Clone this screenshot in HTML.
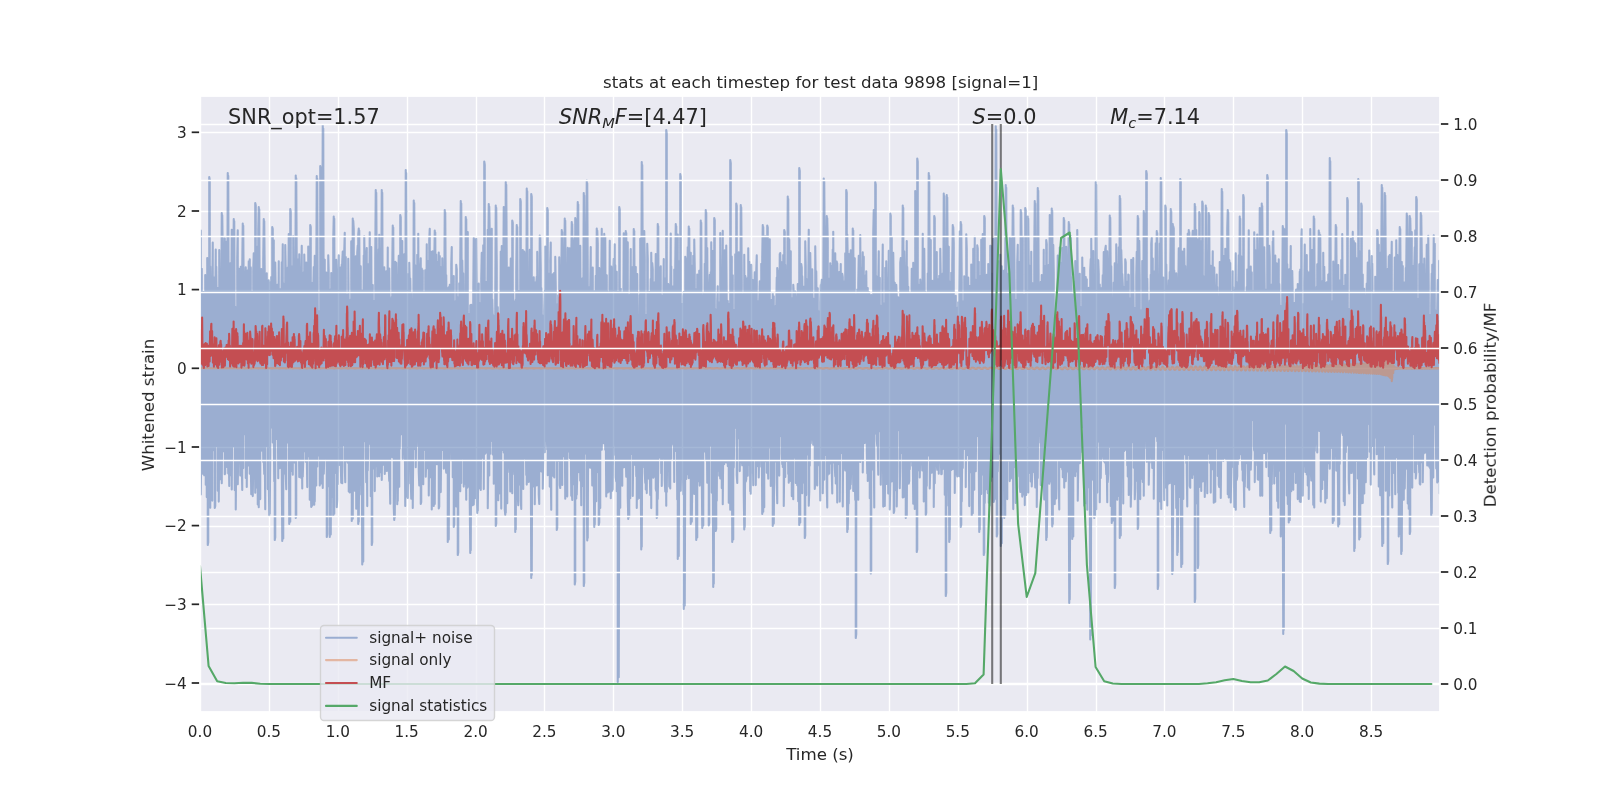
<!DOCTYPE html>
<html><head><meta charset="utf-8"><title>stats</title>
<style>html,body{margin:0;padding:0;background:#fff}svg{display:block}text{font-family:'DejaVu Sans', 'Liberation Sans', sans-serif;fill:#262626}</style></head>
<body>
<svg width="1600" height="800" viewBox="0 0 1600 800">
<defs><filter id="nl" x="-5%" y="-5%" width="110%" height="110%" color-interpolation-filters="sRGB"><feOffset dx="0" dy="0"/></filter><clipPath id="ax"><rect x="200" y="96" width="1240" height="616"/></clipPath></defs>
<rect width="1600" height="800" fill="#fff"/>
<rect x="200" y="96" width="1240" height="616" fill="#eaeaf2"/>
<g stroke="#fff" stroke-width="1.39" clip-path="url(#ax)">
<line x1="200.5" y1="96" x2="200.5" y2="712"/>
<line x1="269.5" y1="96" x2="269.5" y2="712"/>
<line x1="338.5" y1="96" x2="338.5" y2="712"/>
<line x1="407.5" y1="96" x2="407.5" y2="712"/>
<line x1="476.5" y1="96" x2="476.5" y2="712"/>
<line x1="544.5" y1="96" x2="544.5" y2="712"/>
<line x1="613.5" y1="96" x2="613.5" y2="712"/>
<line x1="682.5" y1="96" x2="682.5" y2="712"/>
<line x1="751.5" y1="96" x2="751.5" y2="712"/>
<line x1="820.5" y1="96" x2="820.5" y2="712"/>
<line x1="889.5" y1="96" x2="889.5" y2="712"/>
<line x1="958.5" y1="96" x2="958.5" y2="712"/>
<line x1="1027.5" y1="96" x2="1027.5" y2="712"/>
<line x1="1096.5" y1="96" x2="1096.5" y2="712"/>
<line x1="1164.5" y1="96" x2="1164.5" y2="712"/>
<line x1="1233.5" y1="96" x2="1233.5" y2="712"/>
<line x1="1302.5" y1="96" x2="1302.5" y2="712"/>
<line x1="1371.5" y1="96" x2="1371.5" y2="712"/>
<line x1="200" y1="683.5" x2="1440" y2="683.5"/>
<line x1="200" y1="604.5" x2="1440" y2="604.5"/>
<line x1="200" y1="526.5" x2="1440" y2="526.5"/>
<line x1="200" y1="447.5" x2="1440" y2="447.5"/>
<line x1="200" y1="368.5" x2="1440" y2="368.5"/>
<line x1="200" y1="290.5" x2="1440" y2="290.5"/>
<line x1="200" y1="211.5" x2="1440" y2="211.5"/>
<line x1="200" y1="132.5" x2="1440" y2="132.5"/>
</g>
<g clip-path="url(#ax)" fill="none" stroke-linejoin="round" stroke-linecap="round" stroke-width="2.08">
<path d="M200.25 462L200.25 297L200.75 230.6L200.75 494.4L201.25 451.7L201.25 288.7L201.75 268.8L201.75 474.1L202.25 461.3L202.25 323.7L202.75 296.7L202.75 450L203.25 442.6L203.25 291.9L203.75 336.7L203.75 472.9L204.25 475.3L204.25 332.4L204.75 334.7L204.75 459.8L205.25 424.7L205.25 275.1L205.75 294.7L205.75 484.8L206.25 396.7L206.25 311.8L206.75 309.3L206.75 497.1L207.25 488.3L207.25 258L207.75 285.4L207.75 545L208.25 542.3L208.25 303.5L208.75 275.5L208.75 495.8L209.25 469L209.25 177L209.75 179.9L209.75 461.7L210.25 507.8L210.25 266.5L210.75 351.6L210.75 450L211.25 418.8L211.25 305.8L211.75 288.8L211.75 377.7L212.25 500.6L212.25 290.5L212.75 242.6L212.75 445.7L213.25 433.8L213.25 300L213.75 277.4L213.75 419.5L214.25 450.6L214.25 279.2L214.75 314L214.75 508L215.25 505.9L215.25 302.3L215.75 249.6L215.75 446.7L216.25 399.7L216.25 266.8L216.75 306.1L216.75 432.5L217.25 443.2L217.25 343.2L217.75 328.2L217.75 490.8L218.25 409.3L218.25 287.8L218.75 315.3L218.75 501.6L219.25 440.3L219.25 250.1L219.75 304.4L219.75 475.3L220.25 460.3L220.25 352.8L220.75 291.4L220.75 479.3L221.25 474.8L221.25 330.5L221.75 213L221.75 483.3L222.25 413.3L222.25 215.3L222.75 253.4L222.75 430.2L223.25 451.2L223.25 258.8L223.75 257.7L223.75 425.4L224.25 432.1L224.25 302.8L224.75 238.2L224.75 474.3L225.25 473.3L225.25 314.7L225.75 333.1L225.75 465.9L226.25 467L226.25 267.4L226.75 241.5L226.75 388.6L227.25 431.7L227.25 322.7L227.75 173L227.75 442.4L228.25 473.4L228.25 175.9L228.75 342.7L228.75 442.9L229.25 485.9L229.25 282.1L229.75 291.6L229.75 460L230.25 446.4L230.25 263.3L230.75 280.1L230.75 424.7L231.25 475.7L231.25 306.6L231.75 229.7L231.75 489.4L232.25 398.2L232.25 303.5L232.75 285.9L232.75 446.6L233.25 432.4L233.25 289.6L233.75 219L233.75 431.7L234.25 393.7L234.25 221.2L234.75 342.4L234.75 490.1L235.25 415.4L235.25 306.9L235.75 323.1L235.75 509.5L236.25 451.1L236.25 375.7L236.75 314.1L236.75 481.3L237.25 482.2L237.25 257.7L237.75 230.3L237.75 484.3L238.25 452.5L238.25 277.9L238.75 268.8L238.75 421.1L239.25 462.3L239.25 309.8L239.75 298.7L239.75 365.3L240.25 475.5L240.25 277.9L240.75 266.7L240.75 439.9L241.25 395.1L241.25 272.3L241.75 298.3L241.75 462.5L242.25 490L242.25 265.7L242.75 223.5L242.75 415.9L243.25 468.1L243.25 225.7L243.75 300.9L243.75 403.9L244.25 434.2L244.25 306.7L244.75 286.1L244.75 409.2L245.25 385.1L245.25 287.1L245.75 267.4L245.75 478L246.25 438.7L246.25 312L246.75 335.2L246.75 486.9L247.25 428.4L247.25 277.5L247.75 270.3L247.75 437.8L248.25 465.4L248.25 301.7L248.75 261.2L248.75 442.3L249.25 425.5L249.25 325.1L249.75 259.2L249.75 473.8L250.25 429.2L250.25 307.9L250.75 267.4L250.75 458.9L251.25 494.3L251.25 291.6L251.75 298.4L251.75 430.1L252.25 418.1L252.25 349.8L252.75 316L252.75 496.1L253.25 464.4L253.25 270.1L253.75 253.4L253.75 380.2L254.25 395.7L254.25 339.5L254.75 301.8L254.75 439.4L255.25 492.7L255.25 203L255.75 205.5L255.75 458.9L256.25 401.7L256.25 271.9L256.75 300.4L256.75 445.1L257.25 487.9L257.25 331.4L257.75 246.6L257.75 504.5L258.25 463.6L258.25 229.8L258.75 207L258.75 507.2L259.25 417.2L259.25 209.4L259.75 317.3L259.75 388.8L260.25 499.1L260.25 299.6L260.75 339.8L260.75 422.5L261.25 450.7L261.25 269.1L261.75 312.2L261.75 428.2L262.25 432.7L262.25 369.2L262.75 283.9L262.75 412.2L263.25 462L263.25 259.2L263.75 219L263.75 456.9L264.25 474L264.25 221.2L264.75 277.7L264.75 451.6L265.25 509.3L265.25 296L265.75 320.3L265.75 379.8L266.25 428.5L266.25 296.9L266.75 273.3L266.75 379.7L267.25 446.8L267.25 300.7L267.75 298.7L267.75 489.1L268.25 390.9L268.25 285.8L268.75 280.2L268.75 475.6L269.25 516L269.25 368.7L269.75 326.5L269.75 513.8L270.25 451.7L270.25 301.9L270.75 282.1L270.75 427.9L271.25 399L271.25 277L271.75 312.2L271.75 424.2L272.25 411.9L272.25 227L272.75 229.1L272.75 442.5L273.25 432.4L273.25 319.8L273.75 240.3L273.75 431.4L274.25 481.3L274.25 265L274.75 297.3L274.75 540L275.25 537.4L275.25 262.5L275.75 294.9L275.75 416.4L276.25 367.4L276.25 296.9L276.75 324.2L276.75 438.9L277.25 416.1L277.25 284.8L277.75 291.5L277.75 406.9L278.25 478.3L278.25 342.8L278.75 261.3L278.75 450L279.25 430.2L279.25 313.3L279.75 289.1L279.75 468.3L280.25 442.9L280.25 295.3L280.75 311.8L280.75 431.4L281.25 416L281.25 316.4L281.75 262.3L281.75 466.2L282.25 541L282.25 293.5L282.75 244.3L282.75 494.6L283.25 538.4L283.25 283.2L283.75 310L283.75 416.4L284.25 382.8L284.25 313.3L284.75 325.5L284.75 442.4L285.25 473.9L285.25 245.1L285.75 270.4L285.75 474.7L286.25 489.3L286.25 358.2L286.75 305.1L286.75 417.5L287.25 431.5L287.25 273.3L287.75 267.6L287.75 442.5L288.25 425.8L288.25 295.7L288.75 234L288.75 407.6L289.25 524L289.25 328.3L289.75 262.4L289.75 472.1L290.25 521.7L290.25 209L290.75 211.4L290.75 413.3L291.25 424.5L291.25 290.6L291.75 266.2L291.75 467L292.25 471.5L292.25 315.6L292.75 271L292.75 474.8L293.25 394L293.25 236.4L293.75 306.2L293.75 396.4L294.25 403.8L294.25 337.9L294.75 321.8L294.75 462.5L295.25 462.8L295.25 347.3L295.75 175.5L295.75 518L296.25 515.8L296.25 178.4L296.75 265.8L296.75 386.7L297.25 440.6L297.25 289.4L297.75 268.3L297.75 459.6L298.25 453.7L298.25 259.3L298.75 327L298.75 427.8L299.25 477.1L299.25 254.3L299.75 293.4L299.75 459L300.25 436.1L300.25 322.1L300.75 308.3L300.75 454.5L301.25 477.9L301.25 290.3L301.75 245.7L301.75 440.7L302.25 488.5L302.25 297L302.75 327.5L302.75 476.8L303.25 459.6L303.25 316.1L303.75 272.4L303.75 451.8L304.25 399.5L304.25 254.6L304.75 279.9L304.75 421.7L305.25 440.7L305.25 281.1L305.75 341.8L305.75 461.8L306.25 453.2L306.25 262.5L306.75 315.4L306.75 451L307.25 487.1L307.25 300L307.75 321.3L307.75 456.7L308.25 433L308.25 246.5L308.75 250.5L308.75 440.4L309.25 448.8L309.25 334.5L309.75 296.9L309.75 499.8L310.25 466L310.25 225L310.75 227.1L310.75 478.8L311.25 507L311.25 294L311.75 284.8L311.75 486.6L312.25 505.6L312.25 283.1L312.75 292.8L312.75 396.7L313.25 449.6L313.25 289.3L313.75 267L313.75 442.1L314.25 504.7L314.25 331L314.75 255.8L314.75 501.4L315.25 455.6L315.25 290.2L315.75 301.3L315.75 469.8L316.25 485.5L316.25 291.3L316.75 176L316.75 460.2L317.25 466.5L317.25 178.9L317.75 306.7L317.75 409.1L318.25 455.5L318.25 339.2L318.75 346L318.75 416.7L319.25 432L319.25 311.1L319.75 324.4L319.75 485.5L320.25 449.5L320.25 166L320.75 169L320.75 483.7L321.25 442.1L321.25 356.1L321.75 372.9L321.75 458.3L322.25 384.9L322.25 252.5L322.75 125L322.75 487.9L323.25 399.8L323.25 128.6L323.75 347.4L323.75 473.8L324.25 460L324.25 266.8L324.75 259.7L324.75 456.5L325.25 387.4L325.25 291.2L325.75 325.3L325.75 437.1L326.25 459.3L326.25 272.5L326.75 307.3L326.75 537L327.25 534.5L327.25 301.2L327.75 290.7L327.75 404.6L328.25 486.2L328.25 255.2L328.75 273.2L328.75 433.7L329.25 450L329.25 358.4L329.75 303.7L329.75 537L330.25 465.4L330.25 304L330.75 289.2L330.75 534.5L331.25 435.5L331.25 273.1L331.75 319.9L331.75 481.6L332.25 496.8L332.25 310.5L332.75 307.7L332.75 417.4L333.25 516L333.25 239.6L333.75 216.5L333.75 480.8L334.25 513.8L334.25 218.8L334.75 353.7L334.75 473.3L335.25 396.9L335.25 324.9L335.75 271.7L335.75 465L336.25 421.3L336.25 259.9L336.75 339.8L336.75 507.1L337.25 500L337.25 303.1L337.75 314.5L337.75 484.3L338.25 421.9L338.25 275.7L338.75 255.2L338.75 443.9L339.25 458.8L339.25 357L339.75 338.5L339.75 465L340.25 393.3L340.25 322.9L340.75 267.3L340.75 463.6L341.25 482.7L341.25 294.7L341.75 264.6L341.75 420.2L342.25 483.2L342.25 261.7L342.75 251.6L342.75 395.2L343.25 444.9L343.25 286.6L343.75 303.9L343.75 421.7L344.25 408.7L344.25 251.4L344.75 232.7L344.75 465.4L345.25 482.3L345.25 316.6L345.75 257L345.75 461.4L346.25 461.1L346.25 350.2L346.75 294.5L346.75 447.6L347.25 433L347.25 329.9L347.75 327L347.75 462.8L348.25 459.7L348.25 258.7L348.75 309L348.75 491.4L349.25 432.2L349.25 331L349.75 303.3L349.75 492.4L350.25 486.7L350.25 331.1L350.75 299.6L350.75 453.2L351.25 412.3L351.25 241.4L351.75 292.7L351.75 521L352.25 463.4L352.25 305.7L352.75 218.5L352.75 518.7L353.25 378L353.25 220.7L353.75 229L353.75 427.8L354.25 436.3L354.25 275.7L354.75 368.9L354.75 490.8L355.25 451.5L355.25 260.9L355.75 256.4L355.75 396.4L356.25 508.7L356.25 333.7L356.75 283.7L356.75 429.9L357.25 428.4L357.25 252.5L357.75 245.5L357.75 444.9L358.25 524L358.25 234.6L358.75 228.5L358.75 521.7L359.25 461L359.25 230.6L359.75 307.2L359.75 423L360.25 484.9L360.25 314.8L360.75 266.4L360.75 437.7L361.25 494.4L361.25 309.2L361.75 290.3L361.75 451.1L362.25 564.5L362.25 311.2L362.75 352.2L362.75 469.4L363.25 561.6L363.25 338.3L363.75 255.5L363.75 377.7L364.25 421.5L364.25 236.3L364.75 265.7L364.75 439.2L365.25 441.6L365.25 257.6L365.75 333.7L365.75 448.1L366.25 482.2L366.25 257.9L366.75 248L366.75 436.7L367.25 506.1L367.25 297.6L367.75 264L367.75 470.5L368.25 442.8L368.25 267L368.75 301.7L368.75 440.1L369.25 435.4L369.25 294.7L369.75 232.2L369.75 443.8L370.25 392.7L370.25 309.8L370.75 296.5L370.75 496.2L371.25 419.4L371.25 247.1L371.75 336.9L371.75 545L372.25 542.3L372.25 302.9L372.75 285.1L372.75 405.1L373.25 447.2L373.25 304.8L373.75 304.3L373.75 468.4L374.25 447.8L374.25 300.9L374.75 328.6L374.75 491.1L375.25 421.6L375.25 258.9L375.75 190L375.75 466.2L376.25 444.8L376.25 192.7L376.75 275.7L376.75 400.6L377.25 476.4L377.25 257.5L377.75 307.5L377.75 432L378.25 425.4L378.25 300.8L378.75 249.4L378.75 419.9L379.25 476.2L379.25 234.7L379.75 308.2L379.75 410.8L380.25 472.3L380.25 322.3L380.75 308.2L380.75 407.8L381.25 447.6L381.25 285.8L381.75 190L381.75 479.9L382.25 435.8L382.25 192.7L382.75 326.4L382.75 465L383.25 418.7L383.25 273.9L383.75 283.4L383.75 412.6L384.25 367.4L384.25 267.3L384.75 318.3L384.75 474L385.25 455.9L385.25 344.9L385.75 301.8L385.75 431.9L386.25 465.4L386.25 271.3L386.75 292.1L386.75 471L387.25 470L387.25 336.3L387.75 247.5L387.75 462.4L388.25 453.5L388.25 277.1L388.75 372.9L388.75 467.4L389.25 480.9L389.25 268.5L389.75 310.5L389.75 475.7L390.25 503.7L390.25 340.1L390.75 342.7L390.75 412.5L391.25 409.6L391.25 313.1L391.75 297L391.75 452.9L392.25 457.1L392.25 268.4L392.75 225.5L392.75 445.6L393.25 403.8L393.25 227.6L393.75 329.2L393.75 507.1L394.25 520L394.25 306.9L394.75 352.7L394.75 517.7L395.25 467.5L395.25 261.9L395.75 292.4L395.75 421.7L396.25 479.5L396.25 262.7L396.75 328L396.75 424.1L397.25 504.3L397.25 333.5L397.75 312.1L397.75 501L398.25 449.7L398.25 284.9L398.75 255.9L398.75 464.8L399.25 486.7L399.25 352.6L399.75 261.1L399.75 448.7L400.25 404.5L400.25 215L400.75 217.3L400.75 434.5L401.25 400.9L401.25 263.6L401.75 307.2L401.75 427.3L402.25 390.8L402.25 241.1L402.75 351L402.75 458.9L403.25 438.8L403.25 295.3L403.75 276.7L403.75 451.3L404.25 450.3L404.25 254.2L404.75 263.7L404.75 420.2L405.25 506L405.25 356.8L405.75 170L405.75 466.5L406.25 437.1L406.25 173L406.75 295.7L406.75 422.3L407.25 496.9L407.25 305.8L407.75 313L407.75 498L408.25 452L408.25 274.1L408.75 309.4L408.75 447L409.25 438.6L409.25 262.7L409.75 283.3L409.75 409.9L410.25 483.5L410.25 278.6L410.75 309.2L410.75 480.3L411.25 498.8L411.25 293.4L411.75 354.3L411.75 420.2L412.25 465.6L412.25 307L412.75 307.2L412.75 508L413.25 446L413.25 340.7L413.75 200.5L413.75 438.4L414.25 431L414.25 203L414.75 313L414.75 426.5L415.25 449.5L415.25 265.3L415.75 339.9L415.75 467.3L416.25 428.4L416.25 284.7L416.75 266.6L416.75 423.8L417.25 439L417.25 254.9L417.75 264.2L417.75 418.2L418.25 446.5L418.25 233.8L418.75 322L418.75 470.9L419.25 485.5L419.25 274.1L419.75 298.3L419.75 484.4L420.25 481.3L420.25 271.5L420.75 258.3L420.75 504L421.25 502L421.25 310.5L421.75 268.5L421.75 453.3L422.25 444.4L422.25 271.2L422.75 270.3L422.75 454.1L423.25 484.3L423.25 327L423.75 331.2L423.75 450.3L424.25 426.4L424.25 292.3L424.75 308.9L424.75 428L425.25 424.8L425.25 270.2L425.75 278.5L425.75 476.7L426.25 459.8L426.25 335.3L426.75 244.2L426.75 467.4L427.25 468.2L427.25 320L427.75 260.7L427.75 434.7L428.25 452.5L428.25 303.7L428.75 305.4L428.75 495.5L429.25 449.3L429.25 239.8L429.75 228.8L429.75 464.3L430.25 477.2L430.25 286.2L430.75 328.9L430.75 438.2L431.25 441.9L431.25 251.9L431.75 316.4L431.75 509.5L432.25 438.8L432.25 328.4L432.75 251.3L432.75 475.4L433.25 466.4L433.25 329.3L433.75 252.6L433.75 506L434.25 413.1L434.25 263.8L434.75 230.5L434.75 503.9L435.25 384.7L435.25 232.6L435.75 321.5L435.75 442.2L436.25 390.3L436.25 254.6L436.75 296.1L436.75 464.3L437.25 457.6L437.25 261.9L437.75 327.7L437.75 444.8L438.25 452.2L438.25 314.8L438.75 252.6L438.75 508.5L439.25 506.4L439.25 299.9L439.75 256.1L439.75 483.4L440.25 431.9L440.25 266.7L440.75 349.4L440.75 492.1L441.25 436.2L441.25 316.9L441.75 276.4L441.75 421.3L442.25 444.5L442.25 258.4L442.75 306L442.75 449.9L443.25 447.6L443.25 297.6L443.75 309.9L443.75 468.6L444.25 417.6L444.25 298.5L444.75 210L444.75 403.5L445.25 424.1L445.25 212.4L445.75 286.8L445.75 467.4L446.25 472.7L446.25 275.3L446.75 352.1L446.75 438.2L447.25 459.9L447.25 288.3L447.75 288.3L447.75 542L448.25 502.9L448.25 293.6L448.75 287.2L448.75 539.4L449.25 408.3L449.25 321.8L449.75 284.9L449.75 433.5L450.25 449.9L450.25 331.1L450.75 335.2L450.75 408.4L451.25 460.1L451.25 264.1L451.75 247.1L451.75 416.4L452.25 442.1L452.25 337.1L452.75 286.8L452.75 477.3L453.25 464.6L453.25 325L453.75 276L453.75 527L454.25 524.6L454.25 325.8L454.75 337L454.75 430.8L455.25 440.9L455.25 302.3L455.75 301.2L455.75 469.8L456.25 506.5L456.25 264.8L456.75 269.4L456.75 454.4L457.25 477L457.25 297.1L457.75 334.3L457.75 555L458.25 552.2L458.25 342.4L458.75 301.5L458.75 407.2L459.25 485.9L459.25 283.2L459.75 366.5L459.75 462L460.25 491.2L460.25 264.2L460.75 201L460.75 419.3L461.25 482.9L461.25 203.5L461.75 291.8L461.75 452.8L462.25 435.7L462.25 260.5L462.75 289L462.75 458.7L463.25 448.2L463.25 273.4L463.75 340.4L463.75 486.6L464.25 413.3L464.25 305.4L464.75 303.2L464.75 412.1L465.25 483.8L465.25 365.2L465.75 217L465.75 429.1L466.25 499.8L466.25 219.3L466.75 325.2L466.75 413.1L467.25 487.8L467.25 305.4L467.75 232L467.75 472.4L468.25 486.5L468.25 348.4L468.75 313.9L468.75 482.1L469.25 466.1L469.25 327.3L469.75 324.6L469.75 500.5L470.25 553L470.25 305.2L470.75 307.8L470.75 550.2L471.25 422.8L471.25 304.8L471.75 312.2L471.75 467L472.25 449.6L472.25 366.9L472.75 331L472.75 505.2L473.25 497.6L473.25 294.7L473.75 238L473.75 504.4L474.25 473.9L474.25 239.3L474.75 317.1L474.75 445.2L475.25 469.8L475.25 293.4L475.75 272.6L475.75 498.1L476.25 469L476.25 238.8L476.75 291.9L476.75 492.3L477.25 513L477.25 296.5L477.75 336L477.75 510.8L478.25 476.8L478.25 339.1L478.75 283.5L478.75 487.9L479.25 488.1L479.25 302.8L479.75 323.1L479.75 429.8L480.25 452.3L480.25 318.1L480.75 313.9L480.75 489.9L481.25 434.8L481.25 278.4L481.75 252.9L481.75 434.4L482.25 457.8L482.25 283.8L482.75 254.5L482.75 444.8L483.25 452.6L483.25 245.3L483.75 362L483.75 489.1L484.25 376.5L484.25 161.5L484.75 164.6L484.75 408L485.25 453.6L485.25 299.5L485.75 281.8L485.75 449.5L486.25 411.1L486.25 314.5L486.75 326.1L486.75 439.4L487.25 452.9L487.25 315.1L487.75 229.9L487.75 508.2L488.25 470.8L488.25 252L488.75 204L488.75 410L489.25 475.4L489.25 206.5L489.75 234.3L489.75 413.2L490.25 453.8L490.25 325.5L490.75 288.8L490.75 408.5L491.25 412.1L491.25 286.6L491.75 228.7L491.75 401.7L492.25 441.3L492.25 299.5L492.75 317.3L492.75 454.4L493.25 433.3L493.25 338.2L493.75 315.7L493.75 483.7L494.25 422.8L494.25 341.3L494.75 364.3L494.75 469.1L495.25 434.7L495.25 303.9L495.75 205.5L495.75 526L496.25 523.6L496.25 207.9L496.75 265.3L496.75 481.4L497.25 483.2L497.25 307L497.75 307.2L497.75 455.2L498.25 500.3L498.25 339.7L498.75 345.4L498.75 485.1L499.25 493.4L499.25 324.3L499.75 320.4L499.75 442.9L500.25 475.1L500.25 359.2L500.75 251.6L500.75 433.3L501.25 508.6L501.25 314.5L501.75 246L501.75 379.6L502.25 418.4L502.25 280.6L502.75 302.4L502.75 449.9L503.25 421.8L503.25 280.2L503.75 207L503.75 452.5L504.25 417.4L504.25 209.4L504.75 301.2L504.75 509.3L505.25 515L505.25 308.8L505.75 182L505.75 512.8L506.25 413.5L506.25 184.8L506.75 263.4L506.75 479.5L507.25 503.2L507.25 357.4L507.75 288.5L507.75 472.2L508.25 461.6L508.25 270.6L508.75 267.5L508.75 446.8L509.25 388.6L509.25 286.9L509.75 278.7L509.75 436.2L510.25 491.4L510.25 322.6L510.75 258.5L510.75 404.5L511.25 401.3L511.25 258.5L511.75 338.9L511.75 465.2L512.25 493.3L512.25 220.5L512.75 222.7L512.75 474.5L513.25 462.4L513.25 292.4L513.75 350.3L513.75 425.1L514.25 433L514.25 308.1L514.75 301.9L514.75 422.4L515.25 532L515.25 337.2L515.75 299.9L515.75 529.5L516.25 433L516.25 272.6L516.75 225L516.75 461.8L517.25 445L517.25 227.1L517.75 318.2L517.75 495.4L518.25 505.2L518.25 292.2L518.75 311L518.75 478L519.25 483.4L519.25 290.7L519.75 333.9L519.75 442.5L520.25 484.9L520.25 199L520.75 201.5L520.75 500.5L521.25 508.9L521.25 367.3L521.75 284.3L521.75 477.9L522.25 459.8L522.25 280.2L522.75 250.1L522.75 396.6L523.25 488.9L523.25 286.7L523.75 262.9L523.75 456.2L524.25 370.1L524.25 251.6L524.75 255.8L524.75 458.6L525.25 449.9L525.25 283.9L525.75 272.7L525.75 438.3L526.25 475.1L526.25 338.5L526.75 188.5L526.75 484.6L527.25 436.1L527.25 191.2L527.75 336.1L527.75 446.2L528.25 451.9L528.25 306.2L528.75 274.4L528.75 481.9L529.25 472L529.25 334L529.75 249.9L529.75 463.4L530.25 476L530.25 351.1L530.75 328.2L530.75 452.5L531.25 578L531.25 194L531.75 196.6L531.75 574.9L532.25 435.8L532.25 322.5L532.75 293.7L532.75 486.8L533.25 478.9L533.25 348.7L533.75 277.4L533.75 473.4L534.25 439.1L534.25 317.7L534.75 282.4L534.75 504.3L535.25 441.2L535.25 324.3L535.75 308.3L535.75 470.8L536.25 408.6L536.25 283.5L536.75 276.8L536.75 485.5L537.25 422.5L537.25 251.9L537.75 307L537.75 450.9L538.25 421.7L538.25 320.6L538.75 333.6L538.75 494.2L539.25 504L539.25 353.3L539.75 235.5L539.75 419.6L540.25 439.2L540.25 236.7L540.75 269.2L540.75 455.6L541.25 471.5L541.25 288L541.75 294.4L541.75 444.8L542.25 391.1L542.25 315.3L542.75 369.4L542.75 488.7L543.25 460.1L543.25 332.2L543.75 340.3L543.75 451.5L544.25 439.6L544.25 311L544.75 290.8L544.75 452.2L545.25 397.5L545.25 246.6L545.75 277.2L545.75 440.5L546.25 440.4L546.25 287.7L546.75 320.2L546.75 434.9L547.25 449.5L547.25 208L547.75 210.4L547.75 475.2L548.25 451.8L548.25 310.8L548.75 301.6L548.75 470.9L549.25 468L549.25 273.6L549.75 289.7L549.75 486.6L550.25 464.7L550.25 261L550.75 242.5L550.75 473.2L551.25 509.8L551.25 324.3L551.75 339.6L551.75 429.4L552.25 456.6L552.25 281.7L552.75 274.3L552.75 417.7L553.25 475.9L553.25 343.3L553.75 304.3L553.75 431.6L554.25 477.4L554.25 272.8L554.75 312.6L554.75 450.2L555.25 455.4L555.25 256.9L555.75 287.1L555.75 431L556.25 460.7L556.25 319.6L556.75 347.5L556.75 530L557.25 527.6L557.25 311.2L557.75 304L557.75 460.6L558.25 402.1L558.25 295.3L558.75 334.3L558.75 449.1L559.25 461.3L559.25 257.2L559.75 311L559.75 485L560.25 488L560.25 292.4L560.75 288.4L560.75 466.9L561.25 470.3L561.25 282.9L561.75 230L561.75 370.9L562.25 485L562.25 232.1L562.75 300.2L562.75 413.6L563.25 429.4L563.25 249.6L563.75 284.4L563.75 415.1L564.25 456.4L564.25 268L564.75 218.5L564.75 426.4L565.25 498.7L565.25 220.7L565.75 286.9L565.75 430.8L566.25 491.1L566.25 281.3L566.75 359.1L566.75 483.7L567.25 496.4L567.25 352L567.75 247.9L567.75 451.8L568.25 449.2L568.25 259L568.75 317.1L568.75 431.9L569.25 411.9L569.25 259.7L569.75 248.2L569.75 457.9L570.25 422.3L570.25 326.5L570.75 320.8L570.75 438.4L571.25 495.7L571.25 261.1L571.75 222L571.75 488.9L572.25 500L572.25 224.2L572.75 272.2L572.75 484.7L573.25 477.5L573.25 301L573.75 316.1L573.75 483.9L574.25 450.6L574.25 243.4L574.75 237.7L574.75 584.5L575.25 581.3L575.25 218L575.75 220.3L575.75 487.2L576.25 498.4L576.25 351.2L576.75 300.5L576.75 494.7L577.25 474.5L577.25 249.2L577.75 202L577.75 417L578.25 413.1L578.25 204.5L578.75 335.7L578.75 472.1L579.25 433.4L579.25 279.1L579.75 271.5L579.75 415.9L580.25 480.6L580.25 245.9L580.75 327.8L580.75 440.8L581.25 505.3L581.25 344.8L581.75 331.9L581.75 486.5L582.25 406.9L582.25 278.6L582.75 280.6L582.75 416.7L583.25 476.3L583.25 317.9L583.75 193L583.75 586L584.25 582.7L584.25 195.6L584.75 271.6L584.75 436.4L585.25 392.5L585.25 255.3L585.75 256.6L585.75 413.4L586.25 453.9L586.25 281.8L586.75 180.5L586.75 492.7L587.25 540.5L587.25 183.3L587.75 274.1L587.75 537.9L588.25 409.7L588.25 318.9L588.75 322.8L588.75 411.8L589.25 446.2L589.25 287.1L589.75 303.3L589.75 466.3L590.25 467.8L590.25 286.9L590.75 247L590.75 376.8L591.25 452.7L591.25 308.9L591.75 291.4L591.75 432.5L592.25 485.5L592.25 326.7L592.75 267.5L592.75 441.7L593.25 480.4L593.25 322.1L593.75 320.1L593.75 476.3L594.25 527L594.25 291.3L594.75 320.9L594.75 524.6L595.25 470.2L595.25 350.7L595.75 275.7L595.75 443L596.25 501.3L596.25 329.9L596.75 228.5L596.75 453.8L597.25 472.1L597.25 230.6L597.75 243.6L597.75 469.9L598.25 422.6L598.25 291.7L598.75 309.2L598.75 525L599.25 522.6L599.25 268L599.75 291L599.75 423.3L600.25 507.9L600.25 309.6L600.75 286.3L600.75 434.8L601.25 408.6L601.25 280.4L601.75 228.9L601.75 449.8L602.25 414.3L602.25 236.5L602.75 325.5L602.75 435.4L603.25 417.9L603.25 322.6L603.75 321.7L603.75 443.2L604.25 405.7L604.25 233.9L604.75 281.4L604.75 420.9L605.25 449.8L605.25 237L605.75 349.8L605.75 425.1L606.25 496.5L606.25 287.4L606.75 275.3L606.75 416.4L607.25 425.4L607.25 291L607.75 360.7L607.75 492.5L608.25 449.3L608.25 293.3L608.75 306.1L608.75 439.8L609.25 491.4L609.25 330.1L609.75 240.7L609.75 362L610.25 438.1L610.25 301.7L610.75 304L610.75 498.3L611.25 452.7L611.25 266.5L611.75 290L611.75 486.1L612.25 490.7L612.25 295.9L612.75 276.1L612.75 489.5L613.25 421.3L613.25 271.3L613.75 258.8L613.75 443.9L614.25 397.9L614.25 302.4L614.75 244.2L614.75 384.5L615.25 455.1L615.25 265.4L615.75 351L615.75 476.9L616.25 481.4L616.25 295.7L616.75 271.8L616.75 491.3L617.25 444.5L617.25 328.5L617.75 293.2L617.75 682L618.25 452L618.25 291.7L618.75 349.9L618.75 677.3L619.25 442.6L619.25 207L619.75 209.4L619.75 491L620.25 507.8L620.25 372.1L620.75 288.8L620.75 444.5L621.25 424.8L621.25 304.9L621.75 301.4L621.75 448.9L622.25 485.8L622.25 368.8L622.75 292.5L622.75 422.9L623.25 467.4L623.25 330.2L623.75 233.2L623.75 437.1L624.25 467.1L624.25 303.1L624.75 258.4L624.75 446.8L625.25 426.3L625.25 311.4L625.75 231L625.75 455.6L626.25 476.7L626.25 233.1L626.75 279.5L626.75 439.1L627.25 461L627.25 324.4L627.75 242.4L627.75 495.4L628.25 519L628.25 357.8L628.75 348.1L628.75 418.4L629.25 516.7L629.25 312.6L629.75 294.7L629.75 468.4L630.25 498.2L630.25 311L630.75 249.1L630.75 443.8L631.25 454L631.25 324.3L631.75 299.8L631.75 445.8L632.25 433L632.25 267.2L632.75 295.4L632.75 496L633.25 454.2L633.25 314.3L633.75 229L633.75 457.3L634.25 427.2L634.25 231.1L634.75 321.7L634.75 464.8L635.25 441.7L635.25 269.1L635.75 267L635.75 433.2L636.25 476.2L636.25 328L636.75 340.9L636.75 507.9L637.25 447.9L637.25 274.1L637.75 348.2L637.75 499.1L638.25 433.6L638.25 319.4L638.75 349.8L638.75 460.4L639.25 441.5L639.25 368.7L639.75 295.1L639.75 497.9L640.25 487.8L640.25 238.8L640.75 309.4L640.75 480.2L641.25 549.5L641.25 325.7L641.75 162L641.75 546.8L642.25 438.4L642.25 165.1L642.75 270.5L642.75 438.3L643.25 430.5L643.25 278.7L643.75 321.1L643.75 410.1L644.25 467.4L644.25 231L644.75 257.2L644.75 471.9L645.25 483L645.25 342.7L645.75 322.2L645.75 489.4L646.25 472.7L646.25 314.7L646.75 329.7L646.75 493.1L647.25 425.6L647.25 243.8L647.75 258.6L647.75 472.1L648.25 427.4L648.25 298.8L648.75 295.6L648.75 478.6L649.25 424L649.25 346.5L649.75 291.7L649.75 472.4L650.25 495L650.25 310.5L650.75 279L650.75 386L651.25 508.1L651.25 252.7L651.75 293.9L651.75 416.7L652.25 433.1L652.25 263.1L652.75 269L652.75 334.7L653.25 477.7L653.25 329.5L653.75 318L653.75 430.2L654.25 444.5L654.25 282.5L654.75 351.9L654.75 476.6L655.25 412.5L655.25 313.4L655.75 254.1L655.75 488.7L656.25 490.9L656.25 262.1L656.75 268.2L656.75 518L657.25 515.8L657.25 309.8L657.75 224L657.75 499.1L658.25 466.7L658.25 226.2L658.75 333.4L658.75 432.3L659.25 457.6L659.25 308.2L659.75 340.2L659.75 430.1L660.25 435L660.25 268.3L660.75 266.3L660.75 421.2L661.25 473.2L661.25 295.3L661.75 332.6L661.75 485.9L662.25 426.9L662.25 316.2L662.75 322.2L662.75 458.7L663.25 411.4L663.25 301.9L663.75 259.1L663.75 412.5L664.25 459.5L664.25 297.1L664.75 308.7L664.75 480.4L665.25 491.4L665.25 278.4L665.75 308.1L665.75 397.2L666.25 505.8L666.25 130L666.75 133.6L666.75 492L667.25 447.3L667.25 310.1L667.75 312.2L667.75 470.4L668.25 462.4L668.25 284.1L668.75 302.3L668.75 439.7L669.25 486.6L669.25 296.3L669.75 331.8L669.75 439L670.25 488.5L670.25 301.2L670.75 233.6L670.75 423L671.25 458.8L671.25 266.5L671.75 373L671.75 444.9L672.25 441.4L672.25 330.6L672.75 359.2L672.75 411.6L673.25 426.1L673.25 286.3L673.75 316.2L673.75 410.1L674.25 481.9L674.25 269.6L674.75 287.1L674.75 399.2L675.25 450.2L675.25 265.7L675.75 224L675.75 392.9L676.25 451.2L676.25 226.2L676.75 318.9L676.75 418.2L677.25 499.4L677.25 295.5L677.75 234.5L677.75 559L678.25 478L678.25 286.8L678.75 261L678.75 556.1L679.25 435.3L679.25 300L679.75 264.8L679.75 384L680.25 486.6L680.25 174L680.75 176.9L680.75 490.8L681.25 456.9L681.25 375.7L681.75 359.5L681.75 436.8L682.25 449.1L682.25 303.9L682.75 311.2L682.75 462.7L683.25 494.4L683.25 296.1L683.75 291.8L683.75 609L684.25 426.7L684.25 332.2L684.75 335.3L684.75 605.4L685.25 458.7L685.25 256.7L685.75 260.1L685.75 439.6L686.25 478.9L686.25 315.6L686.75 276.5L686.75 465.1L687.25 474.2L687.25 292.8L687.75 247.2L687.75 446.5L688.25 457L688.25 277.9L688.75 226.5L688.75 478.1L689.25 475.6L689.25 228.6L689.75 314.6L689.75 431.6L690.25 433.4L690.25 278.6L690.75 252.8L690.75 524L691.25 498.8L691.25 314.1L691.75 265.5L691.75 521.7L692.25 485.4L692.25 283L692.75 298.3L692.75 460.1L693.25 480.1L693.25 255.9L693.75 270.8L693.75 454.6L694.25 493.9L694.25 239.5L694.75 268.2L694.75 436.1L695.25 417.2L695.25 295.3L695.75 289.2L695.75 403.8L696.25 540L696.25 290.7L696.75 298.9L696.75 497.5L697.25 537.4L697.25 274.5L697.75 310.7L697.75 458.4L698.25 467.9L698.25 308L698.75 333.9L698.75 481.3L699.25 440.7L699.25 270.8L699.75 301.8L699.75 485.6L700.25 432.1L700.25 355.2L700.75 220.5L700.75 440.6L701.25 404.7L701.25 222.7L701.75 332.5L701.75 465.8L702.25 528L702.25 295.9L702.75 304L702.75 502.4L703.25 525.6L703.25 312.8L703.75 293.2L703.75 434.8L704.25 451.4L704.25 345.2L704.75 263.7L704.75 424.9L705.25 450.9L705.25 295.9L705.75 210L705.75 439.5L706.25 460.5L706.25 212.4L706.75 310.2L706.75 420.4L707.25 482.8L707.25 248L707.75 340.4L707.75 426.6L708.25 432.9L708.25 305.7L708.75 346.6L708.75 525.5L709.25 523.1L709.25 291.8L709.75 274.8L709.75 417.2L710.25 445.6L710.25 296.8L710.75 272.3L710.75 378.3L711.25 391.5L711.25 242.4L711.75 327.9L711.75 492.6L712.25 465.5L712.25 352L712.75 283.2L712.75 452L713.25 587L713.25 250.8L713.75 266.4L713.75 583.7L714.25 433.7L714.25 218L714.75 220.3L714.75 427.2L715.25 451.3L715.25 309.1L715.75 310.9L715.75 531L716.25 528.6L716.25 309.5L716.75 320.3L716.75 500.7L717.25 418.4L717.25 301.1L717.75 286.2L717.75 470.8L718.25 452.6L718.25 309L718.75 307.1L718.75 407.4L719.25 475.8L719.25 302.2L719.75 339.5L719.75 441.5L720.25 478.4L720.25 233.1L720.75 361.6L720.75 448.8L721.25 462.2L721.25 330.9L721.75 297.6L721.75 488.1L722.25 465.3L722.25 297L722.75 230.9L722.75 504.3L723.25 442.7L723.25 356.7L723.75 266.6L723.75 439.9L724.25 464.1L724.25 291.7L724.75 250.2L724.75 438.5L725.25 447.8L725.25 255.6L725.75 352.8L725.75 423L726.25 462.4L726.25 245.6L726.75 305.2L726.75 445.5L727.25 438.6L727.25 313.7L727.75 301.1L727.75 466.1L728.25 427L728.25 313.9L728.75 304L728.75 502.8L729.25 459.4L729.25 327.6L729.75 308.5L729.75 444.4L730.25 509.7L730.25 160L730.75 163.1L730.75 406.9L731.25 485.1L731.25 310.2L731.75 256.5L731.75 415.9L732.25 542L732.25 318.4L732.75 275.2L732.75 496.1L733.25 539.4L733.25 316.1L733.75 315.4L733.75 467.6L734.25 434.9L734.25 309.8L734.75 334.1L734.75 428.1L735.25 422L735.25 254.2L735.75 276.5L735.75 402.7L736.25 423.3L736.25 203.5L736.75 206L736.75 475.1L737.25 482.9L737.25 308.3L737.75 295.1L737.75 400.6L738.25 438.2L738.25 277.6L738.75 252.2L738.75 402.6L739.25 414.5L739.25 316.4L739.75 309.4L739.75 471.1L740.25 437.5L740.25 362.5L740.75 205L740.75 397.9L741.25 445.9L741.25 207.4L741.75 280L741.75 459.8L742.25 465.3L742.25 325.2L742.75 313.1L742.75 416.4L743.25 438.4L743.25 326.2L743.75 293.9L743.75 492.5L744.25 529.5L744.25 254.8L744.75 333.5L744.75 527.1L745.25 449.7L745.25 275.9L745.75 278.4L745.75 481.5L746.25 479L746.25 327.1L746.75 312.2L746.75 452.6L747.25 453L747.25 329.1L747.75 278.1L747.75 475.8L748.25 400.7L748.25 248.3L748.75 322.5L748.75 464.6L749.25 457.6L749.25 261.7L749.75 283.6L749.75 416.1L750.25 491.3L750.25 278.8L750.75 350.5L750.75 493.8L751.25 425.1L751.25 264.9L751.75 291L751.75 428.1L752.25 472.5L752.25 286.2L752.75 280.1L752.75 450.9L753.25 485.2L753.25 340L753.75 294.5L753.75 392.6L754.25 449.4L754.25 297.9L754.75 272.4L754.75 443.1L755.25 459.8L755.25 274.1L755.75 287.7L755.75 485.1L756.25 451.8L756.25 270.9L756.75 255.4L756.75 406.9L757.25 466.1L757.25 326.2L757.75 316.6L757.75 433.5L758.25 416.5L758.25 301.1L758.75 303.9L758.75 477.5L759.25 444.9L759.25 299.3L759.75 281.3L759.75 419.9L760.25 425.3L760.25 292.6L760.75 362.2L760.75 448L761.25 466.6L761.25 263.9L761.75 264.1L761.75 434.3L762.25 514L762.25 257.3L762.75 225L762.75 418.8L763.25 511.8L763.25 227.1L763.75 297.8L763.75 429.3L764.25 507.2L764.25 306.8L764.75 344.6L764.75 461.7L765.25 449.2L765.25 236.3L765.75 253L765.75 377L766.25 442.3L766.25 251.4L766.75 312.5L766.75 472.7L767.25 460.5L767.25 225.5L767.75 227.6L767.75 463.9L768.25 478.6L768.25 313.6L768.75 312.1L768.75 423.4L769.25 447.4L769.25 261.1L769.75 239.3L769.75 409.4L770.25 428.8L770.25 305.4L770.75 314.3L770.75 486L771.25 416.9L771.25 306.2L771.75 299.8L771.75 480.6L772.25 411L772.25 321.2L772.75 293.5L772.75 526L773.25 458.1L773.25 343.1L773.75 296.2L773.75 523.6L774.25 468.6L774.25 323.5L774.75 321.9L774.75 425.8L775.25 455.1L775.25 335.5L775.75 305.9L775.75 461.4L776.25 447.2L776.25 307.2L776.75 277.5L776.75 482L777.25 503.2L777.25 268L777.75 273.2L777.75 466.6L778.25 444.6L778.25 281L778.75 270.7L778.75 396.4L779.25 475.6L779.25 341.4L779.75 254.1L779.75 436.6L780.25 411.8L780.25 253L780.75 279.6L780.75 398.6L781.25 417.9L781.25 295.1L781.75 262.2L781.75 453.1L782.25 464.1L782.25 342.2L782.75 376.4L782.75 466.9L783.25 456.5L783.25 255.1L783.75 298L783.75 505.9L784.25 467.3L784.25 230L784.75 232.1L784.75 465.9L785.25 476.9L785.25 264.9L785.75 325.8L785.75 443.4L786.25 461.2L786.25 296.3L786.75 287.1L786.75 437.1L787.25 428.5L787.25 297.1L787.75 196.5L787.75 418.9L788.25 474L788.25 199.1L788.75 317.8L788.75 482.8L789.25 423.2L789.25 239.4L789.75 288.5L789.75 443.6L790.25 445.4L790.25 322.3L790.75 251.2L790.75 481L791.25 462.7L791.25 313L791.75 298.1L791.75 496.1L792.25 450.4L792.25 333.1L792.75 310.3L792.75 436.4L793.25 499.2L793.25 284.9L793.75 292.1L793.75 458.1L794.25 423.7L794.25 308.1L794.75 315.8L794.75 452.5L795.25 448.4L795.25 291.3L795.75 302.8L795.75 482.9L796.25 443.8L796.25 329.5L796.75 312.7L796.75 471.5L797.25 485.1L797.25 320.1L797.75 284L797.75 415.6L798.25 501.3L798.25 288.4L798.75 343.5L798.75 442.4L799.25 525L799.25 168L799.75 171L799.75 507.5L800.25 522.6L800.25 296.5L800.75 322.1L800.75 460.3L801.25 435.4L801.25 264.1L801.75 267.7L801.75 441.2L802.25 493.2L802.25 276.4L802.75 309L802.75 389L803.25 479.8L803.25 319.9L803.75 299.5L803.75 482.6L804.25 435L804.25 286.6L804.75 320.8L804.75 538L805.25 535.5L805.25 241.4L805.75 265.7L805.75 476.2L806.25 495.1L806.25 278.8L806.75 323L806.75 447.6L807.25 454.4L807.25 327.8L807.75 332L807.75 452.5L808.25 432.4L808.25 287.2L808.75 229.7L808.75 505.7L809.25 491.5L809.25 274.6L809.75 305.3L809.75 465.8L810.25 408L810.25 253.1L810.75 285.6L810.75 443.3L811.25 432.3L811.25 308.8L811.75 334.9L811.75 439.4L812.25 429.8L812.25 269.4L812.75 321.8L812.75 429.5L813.25 444.8L813.25 298.6L813.75 321L813.75 419.4L814.25 433.5L814.25 312.2L814.75 327.7L814.75 489L815.25 483.6L815.25 246.4L815.75 286.8L815.75 461.3L816.25 479.6L816.25 271.4L816.75 318.2L816.75 451.5L817.25 485.4L817.25 331.8L817.75 288.2L817.75 465.7L818.25 417.5L818.25 311L818.75 357L818.75 432.1L819.25 455.8L819.25 324.6L819.75 319L819.75 453.4L820.25 500.5L820.25 302.7L820.75 285.1L820.75 450.9L821.25 429.3L821.25 284.6L821.75 279.9L821.75 420.9L822.25 460.2L822.25 306.3L822.75 294.8L822.75 493.2L823.25 457.6L823.25 301.9L823.75 178.5L823.75 379.7L824.25 479.6L824.25 181.3L824.75 259.6L824.75 449.2L825.25 454.9L825.25 309.6L825.75 252.4L825.75 449L826.25 396.8L826.25 263.6L826.75 216L826.75 486.3L827.25 507.4L827.25 218.3L827.75 241L827.75 475L828.25 391.5L828.25 298.9L828.75 298.2L828.75 435.9L829.25 473.6L829.25 278.5L829.75 286.9L829.75 435.1L830.25 399.2L830.25 263.3L830.75 319.4L830.75 463.5L831.25 412.5L831.25 265.8L831.75 307.7L831.75 469.4L832.25 493.4L832.25 320.8L832.75 249.5L832.75 445.7L833.25 393.2L833.25 231.8L833.75 335.5L833.75 461.7L834.25 462.7L834.25 269.7L834.75 323.7L834.75 466.1L835.25 476.4L835.25 253.4L835.75 355.2L835.75 483.4L836.25 382.8L836.25 281.2L836.75 261.6L836.75 427.9L837.25 502.4L837.25 263.2L837.75 299.9L837.75 464.5L838.25 423.2L838.25 279.8L838.75 310.6L838.75 443.5L839.25 391.8L839.25 272L839.75 324.5L839.75 501.6L840.25 433.5L840.25 295.3L840.75 264L840.75 442.9L841.25 451.9L841.25 372.1L841.75 331.3L841.75 453.1L842.25 393.7L842.25 273.8L842.75 277.1L842.75 506.4L843.25 437.3L843.25 293.8L843.75 288.9L843.75 459.8L844.25 468.5L844.25 281.2L844.75 293.4L844.75 455.5L845.25 470.4L845.25 253.2L845.75 274.7L845.75 436.4L846.25 400.6L846.25 190L846.75 192.7L846.75 447.3L847.25 532L847.25 234.6L847.75 259.1L847.75 529.5L848.25 503.3L848.25 302.8L848.75 254.1L848.75 503.4L849.25 432.5L849.25 316.3L849.75 275.1L849.75 388.3L850.25 488.6L850.25 257.8L850.75 250.4L850.75 484.4L851.25 464.6L851.25 324.8L851.75 279.4L851.75 412.2L852.25 398.9L852.25 305.8L852.75 228.5L852.75 440L853.25 491L853.25 230.6L853.75 325.7L853.75 460.1L854.25 470.2L854.25 310.6L854.75 258.2L854.75 478.2L855.25 499.9L855.25 303.9L855.75 334.9L855.75 638L856.25 634L856.25 329.9L856.75 294L856.75 402.8L857.25 411.2L857.25 289.6L857.75 302L857.75 412.9L858.25 499.8L858.25 283.8L858.75 255.7L858.75 408L859.25 445.8L859.25 267.6L859.75 323.4L859.75 412.5L860.25 461.9L860.25 235.1L860.75 326.8L860.75 423.5L861.25 443.7L861.25 268.1L861.75 299.9L861.75 458.7L862.25 445.3L862.25 297L862.75 252.4L862.75 472.4L863.25 431.9L863.25 257.9L863.75 256.8L863.75 382.8L864.25 432.9L864.25 286.9L864.75 276.1L864.75 443L865.25 406.1L865.25 304.6L865.75 275.2L865.75 409.6L866.25 414.4L866.25 271.2L866.75 319.6L866.75 446.2L867.25 473.4L867.25 342L867.75 288.1L867.75 480.9L868.25 452.1L868.25 349.6L868.75 345.1L868.75 458.4L869.25 414.2L869.25 292.4L869.75 312.9L869.75 498.2L870.25 477.2L870.25 311.9L870.75 346.4L870.75 573.5L871.25 570.4L871.25 295.1L871.75 368.5L871.75 459.4L872.25 469.4L872.25 330.2L872.75 312.9L872.75 422.6L873.25 400.3L873.25 233.4L873.75 210L873.75 449.9L874.25 507.4L874.25 212.4L874.75 294.9L874.75 426.4L875.25 431.9L875.25 182L875.75 184.8L875.75 400.8L876.25 434L876.25 276.1L876.75 289L876.75 439.4L877.25 446L877.25 322.3L877.75 318.8L877.75 450.5L878.25 474.8L878.25 284L878.75 251.3L878.75 415.3L879.25 431.2L879.25 329.4L879.75 277.9L879.75 392.8L880.25 423.6L880.25 305.6L880.75 338.3L880.75 484.7L881.25 448L881.25 311L881.75 346.5L881.75 439.3L882.25 446.4L882.25 285.5L882.75 244.6L882.75 412.9L883.25 506.6L883.25 381.6L883.75 303.3L883.75 505.1L884.25 460L884.25 316L884.75 313.2L884.75 505.9L885.25 463.1L885.25 267.9L885.75 276.2L885.75 480.6L886.25 484L886.25 261.2L886.75 298.9L886.75 393.7L887.25 424.5L887.25 368.5L887.75 280.6L887.75 426.9L888.25 493.5L888.25 323.6L888.75 250.9L888.75 487.6L889.25 418L889.25 322.6L889.75 312.4L889.75 509.5L890.25 484L890.25 213.5L890.75 215.8L890.75 422.4L891.25 444.2L891.25 290.6L891.75 237.2L891.75 481.5L892.25 434.5L892.25 311.3L892.75 312.8L892.75 477.1L893.25 416.8L893.25 252.9L893.75 288.9L893.75 513L894.25 510.8L894.25 338.2L894.75 282.7L894.75 474.2L895.25 490.2L895.25 338.1L895.75 295.1L895.75 458.2L896.25 431.7L896.25 284.9L896.75 296L896.75 506.4L897.25 466L897.25 322.5L897.75 356.7L897.75 430.6L898.25 401.3L898.25 297.2L898.75 298.8L898.75 366.1L899.25 422.6L899.25 307.8L899.75 322.6L899.75 488.2L900.25 465.8L900.25 262.7L900.75 258L900.75 415.2L901.25 453.1L901.25 282.6L901.75 317.5L901.75 423.4L902.25 409.5L902.25 281.3L902.75 205.5L902.75 497.4L903.25 416.4L903.25 207.9L903.75 337.1L903.75 497.1L904.25 403L904.25 251.2L904.75 287.5L904.75 460L905.25 425.2L905.25 308.8L905.75 349.8L905.75 518L906.25 398.8L906.25 301.4L906.75 241.1L906.75 515.8L907.25 432.5L907.25 267.1L907.75 296L907.75 382.6L908.25 465L908.25 286.9L908.75 329.2L908.75 483.6L909.25 480.7L909.25 292.5L909.75 295.7L909.75 469.3L910.25 428L910.25 298.5L910.75 344.3L910.75 444.8L911.25 461.2L911.25 319.6L911.75 268.8L911.75 391.9L912.25 465.7L912.25 298.8L912.75 290.9L912.75 448L913.25 503.8L913.25 262.9L913.75 324.3L913.75 424.4L914.25 452.5L914.25 263.2L914.75 342.1L914.75 509L915.25 412.7L915.25 191L915.75 193.7L915.75 486.7L916.25 459L916.25 235.5L916.75 302.9L916.75 552L917.25 549.2L917.25 158.5L917.75 161.6L917.75 399.5L918.25 423.6L918.25 284.6L918.75 302.8L918.75 435.7L919.25 470.8L919.25 289.8L919.75 327.5L919.75 477.4L920.25 451.4L920.25 279.5L920.75 288L920.75 434.3L921.25 429.7L921.25 316.1L921.75 333.2L921.75 453.2L922.25 470.4L922.25 324.2L922.75 233.7L922.75 423.6L923.25 436.3L923.25 276.8L923.75 344.2L923.75 501.5L924.25 472.1L924.25 248.7L924.75 299.5L924.75 470.8L925.25 441.9L925.25 331.3L925.75 292.6L925.75 515L926.25 512.8L926.25 329.6L926.75 345.9L926.75 486L927.25 418.8L927.25 343.2L927.75 273.5L927.75 422.3L928.25 455.5L928.25 323.1L928.75 173L928.75 428.8L929.25 384.1L929.25 175.9L929.75 295.8L929.75 488.4L930.25 467.1L930.25 276.7L930.75 240L930.75 440.7L931.25 393.6L931.25 281.9L931.75 299.5L931.75 472.8L932.25 431.6L932.25 280.7L932.75 314.8L932.75 451.4L933.25 422.9L933.25 302.2L933.75 321L933.75 506.9L934.25 441.7L934.25 216L934.75 218.3L934.75 483.2L935.25 429.6L935.25 303.6L935.75 317.8L935.75 442.6L936.25 456.1L936.25 281.1L936.75 252L936.75 463.7L937.25 469.8L937.25 296.7L937.75 279L937.75 464L938.25 461.3L938.25 311L938.75 313.1L938.75 473.8L939.25 417.5L939.25 275.9L939.75 296.1L939.75 427.8L940.25 452.3L940.25 248.8L940.75 277.8L940.75 455.9L941.25 474.3L941.25 297.1L941.75 333.1L941.75 473.9L942.25 409.2L942.25 306.3L942.75 273.6L942.75 469.1L943.25 447.5L943.25 319.6L943.75 193.5L943.75 395.7L944.25 427.4L944.25 196.1L944.75 317.1L944.75 494.7L945.25 452.4L945.25 260.9L945.75 261.8L945.75 596L946.25 592.6L946.25 319.6L946.75 195L946.75 505.7L947.25 453.6L947.25 197.6L947.75 273.6L947.75 464.5L948.25 441.9L948.25 310.8L948.75 246.7L948.75 433.8L949.25 542L949.25 281.4L949.75 339.3L949.75 539.4L950.25 459.2L950.25 287.4L950.75 332.2L950.75 458.5L951.25 470L951.25 272.7L951.75 298.3L951.75 442L952.25 444.7L952.25 265.7L952.75 225L952.75 469.1L953.25 459.3L953.25 227.1L953.75 243.3L953.75 436.1L954.25 451.5L954.25 325.2L954.75 316.9L954.75 492.9L955.25 386.8L955.25 306.9L955.75 295.9L955.75 474.5L956.25 460.3L956.25 313.4L956.75 311.6L956.75 451.2L957.25 476.5L957.25 340.1L957.75 307.5L957.75 432.7L958.25 458.8L958.25 302.2L958.75 303.2L958.75 435.5L959.25 476.3L959.25 290.2L959.75 231.3L959.75 454.6L960.25 427.5L960.25 317.3L960.75 222L960.75 527L961.25 524.6L961.25 224.2L961.75 281.8L961.75 501.4L962.25 445.4L962.25 318.6L962.75 347.3L962.75 468L963.25 398.9L963.25 301.3L963.75 314.5L963.75 449.3L964.25 434.9L964.25 276.2L964.75 295L964.75 400.7L965.25 415.7L965.25 319.4L965.75 330.1L965.75 487.1L966.25 423.5L966.25 234.3L966.75 248.7L966.75 436.7L967.25 455.1L967.25 303.8L967.75 288.2L967.75 449.2L968.25 451.7L968.25 277.5L968.75 323.3L968.75 434.8L969.25 506.1L969.25 296.3L969.75 315.8L969.75 404.8L970.25 472.2L970.25 285.9L970.75 306.1L970.75 425L971.25 463.4L971.25 264.5L971.75 357L971.75 515.5L972.25 411.1L972.25 285L972.75 315.1L972.75 513.3L973.25 426.7L973.25 248.9L973.75 259.5L973.75 386.4L974.25 489.7L974.25 349.2L974.75 236.9L974.75 420.4L975.25 437.1L975.25 279.5L975.75 334L975.75 471.3L976.25 418.3L976.25 345.7L976.75 320.3L976.75 396L977.25 436.1L977.25 245.3L977.75 248.7L977.75 415L978.25 425.1L978.25 302.3L978.75 261.9L978.75 448.6L979.25 532L979.25 306.6L979.75 277.1L979.75 529.5L980.25 441.5L980.25 304.9L980.75 275.8L980.75 462.3L981.25 493.9L981.25 239.8L981.75 263.7L981.75 460.2L982.25 401.6L982.25 260.3L982.75 234.1L982.75 471.2L983.25 474.9L983.25 291L983.75 275.3L983.75 555L984.25 552.2L984.25 216L984.75 218.3L984.75 503.1L985.25 465.3L985.25 295.2L985.75 296.5L985.75 414.7L986.25 489.3L986.25 305.4L986.75 274.8L986.75 419.1L987.25 480.7L987.25 276.3L987.75 312.5L987.75 493.1L988.25 434.2L988.25 264.1L988.75 285.3L988.75 502.8L989.25 461.4L989.25 276.4L989.75 270.1L989.75 505.5L990.25 444.1L990.25 245.7L990.75 246L990.75 480.9L991.25 402L991.25 273.6L991.75 314.8L991.75 457L992.25 468.6L992.25 327.4L992.75 307.9L992.75 476.8L993.25 466.1L993.25 238.7L993.75 288.8L993.75 501.9L994.25 499.4L994.25 241.5L994.75 339.4L994.75 498.9L995.25 457.4L995.25 270.5L995.75 126L995.75 459.8L996.25 454.3L996.25 129.6L996.75 292.4L996.75 536.5L997.25 534L997.25 340.1L997.75 360.7L997.75 471.5L998.25 447.1L998.25 333.5L998.75 261.3L998.75 454L999.25 437L999.25 296.6L999.75 271.2L999.75 423.6L1000.25 417.5L1000.25 254.7L1000.75 358.7L1000.75 546L1001.25 482L1001.25 292.3L1001.75 266.3L1001.75 543.3L1002.25 436.8L1002.25 274.9L1002.75 270.8L1002.75 478.5L1003.25 459.8L1003.25 271.2L1003.75 277.5L1003.75 419.2L1004.25 518L1004.25 286.5L1004.75 270L1004.75 407.5L1005.25 515.8L1005.25 261.4L1005.75 185L1005.75 470L1006.25 356.8L1006.25 187.7L1006.75 326.2L1006.75 450.8L1007.25 499.1L1007.25 292.6L1007.75 305.1L1007.75 460.9L1008.25 426.8L1008.25 273.9L1008.75 278.6L1008.75 369.9L1009.25 439.5L1009.25 292L1009.75 237.4L1009.75 481.1L1010.25 418.9L1010.25 305.7L1010.75 281.9L1010.75 478.6L1011.25 407.8L1011.25 302.5L1011.75 238.2L1011.75 477.7L1012.25 410.1L1012.25 274L1012.75 205.5L1012.75 425.7L1013.25 509.1L1013.25 207.9L1013.75 263.6L1013.75 467.5L1014.25 430L1014.25 237.3L1014.75 305.2L1014.75 446.2L1015.25 447.7L1015.25 330.8L1015.75 338.6L1015.75 503L1016.25 421.2L1016.25 299.9L1016.75 308.3L1016.75 489L1017.25 444.5L1017.25 262.7L1017.75 244.8L1017.75 451.3L1018.25 384.9L1018.25 325L1018.75 261.9L1018.75 455.2L1019.25 476.6L1019.25 307.9L1019.75 344.1L1019.75 486.8L1020.25 491.9L1020.25 314.8L1020.75 210L1020.75 407.1L1021.25 466.4L1021.25 212.4L1021.75 254.1L1021.75 395.7L1022.25 496.6L1022.25 280.1L1022.75 237.3L1022.75 440.7L1023.25 494.4L1023.25 294.5L1023.75 310.8L1023.75 436L1024.25 444.9L1024.25 296L1024.75 314.9L1024.75 505.1L1025.25 448.5L1025.25 208L1025.75 210.4L1025.75 452.2L1026.25 495L1026.25 248.5L1026.75 316.8L1026.75 483L1027.25 396.9L1027.25 258.1L1027.75 216.5L1027.75 477.1L1028.25 492.5L1028.25 218.8L1028.75 265.2L1028.75 407.1L1029.25 420.6L1029.25 265.5L1029.75 320.8L1029.75 449.7L1030.25 473.2L1030.25 312.1L1030.75 346L1030.75 481.4L1031.25 468.5L1031.25 251.8L1031.75 367.5L1031.75 486.4L1032.25 473.6L1032.25 353.7L1032.75 283.2L1032.75 445.9L1033.25 419.1L1033.25 327.8L1033.75 318.6L1033.75 467.1L1034.25 472.2L1034.25 254.3L1034.75 201L1034.75 461.4L1035.25 487.5L1035.25 203.5L1035.75 305.9L1035.75 447.4L1036.25 443.7L1036.25 271.8L1036.75 330.1L1036.75 506.9L1037.25 464.7L1037.25 321.2L1037.75 188L1037.75 477.9L1038.25 399.3L1038.25 190.7L1038.75 311.9L1038.75 436L1039.25 418.1L1039.25 333.9L1039.75 330.1L1039.75 412.3L1040.25 442.8L1040.25 321L1040.75 281.7L1040.75 485.1L1041.25 434.9L1041.25 312.6L1041.75 275L1041.75 445.7L1042.25 425.7L1042.25 298.4L1042.75 322.7L1042.75 477.9L1043.25 467.5L1043.25 341.4L1043.75 249.7L1043.75 473.3L1044.25 499.5L1044.25 290.3L1044.75 302.7L1044.75 424.8L1045.25 472.6L1045.25 308.8L1045.75 265.7L1045.75 445.1L1046.25 540L1046.25 240.1L1046.75 243.8L1046.75 537.4L1047.25 506.8L1047.25 403.9L1047.75 273.1L1047.75 437.6L1048.25 465.1L1048.25 316.7L1048.75 264.9L1048.75 389.5L1049.25 483.8L1049.25 313.2L1049.75 215L1049.75 449.3L1050.25 481.4L1050.25 217.3L1050.75 236.5L1050.75 422.5L1051.25 472.8L1051.25 307.5L1051.75 208.5L1051.75 493.3L1052.25 526.5L1052.25 210.9L1052.75 310.9L1052.75 524.1L1053.25 429.9L1053.25 244.9L1053.75 272.2L1053.75 434.6L1054.25 457.1L1054.25 318L1054.75 334.3L1054.75 504.1L1055.25 436.8L1055.25 323.9L1055.75 315.8L1055.75 467.3L1056.25 498.5L1056.25 349.4L1056.75 293.9L1056.75 416.4L1057.25 424.5L1057.25 302.9L1057.75 255.6L1057.75 456.1L1058.25 460L1058.25 299.5L1058.75 319L1058.75 486.9L1059.25 509.4L1059.25 346.7L1059.75 247.6L1059.75 410.5L1060.25 382L1060.25 262.6L1060.75 319.8L1060.75 445L1061.25 467.2L1061.25 280.8L1061.75 322.3L1061.75 407L1062.25 469.6L1062.25 248L1062.75 336.7L1062.75 477.3L1063.25 411.9L1063.25 304.3L1063.75 218L1063.75 441.4L1064.25 487.6L1064.25 220.3L1064.75 338.1L1064.75 433.7L1065.25 468.6L1065.25 316.6L1065.75 307.9L1065.75 481.1L1066.25 468L1066.25 246.9L1066.75 290.2L1066.75 468.3L1067.25 471.5L1067.25 328.1L1067.75 284.7L1067.75 399.4L1068.25 429.9L1068.25 273.4L1068.75 222L1068.75 486.9L1069.25 603L1069.25 224.2L1069.75 296.9L1069.75 599.5L1070.25 491.1L1070.25 369.5L1070.75 236.1L1070.75 461.8L1071.25 460.5L1071.25 277.2L1071.75 293L1071.75 465.7L1072.25 539L1072.25 304.7L1072.75 295L1072.75 450.2L1073.25 536.4L1073.25 334.9L1073.75 319.8L1073.75 445.2L1074.25 428.3L1074.25 281.7L1074.75 315.1L1074.75 442.4L1075.25 476.1L1075.25 261.1L1075.75 285.2L1075.75 434.9L1076.25 464.2L1076.25 270.7L1076.75 373.1L1076.75 471.4L1077.25 463.3L1077.25 230.1L1077.75 276.2L1077.75 500.7L1078.25 465.7L1078.25 293L1078.75 277.3L1078.75 399.2L1079.25 456.8L1079.25 312.5L1079.75 273.8L1079.75 463.2L1080.25 452.4L1080.25 306.7L1080.75 360.4L1080.75 452.3L1081.25 436.5L1081.25 324.1L1081.75 357.5L1081.75 410.4L1082.25 405L1082.25 257.5L1082.75 308.8L1082.75 427.2L1083.25 427.3L1083.25 287.9L1083.75 314.7L1083.75 469.3L1084.25 505.8L1084.25 267.7L1084.75 342.9L1084.75 482L1085.25 469.5L1085.25 313.1L1085.75 277L1085.75 503.3L1086.25 441.9L1086.25 308.4L1086.75 279.2L1086.75 402L1087.25 509.7L1087.25 344.8L1087.75 300.6L1087.75 486.2L1088.25 487.3L1088.25 288.7L1088.75 287.8L1088.75 430.5L1089.25 447.9L1089.25 308L1089.75 333.3L1089.75 470.9L1090.25 639.5L1090.25 270.3L1090.75 259L1090.75 635.4L1091.25 445.7L1091.25 238.8L1091.75 296.5L1091.75 448.3L1092.25 479.6L1092.25 317.7L1092.75 295L1092.75 434.6L1093.25 447.2L1093.25 251.1L1093.75 344.5L1093.75 437.3L1094.25 518L1094.25 280L1094.75 296.9L1094.75 445.7L1095.25 515.8L1095.25 344.3L1095.75 182L1095.75 476.9L1096.25 509.2L1096.25 184.8L1096.75 264.7L1096.75 384L1097.25 492.6L1097.25 259.6L1097.75 289.9L1097.75 436.2L1098.25 419.8L1098.25 260.4L1098.75 273.8L1098.75 441.6L1099.25 423.8L1099.25 319.2L1099.75 284.6L1099.75 502.3L1100.25 425.1L1100.25 328.6L1100.75 302.7L1100.75 478.1L1101.25 438.6L1101.25 288.3L1101.75 299.4L1101.75 456.3L1102.25 445L1102.25 304.5L1102.75 275.2L1102.75 439.5L1103.25 458.7L1103.25 293.7L1103.75 252L1103.75 460.9L1104.25 397.2L1104.25 282.8L1104.75 317.6L1104.75 462.5L1105.25 430.8L1105.25 249.1L1105.75 245.9L1105.75 461.6L1106.25 474.3L1106.25 254.2L1106.75 297.2L1106.75 463.3L1107.25 502.2L1107.25 251.4L1107.75 282.4L1107.75 482.3L1108.25 473.7L1108.25 316L1108.75 306.3L1108.75 422.9L1109.25 441.1L1109.25 288.7L1109.75 215.5L1109.75 418.6L1110.25 447.3L1110.25 217.8L1110.75 277.6L1110.75 506L1111.25 489.1L1111.25 266.2L1111.75 333.8L1111.75 523L1112.25 478L1112.25 325.2L1112.75 336.8L1112.75 520.7L1113.25 395.5L1113.25 325.3L1113.75 282.6L1113.75 444.1L1114.25 482.9L1114.25 316.2L1114.75 263.2L1114.75 588L1115.25 584.7L1115.25 370L1115.75 270.6L1115.75 431.5L1116.25 466.7L1116.25 244.4L1116.75 326.6L1116.75 451.8L1117.25 499.7L1117.25 264.3L1117.75 282.1L1117.75 456.5L1118.25 431.7L1118.25 317.2L1118.75 247.3L1118.75 453.5L1119.25 496.2L1119.25 360.4L1119.75 196L1119.75 538L1120.25 412.7L1120.25 198.6L1120.75 244.5L1120.75 535.5L1121.25 418.4L1121.25 250L1121.75 266.6L1121.75 435.2L1122.25 450.3L1122.25 274.1L1122.75 283.8L1122.75 421.8L1123.25 503.4L1123.25 286.5L1123.75 301.3L1123.75 417.4L1124.25 450.9L1124.25 330L1124.75 299.4L1124.75 423.6L1125.25 443.5L1125.25 259.3L1125.75 262.5L1125.75 449.7L1126.25 439.5L1126.25 305L1126.75 281.6L1126.75 433.5L1127.25 465.5L1127.25 332.7L1127.75 350.7L1127.75 476.5L1128.25 464L1128.25 274.6L1128.75 275L1128.75 495L1129.25 454.6L1129.25 327.8L1129.75 298.4L1129.75 410.1L1130.25 439L1130.25 310.8L1130.75 346.7L1130.75 506.7L1131.25 483.2L1131.25 259.8L1131.75 263.4L1131.75 442.6L1132.25 417.1L1132.25 347.3L1132.75 267.7L1132.75 365.6L1133.25 407.4L1133.25 258L1133.75 316.3L1133.75 467.8L1134.25 434.3L1134.25 317.7L1134.75 308.1L1134.75 499.3L1135.25 487.9L1135.25 324.9L1135.75 355.3L1135.75 475.3L1136.25 480.8L1136.25 276.2L1136.75 251.7L1136.75 354.6L1137.25 453.9L1137.25 278L1137.75 216L1137.75 529L1138.25 526.6L1138.25 218.3L1138.75 341L1138.75 483L1139.25 436.4L1139.25 240.9L1139.75 280.2L1139.75 457.7L1140.25 499.1L1140.25 329.1L1140.75 328.3L1140.75 462.5L1141.25 473.7L1141.25 310.3L1141.75 317.2L1141.75 478.7L1142.25 414.5L1142.25 261.1L1142.75 317.4L1142.75 481.9L1143.25 444.3L1143.25 321.2L1143.75 211L1143.75 495.7L1144.25 415L1144.25 213.4L1144.75 350.1L1144.75 423.2L1145.25 428.9L1145.25 283L1145.75 283.1L1145.75 398.8L1146.25 448.3L1146.25 171L1146.75 174L1146.75 461.8L1147.25 454.5L1147.25 278.7L1147.75 316.5L1147.75 461.5L1148.25 437L1148.25 360.3L1148.75 325.6L1148.75 484.8L1149.25 461.5L1149.25 313.3L1149.75 300.6L1149.75 462.7L1150.25 440.5L1150.25 328.9L1150.75 274.9L1150.75 428.2L1151.25 410.2L1151.25 243.7L1151.75 237.8L1151.75 449.8L1152.25 467.9L1152.25 268.2L1152.75 258.5L1152.75 391.6L1153.25 458.8L1153.25 298.6L1153.75 271.3L1153.75 498.7L1154.25 435.2L1154.25 301.1L1154.75 286.3L1154.75 416.4L1155.25 427L1155.25 291L1155.75 243.3L1155.75 436.3L1156.25 431.7L1156.25 287.4L1156.75 231L1156.75 407.7L1157.25 441.2L1157.25 233.1L1157.75 328.9L1157.75 589L1158.25 585.7L1158.25 302.1L1158.75 344.2L1158.75 432.5L1159.25 415.2L1159.25 328.5L1159.75 243.5L1159.75 415.7L1160.25 501.5L1160.25 281.3L1160.75 178L1160.75 418.9L1161.25 509L1161.25 180.9L1161.75 264L1161.75 446.8L1162.25 441.8L1162.25 314.2L1162.75 293.7L1162.75 438.6L1163.25 450.2L1163.25 277.6L1163.75 283.9L1163.75 451.7L1164.25 500.1L1164.25 290.3L1164.75 301.6L1164.75 458.5L1165.25 402.5L1165.25 205.5L1165.75 207.9L1165.75 487.5L1166.25 403.4L1166.25 264.5L1166.75 299.9L1166.75 431.2L1167.25 505.5L1167.25 295.8L1167.75 313.3L1167.75 484.6L1168.25 473.8L1168.25 305.2L1168.75 280.4L1168.75 400.8L1169.25 422.9L1169.25 306.5L1169.75 272L1169.75 483.3L1170.25 465.6L1170.25 281.4L1170.75 209L1170.75 397.6L1171.25 410.5L1171.25 211.4L1171.75 308.8L1171.75 447.1L1172.25 574L1172.25 272.8L1172.75 224L1172.75 570.9L1173.25 480.7L1173.25 226.2L1173.75 228.4L1173.75 459.8L1174.25 484.3L1174.25 270.5L1174.75 341.1L1174.75 415.6L1175.25 454.5L1175.25 279.7L1175.75 333L1175.75 423.6L1176.25 508L1176.25 273.2L1176.75 300.6L1176.75 396L1177.25 555L1177.25 318.5L1177.75 302.9L1177.75 552.2L1178.25 506.6L1178.25 295L1178.75 248.3L1178.75 437.6L1179.25 497L1179.25 325.8L1179.75 300.7L1179.75 420.5L1180.25 428.1L1180.25 179L1180.75 181.8L1180.75 479.6L1181.25 567L1181.25 284.7L1181.75 341.6L1181.75 453.1L1182.25 564L1182.25 251.6L1182.75 281.1L1182.75 440.4L1183.25 499L1183.25 285.8L1183.75 290.9L1183.75 423.2L1184.25 451.5L1184.25 248.8L1184.75 282L1184.75 415.1L1185.25 454.4L1185.25 266L1185.75 293.3L1185.75 427.8L1186.25 463.1L1186.25 276.4L1186.75 277.7L1186.75 471.4L1187.25 506.4L1187.25 284.9L1187.75 233.5L1187.75 418.3L1188.25 428.4L1188.25 293.6L1188.75 230L1188.75 454.1L1189.25 455.3L1189.25 232.1L1189.75 248.1L1189.75 485.9L1190.25 487.7L1190.25 237.6L1190.75 282.8L1190.75 445.7L1191.25 474.5L1191.25 267.3L1191.75 274.3L1191.75 398.2L1192.25 477.9L1192.25 238.9L1192.75 230.9L1192.75 391.3L1193.25 474.4L1193.25 355.5L1193.75 258L1193.75 454.1L1194.25 423.2L1194.25 317.8L1194.75 204L1194.75 602L1195.25 598.5L1195.25 206.5L1195.75 312L1195.75 383.1L1196.25 474.4L1196.25 230.1L1196.75 269.9L1196.75 419.4L1197.25 503.8L1197.25 311.2L1197.75 239.6L1197.75 568L1198.25 565L1198.25 297.8L1198.75 310.9L1198.75 466.8L1199.25 487L1199.25 212L1199.75 214.3L1199.75 456.3L1200.25 478.1L1200.25 281.8L1200.75 324L1200.75 434.3L1201.25 490.9L1201.25 241.1L1201.75 250.2L1201.75 461.3L1202.25 462.4L1202.25 201.5L1202.75 204L1202.75 481.4L1203.25 442.9L1203.25 276.1L1203.75 328.8L1203.75 461.6L1204.25 449.8L1204.25 282.9L1204.75 372.7L1204.75 497L1205.25 468L1205.25 283.9L1205.75 205.5L1205.75 439L1206.25 446.8L1206.25 207.9L1206.75 347.1L1206.75 426.3L1207.25 493.3L1207.25 360.6L1207.75 292.9L1207.75 439.2L1208.25 434.4L1208.25 296.7L1208.75 213L1208.75 391.3L1209.25 453.9L1209.25 215.3L1209.75 343.1L1209.75 462.8L1210.25 419L1210.25 304.3L1210.75 265.7L1210.75 492.6L1211.25 417.9L1211.25 313.6L1211.75 291.6L1211.75 423.2L1212.25 469.2L1212.25 292L1212.75 251.3L1212.75 436.7L1213.25 406.8L1213.25 286.3L1213.75 280.2L1213.75 502.8L1214.25 481.4L1214.25 267.6L1214.75 309.7L1214.75 477.3L1215.25 501.7L1215.25 288.7L1215.75 340.2L1215.75 448.7L1216.25 436.7L1216.25 301.8L1216.75 274.6L1216.75 411.2L1217.25 433.9L1217.25 287L1217.75 314.3L1217.75 476L1218.25 464.1L1218.25 299.1L1218.75 309.4L1218.75 484.8L1219.25 487.1L1219.25 337.1L1219.75 262L1219.75 437.8L1220.25 422.3L1220.25 290L1220.75 335.1L1220.75 498L1221.25 441.6L1221.25 286.8L1221.75 189L1221.75 416.4L1222.25 433.8L1222.25 191.7L1222.75 310.7L1222.75 439.5L1223.25 460.9L1223.25 346.7L1223.75 256.1L1223.75 437.4L1224.25 442.6L1224.25 341.6L1224.75 331.7L1224.75 446L1225.25 458.1L1225.25 248.8L1225.75 346.9L1225.75 437.1L1226.25 460.3L1226.25 256.2L1226.75 255L1226.75 428.5L1227.25 442.1L1227.25 228.5L1227.75 210L1227.75 494.3L1228.25 488.7L1228.25 212.4L1228.75 300.1L1228.75 497.5L1229.25 444.2L1229.25 260L1229.75 265L1229.75 451L1230.25 377.4L1230.25 263L1230.75 356L1230.75 502.4L1231.25 472.5L1231.25 320.2L1231.75 291.7L1231.75 467.4L1232.25 458.2L1232.25 410.1L1232.75 271.2L1232.75 435.8L1233.25 413.3L1233.25 287.3L1233.75 332.4L1233.75 452.9L1234.25 507L1234.25 347.6L1234.75 289.7L1234.75 460.5L1235.25 504.9L1235.25 313.8L1235.75 253.4L1235.75 509.8L1236.25 405.1L1236.25 281.7L1236.75 331.4L1236.75 479.8L1237.25 476.2L1237.25 368.5L1237.75 291.9L1237.75 464.5L1238.25 429.7L1238.25 289.9L1238.75 255.3L1238.75 417.7L1239.25 458.4L1239.25 310.8L1239.75 216.5L1239.75 417.9L1240.25 446.3L1240.25 218.8L1240.75 337.5L1240.75 431.6L1241.25 454.4L1241.25 256.2L1241.75 281.7L1241.75 446.4L1242.25 470.1L1242.25 304.4L1242.75 289.8L1242.75 480.6L1243.25 429.5L1243.25 195L1243.75 197.6L1243.75 477.9L1244.25 507L1244.25 309.2L1244.75 292.2L1244.75 486.8L1245.25 465.7L1245.25 308.7L1245.75 296.2L1245.75 424.6L1246.25 459.8L1246.25 294.7L1246.75 287L1246.75 434.3L1247.25 463.6L1247.25 269.6L1247.75 269.5L1247.75 487.5L1248.25 464.4L1248.25 320.2L1248.75 230.3L1248.75 407.6L1249.25 489.7L1249.25 303.2L1249.75 298.5L1249.75 423.8L1250.25 451.4L1250.25 319.7L1250.75 266.5L1250.75 469.6L1251.25 454L1251.25 319.7L1251.75 272.4L1251.75 420.5L1252.25 407.3L1252.25 296.1L1252.75 290.7L1252.75 399.1L1253.25 411.1L1253.25 291.8L1253.75 332.1L1253.75 446.8L1254.25 450.7L1254.25 232.2L1254.75 268.9L1254.75 482.1L1255.25 448.1L1255.25 250L1255.75 328L1255.75 425.5L1256.25 367.6L1256.25 302.8L1256.75 291.8L1256.75 445.2L1257.25 465.5L1257.25 234.5L1257.75 278.8L1257.75 479.3L1258.25 479.6L1258.25 305L1258.75 332.9L1258.75 447.5L1259.25 469.6L1259.25 299.8L1259.75 208L1259.75 363.7L1260.25 495.8L1260.25 210.4L1260.75 286.6L1260.75 437.5L1261.25 477.1L1261.25 322.5L1261.75 203.5L1261.75 436.1L1262.25 495.7L1262.25 206L1262.75 269.8L1262.75 445.9L1263.25 415.9L1263.25 298.4L1263.75 338.9L1263.75 453.1L1264.25 405.2L1264.25 247.3L1264.75 292.7L1264.75 433.2L1265.25 453.1L1265.25 305.7L1265.75 334.7L1265.75 428.5L1266.25 467.1L1266.25 289.5L1266.75 291.3L1266.75 450.9L1267.25 451.4L1267.25 175L1267.75 177.9L1267.75 428.9L1268.25 436.4L1268.25 311.3L1268.75 304.9L1268.75 476.2L1269.25 443.1L1269.25 245.9L1269.75 256.7L1269.75 464.4L1270.25 533L1270.25 308.8L1270.75 304.2L1270.75 479.7L1271.25 530.5L1271.25 284.9L1271.75 293.6L1271.75 484.3L1272.25 450.5L1272.25 329.7L1272.75 241.6L1272.75 430.6L1273.25 416.6L1273.25 231.2L1273.75 290.9L1273.75 391.1L1274.25 483.4L1274.25 353.8L1274.75 274.1L1274.75 449.2L1275.25 376.5L1275.25 255.5L1275.75 299L1275.75 474.3L1276.25 476.1L1276.25 265L1276.75 263.4L1276.75 447.7L1277.25 501.1L1277.25 328.5L1277.75 282.9L1277.75 441.4L1278.25 507.7L1278.25 368.2L1278.75 259.2L1278.75 399.3L1279.25 409.9L1279.25 284L1279.75 309.1L1279.75 470.6L1280.25 407.8L1280.25 307.7L1280.75 313.4L1280.75 536.5L1281.25 419.9L1281.25 305.7L1281.75 315.1L1281.75 534L1282.25 448.2L1282.25 296.1L1282.75 226L1282.75 491.5L1283.25 634L1283.25 228.1L1283.75 306.6L1283.75 630L1284.25 429.6L1284.25 229.1L1284.75 350.9L1284.75 418.5L1285.25 421.4L1285.25 297.8L1285.75 326.6L1285.75 414.5L1286.25 423.9L1286.25 130L1286.75 133.6L1286.75 495.5L1287.25 405.1L1287.25 264.2L1287.75 342.5L1287.75 503.9L1288.25 459.5L1288.25 310.6L1288.75 271.9L1288.75 522.5L1289.25 462.9L1289.25 269.3L1289.75 286.8L1289.75 520.2L1290.25 483.5L1290.25 296.3L1290.75 246L1290.75 442.4L1291.25 491.3L1291.25 368.9L1291.75 321.1L1291.75 416L1292.25 403.6L1292.25 271.1L1292.75 296.4L1292.75 468.2L1293.25 489.7L1293.25 329.3L1293.75 309.1L1293.75 420.5L1294.25 471.7L1294.25 344.2L1294.75 302.7L1294.75 430.8L1295.25 450.1L1295.25 348.2L1295.75 290.3L1295.75 482.9L1296.25 402.2L1296.25 289.6L1296.75 370.4L1296.75 470.8L1297.25 454.8L1297.25 382.4L1297.75 284.1L1297.75 499.1L1298.25 415.6L1298.25 284.7L1298.75 306.4L1298.75 448.2L1299.25 463.1L1299.25 355.4L1299.75 271.8L1299.75 501.5L1300.25 455.6L1300.25 269.5L1300.75 280.3L1300.75 501.9L1301.25 403.6L1301.25 239.7L1301.75 229.2L1301.75 477.5L1302.25 452.8L1302.25 336L1302.75 304.1L1302.75 495.6L1303.25 440L1303.25 346.9L1303.75 339.3L1303.75 466.3L1304.25 451.5L1304.25 283.9L1304.75 244.6L1304.75 414.6L1305.25 471.9L1305.25 259.7L1305.75 323.3L1305.75 442.7L1306.25 435.8L1306.25 275.1L1306.75 255L1306.75 474.5L1307.25 462.2L1307.25 271L1307.75 275.2L1307.75 485.4L1308.25 460.7L1308.25 286.2L1308.75 276.4L1308.75 498.9L1309.25 421.9L1309.25 272.2L1309.75 321.5L1309.75 451.1L1310.25 471.1L1310.25 229L1310.75 291.3L1310.75 469.5L1311.25 480.5L1311.25 288.5L1311.75 250.2L1311.75 425L1312.25 399.4L1312.25 264.2L1312.75 249.9L1312.75 448.5L1313.25 504.8L1313.25 335.7L1313.75 216.5L1313.75 487L1314.25 507.5L1314.25 218.8L1314.75 309.5L1314.75 450.9L1315.25 438.4L1315.25 300.3L1315.75 336.9L1315.75 415.6L1316.25 421.6L1316.25 330.6L1316.75 286.9L1316.75 421.3L1317.25 452.4L1317.25 264.4L1317.75 282.1L1317.75 415.6L1318.25 422.5L1318.25 293.7L1318.75 230.5L1318.75 407.1L1319.25 430.9L1319.25 232.6L1319.75 243.5L1319.75 413.8L1320.25 429.7L1320.25 235.1L1320.75 290.3L1320.75 501.4L1321.25 424.3L1321.25 284.3L1321.75 283.7L1321.75 448.6L1322.25 489L1322.25 318.4L1322.75 280.7L1322.75 401.3L1323.25 429.1L1323.25 252.7L1323.75 331.5L1323.75 479.7L1324.25 428.7L1324.25 266.7L1324.75 302.5L1324.75 409.5L1325.25 502.8L1325.25 282.7L1325.75 293.1L1325.75 494.2L1326.25 478.5L1326.25 290.3L1326.75 282.3L1326.75 498.2L1327.25 464.5L1327.25 289.1L1327.75 291.1L1327.75 429.2L1328.25 411.8L1328.25 274.6L1328.75 353.1L1328.75 463.3L1329.25 456.3L1329.25 333.7L1329.75 158L1329.75 468.8L1330.25 432.8L1330.25 161.2L1330.75 286.4L1330.75 448.2L1331.25 443.1L1331.25 320.4L1331.75 308.6L1331.75 420.3L1332.25 426.3L1332.25 312.7L1332.75 301L1332.75 523L1333.25 461.7L1333.25 261.6L1333.75 289.9L1333.75 520.7L1334.25 397.5L1334.25 265.5L1334.75 296.8L1334.75 417.2L1335.25 455.6L1335.25 279.7L1335.75 225L1335.75 404.5L1336.25 470.6L1336.25 227.1L1336.75 293.6L1336.75 457.6L1337.25 460.6L1337.25 266.6L1337.75 371.4L1337.75 440.3L1338.25 526.5L1338.25 265.1L1338.75 333.1L1338.75 414.4L1339.25 524.1L1339.25 310.5L1339.75 339.1L1339.75 464L1340.25 376.8L1340.25 280.4L1340.75 308.7L1340.75 381.3L1341.25 408.3L1341.25 260L1341.75 305.5L1341.75 427.9L1342.25 433.2L1342.25 234L1342.75 312.1L1342.75 435L1343.25 426.3L1343.25 340.1L1343.75 286L1343.75 501.3L1344.25 389.7L1344.25 316.8L1344.75 291.8L1344.75 505.1L1345.25 429.7L1345.25 274.8L1345.75 323.4L1345.75 452.1L1346.25 438.1L1346.25 326.6L1346.75 344.2L1346.75 437.9L1347.25 390.7L1347.25 198L1347.75 200.6L1347.75 443.5L1348.25 445.9L1348.25 318.6L1348.75 309.1L1348.75 478.7L1349.25 493.5L1349.25 319.4L1349.75 350.1L1349.75 473.5L1350.25 436.9L1350.25 334.9L1350.75 238.8L1350.75 383.6L1351.25 415.9L1351.25 272.3L1351.75 248.5L1351.75 472.9L1352.25 464.8L1352.25 297L1352.75 231.9L1352.75 397.9L1353.25 471L1353.25 313.4L1353.75 241L1353.75 417.7L1354.25 551L1354.25 334.8L1354.75 272.1L1354.75 548.3L1355.25 482.1L1355.25 243.4L1355.75 281.7L1355.75 458.8L1356.25 390.3L1356.25 258L1356.75 335.4L1356.75 434L1357.25 461.2L1357.25 304.2L1357.75 335.7L1357.75 478.4L1358.25 422.9L1358.25 179L1358.75 181.8L1358.75 446.7L1359.25 539.5L1359.25 251.1L1359.75 263L1359.75 415.1L1360.25 536.9L1360.25 301.4L1360.75 263.5L1360.75 459.1L1361.25 419.5L1361.25 203.5L1361.75 206L1361.75 503.3L1362.25 432L1362.25 341.9L1362.75 274.5L1362.75 503L1363.25 429.1L1363.25 294.6L1363.75 302.7L1363.75 488.9L1364.25 493.4L1364.25 288.9L1364.75 307.1L1364.75 434.7L1365.25 479.8L1365.25 326.7L1365.75 318.7L1365.75 482.3L1366.25 427.6L1366.25 310.1L1366.75 283.5L1366.75 401.8L1367.25 457.1L1367.25 302.5L1367.75 262.5L1367.75 419.3L1368.25 419.2L1368.25 272.7L1368.75 335.5L1368.75 423.4L1369.25 424.2L1369.25 250.6L1369.75 296.7L1369.75 451.7L1370.25 402.4L1370.25 288.1L1370.75 289L1370.75 484.6L1371.25 400.8L1371.25 294.8L1371.75 256.1L1371.75 440.5L1372.25 440.6L1372.25 263.8L1372.75 311.3L1372.75 446L1373.25 422.7L1373.25 362.4L1373.75 328.3L1373.75 452.9L1374.25 474.4L1374.25 294.1L1374.75 328.2L1374.75 434L1375.25 416.7L1375.25 276.7L1375.75 297.9L1375.75 416.3L1376.25 437.9L1376.25 288.8L1376.75 338.3L1376.75 454.3L1377.25 369.3L1377.25 230L1377.75 232.1L1377.75 389.9L1378.25 440.1L1378.25 255.2L1378.75 244.8L1378.75 486.5L1379.25 434.4L1379.25 309.5L1379.75 295.9L1379.75 460.1L1380.25 495.3L1380.25 298L1380.75 252.5L1380.75 420.8L1381.25 443.3L1381.25 259.4L1381.75 185L1381.75 480.1L1382.25 546L1382.25 187.7L1382.75 313.4L1382.75 489.4L1383.25 543.3L1383.25 272.7L1383.75 306.1L1383.75 445.4L1384.25 432L1384.25 277.7L1384.75 193L1384.75 403.4L1385.25 442.1L1385.25 195.6L1385.75 263.1L1385.75 490.7L1386.25 467L1386.25 293.5L1386.75 279.9L1386.75 467.6L1387.25 439.9L1387.25 343.9L1387.75 268.9L1387.75 564L1388.25 561.1L1388.25 288.8L1388.75 256.4L1388.75 386.7L1389.25 495.5L1389.25 290.2L1389.75 255.1L1389.75 438.2L1390.25 453.6L1390.25 327.5L1390.75 355.3L1390.75 460.4L1391.25 434.5L1391.25 273.1L1391.75 241.7L1391.75 461.3L1392.25 507.4L1392.25 331.1L1392.75 317.8L1392.75 428.5L1393.25 473L1393.25 291.8L1393.75 340L1393.75 457.3L1394.25 454.3L1394.25 342.7L1394.75 257.6L1394.75 426.2L1395.25 494.3L1395.25 287.4L1395.75 334.3L1395.75 392.5L1396.25 428L1396.25 240.3L1396.75 293.1L1396.75 426.7L1397.25 457.5L1397.25 254.8L1397.75 311L1397.75 410.1L1398.25 492.8L1398.25 295.2L1398.75 322L1398.75 536.5L1399.25 387.8L1399.25 264.4L1399.75 227L1399.75 534L1400.25 438.9L1400.25 229.1L1400.75 306.8L1400.75 459.9L1401.25 554L1401.25 263.2L1401.75 262L1401.75 551.2L1402.25 418.9L1402.25 298.7L1402.75 266.1L1402.75 412L1403.25 485.8L1403.25 342.7L1403.75 320.8L1403.75 499.7L1404.25 420.2L1404.25 282.5L1404.75 299.9L1404.75 488.6L1405.25 452.6L1405.25 347.4L1405.75 268.1L1405.75 458.6L1406.25 468.6L1406.25 270.1L1406.75 213.5L1406.75 398.1L1407.25 442.6L1407.25 215.8L1407.75 277.9L1407.75 503.5L1408.25 464.5L1408.25 280.6L1408.75 300.6L1408.75 508.8L1409.25 436.8L1409.25 268L1409.75 216L1409.75 534L1410.25 531.5L1410.25 218.3L1410.75 240L1410.75 412.9L1411.25 447.8L1411.25 306.8L1411.75 232.1L1411.75 426L1412.25 487.6L1412.25 280.4L1412.75 265.8L1412.75 404.9L1413.25 433.2L1413.25 299.9L1413.75 303.2L1413.75 434.1L1414.25 386L1414.25 267.6L1414.75 247.2L1414.75 472.3L1415.25 453L1415.25 230.4L1415.75 330L1415.75 478.5L1416.25 473L1416.25 197L1416.75 199.6L1416.75 464.2L1417.25 383.6L1417.25 312.2L1417.75 298.9L1417.75 417.3L1418.25 439.1L1418.25 308.2L1418.75 349.4L1418.75 454.9L1419.25 472.4L1419.25 264.4L1419.75 334L1419.75 483.7L1420.25 484.5L1420.25 293.1L1420.75 213L1420.75 423.6L1421.25 439.2L1421.25 215.3L1421.75 254.4L1421.75 462.3L1422.25 442.6L1422.25 264L1422.75 356.8L1422.75 482.2L1423.25 440.1L1423.25 278.4L1423.75 311.5L1423.75 453.6L1424.25 426.3L1424.25 258.6L1424.75 294L1424.75 423L1425.25 452.6L1425.25 299.2L1425.75 294.1L1425.75 443.4L1426.25 446.3L1426.25 320.2L1426.75 244.7L1426.75 418.3L1427.25 465.5L1427.25 294.8L1427.75 305.6L1427.75 445.1L1428.25 456.7L1428.25 235.8L1428.75 292.1L1428.75 402.4L1429.25 466.8L1429.25 340.2L1429.75 317L1429.75 410.7L1430.25 468.4L1430.25 314.8L1430.75 347.1L1430.75 471.9L1431.25 515.5L1431.25 304.3L1431.75 273.6L1431.75 513.3L1432.25 406.5L1432.25 264.8L1432.75 309L1432.75 446.5L1433.25 477.4L1433.25 295.9L1433.75 235.3L1433.75 392.6L1434.25 420.6L1434.25 289.6L1434.75 243.9L1434.75 405.3L1435.25 425L1435.25 310.4L1435.75 329.1L1435.75 427.7L1436.25 468.5L1436.25 358.7L1436.75 323.2L1436.75 447.5L1437.25 482.5L1437.25 308.6L1437.75 280L1437.75 460.2L1438.25 444.2L1438.25 367.3L1438.75 345.8L1438.75 481.3L1439.25 418.3L1439.25 260.9L1439.75 330.4L1439.75 493.4" stroke="#4c72b0" stroke-opacity="0.5"/>
<path d="M200.25 368.3L200.25 368.3L200.75 368.3L200.75 368.3L201.25 368.3L201.25 368.3L201.75 368.3L201.75 368.3L202.25 368.3L202.25 368.3L202.75 368.3L202.75 368.3L203.25 368.3L203.25 368.3L203.75 368.3L203.75 368.3L204.25 368.3L204.25 368.3L204.75 368.3L204.75 368.3L205.25 368.3L205.25 368.3L205.75 368.3L205.75 368.3L206.25 368.3L206.25 368.3L206.75 368.3L206.75 368.3L207.25 368.3L207.25 368.3L207.75 368.3L207.75 368.3L208.25 368.3L208.25 368.3L208.75 368.3L208.75 368.3L209.25 368.3L209.25 368.3L209.75 368.3L209.75 368.3L210.25 368.3L210.25 368.3L210.75 368.3L210.75 368.3L211.25 368.3L211.25 368.3L211.75 368.3L211.75 368.3L212.25 368.3L212.25 368.3L212.75 368.3L212.75 368.3L213.25 368.3L213.25 368.3L213.75 368.3L213.75 368.3L214.25 368.3L214.25 368.3L214.75 368.3L214.75 368.3L215.25 368.3L215.25 368.3L215.75 368.3L215.75 368.3L216.25 368.3L216.25 368.3L216.75 368.3L216.75 368.3L217.25 368.3L217.25 368.3L217.75 368.3L217.75 368.3L218.25 368.3L218.25 368.3L218.75 368.3L218.75 368.3L219.25 368.3L219.25 368.3L219.75 368.3L219.75 368.3L220.25 368.3L220.25 368.3L220.75 368.3L220.75 368.3L221.25 368.3L221.25 368.3L221.75 368.3L221.75 368.3L222.25 368.3L222.25 368.3L222.75 368.3L222.75 368.3L223.25 368.3L223.25 368.3L223.75 368.3L223.75 368.3L224.25 368.3L224.25 368.3L224.75 368.3L224.75 368.3L225.25 368.3L225.25 368.3L225.75 368.3L225.75 368.3L226.25 368.3L226.25 368.3L226.75 368.3L226.75 368.3L227.25 368.3L227.25 368.3L227.75 368.3L227.75 368.3L228.25 368.3L228.25 368.3L228.75 368.3L228.75 368.3L229.25 368.3L229.25 368.3L229.75 368.3L229.75 368.3L230.25 368.3L230.25 368.3L230.75 368.3L230.75 368.3L231.25 368.3L231.25 368.3L231.75 368.3L231.75 368.3L232.25 368.3L232.25 368.3L232.75 368.3L232.75 368.3L233.25 368.3L233.25 368.3L233.75 368.3L233.75 368.3L234.25 368.3L234.25 368.3L234.75 368.3L234.75 368.3L235.25 368.3L235.25 368.3L235.75 368.3L235.75 368.3L236.25 368.3L236.25 368.3L236.75 368.3L236.75 368.3L237.25 368.3L237.25 368.3L237.75 368.3L237.75 368.4L238.25 368.3L238.25 368.3L238.75 368.3L238.75 368.3L239.25 368.3L239.25 368.3L239.75 368.3L239.75 368.3L240.25 368.3L240.25 368.3L240.75 368.3L240.75 368.3L241.25 368.3L241.25 368.2L241.75 368.3L241.75 368.3L242.25 368.3L242.25 368.3L242.75 368.3L242.75 368.3L243.25 368.3L243.25 368.3L243.75 368.3L243.75 368.3L244.25 368.3L244.25 368.3L244.75 368.3L244.75 368.4L245.25 368.3L245.25 368.3L245.75 368.3L245.75 368.3L246.25 368.3L246.25 368.3L246.75 368.3L246.75 368.3L247.25 368.3L247.25 368.3L247.75 368.2L247.75 368.3L248.25 368.3L248.25 368.2L248.75 368.3L248.75 368.3L249.25 368.3L249.25 368.3L249.75 368.3L249.75 368.3L250.25 368.3L250.25 368.3L250.75 368.3L250.75 368.3L251.25 368.4L251.25 368.3L251.75 368.3L251.75 368.4L252.25 368.3L252.25 368.3L252.75 368.3L252.75 368.3L253.25 368.3L253.25 368.3L253.75 368.3L253.75 368.3L254.25 368.3L254.25 368.3L254.75 368.2L254.75 368.3L255.25 368.3L255.25 368.2L255.75 368.3L255.75 368.3L256.25 368.3L256.25 368.3L256.75 368.3L256.75 368.3L257.25 368.3L257.25 368.3L257.75 368.3L257.75 368.3L258.25 368.4L258.25 368.3L258.75 368.3L258.75 368.4L259.25 368.3L259.25 368.3L259.75 368.3L259.75 368.3L260.25 368.3L260.25 368.3L260.75 368.3L260.75 368.3L261.25 368.3L261.25 368.3L261.75 368.2L261.75 368.3L262.25 368.3L262.25 368.2L262.75 368.3L262.75 368.3L263.25 368.3L263.25 368.3L263.75 368.3L263.75 368.3L264.25 368.3L264.25 368.3L264.75 368.3L264.75 368.3L265.25 368.4L265.25 368.3L265.75 368.3L265.75 368.4L266.25 368.3L266.25 368.3L266.75 368.3L266.75 368.3L267.25 368.3L267.25 368.3L267.75 368.3L267.75 368.3L268.25 368.3L268.25 368.3L268.75 368.2L268.75 368.2L269.25 368.3L269.25 368.2L269.75 368.3L269.75 368.3L270.25 368.3L270.25 368.3L270.75 368.3L270.75 368.3L271.25 368.3L271.25 368.3L271.75 368.3L271.75 368.4L272.25 368.4L272.25 368.4L272.75 368.3L272.75 368.4L273.25 368.3L273.25 368.3L273.75 368.3L273.75 368.3L274.25 368.3L274.25 368.3L274.75 368.3L274.75 368.3L275.25 368.3L275.25 368.2L275.75 368.2L275.75 368.2L276.25 368.3L276.25 368.2L276.75 368.3L276.75 368.3L277.25 368.3L277.25 368.3L277.75 368.3L277.75 368.3L278.25 368.3L278.25 368.3L278.75 368.3L278.75 368.4L279.25 368.4L279.25 368.4L279.75 368.3L279.75 368.4L280.25 368.3L280.25 368.3L280.75 368.3L280.75 368.3L281.25 368.3L281.25 368.3L281.75 368.3L281.75 368.3L282.25 368.3L282.25 368.2L282.75 368.2L282.75 368.2L283.25 368.3L283.25 368.3L283.75 368.3L283.75 368.3L284.25 368.3L284.25 368.3L284.75 368.3L284.75 368.3L285.25 368.3L285.25 368.3L285.75 368.3L285.75 368.4L286.25 368.4L286.25 368.4L286.75 368.3L286.75 368.3L287.25 368.3L287.25 368.3L287.75 368.3L287.75 368.3L288.25 368.3L288.25 368.3L288.75 368.3L288.75 368.3L289.25 368.3L289.25 368.2L289.75 368.2L289.75 368.3L290.25 368.3L290.25 368.3L290.75 368.3L290.75 368.3L291.25 368.3L291.25 368.3L291.75 368.3L291.75 368.3L292.25 368.3L292.25 368.3L292.75 368.4L292.75 368.4L293.25 368.4L293.25 368.3L293.75 368.3L293.75 368.3L294.25 368.3L294.25 368.3L294.75 368.3L294.75 368.3L295.25 368.3L295.25 368.3L295.75 368.2L295.75 368.3L296.25 368.2L296.25 368.2L296.75 368.2L296.75 368.3L297.25 368.3L297.25 368.3L297.75 368.3L297.75 368.3L298.25 368.3L298.25 368.3L298.75 368.3L298.75 368.3L299.25 368.4L299.25 368.3L299.75 368.4L299.75 368.4L300.25 368.4L300.25 368.3L300.75 368.3L300.75 368.3L301.25 368.3L301.25 368.3L301.75 368.3L301.75 368.3L302.25 368.3L302.25 368.3L302.75 368.2L302.75 368.3L303.25 368.2L303.25 368.2L303.75 368.2L303.75 368.3L304.25 368.3L304.25 368.3L304.75 368.3L304.75 368.3L305.25 368.3L305.25 368.3L305.75 368.3L305.75 368.3L306.25 368.4L306.25 368.3L306.75 368.4L306.75 368.4L307.25 368.4L307.25 368.3L307.75 368.3L307.75 368.3L308.25 368.3L308.25 368.3L308.75 368.3L308.75 368.3L309.25 368.3L309.25 368.3L309.75 368.2L309.75 368.3L310.25 368.2L310.25 368.2L310.75 368.2L310.75 368.3L311.25 368.3L311.25 368.3L311.75 368.3L311.75 368.3L312.25 368.3L312.25 368.3L312.75 368.3L312.75 368.3L313.25 368.4L313.25 368.3L313.75 368.4L313.75 368.4L314.25 368.4L314.25 368.3L314.75 368.3L314.75 368.3L315.25 368.3L315.25 368.3L315.75 368.3L315.75 368.3L316.25 368.3L316.25 368.3L316.75 368.2L316.75 368.3L317.25 368.2L317.25 368.2L317.75 368.2L317.75 368.3L318.25 368.3L318.25 368.3L318.75 368.3L318.75 368.3L319.25 368.3L319.25 368.3L319.75 368.3L319.75 368.3L320.25 368.4L320.25 368.4L320.75 368.4L320.75 368.4L321.25 368.3L321.25 368.3L321.75 368.3L321.75 368.3L322.25 368.3L322.25 368.3L322.75 368.3L322.75 368.3L323.25 368.3L323.25 368.2L323.75 368.2L323.75 368.2L324.25 368.2L324.25 368.2L324.75 368.3L324.75 368.3L325.25 368.3L325.25 368.3L325.75 368.3L325.75 368.3L326.25 368.3L326.25 368.3L326.75 368.3L326.75 368.4L327.25 368.4L327.25 368.4L327.75 368.3L327.75 368.4L328.25 368.3L328.25 368.3L328.75 368.3L328.75 368.3L329.25 368.3L329.25 368.3L329.75 368.3L329.75 368.3L330.25 368.3L330.25 368.2L330.75 368.2L330.75 368.2L331.25 368.3L331.25 368.2L331.75 368.3L331.75 368.3L332.25 368.3L332.25 368.3L332.75 368.3L332.75 368.3L333.25 368.3L333.25 368.3L333.75 368.3L333.75 368.4L334.25 368.4L334.25 368.4L334.75 368.3L334.75 368.4L335.25 368.3L335.25 368.3L335.75 368.3L335.75 368.3L336.25 368.3L336.25 368.3L336.75 368.3L336.75 368.3L337.25 368.3L337.25 368.2L337.75 368.2L337.75 368.2L338.25 368.3L338.25 368.2L338.75 368.3L338.75 368.3L339.25 368.3L339.25 368.3L339.75 368.3L339.75 368.3L340.25 368.3L340.25 368.3L340.75 368.3L340.75 368.4L341.25 368.4L341.25 368.4L341.75 368.3L341.75 368.4L342.25 368.3L342.25 368.3L342.75 368.3L342.75 368.3L343.25 368.3L343.25 368.3L343.75 368.3L343.75 368.3L344.25 368.2L344.25 368.2L344.75 368.2L344.75 368.2L345.25 368.3L345.25 368.2L345.75 368.3L345.75 368.3L346.25 368.3L346.25 368.3L346.75 368.3L346.75 368.3L347.25 368.4L347.25 368.3L347.75 368.4L347.75 368.4L348.25 368.4L348.25 368.4L348.75 368.3L348.75 368.4L349.25 368.3L349.25 368.3L349.75 368.3L349.75 368.3L350.25 368.3L350.25 368.3L350.75 368.2L350.75 368.3L351.25 368.2L351.25 368.2L351.75 368.2L351.75 368.2L352.25 368.3L352.25 368.2L352.75 368.3L352.75 368.3L353.25 368.3L353.25 368.3L353.75 368.3L353.75 368.3L354.25 368.4L354.25 368.3L354.75 368.4L354.75 368.4L355.25 368.4L355.25 368.4L355.75 368.3L355.75 368.4L356.25 368.3L356.25 368.3L356.75 368.3L356.75 368.3L357.25 368.3L357.25 368.3L357.75 368.2L357.75 368.3L358.25 368.2L358.25 368.2L358.75 368.2L358.75 368.2L359.25 368.3L359.25 368.3L359.75 368.3L359.75 368.3L360.25 368.3L360.25 368.3L360.75 368.3L360.75 368.3L361.25 368.4L361.25 368.3L361.75 368.4L361.75 368.4L362.25 368.4L362.25 368.3L362.75 368.3L362.75 368.3L363.25 368.3L363.25 368.3L363.75 368.3L363.75 368.3L364.25 368.3L364.25 368.3L364.75 368.2L364.75 368.3L365.25 368.2L365.25 368.2L365.75 368.2L365.75 368.3L366.25 368.3L366.25 368.3L366.75 368.3L366.75 368.3L367.25 368.3L367.25 368.3L367.75 368.3L367.75 368.3L368.25 368.4L368.25 368.3L368.75 368.4L368.75 368.4L369.25 368.4L369.25 368.3L369.75 368.3L369.75 368.3L370.25 368.3L370.25 368.3L370.75 368.3L370.75 368.3L371.25 368.3L371.25 368.3L371.75 368.2L371.75 368.2L372.25 368.2L372.25 368.2L372.75 368.2L372.75 368.3L373.25 368.3L373.25 368.3L373.75 368.3L373.75 368.3L374.25 368.3L374.25 368.3L374.75 368.3L374.75 368.4L375.25 368.4L375.25 368.4L375.75 368.4L375.75 368.4L376.25 368.4L376.25 368.3L376.75 368.3L376.75 368.3L377.25 368.3L377.25 368.3L377.75 368.3L377.75 368.3L378.25 368.3L378.25 368.2L378.75 368.2L378.75 368.2L379.25 368.2L379.25 368.2L379.75 368.2L379.75 368.3L380.25 368.3L380.25 368.3L380.75 368.3L380.75 368.3L381.25 368.3L381.25 368.3L381.75 368.3L381.75 368.4L382.25 368.4L382.25 368.4L382.75 368.4L382.75 368.4L383.25 368.4L383.25 368.3L383.75 368.3L383.75 368.3L384.25 368.3L384.25 368.3L384.75 368.3L384.75 368.3L385.25 368.3L385.25 368.2L385.75 368.2L385.75 368.2L386.25 368.2L386.25 368.2L386.75 368.2L386.75 368.3L387.25 368.3L387.25 368.3L387.75 368.3L387.75 368.3L388.25 368.3L388.25 368.3L388.75 368.3L388.75 368.4L389.25 368.4L389.25 368.4L389.75 368.4L389.75 368.4L390.25 368.4L390.25 368.3L390.75 368.3L390.75 368.3L391.25 368.3L391.25 368.3L391.75 368.3L391.75 368.3L392.25 368.3L392.25 368.2L392.75 368.2L392.75 368.2L393.25 368.2L393.25 368.2L393.75 368.3L393.75 368.3L394.25 368.3L394.25 368.3L394.75 368.3L394.75 368.3L395.25 368.3L395.25 368.3L395.75 368.3L395.75 368.4L396.25 368.4L396.25 368.4L396.75 368.3L396.75 368.4L397.25 368.3L397.25 368.3L397.75 368.3L397.75 368.3L398.25 368.3L398.25 368.3L398.75 368.3L398.75 368.3L399.25 368.2L399.25 368.2L399.75 368.2L399.75 368.2L400.25 368.3L400.25 368.2L400.75 368.3L400.75 368.3L401.25 368.3L401.25 368.3L401.75 368.3L401.75 368.3L402.25 368.4L402.25 368.3L402.75 368.4L402.75 368.4L403.25 368.4L403.25 368.4L403.75 368.3L403.75 368.4L404.25 368.3L404.25 368.3L404.75 368.3L404.75 368.3L405.25 368.3L405.25 368.3L405.75 368.2L405.75 368.3L406.25 368.2L406.25 368.2L406.75 368.2L406.75 368.2L407.25 368.3L407.25 368.2L407.75 368.3L407.75 368.3L408.25 368.3L408.25 368.3L408.75 368.3L408.75 368.3L409.25 368.4L409.25 368.3L409.75 368.4L409.75 368.4L410.25 368.4L410.25 368.4L410.75 368.3L410.75 368.4L411.25 368.3L411.25 368.3L411.75 368.3L411.75 368.3L412.25 368.3L412.25 368.3L412.75 368.2L412.75 368.3L413.25 368.2L413.25 368.2L413.75 368.2L413.75 368.2L414.25 368.3L414.25 368.2L414.75 368.3L414.75 368.3L415.25 368.3L415.25 368.3L415.75 368.3L415.75 368.3L416.25 368.4L416.25 368.3L416.75 368.4L416.75 368.4L417.25 368.4L417.25 368.4L417.75 368.3L417.75 368.4L418.25 368.3L418.25 368.3L418.75 368.3L418.75 368.3L419.25 368.3L419.25 368.3L419.75 368.2L419.75 368.3L420.25 368.2L420.25 368.2L420.75 368.2L420.75 368.2L421.25 368.3L421.25 368.2L421.75 368.3L421.75 368.3L422.25 368.3L422.25 368.3L422.75 368.3L422.75 368.3L423.25 368.4L423.25 368.3L423.75 368.4L423.75 368.4L424.25 368.4L424.25 368.4L424.75 368.3L424.75 368.4L425.25 368.3L425.25 368.3L425.75 368.3L425.75 368.3L426.25 368.3L426.25 368.3L426.75 368.2L426.75 368.3L427.25 368.2L427.25 368.2L427.75 368.2L427.75 368.2L428.25 368.3L428.25 368.3L428.75 368.3L428.75 368.3L429.25 368.3L429.25 368.3L429.75 368.3L429.75 368.3L430.25 368.4L430.25 368.4L430.75 368.4L430.75 368.4L431.25 368.4L431.25 368.3L431.75 368.3L431.75 368.3L432.25 368.3L432.25 368.3L432.75 368.3L432.75 368.3L433.25 368.3L433.25 368.2L433.75 368.2L433.75 368.2L434.25 368.2L434.25 368.2L434.75 368.2L434.75 368.3L435.25 368.3L435.25 368.3L435.75 368.3L435.75 368.3L436.25 368.3L436.25 368.3L436.75 368.3L436.75 368.4L437.25 368.4L437.25 368.4L437.75 368.4L437.75 368.4L438.25 368.4L438.25 368.3L438.75 368.3L438.75 368.3L439.25 368.3L439.25 368.3L439.75 368.3L439.75 368.3L440.25 368.3L440.25 368.2L440.75 368.2L440.75 368.2L441.25 368.2L441.25 368.2L441.75 368.2L441.75 368.3L442.25 368.3L442.25 368.3L442.75 368.3L442.75 368.3L443.25 368.3L443.25 368.3L443.75 368.3L443.75 368.4L444.25 368.4L444.25 368.4L444.75 368.4L444.75 368.4L445.25 368.4L445.25 368.3L445.75 368.3L445.75 368.3L446.25 368.3L446.25 368.3L446.75 368.3L446.75 368.3L447.25 368.3L447.25 368.2L447.75 368.2L447.75 368.2L448.25 368.2L448.25 368.2L448.75 368.2L448.75 368.3L449.25 368.3L449.25 368.3L449.75 368.3L449.75 368.3L450.25 368.3L450.25 368.3L450.75 368.3L450.75 368.4L451.25 368.4L451.25 368.4L451.75 368.4L451.75 368.4L452.25 368.4L452.25 368.3L452.75 368.3L452.75 368.3L453.25 368.3L453.25 368.3L453.75 368.3L453.75 368.3L454.25 368.3L454.25 368.2L454.75 368.2L454.75 368.2L455.25 368.2L455.25 368.2L455.75 368.2L455.75 368.3L456.25 368.3L456.25 368.3L456.75 368.3L456.75 368.3L457.25 368.3L457.25 368.3L457.75 368.4L457.75 368.4L458.25 368.4L458.25 368.4L458.75 368.4L458.75 368.4L459.25 368.4L459.25 368.3L459.75 368.3L459.75 368.3L460.25 368.3L460.25 368.3L460.75 368.2L460.75 368.3L461.25 368.2L461.25 368.2L461.75 368.2L461.75 368.2L462.25 368.2L462.25 368.2L462.75 368.2L462.75 368.3L463.25 368.3L463.25 368.3L463.75 368.3L463.75 368.3L464.25 368.4L464.25 368.3L464.75 368.4L464.75 368.4L465.25 368.4L465.25 368.4L465.75 368.4L465.75 368.4L466.25 368.3L466.25 368.3L466.75 368.3L466.75 368.3L467.25 368.3L467.25 368.3L467.75 368.2L467.75 368.3L468.25 368.2L468.25 368.2L468.75 368.2L468.75 368.2L469.25 368.3L469.25 368.2L469.75 368.3L469.75 368.3L470.25 368.3L470.25 368.3L470.75 368.3L470.75 368.3L471.25 368.4L471.25 368.3L471.75 368.4L471.75 368.4L472.25 368.4L472.25 368.4L472.75 368.3L472.75 368.4L473.25 368.3L473.25 368.3L473.75 368.3L473.75 368.3L474.25 368.3L474.25 368.3L474.75 368.2L474.75 368.3L475.25 368.2L475.25 368.2L475.75 368.2L475.75 368.2L476.25 368.3L476.25 368.2L476.75 368.3L476.75 368.3L477.25 368.3L477.25 368.3L477.75 368.3L477.75 368.3L478.25 368.4L478.25 368.3L478.75 368.4L478.75 368.4L479.25 368.4L479.25 368.4L479.75 368.3L479.75 368.4L480.25 368.3L480.25 368.3L480.75 368.3L480.75 368.3L481.25 368.3L481.25 368.3L481.75 368.2L481.75 368.3L482.25 368.2L482.25 368.2L482.75 368.2L482.75 368.2L483.25 368.3L483.25 368.2L483.75 368.3L483.75 368.3L484.25 368.3L484.25 368.3L484.75 368.3L484.75 368.3L485.25 368.4L485.25 368.4L485.75 368.4L485.75 368.4L486.25 368.4L486.25 368.4L486.75 368.3L486.75 368.4L487.25 368.3L487.25 368.3L487.75 368.3L487.75 368.3L488.25 368.3L488.25 368.2L488.75 368.2L488.75 368.2L489.25 368.2L489.25 368.2L489.75 368.2L489.75 368.2L490.25 368.3L490.25 368.2L490.75 368.3L490.75 368.3L491.25 368.3L491.25 368.3L491.75 368.3L491.75 368.4L492.25 368.4L492.25 368.4L492.75 368.4L492.75 368.4L493.25 368.4L493.25 368.4L493.75 368.3L493.75 368.4L494.25 368.3L494.25 368.3L494.75 368.3L494.75 368.3L495.25 368.3L495.25 368.2L495.75 368.2L495.75 368.2L496.25 368.2L496.25 368.2L496.75 368.2L496.75 368.2L497.25 368.3L497.25 368.3L497.75 368.3L497.75 368.3L498.25 368.3L498.25 368.3L498.75 368.3L498.75 368.4L499.25 368.4L499.25 368.4L499.75 368.4L499.75 368.4L500.25 368.4L500.25 368.4L500.75 368.3L500.75 368.3L501.25 368.3L501.25 368.3L501.75 368.3L501.75 368.3L502.25 368.3L502.25 368.2L502.75 368.2L502.75 368.2L503.25 368.2L503.25 368.2L503.75 368.2L503.75 368.3L504.25 368.3L504.25 368.3L504.75 368.3L504.75 368.3L505.25 368.3L505.25 368.3L505.75 368.3L505.75 368.4L506.25 368.4L506.25 368.4L506.75 368.4L506.75 368.4L507.25 368.4L507.25 368.3L507.75 368.3L507.75 368.3L508.25 368.3L508.25 368.3L508.75 368.3L508.75 368.3L509.25 368.3L509.25 368.2L509.75 368.2L509.75 368.2L510.25 368.2L510.25 368.2L510.75 368.2L510.75 368.3L511.25 368.3L511.25 368.3L511.75 368.3L511.75 368.3L512.25 368.3L512.25 368.3L512.75 368.4L512.75 368.4L513.25 368.4L513.25 368.4L513.75 368.4L513.75 368.4L514.25 368.4L514.25 368.3L514.75 368.3L514.75 368.3L515.25 368.3L515.25 368.3L515.75 368.2L515.75 368.3L516.25 368.2L516.25 368.2L516.75 368.2L516.75 368.2L517.25 368.2L517.25 368.2L517.75 368.2L517.75 368.3L518.25 368.3L518.25 368.3L518.75 368.3L518.75 368.3L519.25 368.4L519.25 368.3L519.75 368.4L519.75 368.4L520.25 368.4L520.25 368.4L520.75 368.4L520.75 368.4L521.25 368.4L521.25 368.3L521.75 368.3L521.75 368.3L522.25 368.3L522.25 368.3L522.75 368.2L522.75 368.3L523.25 368.2L523.25 368.2L523.75 368.2L523.75 368.2L524.25 368.2L524.25 368.2L524.75 368.2L524.75 368.3L525.25 368.3L525.25 368.3L525.75 368.3L525.75 368.3L526.25 368.4L526.25 368.3L526.75 368.4L526.75 368.4L527.25 368.4L527.25 368.4L527.75 368.4L527.75 368.4L528.25 368.4L528.25 368.3L528.75 368.3L528.75 368.3L529.25 368.3L529.25 368.3L529.75 368.2L529.75 368.3L530.25 368.2L530.25 368.2L530.75 368.2L530.75 368.2L531.25 368.2L531.25 368.2L531.75 368.3L531.75 368.3L532.25 368.3L532.25 368.3L532.75 368.3L532.75 368.3L533.25 368.4L533.25 368.3L533.75 368.4L533.75 368.4L534.25 368.4L534.25 368.4L534.75 368.3L534.75 368.4L535.25 368.3L535.25 368.3L535.75 368.3L535.75 368.3L536.25 368.3L536.25 368.3L536.75 368.2L536.75 368.3L537.25 368.2L537.25 368.2L537.75 368.2L537.75 368.2L538.25 368.3L538.25 368.2L538.75 368.3L538.75 368.3L539.25 368.3L539.25 368.3L539.75 368.3L539.75 368.3L540.25 368.4L540.25 368.3L540.75 368.4L540.75 368.4L541.25 368.4L541.25 368.4L541.75 368.3L541.75 368.4L542.25 368.3L542.25 368.3L542.75 368.3L542.75 368.3L543.25 368.3L543.25 368.3L543.75 368.2L543.75 368.2L544.25 368.2L544.25 368.2L544.75 368.2L544.75 368.2L545.25 368.3L545.25 368.2L545.75 368.3L545.75 368.3L546.25 368.3L546.25 368.3L546.75 368.3L546.75 368.4L547.25 368.4L547.25 368.4L547.75 368.4L547.75 368.4L548.25 368.4L548.25 368.4L548.75 368.3L548.75 368.4L549.25 368.3L549.25 368.3L549.75 368.3L549.75 368.3L550.25 368.3L550.25 368.2L550.75 368.2L550.75 368.2L551.25 368.2L551.25 368.2L551.75 368.2L551.75 368.2L552.25 368.3L552.25 368.2L552.75 368.3L552.75 368.3L553.25 368.3L553.25 368.3L553.75 368.3L553.75 368.4L554.25 368.4L554.25 368.4L554.75 368.4L554.75 368.4L555.25 368.4L555.25 368.4L555.75 368.3L555.75 368.4L556.25 368.3L556.25 368.3L556.75 368.3L556.75 368.3L557.25 368.3L557.25 368.2L557.75 368.2L557.75 368.2L558.25 368.2L558.25 368.2L558.75 368.2L558.75 368.2L559.25 368.3L559.25 368.2L559.75 368.3L559.75 368.3L560.25 368.3L560.25 368.3L560.75 368.3L560.75 368.4L561.25 368.4L561.25 368.4L561.75 368.4L561.75 368.4L562.25 368.4L562.25 368.4L562.75 368.3L562.75 368.3L563.25 368.3L563.25 368.3L563.75 368.3L563.75 368.3L564.25 368.3L564.25 368.2L564.75 368.2L564.75 368.2L565.25 368.2L565.25 368.2L565.75 368.2L565.75 368.3L566.25 368.3L566.25 368.3L566.75 368.3L566.75 368.3L567.25 368.3L567.25 368.3L567.75 368.3L567.75 368.4L568.25 368.4L568.25 368.4L568.75 368.4L568.75 368.4L569.25 368.4L569.25 368.3L569.75 368.3L569.75 368.3L570.25 368.3L570.25 368.3L570.75 368.3L570.75 368.3L571.25 368.2L571.25 368.2L571.75 368.2L571.75 368.2L572.25 368.2L572.25 368.2L572.75 368.2L572.75 368.3L573.25 368.3L573.25 368.3L573.75 368.3L573.75 368.3L574.25 368.4L574.25 368.3L574.75 368.4L574.75 368.4L575.25 368.4L575.25 368.4L575.75 368.4L575.75 368.4L576.25 368.4L576.25 368.3L576.75 368.3L576.75 368.3L577.25 368.3L577.25 368.3L577.75 368.2L577.75 368.3L578.25 368.2L578.25 368.2L578.75 368.2L578.75 368.2L579.25 368.2L579.25 368.2L579.75 368.2L579.75 368.3L580.25 368.3L580.25 368.3L580.75 368.3L580.75 368.3L581.25 368.4L581.25 368.3L581.75 368.4L581.75 368.4L582.25 368.4L582.25 368.4L582.75 368.4L582.75 368.4L583.25 368.4L583.25 368.3L583.75 368.3L583.75 368.3L584.25 368.3L584.25 368.3L584.75 368.2L584.75 368.3L585.25 368.2L585.25 368.2L585.75 368.2L585.75 368.2L586.25 368.2L586.25 368.2L586.75 368.2L586.75 368.3L587.25 368.3L587.25 368.3L587.75 368.3L587.75 368.3L588.25 368.4L588.25 368.3L588.75 368.4L588.75 368.4L589.25 368.4L589.25 368.4L589.75 368.4L589.75 368.4L590.25 368.4L590.25 368.3L590.75 368.3L590.75 368.3L591.25 368.3L591.25 368.3L591.75 368.2L591.75 368.3L592.25 368.2L592.25 368.2L592.75 368.2L592.75 368.2L593.25 368.2L593.25 368.2L593.75 368.3L593.75 368.3L594.25 368.3L594.25 368.3L594.75 368.3L594.75 368.3L595.25 368.4L595.25 368.3L595.75 368.4L595.75 368.4L596.25 368.4L596.25 368.4L596.75 368.4L596.75 368.4L597.25 368.3L597.25 368.3L597.75 368.3L597.75 368.3L598.25 368.3L598.25 368.3L598.75 368.2L598.75 368.3L599.25 368.2L599.25 368.2L599.75 368.2L599.75 368.2L600.25 368.3L600.25 368.2L600.75 368.3L600.75 368.3L601.25 368.3L601.25 368.3L601.75 368.3L601.75 368.3L602.25 368.4L602.25 368.4L602.75 368.4L602.75 368.4L603.25 368.4L603.25 368.4L603.75 368.3L603.75 368.4L604.25 368.3L604.25 368.3L604.75 368.3L604.75 368.3L605.25 368.3L605.25 368.2L605.75 368.2L605.75 368.2L606.25 368.2L606.25 368.2L606.75 368.2L606.75 368.2L607.25 368.3L607.25 368.2L607.75 368.3L607.75 368.3L608.25 368.3L608.25 368.3L608.75 368.3L608.75 368.4L609.25 368.4L609.25 368.4L609.75 368.4L609.75 368.4L610.25 368.4L610.25 368.4L610.75 368.3L610.75 368.4L611.25 368.3L611.25 368.3L611.75 368.3L611.75 368.3L612.25 368.3L612.25 368.2L612.75 368.2L612.75 368.2L613.25 368.2L613.25 368.2L613.75 368.2L613.75 368.2L614.25 368.3L614.25 368.2L614.75 368.3L614.75 368.3L615.25 368.3L615.25 368.3L615.75 368.3L615.75 368.4L616.25 368.4L616.25 368.4L616.75 368.4L616.75 368.4L617.25 368.4L617.25 368.4L617.75 368.3L617.75 368.4L618.25 368.3L618.25 368.3L618.75 368.3L618.75 368.3L619.25 368.3L619.25 368.2L619.75 368.2L619.75 368.2L620.25 368.2L620.25 368.2L620.75 368.2L620.75 368.2L621.25 368.3L621.25 368.2L621.75 368.3L621.75 368.3L622.25 368.3L622.25 368.3L622.75 368.3L622.75 368.4L623.25 368.4L623.25 368.4L623.75 368.4L623.75 368.4L624.25 368.4L624.25 368.4L624.75 368.3L624.75 368.4L625.25 368.3L625.25 368.3L625.75 368.2L625.75 368.3L626.25 368.2L626.25 368.2L626.75 368.2L626.75 368.2L627.25 368.2L627.25 368.2L627.75 368.2L627.75 368.2L628.25 368.3L628.25 368.2L628.75 368.3L628.75 368.3L629.25 368.4L629.25 368.3L629.75 368.4L629.75 368.4L630.25 368.4L630.25 368.4L630.75 368.4L630.75 368.4L631.25 368.4L631.25 368.4L631.75 368.3L631.75 368.4L632.25 368.3L632.25 368.3L632.75 368.2L632.75 368.3L633.25 368.2L633.25 368.2L633.75 368.2L633.75 368.2L634.25 368.2L634.25 368.2L634.75 368.2L634.75 368.2L635.25 368.3L635.25 368.2L635.75 368.3L635.75 368.3L636.25 368.4L636.25 368.3L636.75 368.4L636.75 368.4L637.25 368.4L637.25 368.4L637.75 368.4L637.75 368.4L638.25 368.4L638.25 368.4L638.75 368.3L638.75 368.3L639.25 368.3L639.25 368.3L639.75 368.2L639.75 368.3L640.25 368.2L640.25 368.2L640.75 368.2L640.75 368.2L641.25 368.2L641.25 368.2L641.75 368.2L641.75 368.3L642.25 368.3L642.25 368.3L642.75 368.3L642.75 368.3L643.25 368.4L643.25 368.3L643.75 368.4L643.75 368.4L644.25 368.4L644.25 368.4L644.75 368.4L644.75 368.4L645.25 368.4L645.25 368.3L645.75 368.3L645.75 368.3L646.25 368.3L646.25 368.3L646.75 368.2L646.75 368.2L647.25 368.2L647.25 368.2L647.75 368.2L647.75 368.2L648.25 368.2L648.25 368.2L648.75 368.2L648.75 368.3L649.25 368.3L649.25 368.3L649.75 368.3L649.75 368.4L650.25 368.4L650.25 368.4L650.75 368.4L650.75 368.4L651.25 368.4L651.25 368.4L651.75 368.4L651.75 368.4L652.25 368.4L652.25 368.3L652.75 368.3L652.75 368.3L653.25 368.3L653.25 368.2L653.75 368.2L653.75 368.2L654.25 368.2L654.25 368.2L654.75 368.2L654.75 368.2L655.25 368.2L655.25 368.2L655.75 368.2L655.75 368.3L656.25 368.3L656.25 368.3L656.75 368.3L656.75 368.4L657.25 368.4L657.25 368.4L657.75 368.4L657.75 368.4L658.25 368.4L658.25 368.4L658.75 368.4L658.75 368.4L659.25 368.4L659.25 368.3L659.75 368.3L659.75 368.3L660.25 368.3L660.25 368.2L660.75 368.2L660.75 368.2L661.25 368.2L661.25 368.2L661.75 368.2L661.75 368.2L662.25 368.2L662.25 368.2L662.75 368.2L662.75 368.3L663.25 368.3L663.25 368.3L663.75 368.3L663.75 368.4L664.25 368.4L664.25 368.4L664.75 368.4L664.75 368.4L665.25 368.4L665.25 368.4L665.75 368.4L665.75 368.4L666.25 368.4L666.25 368.3L666.75 368.3L666.75 368.3L667.25 368.3L667.25 368.2L667.75 368.2L667.75 368.2L668.25 368.2L668.25 368.2L668.75 368.2L668.75 368.2L669.25 368.2L669.25 368.2L669.75 368.2L669.75 368.3L670.25 368.3L670.25 368.3L670.75 368.3L670.75 368.4L671.25 368.4L671.25 368.4L671.75 368.4L671.75 368.4L672.25 368.4L672.25 368.4L672.75 368.4L672.75 368.4L673.25 368.4L673.25 368.3L673.75 368.3L673.75 368.3L674.25 368.2L674.25 368.2L674.75 368.2L674.75 368.2L675.25 368.2L675.25 368.2L675.75 368.2L675.75 368.2L676.25 368.2L676.25 368.2L676.75 368.2L676.75 368.3L677.25 368.4L677.25 368.3L677.75 368.4L677.75 368.4L678.25 368.4L678.25 368.4L678.75 368.4L678.75 368.4L679.25 368.4L679.25 368.4L679.75 368.4L679.75 368.4L680.25 368.4L680.25 368.3L680.75 368.2L680.75 368.3L681.25 368.2L681.25 368.2L681.75 368.2L681.75 368.2L682.25 368.2L682.25 368.2L682.75 368.2L682.75 368.2L683.25 368.2L683.25 368.2L683.75 368.3L683.75 368.3L684.25 368.4L684.25 368.3L684.75 368.4L684.75 368.4L685.25 368.4L685.25 368.4L685.75 368.4L685.75 368.4L686.25 368.4L686.25 368.4L686.75 368.3L686.75 368.4L687.25 368.3L687.25 368.3L687.75 368.2L687.75 368.3L688.25 368.2L688.25 368.2L688.75 368.2L688.75 368.2L689.25 368.2L689.25 368.2L689.75 368.2L689.75 368.2L690.25 368.3L690.25 368.2L690.75 368.3L690.75 368.3L691.25 368.4L691.25 368.3L691.75 368.4L691.75 368.4L692.25 368.4L692.25 368.4L692.75 368.4L692.75 368.4L693.25 368.4L693.25 368.4L693.75 368.3L693.75 368.4L694.25 368.3L694.25 368.3L694.75 368.2L694.75 368.3L695.25 368.2L695.25 368.2L695.75 368.2L695.75 368.2L696.25 368.2L696.25 368.2L696.75 368.2L696.75 368.2L697.25 368.3L697.25 368.2L697.75 368.3L697.75 368.3L698.25 368.4L698.25 368.4L698.75 368.4L698.75 368.4L699.25 368.5L699.25 368.4L699.75 368.4L699.75 368.5L700.25 368.4L700.25 368.4L700.75 368.3L700.75 368.4L701.25 368.3L701.25 368.2L701.75 368.2L701.75 368.2L702.25 368.2L702.25 368.2L702.75 368.1L702.75 368.2L703.25 368.2L703.25 368.1L703.75 368.2L703.75 368.2L704.25 368.3L704.25 368.2L704.75 368.3L704.75 368.4L705.25 368.4L705.25 368.4L705.75 368.4L705.75 368.5L706.25 368.5L706.25 368.5L706.75 368.4L706.75 368.5L707.25 368.4L707.25 368.4L707.75 368.3L707.75 368.4L708.25 368.3L708.25 368.2L708.75 368.2L708.75 368.2L709.25 368.2L709.25 368.1L709.75 368.1L709.75 368.1L710.25 368.2L710.25 368.1L710.75 368.2L710.75 368.2L711.25 368.3L711.25 368.2L711.75 368.3L711.75 368.4L712.25 368.4L712.25 368.4L712.75 368.4L712.75 368.5L713.25 368.5L713.25 368.5L713.75 368.4L713.75 368.5L714.25 368.4L714.25 368.4L714.75 368.3L714.75 368.4L715.25 368.3L715.25 368.2L715.75 368.2L715.75 368.2L716.25 368.2L716.25 368.1L716.75 368.1L716.75 368.1L717.25 368.2L717.25 368.1L717.75 368.2L717.75 368.2L718.25 368.3L718.25 368.3L718.75 368.3L718.75 368.4L719.25 368.4L719.25 368.4L719.75 368.5L719.75 368.5L720.25 368.5L720.25 368.5L720.75 368.4L720.75 368.5L721.25 368.4L721.25 368.3L721.75 368.3L721.75 368.3L722.25 368.3L722.25 368.2L722.75 368.1L722.75 368.2L723.25 368.1L723.25 368.1L723.75 368.1L723.75 368.1L724.25 368.2L724.25 368.2L724.75 368.2L724.75 368.3L725.25 368.3L725.25 368.3L725.75 368.4L725.75 368.4L726.25 368.5L726.25 368.4L726.75 368.5L726.75 368.5L727.25 368.5L727.25 368.5L727.75 368.4L727.75 368.4L728.25 368.4L728.25 368.3L728.75 368.2L728.75 368.3L729.25 368.2L729.25 368.2L729.75 368.1L729.75 368.2L730.25 368.1L730.25 368.1L730.75 368.1L730.75 368.1L731.25 368.2L731.25 368.2L731.75 368.2L731.75 368.3L732.25 368.4L732.25 368.3L732.75 368.4L732.75 368.4L733.25 368.5L733.25 368.4L733.75 368.5L733.75 368.5L734.25 368.5L734.25 368.4L734.75 368.4L734.75 368.4L735.25 368.4L735.25 368.3L735.75 368.2L735.75 368.3L736.25 368.2L736.25 368.2L736.75 368.1L736.75 368.2L737.25 368.1L737.25 368.1L737.75 368.1L737.75 368.2L738.25 368.2L738.25 368.2L738.75 368.2L738.75 368.3L739.25 368.4L739.25 368.3L739.75 368.4L739.75 368.4L740.25 368.5L740.25 368.5L740.75 368.5L740.75 368.5L741.25 368.5L741.25 368.4L741.75 368.4L741.75 368.4L742.25 368.4L742.25 368.3L742.75 368.2L742.75 368.3L743.25 368.2L743.25 368.1L743.75 368.1L743.75 368.1L744.25 368.1L744.25 368.1L744.75 368.1L744.75 368.2L745.25 368.2L745.25 368.2L745.75 368.2L745.75 368.3L746.25 368.4L746.25 368.3L746.75 368.4L746.75 368.5L747.25 368.5L747.25 368.5L747.75 368.5L747.75 368.5L748.25 368.5L748.25 368.4L748.75 368.4L748.75 368.4L749.25 368.4L749.25 368.3L749.75 368.2L749.75 368.3L750.25 368.2L750.25 368.1L750.75 368.1L750.75 368.1L751.25 368.1L751.25 368.1L751.75 368.1L751.75 368.2L752.25 368.2L752.25 368.2L752.75 368.3L752.75 368.3L753.25 368.4L753.25 368.4L753.75 368.4L753.75 368.5L754.25 368.5L754.25 368.5L754.75 368.5L754.75 368.5L755.25 368.5L755.25 368.4L755.75 368.3L755.75 368.4L756.25 368.3L756.25 368.2L756.75 368.2L756.75 368.2L757.25 368.2L757.25 368.1L757.75 368.1L757.75 368.1L758.25 368.1L758.25 368.1L758.75 368.1L758.75 368.2L759.25 368.3L759.25 368.2L759.75 368.3L759.75 368.4L760.25 368.4L760.25 368.4L760.75 368.4L760.75 368.5L761.25 368.5L761.25 368.5L761.75 368.5L761.75 368.5L762.25 368.5L762.25 368.4L762.75 368.3L762.75 368.4L763.25 368.3L763.25 368.2L763.75 368.2L763.75 368.2L764.25 368.1L764.25 368.1L764.75 368.1L764.75 368.1L765.25 368.1L765.25 368.1L765.75 368.1L765.75 368.2L766.25 368.3L766.25 368.2L766.75 368.3L766.75 368.4L767.25 368.5L767.25 368.4L767.75 368.5L767.75 368.5L768.25 368.5L768.25 368.5L768.75 368.5L768.75 368.5L769.25 368.5L769.25 368.4L769.75 368.3L769.75 368.4L770.25 368.3L770.25 368.2L770.75 368.1L770.75 368.2L771.25 368.1L771.25 368.1L771.75 368.1L771.75 368.1L772.25 368.1L772.25 368.1L772.75 368.1L772.75 368.2L773.25 368.3L773.25 368.2L773.75 368.3L773.75 368.4L774.25 368.5L774.25 368.4L774.75 368.5L774.75 368.5L775.25 368.5L775.25 368.5L775.75 368.5L775.75 368.5L776.25 368.5L776.25 368.4L776.75 368.3L776.75 368.4L777.25 368.3L777.25 368.2L777.75 368.1L777.75 368.2L778.25 368.1L778.25 368.1L778.75 368.1L778.75 368.1L779.25 368.1L779.25 368.1L779.75 368.1L779.75 368.2L780.25 368.3L780.25 368.2L780.75 368.3L780.75 368.4L781.25 368.5L781.25 368.4L781.75 368.5L781.75 368.5L782.25 368.5L782.25 368.5L782.75 368.4L782.75 368.5L783.25 368.4L783.25 368.4L783.75 368.3L783.75 368.3L784.25 368.3L784.25 368.2L784.75 368.1L784.75 368.2L785.25 368.1L785.25 368.1L785.75 368.1L785.75 368.1L786.25 368.2L786.25 368.1L786.75 368.2L786.75 368.3L787.25 368.3L787.25 368.3L787.75 368.4L787.75 368.4L788.25 368.5L788.25 368.5L788.75 368.5L788.75 368.5L789.25 368.5L789.25 368.5L789.75 368.4L789.75 368.5L790.25 368.4L790.25 368.3L790.75 368.2L790.75 368.3L791.25 368.2L791.25 368.1L791.75 368.1L791.75 368.1L792.25 368.1L792.25 368.1L792.75 368.1L792.75 368.1L793.25 368.2L793.25 368.1L793.75 368.2L793.75 368.3L794.25 368.4L794.25 368.3L794.75 368.4L794.75 368.5L795.25 368.5L795.25 368.5L795.75 368.5L795.75 368.5L796.25 368.5L796.25 368.5L796.75 368.4L796.75 368.5L797.25 368.4L797.25 368.3L797.75 368.2L797.75 368.3L798.25 368.2L798.25 368.1L798.75 368.1L798.75 368.1L799.25 368.1L799.25 368.1L799.75 368.1L799.75 368.1L800.25 368.2L800.25 368.1L800.75 368.2L800.75 368.3L801.25 368.4L801.25 368.3L801.75 368.4L801.75 368.5L802.25 368.5L802.25 368.5L802.75 368.5L802.75 368.5L803.25 368.5L803.25 368.5L803.75 368.4L803.75 368.5L804.25 368.4L804.25 368.3L804.75 368.2L804.75 368.3L805.25 368.1L805.25 368.1L805.75 368.1L805.75 368.1L806.25 368.1L806.25 368.1L806.75 368.1L806.75 368.1L807.25 368.2L807.25 368.1L807.75 368.3L807.75 368.3L808.25 368.5L808.25 368.4L808.75 368.5L808.75 368.5L809.25 368.5L809.25 368.5L809.75 368.5L809.75 368.5L810.25 368.5L810.25 368.4L810.75 368.3L810.75 368.4L811.25 368.3L811.25 368.2L811.75 368.1L811.75 368.2L812.25 368.1L812.25 368.1L812.75 368.1L812.75 368.1L813.25 368.1L813.25 368.1L813.75 368.1L813.75 368.2L814.25 368.3L814.25 368.2L814.75 368.3L814.75 368.4L815.25 368.5L815.25 368.4L815.75 368.5L815.75 368.5L816.25 368.6L816.25 368.5L816.75 368.5L816.75 368.5L817.25 368.5L817.25 368.4L817.75 368.3L817.75 368.4L818.25 368.3L818.25 368.2L818.75 368.1L818.75 368.2L819.25 368.1L819.25 368L819.75 368L819.75 368.1L820.25 368.1L820.25 368.1L820.75 368.1L820.75 368.2L821.25 368.3L821.25 368.2L821.75 368.4L821.75 368.5L822.25 368.5L822.25 368.5L822.75 368.5L822.75 368.6L823.25 368.6L823.25 368.5L823.75 368.5L823.75 368.5L824.25 368.4L824.25 368.3L824.75 368.2L824.75 368.3L825.25 368.2L825.25 368.1L825.75 368.1L825.75 368.1L826.25 368L826.25 368L826.75 368L826.75 368.1L827.25 368.2L827.25 368.1L827.75 368.2L827.75 368.3L828.25 368.4L828.25 368.3L828.75 368.4L828.75 368.5L829.25 368.6L829.25 368.5L829.75 368.6L829.75 368.6L830.25 368.6L830.25 368.5L830.75 368.4L830.75 368.5L831.25 368.4L831.25 368.3L831.75 368.2L831.75 368.3L832.25 368.1L832.25 368.1L832.75 368L832.75 368.1L833.25 368.1L833.25 368L833.75 368.1L833.75 368.1L834.25 368.2L834.25 368.1L834.75 368.3L834.75 368.4L835.25 368.5L835.25 368.4L835.75 368.5L835.75 368.5L836.25 368.6L836.25 368.6L836.75 368.5L836.75 368.6L837.25 368.5L837.25 368.4L837.75 368.3L837.75 368.4L838.25 368.3L838.25 368.2L838.75 368.1L838.75 368.2L839.25 368.1L839.25 368L839.75 368L839.75 368L840.25 368.1L840.25 368L840.75 368.1L840.75 368.2L841.25 368.3L841.25 368.2L841.75 368.3L841.75 368.5L842.25 368.5L842.25 368.5L842.75 368.5L842.75 368.6L843.25 368.6L843.25 368.6L843.75 368.5L843.75 368.5L844.25 368.5L844.25 368.4L844.75 368.2L844.75 368.3L845.25 368.2L845.25 368.1L845.75 368L845.75 368.1L846.25 368L846.25 368L846.75 368L846.75 368.1L847.25 368.2L847.25 368.1L847.75 368.2L847.75 368.3L848.25 368.4L848.25 368.3L848.75 368.4L848.75 368.5L849.25 368.6L849.25 368.5L849.75 368.6L849.75 368.6L850.25 368.6L850.25 368.5L850.75 368.4L850.75 368.5L851.25 368.4L851.25 368.3L851.75 368.1L851.75 368.2L852.25 368.1L852.25 368L852.75 368L852.75 368L853.25 368L853.25 368L853.75 368.1L853.75 368.1L854.25 368.3L854.25 368.2L854.75 368.3L854.75 368.4L855.25 368.5L855.25 368.4L855.75 368.5L855.75 368.6L856.25 368.6L856.25 368.6L856.75 368.5L856.75 368.6L857.25 368.5L857.25 368.4L857.75 368.3L857.75 368.4L858.25 368.3L858.25 368.1L858.75 368.1L858.75 368.1L859.25 368L859.25 368L859.75 368L859.75 368L860.25 368.1L860.25 368L860.75 368.1L860.75 368.2L861.25 368.4L861.25 368.3L861.75 368.4L861.75 368.5L862.25 368.6L862.25 368.5L862.75 368.6L862.75 368.6L863.25 368.6L863.25 368.5L863.75 368.4L863.75 368.5L864.25 368.4L864.25 368.3L864.75 368.2L864.75 368.3L865.25 368.2L865.25 368.1L865.75 368L865.75 368L866.25 368L866.25 368L866.75 368L866.75 368.1L867.25 368.2L867.25 368.1L867.75 368.3L867.75 368.4L868.25 368.5L868.25 368.4L868.75 368.5L868.75 368.6L869.25 368.6L869.25 368.6L869.75 368.5L869.75 368.6L870.25 368.5L870.25 368.4L870.75 368.3L870.75 368.4L871.25 368.3L871.25 368.2L871.75 368.1L871.75 368.1L872.25 368.1L872.25 368L872.75 368L872.75 368L873.25 368.1L873.25 368L873.75 368.1L873.75 368.2L874.25 368.4L874.25 368.2L874.75 368.4L874.75 368.5L875.25 368.6L875.25 368.5L875.75 368.6L875.75 368.6L876.25 368.6L876.25 368.6L876.75 368.4L876.75 368.5L877.25 368.4L877.25 368.3L877.75 368.2L877.75 368.3L878.25 368.1L878.25 368.1L878.75 368L878.75 368L879.25 368L879.25 368L879.75 368L879.75 368.1L880.25 368.2L880.25 368.1L880.75 368.2L880.75 368.4L881.25 368.5L881.25 368.4L881.75 368.5L881.75 368.6L882.25 368.6L882.25 368.6L882.75 368.6L882.75 368.6L883.25 368.5L883.25 368.4L883.75 368.3L883.75 368.4L884.25 368.3L884.25 368.2L884.75 368L884.75 368.1L885.25 368L885.25 368L885.75 368L885.75 368L886.25 368.1L886.25 368L886.75 368.1L886.75 368.2L887.25 368.4L887.25 368.2L887.75 368.4L887.75 368.5L888.25 368.6L888.25 368.5L888.75 368.6L888.75 368.6L889.25 368.6L889.25 368.5L889.75 368.4L889.75 368.5L890.25 368.4L890.25 368.3L890.75 368.1L890.75 368.3L891.25 368.1L891.25 368L891.75 368L891.75 368L892.25 368L892.25 368L892.75 368L892.75 368.1L893.25 368.3L893.25 368.1L893.75 368.3L893.75 368.4L894.25 368.5L894.25 368.4L894.75 368.6L894.75 368.6L895.25 368.6L895.25 368.6L895.75 368.5L895.75 368.6L896.25 368.5L896.25 368.4L896.75 368.2L896.75 368.4L897.25 368.2L897.25 368.1L897.75 368L897.75 368.1L898.25 368L898.25 368L898.75 368L898.75 368L899.25 368.1L899.25 368L899.75 368.1L899.75 368.3L900.25 368.5L900.25 368.3L900.75 368.5L900.75 368.6L901.25 368.7L901.25 368.6L901.75 368.6L901.75 368.7L902.25 368.6L902.25 368.5L902.75 368.4L902.75 368.5L903.25 368.4L903.25 368.2L903.75 368.1L903.75 368.2L904.25 368L904.25 368L904.75 367.9L904.75 367.9L905.25 368L905.25 367.9L905.75 368L905.75 368.2L906.25 368.3L906.25 368.2L906.75 368.4L906.75 368.5L907.25 368.6L907.25 368.5L907.75 368.6L907.75 368.7L908.25 368.7L908.25 368.6L908.75 368.5L908.75 368.6L909.25 368.5L909.25 368.3L909.75 368.1L909.75 368.3L910.25 368.1L910.25 368L910.75 367.9L910.75 368L911.25 367.9L911.25 367.9L911.75 368L911.75 368L912.25 368.2L912.25 368.1L912.75 368.2L912.75 368.4L913.25 368.6L913.25 368.4L913.75 368.6L913.75 368.7L914.25 368.7L914.25 368.7L914.75 368.6L914.75 368.7L915.25 368.6L915.25 368.4L915.75 368.3L915.75 368.4L916.25 368.2L916.25 368.1L916.75 367.9L916.75 368L917.25 367.9L917.25 367.9L917.75 367.9L917.75 368L918.25 368.1L918.25 368L918.75 368.1L918.75 368.3L919.25 368.5L919.25 368.3L919.75 368.5L919.75 368.6L920.25 368.7L920.25 368.7L920.75 368.7L920.75 368.7L921.25 368.7L921.25 368.6L921.75 368.4L921.75 368.5L922.25 368.3L922.25 368.2L922.75 368L922.75 368.1L923.25 368L923.25 367.9L923.75 367.9L923.75 367.9L924.25 368L924.25 367.9L924.75 368L924.75 368.2L925.25 368.4L925.25 368.2L925.75 368.4L925.75 368.6L926.25 368.7L926.25 368.6L926.75 368.7L926.75 368.7L927.25 368.7L927.25 368.7L927.75 368.5L927.75 368.6L928.25 368.5L928.25 368.3L928.75 368.1L928.75 368.2L929.25 368L929.25 367.9L929.75 367.9L929.75 367.9L930.25 367.9L930.25 367.9L930.75 367.9L930.75 368.1L931.25 368.3L931.25 368.1L931.75 368.3L931.75 368.5L932.25 368.7L932.25 368.5L932.75 368.7L932.75 368.7L933.25 368.7L933.25 368.7L933.75 368.6L933.75 368.7L934.25 368.6L934.25 368.4L934.75 368.1L934.75 368.4L935.25 368.1L935.25 368L935.75 367.9L935.75 367.9L936.25 367.9L936.25 367.8L936.75 367.9L936.75 368L937.25 368.2L937.25 368L937.75 368.2L937.75 368.4L938.25 368.6L938.25 368.5L938.75 368.6L938.75 368.7L939.25 368.8L939.25 368.8L939.75 368.7L939.75 368.8L940.25 368.6L940.25 368.5L940.75 368.2L940.75 368.4L941.25 368.2L941.25 368L941.75 367.9L941.75 368L942.25 367.8L942.25 367.8L942.75 367.8L942.75 367.9L943.25 368.1L943.25 367.9L943.75 368.1L943.75 368.3L944.25 368.6L944.25 368.4L944.75 368.6L944.75 368.7L945.25 368.8L945.25 368.8L945.75 368.7L945.75 368.8L946.25 368.7L946.25 368.5L946.75 368.3L946.75 368.5L947.25 368.3L947.25 368.1L947.75 367.9L947.75 368L948.25 367.9L948.25 367.8L948.75 367.8L948.75 367.9L949.25 368L949.25 367.9L949.75 368L949.75 368.3L950.25 368.5L950.25 368.3L950.75 368.5L950.75 368.7L951.25 368.8L951.25 368.7L951.75 368.8L951.75 368.8L952.25 368.7L952.25 368.6L952.75 368.4L952.75 368.6L953.25 368.4L953.25 368.1L953.75 367.9L953.75 368.1L954.25 367.9L954.25 367.8L954.75 367.8L954.75 367.8L955.25 368L955.25 367.8L955.75 368L955.75 368.2L956.25 368.5L956.25 368.2L956.75 368.5L956.75 368.7L957.25 368.8L957.25 368.7L957.75 368.8L957.75 368.8L958.25 368.8L958.25 368.7L958.75 368.4L958.75 368.6L959.25 368.4L959.25 368.2L959.75 367.9L959.75 368.1L960.25 367.9L960.25 367.8L960.75 367.8L960.75 367.8L961.25 367.9L961.25 367.8L961.75 367.9L961.75 368.1L962.25 368.4L962.25 368.2L962.75 368.5L962.75 368.7L963.25 368.8L963.25 368.7L963.75 368.8L963.75 368.8L964.25 368.8L964.25 368.7L964.75 368.5L964.75 368.7L965.25 368.4L965.25 368.2L965.75 367.9L965.75 368.2L966.25 367.9L966.25 367.8L966.75 367.7L966.75 367.8L967.25 367.9L967.25 367.8L967.75 367.9L967.75 368.1L968.25 368.4L968.25 368.1L968.75 368.4L968.75 368.6L969.25 368.8L969.25 368.7L969.75 368.8L969.75 368.9L970.25 368.8L970.25 368.7L970.75 368.5L970.75 368.7L971.25 368.5L971.25 368.2L971.75 367.9L971.75 368.2L972.25 367.9L972.25 367.8L972.75 367.7L972.75 367.8L973.25 367.8L973.25 367.7L973.75 367.9L973.75 368.1L974.25 368.4L974.25 368.1L974.75 368.4L974.75 368.6L975.25 368.8L975.25 368.7L975.75 368.9L975.75 368.9L976.25 368.9L976.25 368.7L976.75 368.5L976.75 368.7L977.25 368.5L977.25 368.2L977.75 367.9L977.75 368.2L978.25 367.9L978.25 367.7L978.75 367.7L978.75 367.7L979.25 367.8L979.25 367.7L979.75 367.9L979.75 368.1L980.25 368.4L980.25 368.1L980.75 368.4L980.75 368.7L981.25 368.9L981.25 368.7L981.75 368.9L981.75 368.9L982.25 368.9L982.25 368.8L982.75 368.5L982.75 368.7L983.25 368.5L983.25 368.2L983.75 367.9L983.75 368.1L984.25 367.9L984.25 367.7L984.75 367.7L984.75 367.7L985.25 367.9L985.25 367.7L985.75 367.9L985.75 368.1L986.25 368.4L986.25 368.2L986.75 368.5L986.75 368.7L987.25 368.9L987.25 368.7L987.75 368.9L987.75 368.9L988.25 368.9L988.25 368.8L988.75 368.5L988.75 368.7L989.25 368.4L989.25 368.1L989.75 367.9L989.75 368.1L990.25 367.8L990.25 367.7L990.75 367.7L990.75 367.7L991.25 367.9L991.25 367.7L991.75 367.9L991.75 368.1L992.25 368.5L992.25 368.2L992.75 368.5L992.75 368.8L993.25 368.9L993.25 368.8L993.75 368.9L993.75 368.9L994.25 368.9L994.25 368.7L994.75 368.4L994.75 368.7L995.25 368.4L995.25 368.1L995.75 367.8L995.75 368L996.25 367.8L996.25 367.7L996.75 367.7L996.75 367.7L997.25 367.9L997.25 367.7L997.75 367.9L997.75 368.2L998.25 368.6L998.25 368.2L998.75 368.6L998.75 368.8L999.25 369L999.25 368.8L999.75 368.9L999.75 369L1000.25 368.9L1000.25 368.6L1000.75 368.3L1000.75 368.6L1001.25 368.3L1001.25 368L1001.75 367.7L1001.75 368L1002.25 367.7L1002.25 367.6L1002.75 367.6L1002.75 367.7L1003.25 368L1003.25 367.8L1003.75 368L1003.75 368.3L1004.25 368.7L1004.25 368.4L1004.75 368.7L1004.75 368.9L1005.25 369L1005.25 368.9L1005.75 368.9L1005.75 369L1006.25 368.8L1006.25 368.6L1006.75 368.2L1006.75 368.5L1007.25 368.2L1007.25 367.9L1007.75 367.7L1007.75 367.8L1008.25 367.7L1008.25 367.6L1008.75 367.6L1008.75 367.8L1009.25 368.1L1009.25 367.8L1009.75 368.1L1009.75 368.5L1010.25 368.8L1010.25 368.5L1010.75 368.8L1010.75 369L1011.25 369L1011.25 369L1011.75 368.8L1011.75 369L1012.25 368.8L1012.25 368.4L1012.75 368.1L1012.75 368.4L1013.25 368.1L1013.25 367.8L1013.75 367.6L1013.75 367.7L1014.25 367.7L1014.25 367.6L1014.75 367.7L1014.75 367.9L1015.25 368.2L1015.25 367.9L1015.75 368.3L1015.75 368.6L1016.25 368.9L1016.25 368.6L1016.75 368.9L1016.75 369L1017.25 369L1017.25 368.9L1017.75 368.6L1017.75 368.9L1018.25 368.6L1018.25 368.3L1018.75 367.9L1018.75 368.2L1019.25 367.9L1019.25 367.7L1019.75 367.6L1019.75 367.6L1020.25 367.7L1020.25 367.6L1020.75 367.8L1020.75 368L1021.25 368.4L1021.25 368.1L1021.75 368.5L1021.75 368.8L1022.25 369L1022.25 368.8L1022.75 369L1022.75 369L1023.25 369L1023.25 368.8L1023.75 368.5L1023.75 368.8L1024.25 368.4L1024.25 368.1L1024.75 367.7L1024.75 368.1L1025.25 367.7L1025.25 367.6L1025.75 367.6L1025.75 367.6L1026.25 367.9L1026.25 367.6L1026.75 367.9L1026.75 368.2L1027.25 368.6L1027.25 368.3L1027.75 368.7L1027.75 368.9L1028.25 369L1028.25 368.9L1028.75 368.9L1028.75 369L1029.25 368.9L1029.25 368.6L1029.75 368.3L1029.75 368.6L1030.25 368.2L1030.25 367.9L1030.75 367.6L1030.75 367.8L1031.25 367.6L1031.25 367.6L1031.75 367.6L1031.75 367.7L1032.25 368.1L1032.25 367.8L1032.75 368.1L1032.75 368.5L1033.25 368.8L1033.25 368.5L1033.75 368.9L1033.75 369L1034.25 369.1L1034.25 369L1034.75 368.8L1034.75 369L1035.25 368.8L1035.25 368.4L1035.75 368L1035.75 368.3L1036.25 368L1036.25 367.7L1036.75 367.5L1036.75 367.6L1037.25 367.6L1037.25 367.5L1037.75 367.7L1037.75 367.9L1038.25 368.3L1038.25 368L1038.75 368.4L1038.75 368.7L1039.25 369L1039.25 368.8L1039.75 369L1039.75 369.1L1040.25 369.1L1040.25 368.9L1040.75 368.5L1040.75 368.9L1041.25 368.5L1041.25 368.1L1041.75 367.8L1041.75 368.1L1042.25 367.7L1042.25 367.5L1042.75 367.5L1042.75 367.6L1043.25 367.8L1043.25 367.6L1043.75 367.9L1043.75 368.2L1044.25 368.7L1044.25 368.3L1044.75 368.7L1044.75 369L1045.25 369.1L1045.25 369L1045.75 369L1045.75 369.1L1046.25 368.9L1046.25 368.7L1046.75 368.2L1046.75 368.6L1047.25 368.1L1047.25 367.8L1047.75 367.5L1047.75 367.8L1048.25 367.5L1048.25 367.5L1048.75 367.5L1048.75 367.7L1049.25 368.1L1049.25 367.8L1049.75 368.2L1049.75 368.6L1050.25 368.9L1050.25 368.6L1050.75 369L1050.75 369.1L1051.25 369.1L1051.25 369L1051.75 368.7L1051.75 369L1052.25 368.7L1052.25 368.3L1052.75 367.8L1052.75 368.2L1053.25 367.8L1053.25 367.6L1053.75 367.5L1053.75 367.5L1054.25 367.7L1054.25 367.5L1054.75 367.7L1054.75 368.1L1055.25 368.5L1055.25 368.2L1055.75 368.6L1055.75 368.9L1056.25 369.1L1056.25 369L1056.75 369.1L1056.75 369.1L1057.25 369L1057.25 368.8L1057.75 368.3L1057.75 368.7L1058.25 368.3L1058.25 367.9L1058.75 367.6L1058.75 367.8L1059.25 367.5L1059.25 367.5L1059.75 367.5L1059.75 367.7L1060.25 368L1060.25 367.7L1060.75 368.1L1060.75 368.5L1061.25 368.9L1061.25 368.6L1061.75 368.9L1061.75 369.1L1062.25 369.1L1062.25 369.1L1062.75 368.8L1062.75 369.1L1063.25 368.7L1063.25 368.3L1063.75 367.9L1063.75 368.3L1064.25 367.8L1064.25 367.5L1064.75 367.4L1064.75 367.5L1065.25 367.6L1065.25 367.5L1065.75 367.7L1065.75 368L1066.25 368.5L1066.25 368.1L1066.75 368.6L1066.75 368.9L1067.25 369.1L1067.25 369L1067.75 369.1L1067.75 369.2L1068.25 369.1L1068.25 368.8L1068.75 368.3L1068.75 368.7L1069.25 368.2L1069.25 367.9L1069.75 367.5L1069.75 367.8L1070.25 367.5L1070.25 367.4L1070.75 367.5L1070.75 367.6L1071.25 368.1L1071.25 367.7L1071.75 368.1L1071.75 368.5L1072.25 369L1072.25 368.6L1072.75 369L1072.75 369.2L1073.25 369.2L1073.25 369.1L1073.75 368.8L1073.75 369L1074.25 368.7L1074.25 368.2L1074.75 367.8L1074.75 368.2L1075.25 367.7L1075.25 367.5L1075.75 367.4L1075.75 367.5L1076.25 367.7L1076.25 367.5L1076.75 367.7L1076.75 368.1L1077.25 368.6L1077.25 368.2L1077.75 368.7L1077.75 369L1078.25 369.2L1078.25 369.1L1078.75 369.1L1078.75 369.2L1079.25 369L1079.25 368.7L1079.75 368.2L1079.75 368.6L1080.25 368.1L1080.25 367.7L1080.75 367.4L1080.75 367.6L1081.25 367.5L1081.25 367.4L1081.75 367.5L1081.75 367.7L1082.25 368.2L1082.25 367.8L1082.75 368.3L1082.75 368.7L1083.25 369.1L1083.25 368.8L1083.75 369.1L1083.75 369.2L1084.25 369.2L1084.25 369L1084.75 368.5L1084.75 369L1085.25 368.5L1085.25 368L1085.75 367.6L1085.75 368L1086.25 367.6L1086.25 367.4L1086.75 367.4L1086.75 367.5L1087.25 367.9L1087.25 367.5L1087.75 367.9L1087.75 368.4L1088.25 368.9L1088.25 368.4L1088.75 369L1088.75 369.2L1089.25 369.2L1089.25 369.2L1089.75 368.9L1089.75 369.2L1090.25 368.8L1090.25 368.4L1090.75 367.9L1090.75 368.4L1091.25 367.8L1091.25 367.5L1091.75 367.4L1091.75 367.5L1092.25 367.6L1092.25 367.4L1092.75 367.6L1092.75 368.1L1093.25 368.6L1093.25 368.1L1093.75 368.6L1093.75 369L1094.25 369.2L1094.25 369.1L1094.75 369.1L1094.75 369.2L1095.25 369.1L1095.25 368.7L1095.75 368.2L1095.75 368.6L1096.25 368.1L1096.25 367.7L1096.75 367.4L1096.75 367.6L1097.25 367.4L1097.25 367.3L1097.75 367.4L1097.75 367.7L1098.25 368.2L1098.25 367.8L1098.75 368.3L1098.75 368.8L1099.25 369.2L1099.25 368.9L1099.75 369.2L1099.75 369.3L1100.25 369.2L1100.25 369L1100.75 368.5L1100.75 369L1101.25 368.5L1101.25 367.9L1101.75 367.5L1101.75 367.8L1102.25 367.4L1102.25 367.3L1102.75 367.3L1102.75 367.5L1103.25 368L1103.25 367.5L1103.75 368.1L1103.75 368.5L1104.25 369L1104.25 368.6L1104.75 369.1L1104.75 369.3L1105.25 369.3L1105.25 369.2L1105.75 368.8L1105.75 369.2L1106.25 368.7L1106.25 368.2L1106.75 367.6L1106.75 368.1L1107.25 367.6L1107.25 367.3L1107.75 367.3L1107.75 367.3L1108.25 367.7L1108.25 367.3L1108.75 367.8L1108.75 368.2L1109.25 368.9L1109.25 368.3L1109.75 369L1109.75 369.3L1110.25 369.4L1110.25 369.3L1110.75 369L1110.75 369.3L1111.25 369L1111.25 368.4L1111.75 367.8L1111.75 368.3L1112.25 367.7L1112.25 367.4L1112.75 367.2L1112.75 367.3L1113.25 367.5L1113.25 367.2L1113.75 367.5L1113.75 368.1L1114.25 368.7L1114.25 368.1L1114.75 368.7L1114.75 369.2L1115.25 369.4L1115.25 369.3L1115.75 369.2L1115.75 369.4L1116.25 369.2L1116.25 368.7L1116.75 368L1116.75 368.6L1117.25 368L1117.25 367.4L1117.75 367.2L1117.75 367.4L1118.25 367.3L1118.25 367.2L1118.75 367.4L1118.75 367.8L1119.25 368.4L1119.25 367.9L1119.75 368.5L1119.75 369.1L1120.25 369.4L1120.25 369.2L1120.75 369.3L1120.75 369.4L1121.25 369.3L1121.25 368.9L1121.75 368.2L1121.75 368.8L1122.25 368.1L1122.25 367.6L1122.75 367.2L1122.75 367.5L1123.25 367.2L1123.25 367.1L1123.75 367.3L1123.75 367.6L1124.25 368.4L1124.25 367.7L1124.75 368.4L1124.75 369L1125.25 369.4L1125.25 369.1L1125.75 369.4L1125.75 369.5L1126.25 369.4L1126.25 369.1L1126.75 368.3L1126.75 369L1127.25 368.2L1127.25 367.7L1127.75 367.2L1127.75 367.6L1128.25 367.2L1128.25 367.1L1128.75 367.2L1128.75 367.6L1129.25 368.2L1129.25 367.6L1129.75 368.3L1129.75 368.9L1130.25 369.4L1130.25 369L1130.75 369.4L1130.75 369.5L1131.25 369.5L1131.25 369.1L1131.75 368.5L1131.75 369L1132.25 368.4L1132.25 367.7L1132.75 367.2L1132.75 367.6L1133.25 367.2L1133.25 367.1L1133.75 367.1L1133.75 367.5L1134.25 368.1L1134.25 367.5L1134.75 368.2L1134.75 368.9L1135.25 369.4L1135.25 369L1135.75 369.5L1135.75 369.6L1136.25 369.5L1136.25 369.2L1136.75 368.4L1136.75 369.1L1137.25 368.3L1137.25 367.7L1137.75 367.2L1137.75 367.6L1138.25 367.1L1138.25 367L1138.75 367.1L1138.75 367.4L1139.25 368.1L1139.25 367.5L1139.75 368.2L1139.75 368.9L1140.25 369.5L1140.25 369L1140.75 369.5L1140.75 369.6L1141.25 369.5L1141.25 369.2L1141.75 368.5L1141.75 369.2L1142.25 368.4L1142.25 367.7L1142.75 367.1L1142.75 367.6L1143.25 367.1L1143.25 367L1143.75 367L1143.75 367.4L1144.25 368.1L1144.25 367.5L1144.75 368.3L1144.75 368.9L1145.25 369.5L1145.25 369L1145.75 369.6L1145.75 369.6L1146.25 369.6L1146.25 369.2L1146.75 368.4L1146.75 369.1L1147.25 368.3L1147.25 367.6L1147.75 367.1L1147.75 367.5L1148.25 367L1148.25 367L1148.75 367L1148.75 367.5L1149.25 368.2L1149.25 367.6L1149.75 368.3L1149.75 369.1L1150.25 369.6L1150.25 369.2L1150.75 369.6L1150.75 369.7L1151.25 369.5L1151.25 369.1L1151.75 368.2L1151.75 369L1152.25 368.1L1152.25 367.5L1152.75 367L1152.75 367.4L1153.25 367L1153.25 366.9L1153.75 367.1L1153.75 367.5L1154.25 368.5L1154.25 367.6L1154.75 368.6L1154.75 369.2L1155.25 369.7L1155.25 369.3L1155.75 369.6L1155.75 369.7L1156.25 369.5L1156.25 369L1156.75 368L1156.75 368.9L1157.25 367.9L1157.25 367.3L1157.75 366.9L1157.75 367.2L1158.25 367.1L1158.25 366.9L1158.75 367.1L1158.75 367.8L1159.25 368.7L1159.25 367.9L1159.75 368.8L1159.75 369.4L1160.25 369.7L1160.25 369.5L1160.75 369.5L1160.75 369.7L1161.25 369.4L1161.25 368.7L1161.75 367.8L1161.75 368.5L1162.25 367.7L1162.25 367L1162.75 366.8L1162.75 367L1163.25 367.2L1163.25 366.9L1163.75 367.3L1163.75 368.1L1164.25 369L1164.25 368.2L1164.75 369.1L1164.75 369.7L1165.25 369.8L1165.25 369.7L1165.75 369.2L1165.75 369.7L1166.25 369.1L1166.25 368.4L1166.75 367.5L1166.75 368.2L1167.25 367.4L1167.25 366.9L1167.75 366.8L1167.75 366.9L1168.25 367.5L1168.25 366.9L1168.75 367.7L1168.75 368.4L1169.25 369.4L1169.25 368.6L1169.75 369.5L1169.75 369.8L1170.25 369.8L1170.25 369.6L1170.75 368.9L1170.75 369.5L1171.25 368.8L1171.25 368L1171.75 367.1L1171.75 367.8L1172.25 367L1172.25 366.8L1172.75 366.8L1172.75 367.1L1173.25 367.9L1173.25 367.2L1173.75 368.1L1173.75 369L1174.25 369.7L1174.25 369.1L1174.75 369.7L1174.75 369.8L1175.25 369.8L1175.25 369.3L1175.75 368.4L1175.75 369.2L1176.25 368.3L1176.25 367.4L1176.75 366.8L1176.75 367.3L1177.25 366.9L1177.25 366.7L1177.75 366.9L1177.75 367.5L1178.25 368.5L1178.25 367.6L1178.75 368.6L1178.75 369.5L1179.25 369.9L1179.25 369.6L1179.75 369.6L1179.75 369.9L1180.25 369.5L1180.25 368.8L1180.75 367.7L1180.75 368.7L1181.25 367.6L1181.25 366.9L1181.75 366.7L1181.75 366.9L1182.25 367.2L1182.25 366.7L1182.75 367.3L1182.75 368.1L1183.25 369.2L1183.25 368.3L1183.75 369.3L1183.75 369.8L1184.25 369.9L1184.25 369.8L1184.75 369.1L1184.75 369.7L1185.25 369L1185.25 368.1L1185.75 367.1L1185.75 368L1186.25 367L1186.25 366.7L1186.75 366.7L1186.75 367L1187.25 367.8L1187.25 367.1L1187.75 368L1187.75 369L1188.25 369.7L1188.25 369.1L1188.75 369.8L1188.75 370L1189.25 369.9L1189.25 369.4L1189.75 368.4L1189.75 369.2L1190.25 368.2L1190.25 367.3L1190.75 366.7L1190.75 367.1L1191.25 366.8L1191.25 366.6L1191.75 366.9L1191.75 367.6L1192.25 368.8L1192.25 367.7L1192.75 368.9L1192.75 369.7L1193.25 370L1193.25 369.8L1193.75 369.5L1193.75 370L1194.25 369.4L1194.25 368.6L1194.75 367.4L1194.75 368.4L1195.25 367.2L1195.25 366.7L1195.75 366.6L1195.75 366.7L1196.25 367.4L1196.25 366.8L1196.75 367.6L1196.75 368.5L1197.25 369.6L1197.25 368.7L1197.75 369.7L1197.75 370L1198.25 370L1198.25 369.6L1198.75 368.7L1198.75 369.5L1199.25 368.5L1199.25 367.4L1199.75 366.7L1199.75 367.3L1200.25 366.6L1200.25 366.6L1200.75 366.7L1200.75 367.4L1201.25 368.5L1201.25 367.5L1201.75 368.6L1201.75 369.6L1202.25 370.1L1202.25 369.7L1202.75 369.7L1202.75 370.1L1203.25 369.5L1203.25 368.7L1203.75 367.6L1203.75 368.5L1204.25 367.4L1204.25 366.7L1204.75 366.5L1204.75 366.6L1205.25 367.4L1205.25 366.6L1205.75 367.5L1205.75 368.5L1206.25 369.7L1206.25 368.7L1206.75 369.8L1206.75 370.1L1207.25 370.1L1207.25 369.7L1207.75 368.6L1207.75 369.6L1208.25 368.4L1208.25 367.4L1208.75 366.6L1208.75 367.3L1209.25 366.6L1209.25 366.5L1209.75 366.7L1209.75 367.5L1210.25 368.7L1210.25 367.7L1210.75 368.8L1210.75 369.8L1211.25 370.1L1211.25 369.9L1211.75 369.7L1211.75 370.1L1212.25 369.5L1212.25 368.4L1212.75 367.3L1212.75 368.2L1213.25 367.1L1213.25 366.5L1213.75 366.5L1213.75 366.7L1214.25 367.7L1214.25 366.7L1214.75 367.9L1214.75 368.9L1215.25 369.9L1215.25 369.1L1215.75 370L1215.75 370.2L1216.25 370.1L1216.25 369.5L1216.75 368.1L1216.75 369.3L1217.25 367.9L1217.25 367L1217.75 366.4L1217.75 366.9L1218.25 366.8L1218.25 366.4L1218.75 366.9L1218.75 367.9L1219.25 369.3L1219.25 368L1219.75 369.4L1219.75 370.1L1220.25 370.2L1220.25 370L1220.75 369.1L1220.75 369.9L1221.25 369L1221.25 367.7L1221.75 366.7L1221.75 367.5L1222.25 366.6L1222.25 366.4L1222.75 366.4L1222.75 367.1L1223.25 368.3L1223.25 367.3L1223.75 368.5L1223.75 369.7L1224.25 370.2L1224.25 369.8L1224.75 369.8L1224.75 370.2L1225.25 369.6L1225.25 368.6L1225.75 367.3L1225.75 368.4L1226.25 367.2L1226.25 366.4L1226.75 366.4L1226.75 366.5L1227.25 367.6L1227.25 366.6L1227.75 367.8L1227.75 368.9L1228.25 370.1L1228.25 369.1L1228.75 370.1L1228.75 370.3L1229.25 370.1L1229.25 369.3L1229.75 368L1229.75 369.1L1230.25 367.8L1230.25 366.8L1230.75 366.3L1230.75 366.7L1231.25 366.9L1231.25 366.4L1231.75 367.1L1231.75 368.3L1232.25 369.6L1232.25 368.5L1232.75 369.8L1232.75 370.3L1233.25 370.3L1233.25 369.9L1233.75 368.7L1233.75 369.8L1234.25 368.5L1234.25 367.2L1234.75 366.4L1234.75 367L1235.25 366.6L1235.25 366.3L1235.75 366.7L1235.75 367.6L1236.25 369.2L1236.25 367.8L1236.75 369.4L1236.75 370.2L1237.25 370.3L1237.25 370.2L1237.75 369.2L1237.75 370.2L1238.25 369L1238.25 367.8L1238.75 366.5L1238.75 367.6L1239.25 366.4L1239.25 366.3L1239.75 366.4L1239.75 367.2L1240.25 368.6L1240.25 367.4L1240.75 368.8L1240.75 369.9L1241.25 370.4L1241.25 370L1241.75 369.7L1241.75 370.3L1242.25 369.5L1242.25 368.1L1242.75 366.8L1242.75 367.9L1243.25 366.7L1243.25 366.2L1243.75 366.2L1243.75 366.8L1244.25 368.1L1244.25 366.9L1244.75 368.3L1244.75 369.7L1245.25 370.4L1245.25 369.9L1245.75 369.9L1245.75 370.4L1246.25 369.8L1246.25 368.6L1246.75 366.9L1246.75 368.4L1247.25 366.8L1247.25 366.2L1247.75 366.2L1247.75 366.6L1248.25 367.9L1248.25 366.8L1248.75 368.1L1248.75 369.4L1249.25 370.4L1249.25 369.6L1249.75 370.2L1249.75 370.5L1250.25 370L1250.25 368.7L1250.75 367.2L1250.75 368.5L1251.25 367L1251.25 366.1L1251.75 366.1L1251.75 366.4L1252.25 367.6L1252.25 366.5L1252.75 367.9L1252.75 369.4L1253.25 370.4L1253.25 369.6L1253.75 370.2L1253.75 370.5L1254.25 370.1L1254.25 368.9L1254.75 367.1L1254.75 368.7L1255.25 366.9L1255.25 366.1L1255.75 366L1255.75 366.3L1256.25 367.7L1256.25 366.4L1256.75 368L1256.75 369.4L1257.25 370.5L1257.25 369.6L1257.75 370.3L1257.75 370.6L1258.25 370.2L1258.25 368.8L1258.75 367.1L1258.75 368.5L1259.25 366.9L1259.25 366.1L1259.75 366L1259.75 366.3L1260.25 367.7L1260.25 366.5L1260.75 368L1260.75 369.6L1261.25 370.6L1261.25 369.8L1261.75 370.2L1261.75 370.6L1262.25 370L1262.25 368.7L1262.75 367L1262.75 368.5L1263.25 366.8L1263.25 366L1263.75 365.9L1263.75 366.4L1264.25 368.1L1264.25 366.5L1264.75 368.4L1264.75 369.8L1265.25 370.7L1265.25 370L1265.75 370.1L1265.75 370.7L1266.25 369.9L1266.25 368.2L1266.75 366.6L1266.75 367.9L1267.25 366.4L1267.25 365.9L1267.75 365.9L1267.75 366.7L1268.25 368.5L1268.25 366.9L1268.75 368.7L1268.75 370.3L1269.25 370.7L1269.25 370.4L1269.75 369.6L1269.75 370.7L1270.25 369.4L1270.25 367.8L1270.75 366.2L1270.75 367.5L1271.25 366.1L1271.25 365.8L1271.75 366L1271.75 367.1L1272.25 369.2L1272.25 367.4L1272.75 369.5L1272.75 370.6L1273.25 370.8L1273.25 370.5L1273.75 369.1L1273.75 370.4L1274.25 368.8L1274.25 367.2L1274.75 365.8L1274.75 366.9L1275.25 366.2L1275.25 365.8L1275.75 366.3L1275.75 368L1276.25 369.9L1276.25 368.3L1276.75 370.1L1276.75 370.8L1277.25 370.8L1277.25 370.1L1277.75 368.3L1277.75 369.9L1278.25 368L1278.25 366.3L1278.75 365.7L1278.75 366.1L1279.25 367L1279.25 365.8L1279.75 367.3L1279.75 369L1280.25 370.7L1280.25 369.3L1280.75 370.7L1280.75 370.9L1281.25 370.6L1281.25 369.3L1281.75 367L1281.75 369L1282.25 366.7L1282.25 365.8L1282.75 365.7L1282.75 366.2L1283.25 368.1L1283.25 366.4L1283.75 368.4L1283.75 370.2L1284.25 370.9L1284.25 370.4L1284.75 370L1284.75 370.9L1285.25 369.8L1285.25 367.7L1285.75 366L1285.75 367.4L1286.25 365.9L1286.25 365.6L1286.75 365.9L1286.75 367.3L1287.25 369.7L1287.25 367.6L1287.75 370L1287.75 370.9L1288.25 371L1288.25 370.3L1288.75 368.4L1288.75 370.1L1289.25 368.1L1289.25 366.4L1289.75 365.6L1289.75 366.2L1290.25 366.8L1290.25 365.7L1290.75 367L1290.75 369.2L1291.25 370.8L1291.25 369.5L1291.75 370.7L1291.75 371L1292.25 370.5L1292.25 368.9L1292.75 366.7L1292.75 368.5L1293.25 366.4L1293.25 365.5L1293.75 365.5L1293.75 366.4L1294.25 368.9L1294.25 366.7L1294.75 369.2L1294.75 370.7L1295.25 371.1L1295.25 370.9L1295.75 369.1L1295.75 370.7L1296.25 368.8L1296.25 366.9L1296.75 365.5L1296.75 366.6L1297.25 366.3L1297.25 365.5L1297.75 366.5L1297.75 368.7L1298.25 370.7L1298.25 369.1L1298.75 370.9L1298.75 371.1L1299.25 370.8L1299.25 369.2L1299.75 366.9L1299.75 368.9L1300.25 366.6L1300.25 365.4L1300.75 365.4L1300.75 366.2L1301.25 368.8L1301.25 366.5L1301.75 369.2L1301.75 370.8L1302.25 371.2L1302.25 370.9L1302.75 369.1L1302.75 370.7L1303.25 368.7L1303.25 366.7L1303.75 365.4L1303.75 366.4L1304.25 366.4L1304.25 365.4L1304.75 366.7L1304.75 369.1L1305.25 371L1305.25 369.5L1305.75 370.8L1305.75 371.2L1306.25 370.5L1306.25 368.6L1306.75 366L1306.75 368.3L1307.25 365.8L1307.25 365.3L1307.75 365.5L1307.75 366.9L1308.25 369.7L1308.25 367.2L1308.75 370L1308.75 371.2L1309.25 371.3L1309.25 370.4L1309.75 367.9L1309.75 370.1L1310.25 367.5L1310.25 365.6L1310.75 365.3L1310.75 365.6L1311.25 367.6L1311.25 365.8L1311.75 368L1311.75 370.5L1312.25 371.4L1312.25 370.7L1312.75 369.6L1312.75 371.3L1313.25 369.2L1313.25 366.9L1313.75 365.2L1313.75 366.6L1314.25 366.2L1314.25 365.2L1314.75 366.5L1314.75 368.8L1315.25 371.2L1315.25 369.2L1315.75 371L1315.75 371.5L1316.25 370.8L1316.25 368.3L1316.75 365.8L1316.75 367.9L1317.25 365.6L1317.25 365.1L1317.75 365.5L1317.75 367.4L1318.25 370.2L1318.25 367.8L1318.75 370.6L1318.75 371.5L1319.25 371.5L1319.25 370L1319.75 366.7L1319.75 369.6L1320.25 366.3L1320.25 365L1320.75 365L1320.75 366.4L1321.25 369.3L1321.25 366.7L1321.75 369.7L1321.75 371.4L1322.25 371.6L1322.25 370.8L1322.75 368L1322.75 370.5L1323.25 367.5L1323.25 365.2L1323.75 364.9L1323.75 365.4L1324.25 368.5L1324.25 365.7L1324.75 368.9L1324.75 371.2L1325.25 371.7L1325.25 371.3L1325.75 368.7L1325.75 371L1326.25 368.2L1326.25 365.7L1326.75 364.8L1326.75 365.4L1327.25 367.5L1327.25 365.3L1327.75 367.9L1327.75 370.9L1328.25 371.8L1328.25 371.2L1328.75 369.1L1328.75 371.5L1329.25 368.6L1329.25 365.9L1329.75 364.8L1329.75 365.6L1330.25 367.2L1330.25 364.9L1330.75 367.7L1330.75 370.5L1331.25 371.9L1331.25 370.9L1331.75 369.6L1331.75 371.6L1332.25 369.1L1332.25 365.8L1332.75 364.7L1332.75 365.5L1333.25 366.9L1333.25 364.9L1333.75 367.4L1333.75 370.7L1334.25 372L1334.25 371.1L1334.75 369.3L1334.75 371.8L1335.25 368.8L1335.25 365.8L1335.75 364.6L1335.75 365.5L1336.25 367.4L1336.25 365L1336.75 367.9L1336.75 370.9L1337.25 372L1337.25 371.2L1337.75 369.1L1337.75 371.6L1338.25 368.5L1338.25 365.2L1338.75 364.5L1338.75 364.9L1339.25 368.4L1339.25 365.1L1339.75 368.9L1339.75 371.6L1340.25 372.1L1340.25 371.6L1340.75 367.8L1340.75 371.3L1341.25 367.3L1341.25 364.8L1341.75 364.5L1341.75 365.6L1342.25 369.3L1342.25 366L1342.75 369.8L1342.75 372.2L1343.25 372.2L1343.25 370.6L1343.75 366.2L1343.75 370.1L1344.25 365.7L1344.25 364.4L1344.75 364.5L1344.75 366.6L1345.25 371.1L1345.25 367.2L1345.75 371.5L1345.75 372.3L1346.25 371.9L1346.25 368.5L1346.75 364.9L1346.75 367.9L1347.25 365.2L1347.25 364.3L1347.75 365.6L1347.75 369.1L1348.25 372.3L1348.25 369.8L1348.75 370.6L1348.75 372.4L1349.25 370L1349.25 366.3L1349.75 364.1L1349.75 365.7L1350.25 367.2L1350.25 364.4L1350.75 367.9L1350.75 371.9L1351.25 372.6L1351.25 371.9L1351.75 367.9L1351.75 371.5L1352.25 367.2L1352.25 364L1352.75 364L1352.75 365.8L1353.25 371L1353.25 366.4L1353.75 371.6L1353.75 372.7L1354.25 372.4L1354.25 368.4L1354.75 364.3L1354.75 367.7L1355.25 364.9L1355.25 363.8L1355.75 365.4L1355.75 370.3L1356.25 372.8L1356.25 371L1356.75 369.1L1356.75 372.7L1357.25 368.4L1357.25 364.4L1357.75 363.7L1357.75 365L1358.25 370L1358.25 365.6L1358.75 370.7L1358.75 373L1359.25 372.9L1359.25 369.2L1359.75 364.3L1359.75 368.4L1360.25 365L1360.25 363.6L1360.75 365.7L1360.75 370.4L1361.25 373.1L1361.25 371.1L1361.75 368.6L1361.75 372.6L1362.25 367.8L1362.25 363.9L1362.75 363.4L1362.75 365.7L1363.25 371.4L1363.25 366.4L1363.75 372L1363.75 373.2L1364.25 372L1364.25 367.2L1364.75 363.3L1364.75 366.4L1365.25 367.3L1365.25 363.5L1365.75 368.2L1365.75 373.1L1366.25 373.3L1366.25 371.2L1366.75 365.1L1366.75 370.4L1367.25 364.4L1367.25 363.2L1367.75 364.7L1367.75 370L1368.25 373.4L1368.25 370.9L1368.75 368.2L1368.75 372.9L1369.25 367.2L1369.25 363.1L1369.75 363.1L1369.75 367L1370.25 373L1370.25 368L1370.75 370.8L1370.75 373.6L1371.25 369.9L1371.25 364.2L1371.75 363L1371.75 364.9L1372.25 371.7L1372.25 365.7L1372.75 372.4L1372.75 373.7L1373.25 371.6L1373.25 365.5L1373.75 362.9L1373.75 364.6L1374.25 370.7L1374.25 363.8L1374.75 371.7L1374.75 373.8L1375.25 373.1L1375.25 366.1L1375.75 362.8L1375.75 365.1L1376.25 370.5L1376.25 363.4L1376.75 371.5L1376.75 373.9L1377.25 373.1L1377.25 366.9L1377.75 362.6L1377.75 365.8L1378.25 370.2L1378.25 363.7L1378.75 371.4L1378.75 374L1379.25 372.5L1379.25 365.5L1379.75 362.5L1379.75 364.4L1380.25 372.3L1380.25 364.9L1380.75 372.7L1380.75 374.3L1381.25 371.6L1381.25 362.9L1381.75 362.1L1381.75 365.4L1382.25 374.6L1382.25 366.8L1382.75 368.7L1382.75 374.7L1383.25 367.1L1383.25 361.7L1383.75 362.6L1383.75 371.1L1384.25 375.1L1384.25 372.5L1384.75 362.4L1384.75 371.5L1385.25 365.9L1385.25 361.3L1385.75 367.6L1385.75 375.4L1386.25 375L1386.25 365.6L1386.75 361L1386.75 363.9L1387.25 375.4L1387.25 365.6L1387.75 366.1L1387.75 375.8L1388.25 364.2L1388.25 360.2L1388.75 363.4L1388.75 375.7L1389.25 376.9L1389.25 366.4L1389.75 359.1L1389.75 363.9L1390.25 378L1390.25 363.1L1390.75 363.3L1390.75 377.8L1391.25 366.9L1391.25 357.8L1391.75 370.6L1391.75 381.1L1392.25 377L1392.25 355.7L1392.75 356L1392.75 372.6L1393.25 373L1393.25 368.6L1393.75 365.7L1393.75 367.6L1394.25 369.5L1394.25 367.7L1394.75 367.5L1394.75 369.2L1395.25 368.5L1395.25 367.4L1395.75 368.7L1395.75 369.1L1396.25 368.4L1396.25 367.6L1396.75 367.9L1396.75 368.8L1397.25 368.9L1397.25 368L1397.75 367.8L1397.75 368.2L1398.25 368.7L1398.25 368.4L1398.75 368L1398.75 368.4L1399.25 368.5L1399.25 368L1399.75 368.2L1399.75 368.6L1400.25 368.1L1400.25 368L1400.75 368.2L1400.75 368.6L1401.25 368.5L1401.25 368L1401.75 368L1401.75 368.5L1402.25 368.6L1402.25 368.3L1402.75 368L1402.75 368.2L1403.25 368.6L1403.25 368.2L1403.75 368.1L1403.75 368.6L1404.25 368.4L1404.25 368L1404.75 368.5L1404.75 368.6L1405.25 368.4L1405.25 368L1405.75 368.1L1405.75 368.6L1406.25 368.6L1406.25 368.1L1406.75 368L1406.75 368.2L1407.25 368.6L1407.25 368.3L1407.75 368L1407.75 368.5L1408.25 368.5L1408.25 368L1408.75 368.2L1408.75 368.6L1409.25 368.1L1409.25 368L1409.75 368.2L1409.75 368.6L1410.25 368.5L1410.25 368L1410.75 368L1410.75 368.4L1411.25 368.6L1411.25 368.4L1411.75 368L1411.75 368.3L1412.25 368.6L1412.25 368.1L1412.75 368.1L1412.75 368.6L1413.25 368.4L1413.25 368L1413.75 368.4L1413.75 368.6L1414.25 368.4L1414.25 368L1414.75 368L1414.75 368.6L1415.25 368.6L1415.25 368.2L1415.75 368L1415.75 368.2L1416.25 368.6L1416.25 368.3L1416.75 368L1416.75 368.5L1417.25 368.5L1417.25 368L1417.75 368.3L1417.75 368.6L1418.25 368.3L1418.25 368L1418.75 368.2L1418.75 368.6L1419.25 368.6L1419.25 368.1L1419.75 368L1419.75 368.4L1420.25 368.6L1420.25 368.4L1420.75 368L1420.75 368.3L1421.25 368.6L1421.25 368.1L1421.75 368.1L1421.75 368.6L1422.25 368.2L1422.25 368L1422.75 368.3L1422.75 368.6L1423.25 368.4L1423.25 368L1423.75 368L1423.75 368.5L1424.25 368.6L1424.25 368.2L1424.75 368L1424.75 368.2L1425.25 368.6L1425.25 368.3L1425.75 368.1L1425.75 368.5L1426.25 368.5L1426.25 368L1426.75 368.4L1426.75 368.6L1427.25 368.3L1427.25 368L1427.75 368.2L1427.75 368.6L1428.25 368.5L1428.25 368.1L1428.75 368L1428.75 368.3L1429.25 368.6L1429.25 368.4L1429.75 368L1429.75 368.4L1430.25 368.5L1430.25 368.1L1430.75 368.2L1430.75 368.6L1431.25 368.2L1431.25 368L1431.75 368.3L1431.75 368.5L1432.25 368.4L1432.25 368.1L1432.75 368.1L1432.75 368.5L1433.25 368.5L1433.25 368.3L1433.75 368.1L1433.75 368.2L1434.25 368.5L1434.25 368.2L1434.75 368.1L1434.75 368.5L1435.25 368.4L1435.25 368.1L1435.75 368.4L1435.75 368.5L1436.25 368.3L1436.25 368.1L1436.75 368.1L1436.75 368.5L1437.25 368.5L1437.25 368.2L1437.75 368.1L1437.75 368.3L1438.25 368.5L1438.25 368.4L1438.75 368.1L1438.75 368.4L1439.25 368.5L1439.25 368.1L1439.75 368.3L1439.75 368.5" stroke="#dd8452" stroke-opacity="0.5"/>
<path d="M200.12 363.9L200.12 350.1L200.38 341.9L200.38 342.4L200.62 363.8L200.62 347.8L200.88 334.9L200.88 343.9L201.12 336.8L201.12 336.1L201.38 329.9L201.38 333.4L201.62 350L201.62 346.1L201.88 333L201.88 333L202.12 322.6L202.12 317.5L202.38 341.4L202.38 359.9L202.62 364.6L202.62 364L202.88 353.2L202.88 360.4L203.12 361.4L203.12 352.3L203.38 359.9L203.38 360.9L203.62 366.7L203.62 366.7L203.88 364.8L203.88 368L204.12 357.9L204.12 348.9L204.38 344.4L204.38 352.4L204.62 361.8L204.62 347.5L204.88 347.7L204.88 358.6L205.12 365.2L205.12 356.1L205.38 346.6L205.38 346.6L205.62 343.9L205.62 343L205.88 346.7L205.88 349.5L206.12 364.2L206.12 354.5L206.38 347.2L206.38 348.9L206.62 362.9L206.62 355.9L206.88 343.8L206.88 354.7L207.12 347.6L207.12 347.6L207.38 350.2L207.38 366.5L207.62 350.1L207.62 345.7L207.88 351.2L207.88 355L208.12 365.9L208.12 360.4L208.38 357.6L208.38 360.3L208.62 366L208.62 362.1L208.88 351.9L208.88 351.9L209.12 347.7L209.12 345.4L209.38 355.2L209.38 359.6L209.62 361.4L209.62 353.7L209.88 340.6L209.88 351.4L210.12 333.4L210.12 331.4L210.38 331.2L210.38 341.1L210.62 355.9L210.62 355.9L210.88 337.5L210.88 352.4L211.12 332.1L211.12 326.2L211.38 323.7L211.38 327.7L211.62 353.2L211.62 337.3L211.88 332.3L211.88 354.9L212.12 343.9L212.12 331L212.38 355.3L212.38 355.3L212.62 354.5L212.62 353.2L212.88 344.2L212.88 362.6L213.12 360.5L213.12 352.1L213.38 345.1L213.38 347.4L213.62 357.6L213.62 351.1L213.88 362.9L213.88 366.6L214.12 360.7L214.12 360.7L214.38 344.3L214.38 351.2L214.62 337.8L214.62 337.4L214.88 352.4L214.88 360.9L215.12 352.1L215.12 347.8L215.38 349.2L215.38 351.7L215.62 358.3L215.62 351.7L215.88 364.5L215.88 364.5L216.12 361.8L216.12 347.1L216.38 338.2L216.38 339L216.62 356L216.62 348.1L216.88 360.2L216.88 360.6L217.12 366.6L217.12 354L217.38 353.9L217.38 361.8L217.62 357.4L217.62 357.4L217.88 351.1L217.88 356.2L218.12 368L218.12 354.2L218.38 347.9L218.38 349.8L218.62 352.8L218.62 349.7L218.88 345.4L218.88 350L219.12 353.7L219.12 346.8L219.38 364.8L219.38 364.8L219.62 359.1L219.62 358.7L219.88 348.4L219.88 353.7L220.12 348.3L220.12 347.2L220.38 341.6L220.38 346.7L220.62 353.3L220.62 340.8L220.88 347.5L220.88 360.7L221.12 344.3L221.12 344.3L221.38 350.1L221.38 355L221.62 362.5L221.62 357.3L221.88 359.4L221.88 367.4L222.12 363.9L222.12 360.4L222.38 351L222.38 353.7L222.62 357.5L222.62 354.2L222.88 357.4L222.88 357.4L223.12 358.8L223.12 353.7L223.38 365.7L223.38 367.2L223.62 364.3L223.62 363.8L223.88 362.1L223.88 364.6L224.12 350.2L224.12 348.5L224.38 358.6L224.38 365.4L224.62 363.2L224.62 363.2L224.88 365.6L224.88 365.7L225.12 358.3L225.12 353.1L225.38 348.1L225.38 348.2L225.62 347.9L225.62 347.3L225.88 352.6L225.88 357L226.12 356.6L226.12 354.5L226.38 354.6L226.38 354.6L226.62 346.6L226.62 345.1L226.88 351.7L226.88 353.5L227.12 348.6L227.12 346.1L227.38 344.8L227.38 347L227.62 355.3L227.62 353.5L227.88 355.3L227.88 359.2L228.12 358.8L228.12 358.8L228.38 344.6L228.38 357.3L228.62 351.5L228.62 340.6L228.88 345.2L228.88 360L229.12 336.3L229.12 333.8L229.38 341.3L229.38 349.2L229.62 354.1L229.62 352L229.88 345.6L229.88 345.6L230.12 366.5L230.12 350.2L230.38 348.3L230.38 351.4L230.62 358.3L230.62 352.5L230.88 352.1L230.88 363.8L231.12 357.1L231.12 352.2L231.38 358.2L231.38 362L231.62 349.1L231.62 349.1L231.88 350.5L231.88 354.3L232.12 354.3L232.12 347.5L232.38 328.7L232.38 336.5L232.62 353.2L232.62 335.6L232.88 364.3L232.88 365.7L233.12 361.7L233.12 355.7L233.38 330.8L233.38 330.8L233.62 333.3L233.62 321.6L233.88 358.3L233.88 359.1L234.12 366.7L234.12 357.9L234.38 352.2L234.38 355.4L234.62 366.2L234.62 356.9L234.88 348.1L234.88 357L235.12 342.2L235.12 342.2L235.38 330.6L235.38 333.8L235.62 352.8L235.62 338.5L235.88 347.7L235.88 363.5L236.12 335.7L236.12 329.1L236.38 342.6L236.38 367.2L236.62 350.8L236.62 350.3L236.88 357.3L236.88 357.3L237.12 360.4L237.12 346.4L237.38 333.2L237.38 339.5L237.62 348.8L237.62 336.3L237.88 356.9L237.88 357.4L238.12 349.7L238.12 345.9L238.38 353.4L238.38 363.4L238.62 355L238.62 355L238.88 356.4L238.88 356.7L239.12 349.7L239.12 346L239.38 349.3L239.38 362.1L239.62 354L239.62 345.9L239.88 348.3L239.88 357.4L240.12 359.2L240.12 356.5L240.38 358.3L240.38 361L240.62 360.9L240.62 360.9L240.88 350.7L240.88 358.4L241.12 350L241.12 345.9L241.38 358.3L241.38 367.6L241.62 366.1L241.62 363L241.88 355.5L241.88 355.9L242.12 365.3L242.12 362.8L242.38 361.4L242.38 361.4L242.62 359.1L242.62 358.7L242.88 353.6L242.88 359.6L243.12 347.4L243.12 343L243.38 344.7L243.38 354.1L243.62 365.3L243.62 352.4L243.88 324.4L243.88 334.1L244.12 331.7L244.12 331.7L244.38 353L244.38 365.6L244.62 363.6L244.62 348.4L244.88 344.9L244.88 349L245.12 350.1L245.12 342.6L245.38 333.8L245.38 338.4L245.62 353L245.62 348.9L245.88 349.8L245.88 349.8L246.12 346.5L246.12 346.1L246.38 349.1L246.38 356.9L246.62 359.5L246.62 352.6L246.88 354.4L246.88 358.4L247.12 354.1L247.12 342.6L247.38 332.9L247.38 335.2L247.62 338.5L247.62 338.5L247.88 350.4L247.88 363.5L248.12 352.9L248.12 340.4L248.38 340.7L248.38 352.3L248.62 367.8L248.62 363.2L248.88 353.4L248.88 360.5L249.12 354.2L249.12 353L249.38 353.2L249.38 353.2L249.62 353.2L249.62 352.3L249.88 350L249.88 362.2L250.12 340.9L250.12 331.6L250.38 335.4L250.38 359.7L250.62 357.1L250.62 337L250.88 360.2L250.88 362.1L251.12 356.5L251.12 356.5L251.38 359.3L251.38 363.7L251.62 348.6L251.62 340.5L251.88 348.5L251.88 353.6L252.12 359.9L252.12 354.2L252.38 339L252.38 356.7L252.62 354.5L252.62 339.7L252.88 363L252.88 363L253.12 360.3L253.12 356.4L253.38 362.2L253.38 367.1L253.62 355.1L253.62 352.3L253.88 358.6L253.88 365.5L254.12 362.2L254.12 354.2L254.38 352.3L254.38 357.1L254.62 363.8L254.62 363.8L254.88 352.3L254.88 361.8L255.12 341.5L255.12 341.2L255.38 337.8L255.38 358.2L255.62 329.4L255.62 326L255.88 330.6L255.88 343L256.12 352.9L256.12 334.2L256.38 331.5L256.38 331.5L256.62 344L256.62 338.3L256.88 349.7L256.88 360L257.12 346L257.12 333.8L257.38 336.5L257.38 349.3L257.62 361.3L257.62 353.6L257.88 341.1L257.88 348.8L258.12 341.7L258.12 341.7L258.38 349.4L258.38 358.6L258.62 358.6L258.62 349.9L258.88 350.3L258.88 359.9L259.12 347.9L259.12 344.2L259.38 347.6L259.38 358.1L259.62 333L259.62 331.8L259.88 345L259.88 345L260.12 362.3L260.12 353.5L260.38 354.4L260.38 363.4L260.62 361.5L260.62 359.8L260.88 351.6L260.88 356.3L261.12 360.2L261.12 358.9L261.38 351.4L261.38 353.7L261.62 362.8L261.62 362.8L261.88 352.5L261.88 365.1L262.12 338.7L262.12 326.8L262.38 325.8L262.38 344.5L262.62 359.6L262.62 344.5L262.88 350.6L262.88 364.4L263.12 365L263.12 363.3L263.38 356.3L263.38 356.3L263.62 358.7L263.62 357.7L263.88 358.8L263.88 363.2L264.12 360.9L264.12 348.5L264.38 345.7L264.38 357.8L264.62 357.8L264.62 347.6L264.88 350.3L264.88 357.2L265.12 349.6L265.12 349.6L265.38 328.3L265.38 336.2L265.62 343.2L265.62 330.7L265.88 353.2L265.88 362.1L266.12 367.9L266.12 366.8L266.38 363.1L266.38 367.3L266.62 358.3L266.62 351.8L266.88 351.8L266.88 351.8L267.12 364.3L267.12 356.2L267.38 343.1L267.38 351.6L267.62 346.9L267.62 345L267.88 336L267.88 343.3L268.12 340.4L268.12 331.8L268.38 352.1L268.38 353.1L268.62 334.3L268.62 334.3L268.88 326.4L268.88 335.9L269.12 355.1L269.12 335.7L269.38 338.5L269.38 352.9L269.62 348.3L269.62 347.4L269.88 345.2L269.88 355L270.12 337.4L270.12 335.1L270.38 334.7L270.38 334.7L270.62 349.1L270.62 340L270.88 329.1L270.88 345L271.12 323.6L271.12 323.5L271.38 332.1L271.38 343.7L271.62 350.6L271.62 347.6L271.88 328.5L271.88 336.6L272.12 334.4L272.12 334.4L272.38 344.2L272.38 354.6L272.62 354.7L272.62 343.6L272.88 332.1L272.88 341.8L273.12 354.6L273.12 342.4L273.38 344L273.38 353.6L273.62 358.2L273.62 357.1L273.88 353.8L273.88 353.8L274.12 346.1L274.12 340.7L274.38 337L274.38 337.2L274.62 345L274.62 343.4L274.88 339.4L274.88 339.5L275.12 366.1L275.12 352L275.38 352.6L275.38 365.7L275.62 348.3L275.62 348.3L275.88 359.6L275.88 363.1L276.12 363.2L276.12 353.7L276.38 341.5L276.38 343L276.62 363.3L276.62 343.3L276.88 336.1L276.88 352.4L277.12 361.6L277.12 360.7L277.38 356.4L277.38 356.4L277.62 342.5L277.62 340.9L277.88 348.6L277.88 348.8L278.12 344L278.12 340.9L278.38 353.7L278.38 363.1L278.62 363.9L278.62 356.8L278.88 335.4L278.88 348.3L279.12 334.7L279.12 332.3L279.38 340.8L279.38 340.8L279.62 358.6L279.62 350.1L279.88 364.6L279.88 365.3L280.12 357.3L280.12 350.7L280.38 347L280.38 347.6L280.62 349.2L280.62 347.6L280.88 358.4L280.88 360.4L281.12 350.5L281.12 350.5L281.38 347.1L281.38 347.7L281.62 354L281.62 347.3L281.88 329L281.88 333.4L282.12 348.7L282.12 345.7L282.38 337.6L282.38 340.5L282.62 356.7L282.62 343.6L282.88 346.5L282.88 346.5L283.12 355.4L283.12 350.6L283.38 316.5L283.38 331.5L283.62 339.3L283.62 318.9L283.88 360L283.88 361.6L284.12 352.6L284.12 348.4L284.38 349.4L284.38 353L284.62 357.1L284.62 357.1L284.88 361.5L284.88 362.5L285.12 348L285.12 345.6L285.38 350.7L285.38 360.6L285.62 350.2L285.62 348.9L285.88 343.5L285.88 351.3L286.12 349.9L286.12 346.4L286.38 338.3L286.38 338.3L286.62 332.5L286.62 331.6L286.88 324L286.88 329.6L287.12 329.3L287.12 322.6L287.38 344.9L287.38 353L287.62 352.9L287.62 348.2L287.88 350.8L287.88 366.5L288.12 342.5L288.12 342.5L288.38 347.6L288.38 359.1L288.62 367.2L288.62 364.5L288.88 365.8L288.88 366.4L289.12 358.5L289.12 349.4L289.38 347.7L289.38 348L289.62 350L289.62 347.3L289.88 359.5L289.88 359.5L290.12 364.4L290.12 363.6L290.38 364.5L290.38 365.1L290.62 366.4L290.62 355.5L290.88 342.5L290.88 343L291.12 362L291.12 349.6L291.38 343.8L291.38 350.3L291.62 362.3L291.62 362.3L291.88 363.1L291.88 366.9L292.12 357.8L292.12 357L292.38 356.4L292.38 364L292.62 341L292.62 337.3L292.88 344.2L292.88 357.8L293.12 359.4L293.12 351.9L293.38 353.5L293.38 353.5L293.62 362L293.62 351.8L293.88 334.1L293.88 338.3L294.12 354.5L294.12 340.8L294.38 336.9L294.38 348.4L294.62 350.2L294.62 339L294.88 350.3L294.88 354.7L295.12 360.8L295.12 360.8L295.38 355.2L295.38 355.7L295.62 359.6L295.62 358.6L295.88 359.6L295.88 359.7L296.12 357.5L296.12 354.8L296.38 348.8L296.38 351L296.62 350.2L296.62 349.8L296.88 349L296.88 349L297.12 347.9L297.12 346.9L297.38 353.8L297.38 355.9L297.62 353.9L297.62 352.4L297.88 360.3L297.88 361.4L298.12 361.1L298.12 360.8L298.38 352.3L298.38 356.1L298.62 358.9L298.62 358.9L298.88 335.6L298.88 351.8L299.12 349.5L299.12 334L299.38 338L299.38 355.6L299.62 360.7L299.62 342.7L299.88 358L299.88 359.3L300.12 359.8L300.12 343.3L300.38 341.1L300.38 341.1L300.62 361L300.62 349L300.88 356L300.88 362.3L301.12 359.7L301.12 352L301.38 361.4L301.38 362.7L301.62 364.2L301.62 363.7L301.88 362.7L301.88 366.8L302.12 367.9L302.12 367.9L302.38 362.7L302.38 363.7L302.62 361.2L302.62 359.5L302.88 363.3L302.88 363.6L303.12 359.3L303.12 355.6L303.38 350.7L303.38 354.9L303.62 349.8L303.62 349.1L303.88 352.6L303.88 352.6L304.12 353.3L304.12 349.1L304.38 346L304.38 346.6L304.62 356L304.62 347.8L304.88 362.9L304.88 366.9L305.12 365L305.12 362.2L305.38 342.7L305.38 353.6L305.62 341.1L305.62 341.1L305.88 355.7L305.88 360.5L306.12 356.4L306.12 353.4L306.38 349.2L306.38 352.8L306.62 355.3L306.62 349.1L306.88 325L306.88 330.6L307.12 330.1L307.12 323.8L307.38 345.1L307.38 345.1L307.62 359.1L307.62 353.1L307.88 354.4L307.88 355.6L308.12 353.7L308.12 351L308.38 341.6L308.38 348.4L308.62 338.1L308.62 336.8L308.88 346.9L308.88 364.2L309.12 349.4L309.12 349.4L309.38 343.4L309.38 346.5L309.62 360.3L309.62 355.4L309.88 353.7L309.88 357.6L310.12 338.3L310.12 332.4L310.38 342.8L310.38 356.8L310.62 365.7L310.62 358.7L310.88 350.9L310.88 350.9L311.12 356.9L311.12 346.4L311.38 348.4L311.38 358.4L311.62 348.5L311.62 348.1L311.88 343.8L311.88 345.8L312.12 367.4L312.12 351.3L312.38 357.8L312.38 367.6L312.62 347.1L312.62 347.1L312.88 343.9L312.88 355L313.12 363.8L313.12 350.8L313.38 349.3L313.38 361.2L313.62 344.4L313.62 334.2L313.88 332.2L313.88 334.8L314.12 332.5L314.12 325.9L314.38 353.9L314.38 353.9L314.62 353.6L314.62 351.8L314.88 319.5L314.88 343.1L315.12 309.9L315.12 308.4L315.38 324.7L315.38 348.3L315.62 368.2L315.62 358.8L315.88 353.4L315.88 356.9L316.12 357.7L316.12 357.7L316.38 334.2L316.38 354.7L316.62 340.5L316.62 333.7L316.88 324L316.88 337.5L317.12 324.7L317.12 315.4L317.38 343.1L317.38 354.3L317.62 364.6L317.62 357.4L317.88 333.6L317.88 342.8L318.12 335.1L318.12 335.1L318.38 344.2L318.38 357.9L318.62 362.5L318.62 356.4L318.88 359.9L318.88 363.2L319.12 367.3L319.12 356.2L319.38 352.9L319.38 363.6L319.62 354.6L319.62 350.9L319.88 364.3L319.88 364.3L320.12 364.1L320.12 361.2L320.38 361.6L320.38 364.5L320.62 358L320.62 355.2L320.88 355L320.88 356L321.12 358.3L321.12 350.1L321.38 347.6L321.38 355.8L321.62 363.1L321.62 363.1L321.88 356.3L321.88 359L322.12 357.8L322.12 350.5L322.38 350.8L322.38 351.4L322.62 357.3L322.62 349L322.88 353.9L322.88 355.6L323.12 355.8L323.12 355L323.38 350.4L323.38 350.4L323.62 360.5L323.62 345.1L323.88 329.9L323.88 331.5L324.12 349.7L324.12 337.5L324.38 350.7L324.38 356.9L324.62 342.7L324.62 335.8L324.88 338.1L324.88 339.3L325.12 338.5L325.12 338.5L325.38 340.7L325.38 346.9L325.62 358.3L325.62 358.1L325.88 339.1L325.88 346.5L326.12 367.7L326.12 346.9L326.38 349.9L326.38 350L326.62 356L326.62 354.1L326.88 365.5L326.88 365.5L327.12 363.1L327.12 362.7L327.38 361.6L327.38 366.2L327.62 366L327.62 365.7L327.88 353.3L327.88 357.6L328.12 366.9L328.12 357L328.38 341.9L328.38 354.2L328.62 345L328.62 345L328.88 356L328.88 363.1L329.12 351.2L329.12 351.2L329.38 350.8L329.38 360.6L329.62 350.9L329.62 335.4L329.88 339.3L329.88 357.3L330.12 366.1L330.12 363.4L330.38 348L330.38 348L330.62 335.8L330.62 335.7L330.88 354L330.88 354.3L331.12 345.7L331.12 341.9L331.38 350L331.38 365.3L331.62 357.3L331.62 348.2L331.88 365.7L331.88 365.8L332.12 360.2L332.12 360.2L332.38 352.7L332.38 354.9L332.62 348.4L332.62 348.4L332.88 358.7L332.88 365L333.12 356.2L333.12 355.7L333.38 353.3L333.38 365.2L333.62 348.5L333.62 344.5L333.88 343.4L333.88 343.4L334.12 360.5L334.12 348.4L334.38 362.7L334.38 365.7L334.62 365.8L334.62 356.4L334.88 338.2L334.88 348.9L335.12 338.1L335.12 336.3L335.38 338.1L335.38 342.5L335.62 353.3L335.62 353.3L335.88 359.7L335.88 366.3L336.12 353.6L336.12 340.5L336.38 325.8L336.38 327.6L336.62 363.6L336.62 349.1L336.88 355.4L336.88 362.2L337.12 341.3L337.12 340.5L337.38 345.4L337.38 345.4L337.62 347.5L337.62 345.4L337.88 355.4L337.88 358L338.12 343.5L338.12 342.7L338.38 347.9L338.38 355.1L338.62 361.8L338.62 343.3L338.88 335.2L338.88 338.4L339.12 347.5L339.12 347.5L339.38 355.4L339.38 360.9L339.62 364.2L339.62 362.3L339.88 356.2L339.88 358.1L340.12 365.8L340.12 363L340.38 365.1L340.38 366.1L340.62 361.5L340.62 351.2L340.88 349.2L340.88 349.2L341.12 360.3L341.12 356.1L341.38 353.7L341.38 364.8L341.62 346.1L341.62 336.8L341.88 338.2L341.88 345.3L342.12 359.2L342.12 358.3L342.38 352.9L342.38 354.5L342.62 364.8L342.62 364.8L342.88 334L342.88 346.9L343.12 337.9L343.12 330L343.38 354.4L343.38 361L343.62 360.7L343.62 352.6L343.88 362.2L343.88 365.9L344.12 357.9L344.12 353.3L344.38 349.6L344.38 349.6L344.62 345.3L344.62 339.6L344.88 346L344.88 364.2L345.12 360.1L345.12 359.1L345.38 362.4L345.38 365.1L345.62 351.5L345.62 346.2L345.88 352.5L345.88 360.2L346.12 356.1L346.12 356.1L346.38 337.1L346.38 343.9L346.62 359.5L346.62 348.1L346.88 313.4L346.88 333.2L347.12 306.8L347.12 306.5L347.38 312.3L347.38 319L347.62 334.5L347.62 327.4L347.88 345.5L347.88 345.5L348.12 362.3L348.12 358L348.38 358.3L348.38 359.8L348.62 365.9L348.62 354L348.88 344.6L348.88 348.9L349.12 361.5L349.12 359L349.38 359.3L349.38 360L349.62 342.9L349.62 342.9L349.88 337.3L349.88 351.1L350.12 353L350.12 335.8L350.38 338.8L350.38 347.8L350.62 344.7L350.62 339.9L350.88 349.6L350.88 366.2L351.12 350.7L351.12 347.4L351.38 354.5L351.38 354.5L351.62 364.8L351.62 344.3L351.88 332.9L351.88 338.7L352.12 365.2L352.12 352.9L352.38 361.1L352.38 364.5L352.62 355.6L352.62 354.1L352.88 344.2L352.88 362.4L353.12 342.5L353.12 342.5L353.38 343.9L353.38 357L353.62 323.8L353.62 321.6L353.88 334L353.88 357.4L354.12 344.5L354.12 340.8L354.38 331.2L354.38 362.1L354.62 311.7L354.62 311.6L354.88 333.3L354.88 333.3L355.12 362.2L355.12 344.6L355.38 338.1L355.38 338.8L355.62 342.4L355.62 336.3L355.88 348.1L355.88 357.4L356.12 338.6L356.12 336.8L356.38 345.1L356.38 355.3L356.62 352.6L356.62 349.4L356.88 356.6L356.88 356.6L357.12 353.6L357.12 353.4L357.38 346.5L357.38 352.8L357.62 355.5L357.62 343L357.88 331L357.88 336.4L358.12 347.8L358.12 345L358.38 340.8L358.38 346L358.62 354.5L358.62 354.5L358.88 349.6L358.88 355.1L359.12 350.5L359.12 346.8L359.38 354.9L359.38 355.3L359.62 342.6L359.62 332.7L359.88 325.8L359.88 328.7L360.12 351.6L360.12 337.3L360.38 366.7L360.38 366.7L360.62 346.6L360.62 333.8L360.88 342.4L360.88 363.3L361.12 339L361.12 338.2L361.38 351.2L361.38 353L361.62 344.3L361.62 336.4L361.88 333.6L361.88 337.8L362.12 358.2L362.12 358.2L362.38 341L362.38 348.1L362.62 367.1L362.62 328.2L362.88 319.4L362.88 342.2L363.12 364.2L363.12 363.3L363.38 342.5L363.38 349.8L363.62 359.1L363.62 352.8L363.88 358.9L363.88 358.9L364.12 353.3L364.12 344.9L364.38 343.6L364.38 350L364.62 353.5L364.62 338.7L364.88 340.3L364.88 358.1L365.12 353.7L365.12 353.4L365.38 358.3L365.38 363.2L365.62 357.1L365.62 357.1L365.88 340.2L365.88 345.1L366.12 361.2L366.12 348L366.38 347.2L366.38 355.3L366.62 346.9L366.62 344.9L366.88 353.3L366.88 360.6L367.12 366.7L367.12 356.1L367.38 346.9L367.38 346.9L367.62 359L367.62 347.7L367.88 347.7L367.88 359.7L368.12 357.4L368.12 350L368.38 350.2L368.38 357.5L368.62 355.8L368.62 344.5L368.88 362L368.88 368.1L369.12 354.6L369.12 354.6L369.38 344.8L369.38 346L369.62 365.7L369.62 357.2L369.88 334.3L369.88 347.1L370.12 343.9L370.12 340.2L370.38 341.9L370.38 345.5L370.62 362.9L370.62 347.7L370.88 346.2L370.88 346.2L371.12 366L371.12 351.4L371.38 351.1L371.38 362.9L371.62 349.8L371.62 340.9L371.88 337.6L371.88 337.7L372.12 359.5L372.12 345.7L372.38 341.6L372.38 352.6L372.62 343.9L372.62 343.9L372.88 355.8L372.88 356.2L373.12 344.5L373.12 342L373.38 347.2L373.38 357.8L373.62 359.6L373.62 353.6L373.88 349.7L373.88 351.5L374.12 365L374.12 362.6L374.38 357.1L374.38 357.1L374.62 354L374.62 351.4L374.88 356.7L374.88 358.7L375.12 346.6L375.12 340.5L375.38 346.8L375.38 358.9L375.62 367.4L375.62 367.4L375.88 363.2L375.88 366.7L376.12 354.3L376.12 354.3L376.38 347.8L376.38 354.5L376.62 358.2L376.62 338.5L376.88 334.2L376.88 350.6L377.12 364.1L377.12 363L377.38 361L377.38 363.6L377.62 364.1L377.62 361.4L377.88 349.1L377.88 349.1L378.12 353.8L378.12 353.5L378.38 334.1L378.38 340.8L378.62 356.9L378.62 323.6L378.88 312.7L378.88 315.3L379.12 332.5L379.12 326.5L379.38 338.6L379.38 351.3L379.62 364.7L379.62 364.7L379.88 358.1L379.88 358.3L380.12 339.6L380.12 334.4L380.38 337.5L380.38 350.3L380.62 359.3L380.62 351.1L380.88 339.6L380.88 343.3L381.12 344.5L381.12 342.2L381.38 342.9L381.38 342.9L381.62 353.8L381.62 347.4L381.88 359.3L381.88 361.7L382.12 358.9L382.12 355.6L382.38 358.8L382.38 362.3L382.62 360.4L382.62 356.7L382.88 363.4L382.88 364.1L383.12 359L383.12 359L383.38 346.7L383.38 348.2L383.62 357.3L383.62 342L383.88 337L383.88 349.6L384.12 348.8L384.12 345L384.38 349.3L384.38 354.4L384.62 359.3L384.62 346.4L384.88 339.9L384.88 339.9L385.12 323.6L385.12 315.2L385.38 317L385.38 329.1L385.62 343.1L385.62 339.6L385.88 346.3L385.88 350L386.12 351.5L386.12 351.5L386.38 350.9L386.38 355L386.62 358L386.62 358L386.88 355.5L386.88 357.4L387.12 366.1L387.12 354.4L387.38 357.9L387.38 368.1L387.62 362.9L387.62 358L387.88 359L387.88 364.9L388.12 347.3L388.12 340.6L388.38 358.3L388.38 358.3L388.62 350L388.62 335.3L388.88 336L388.88 351.7L389.12 352.5L389.12 321.8L389.38 311.3L389.38 315.8L389.62 350.5L389.62 331.9L389.88 347.7L389.88 361.9L390.12 343.1L390.12 343.1L390.38 349.6L390.38 360.5L390.62 355.2L390.62 341.5L390.88 330.6L390.88 334.1L391.12 361.7L391.12 349.9L391.38 357.6L391.38 365.6L391.62 343L391.62 338.8L391.88 345.2L391.88 345.2L392.12 355.3L392.12 328.4L392.38 318.8L392.38 321.1L392.62 360.9L392.62 340.3L392.88 347.6L392.88 357.1L393.12 332.5L393.12 320.4L393.38 324.4L393.38 337.8L393.62 349.9L393.62 349.9L393.88 350.1L393.88 350.8L394.12 361.1L394.12 345.4L394.38 333.5L394.38 336.4L394.62 347.1L394.62 337.5L394.88 336.2L394.88 346.3L395.12 329.5L395.12 323.9L395.38 322.5L395.38 329.1L395.62 329.5L395.62 329.5L395.88 314.4L395.88 319.3L396.12 339.2L396.12 319.1L396.38 357.3L396.38 357.5L396.62 357.8L396.62 351.6L396.88 335.7L396.88 345.5L397.12 333.6L397.12 327.7L397.38 343.7L397.38 343.7L397.62 353.3L397.62 349.4L397.88 353.3L397.88 358.3L398.12 358.2L398.12 353.6L398.38 339.3L398.38 351.2L398.62 334L398.62 332.8L398.88 343.6L398.88 361.5L399.12 344.2L399.12 344.2L399.38 339.6L399.38 346.2L399.62 355.3L399.62 354.5L399.88 360.1L399.88 362.1L400.12 350.4L400.12 350.3L400.38 356L400.38 362.2L400.62 363.5L400.62 354.2L400.88 349.1L400.88 349.1L401.12 347.9L401.12 346.5L401.38 348.8L401.38 363.8L401.62 349.9L401.62 344.9L401.88 354L401.88 359L402.12 347.7L402.12 336.4L402.38 324.7L402.38 329L402.62 346.3L402.62 346.3L402.88 339.3L402.88 345.3L403.12 339.1L403.12 333L403.38 324.3L403.38 325.5L403.62 343.3L403.62 332L403.88 348.6L403.88 349.2L404.12 349.8L404.12 349.3L404.38 355.2L404.38 355.2L404.62 360.1L404.62 353.7L404.88 360.5L404.88 363.2L405.12 367.5L405.12 366.1L405.38 356.7L405.38 359.7L405.62 359.2L405.62 359.1L405.88 347.2L405.88 351.3L406.12 352.8L406.12 352.8L406.38 359.9L406.38 365.5L406.62 362.2L406.62 361L406.88 352.9L406.88 364.5L407.12 343.6L407.12 340.1L407.38 343.4L407.38 353.4L407.62 358.8L407.62 345.3L407.88 344L407.88 344L408.12 362.9L408.12 350.8L408.38 349.6L408.38 355.1L408.62 345.7L408.62 339.5L408.88 335.4L408.88 337.6L409.12 353L409.12 352.8L409.38 351.6L409.38 358.7L409.62 339.5L409.62 339.5L409.88 329.7L409.88 334.9L410.12 352.2L410.12 343.8L410.38 357.8L410.38 364.3L410.62 359.6L410.62 359.1L410.88 356.7L410.88 359.6L411.12 353.8L411.12 342.6L411.38 328.2L411.38 328.2L411.62 345.1L411.62 329.9L411.88 344.1L411.88 366.8L412.12 354.4L412.12 341.9L412.38 363L412.38 366.2L412.62 362.8L412.62 349.8L412.88 332.9L412.88 339L413.12 334.1L413.12 334.1L413.38 339.7L413.38 343.2L413.62 364.7L413.62 351.4L413.88 332.2L413.88 344.7L414.12 347.1L414.12 337.6L414.38 349.1L414.38 349.1L414.62 364.1L414.62 352.7L414.88 364.4L414.88 364.4L415.12 343.6L415.12 329.5L415.38 335.5L415.38 356.2L415.62 352.9L415.62 346.9L415.88 351.5L415.88 361.1L416.12 361.3L416.12 356.8L416.38 348.7L416.38 352.4L416.62 354.2L416.62 354.2L416.88 339.2L416.88 343.5L417.12 349.6L417.12 345.1L417.38 353.7L417.38 360.4L417.62 357.6L417.62 355.7L417.88 331.3L417.88 347.3L418.12 365.7L418.12 333.5L418.38 327.8L418.38 327.8L418.62 323.4L418.62 314.9L418.88 332.1L418.88 339.9L419.12 365.4L419.12 349.5L419.38 347.7L419.38 348.5L419.62 356.4L419.62 348.4L419.88 353.2L419.88 364.5L420.12 346.4L420.12 346.4L420.38 356.1L420.38 365.8L420.62 359.6L420.62 356.5L420.88 356.9L420.88 362.4L421.12 351.2L421.12 349.1L421.38 360L421.38 361.5L421.62 345.8L421.62 342.4L421.88 356.7L421.88 356.7L422.12 356.4L422.12 347.3L422.38 340L422.38 340.6L422.62 348.7L422.62 339.4L422.88 359.1L422.88 360.9L423.12 349.4L423.12 338.2L423.38 332.5L423.38 335.4L423.62 337.6L423.62 337.6L423.88 342.5L423.88 364.5L424.12 342.4L424.12 332.9L424.38 337.9L424.38 352.7L424.62 359.1L424.62 353.8L424.88 350.5L424.88 351.1L425.12 361.4L425.12 358.3L425.38 357.9L425.38 357.9L425.62 361.4L425.62 358.9L425.88 350.2L425.88 358.1L426.12 353.8L426.12 348.8L426.38 349.7L426.38 351.6L426.62 350.2L426.62 348.6L426.88 347.4L426.88 356.7L427.12 333.8L427.12 333.8L427.38 334.6L427.38 344.3L427.62 348.7L427.62 348.6L427.88 347L427.88 348.1L428.12 354.5L428.12 350.4L428.38 329.4L428.38 350.9L428.62 345.9L428.62 326.3L428.88 354.2L428.88 354.2L429.12 339.2L429.12 337.6L429.38 343.5L429.38 350.4L429.62 358.2L429.62 358.2L429.88 344.5L429.88 348.3L430.12 360.3L430.12 349.9L430.38 365.7L430.38 366.7L430.62 363.4L430.62 363.4L430.88 367.1L430.88 367.4L431.12 365.2L431.12 361.9L431.38 361.4L431.38 363.8L431.62 364.5L431.62 364.2L431.88 360L431.88 360.4L432.12 363.2L432.12 343.4L432.38 331.4L432.38 331.4L432.62 351.6L432.62 337.4L432.88 360.1L432.88 367L433.12 351.7L433.12 341L433.38 327.6L433.38 336L433.62 334.9L433.62 326.2L433.88 342.2L433.88 355.1L434.12 361.5L434.12 347.4L434.38 337.7L434.38 337.7L434.62 330.7L434.62 329.3L434.88 340.5L434.88 341.4L435.12 349.7L435.12 343.1L435.38 352.2L435.38 352.2L435.62 340.7L435.62 334.8L435.88 345.3L435.88 360L436.12 359.4L436.12 359.4L436.38 347.6L436.38 350.8L436.62 368.1L436.62 350.9L436.88 354.3L436.88 361.5L437.12 362.1L437.12 355.4L437.38 338.7L437.38 345.1L437.62 354.5L437.62 327.2L437.88 320.4L437.88 320.4L438.12 339.6L438.12 329.6L438.38 336.5L438.38 338.8L438.62 362.3L438.62 344.9L438.88 357.6L438.88 359.3L439.12 358.1L439.12 339.5L439.38 328.9L439.38 330.4L439.62 333.2L439.62 333.2L439.88 338L439.88 348.2L440.12 330L440.12 312.8L440.38 315.9L440.38 344.8L440.62 341.5L440.62 333.8L440.88 317.6L440.88 333.5L441.12 339.5L441.12 325.2L441.38 348.4L441.38 348.4L441.62 339L441.62 332L441.88 339.4L441.88 344.5L442.12 352.1L442.12 350.9L442.38 354.8L442.38 356.4L442.62 347.6L442.62 333.9L442.88 326.8L442.88 330.2L443.12 338.6L443.12 338.6L443.38 330.7L443.38 338L443.62 320L443.62 317.4L443.88 323.7L443.88 334.8L444.12 360.6L444.12 348.6L444.38 363.2L444.38 364.2L444.62 363L444.62 359.9L444.88 353.5L444.88 353.5L445.12 344.8L445.12 335.4L445.38 340.3L445.38 362.3L445.62 346.5L445.62 337.5L445.88 345.9L445.88 352.3L446.12 363.9L446.12 359.2L446.38 357.3L446.38 362.6L446.62 358.9L446.62 358.9L446.88 342.8L446.88 365.5L447.12 344.5L447.12 332L447.38 366.8L447.38 367.1L447.62 355.2L447.62 350.1L447.88 349.7L447.88 356.4L448.12 361.4L448.12 344.7L448.38 328L448.38 328L448.62 326.3L448.62 322.5L448.88 333L448.88 344L449.12 351L449.12 350.8L449.38 355.2L449.38 357L449.62 357.1L449.62 349.7L449.88 344.5L449.88 354.5L450.12 354.5L450.12 354.5L450.38 350.7L450.38 354.5L450.62 352.8L450.62 341.6L450.88 330.2L450.88 330.8L451.12 342.6L451.12 335.4L451.38 354.4L451.38 356.9L451.62 349.9L451.62 347.7L451.88 349.7L451.88 349.7L452.12 358.3L452.12 353.9L452.38 357.4L452.38 360.3L452.62 354.7L452.62 351L452.88 354.6L452.88 357.5L453.12 358.9L453.12 350.6L453.38 352.1L453.38 354L453.62 349.9L453.62 349.9L453.88 350.4L453.88 355.1L454.12 342.3L454.12 340.2L454.38 355.6L454.38 363.6L454.62 363.5L454.62 362.6L454.88 365.5L454.88 366.4L455.12 364.8L455.12 364.5L455.38 364.7L455.38 364.7L455.62 359.6L455.62 357.1L455.88 362.1L455.88 365.9L456.12 360.6L456.12 357.5L456.38 351.4L456.38 360.3L456.62 358.8L456.62 357.8L456.88 349.9L456.88 355.3L457.12 360.2L457.12 360.2L457.38 339.6L457.38 350.2L457.62 358.3L457.62 343.9L457.88 363.7L457.88 365.2L458.12 364.6L458.12 363.3L458.38 356.9L458.38 364.9L458.62 359L458.62 356.3L458.88 357.9L458.88 357.9L459.12 356.6L459.12 355.2L459.38 348.1L459.38 362.6L459.62 352.7L459.62 346.1L459.88 349.9L459.88 365.8L460.12 343.6L460.12 340.2L460.38 333.4L460.38 335.3L460.62 346.9L460.62 346.9L460.88 324.5L460.88 351L461.12 330.2L461.12 321.6L461.38 326.9L461.38 330.9L461.62 334.6L461.62 332L461.88 328L461.88 329.1L462.12 362.4L462.12 343.2L462.38 363.2L462.38 363.2L462.62 352.5L462.62 351.7L462.88 349.5L462.88 365L463.12 343.1L463.12 341.6L463.38 336.6L463.38 341.6L463.62 327.8L463.62 319.8L463.88 315.5L463.88 318.9L464.12 330.3L464.12 330.3L464.38 344.2L464.38 358.5L464.62 352.2L464.62 349.2L464.88 337.8L464.88 355.1L465.12 327.6L465.12 325.7L465.38 345.5L465.38 356.6L465.62 350L465.62 344.3L465.88 360.8L465.88 360.8L466.12 360.4L466.12 354.3L466.38 327.2L466.38 339.2L466.62 358L466.62 338L466.88 359.2L466.88 359.6L467.12 362.1L467.12 356.3L467.38 355.1L467.38 363.1L467.62 344.1L467.62 344.1L467.88 339.4L467.88 345.9L468.12 355.2L468.12 352.8L468.38 354.6L468.38 364.4L468.62 360L468.62 355.7L468.88 338.8L468.88 341.3L469.12 359.3L469.12 354.2L469.38 355.5L469.38 355.5L469.62 355.1L469.62 351.1L469.88 354.2L469.88 360.3L470.12 335.2L470.12 322.1L470.38 324.6L470.38 333.4L470.62 349.5L470.62 344L470.88 347.6L470.88 349.9L471.12 339.6L471.12 339.6L471.38 334.1L471.38 338.1L471.62 365L471.62 351.5L471.88 363.5L471.88 365.3L472.12 363L472.12 359.7L472.38 353.5L472.38 358.1L472.62 360.5L472.62 352.1L472.88 348.9L472.88 359L473.12 347.9L473.12 347.9L473.38 347.8L473.38 348.3L473.62 344.2L473.62 343.3L473.88 352.1L473.88 357.3L474.12 364.1L474.12 363.5L474.38 357.5L474.38 359.4L474.62 363.9L474.62 358.3L474.88 350.8L474.88 350.8L475.12 355.5L475.12 352.8L475.38 347.7L475.38 349.4L475.62 363.9L475.62 356.8L475.88 355.4L475.88 356.3L476.12 355.1L476.12 347.1L476.38 341.1L476.38 345L476.62 359.7L476.62 359.7L476.88 355.7L476.88 359.4L477.12 367.4L477.12 360.3L477.38 363.5L477.38 364.7L477.62 365.1L477.62 364.5L477.88 365L477.88 367.5L478.12 367.5L478.12 365L478.38 360.3L478.38 360.3L478.62 355L478.62 352.8L478.88 354.5L478.88 361L479.12 357.6L479.12 342.5L479.38 324.9L479.38 328.7L479.62 347.9L479.62 333.7L479.88 356.2L479.88 358.6L480.12 349.5L480.12 349.5L480.38 350.8L480.38 357.3L480.62 354.7L480.62 348.1L480.88 346.5L480.88 353.3L481.12 352.2L481.12 341.4L481.38 343.1L481.38 351.8L481.62 359.8L481.62 358.2L481.88 353L481.88 353L482.12 341.2L482.12 334.2L482.38 341.3L482.38 353.5L482.62 359.2L482.62 349.3L482.88 341.2L482.88 341.9L483.12 357.9L483.12 348.8L483.38 363.2L483.38 364.6L483.62 355.7L483.62 355.7L483.88 352.2L483.88 361.3L484.12 362.7L484.12 360.9L484.38 361.7L484.38 364.2L484.62 353.4L484.62 347.5L484.88 348L484.88 355L485.12 361.5L485.12 359L485.38 359.6L485.38 359.6L485.62 349.1L485.62 337.6L485.88 327.8L485.88 329.4L486.12 336.8L486.12 335.4L486.38 342.9L486.38 355.6L486.62 359.2L486.62 352.1L486.88 349.3L486.88 349.7L487.12 349.5L487.12 349.5L487.38 350.2L487.38 352.2L487.62 345.3L487.62 343.9L487.88 346.6L487.88 354L488.12 333L488.12 323.8L488.38 320.5L488.38 329.1L488.62 352L488.62 347L488.88 340.8L488.88 340.8L489.12 361.6L489.12 345.6L489.38 344.5L489.38 347.2L489.62 362.7L489.62 352.6L489.88 361.4L489.88 364L490.12 359.9L490.12 353.8L490.38 343.2L490.38 348.8L490.62 341.7L490.62 341.7L490.88 350.1L490.88 360L491.12 357.4L491.12 346.3L491.38 338.5L491.38 342.4L491.62 362.5L491.62 356.2L491.88 361.6L491.88 362.9L492.12 362.1L492.12 361.4L492.38 357.3L492.38 357.3L492.62 352.8L492.62 349.9L492.88 351.4L492.88 357.3L493.12 364.6L493.12 360.6L493.38 364.4L493.38 365.5L493.62 364.8L493.62 363.7L493.88 364.4L493.88 364.8L494.12 364.4L494.12 364.4L494.38 365.6L494.38 366.6L494.62 365.3L494.62 363.1L494.88 355.5L494.88 361.9L495.12 346.7L495.12 343.1L495.38 349.9L495.38 365.3L495.62 351L495.62 349.2L495.88 349.4L495.88 349.4L496.12 355.9L496.12 347.8L496.38 356.9L496.38 364L496.62 366.5L496.62 345.4L496.88 331.9L496.88 334.9L497.12 359.2L497.12 346.7L497.38 356.2L497.38 364.7L497.62 347.6L497.62 347.6L497.88 336.1L497.88 341.6L498.12 322.1L498.12 313.2L498.38 314.2L498.38 316.5L498.62 339.7L498.62 325.2L498.88 345.3L498.88 364.5L499.12 359.6L499.12 347.9L499.38 360.4L499.38 360.4L499.62 353.7L499.62 352.9L499.88 361.5L499.88 361.8L500.12 361.5L500.12 360.4L500.38 357.1L500.38 362.5L500.62 352.3L500.62 341L500.88 333.8L500.88 339.2L501.12 350.8L501.12 350.8L501.38 347L501.38 360L501.62 344.2L501.62 342.1L501.88 356.2L501.88 365.2L502.12 362.4L502.12 344.4L502.38 330.9L502.38 331.2L502.62 353.8L502.62 344.2L502.88 356.1L502.88 356.1L503.12 365L503.12 360.5L503.38 362.7L503.38 364.3L503.62 367.3L503.62 364L503.88 341.9L503.88 356.5L504.12 334.7L504.12 334.6L504.38 344.5L504.38 362.3L504.62 358L504.62 358L504.88 340.5L504.88 345.1L505.12 352.5L505.12 345.3L505.38 361.3L505.38 362.8L505.62 354.8L505.62 354.3L505.88 354L505.88 355.2L506.12 353.7L506.12 353.2L506.38 358.6L506.38 358.6L506.62 361L506.62 359.6L506.88 360L506.88 362.4L507.12 360.5L507.12 360L507.38 355.2L507.38 357.9L507.62 360.8L507.62 358.5L507.88 342.3L507.88 360.1L508.12 326.5L508.12 326.5L508.38 319L508.38 325.6L508.62 344.6L508.62 337.4L508.88 352.5L508.88 368.1L509.12 359.7L509.12 359.5L509.38 340.9L509.38 341.4L509.62 364.3L509.62 356.9L509.88 368L509.88 368L510.12 352.6L510.12 341.9L510.38 339L510.38 351.7L510.62 354.5L510.62 340.9L510.88 346.2L510.88 359.5L511.12 359L511.12 357.2L511.38 351.9L511.38 355.8L511.62 348.1L511.62 343.5L511.88 337.2L511.88 337.2L512.12 331.6L512.12 328.7L512.38 344.5L512.38 362.7L512.62 361.8L512.62 355.4L512.88 341.4L512.88 345.7L513.12 363.9L513.12 351.1L513.38 358.8L513.38 364.3L513.62 359.3L513.62 359.3L513.88 361.6L513.88 362L514.12 351.8L514.12 343.9L514.38 347.2L514.38 353.4L514.62 338.2L514.62 335.3L514.88 347.2L514.88 350.4L515.12 355.2L515.12 352.2L515.38 339.5L515.38 339.5L515.62 337.8L515.62 334.3L515.88 346.8L515.88 354.1L516.12 342.7L516.12 336.6L516.38 353.5L516.38 363.2L516.62 345.3L516.62 320.7L516.88 312.7L516.88 330.7L517.12 355.9L517.12 355.9L517.38 334.5L517.38 338.2L517.62 358.4L517.62 352.8L517.88 356.1L517.88 359.1L518.12 360.3L518.12 358L518.38 346.2L518.38 349.7L518.62 354.3L518.62 353.4L518.88 356.2L518.88 356.2L519.12 362L519.12 354.1L519.38 356.8L519.38 359.5L519.62 349.7L519.62 349.5L519.88 351.2L519.88 352L520.12 362.6L520.12 358L520.38 355.5L520.38 358.1L520.62 353.9L520.62 353.9L520.88 357.4L520.88 359.8L521.12 356.3L521.12 351.2L521.38 354.2L521.38 363.5L521.62 367.3L521.62 358.8L521.88 355.6L521.88 367.7L522.12 358.1L522.12 356.4L522.38 365.7L522.38 365.7L522.62 363.8L522.62 358.7L522.88 346L522.88 348.9L523.12 352L523.12 351.2L523.38 326.6L523.38 340.2L523.62 333.2L523.62 323L523.88 344.4L523.88 352.4L524.12 337.5L524.12 337.5L524.38 346.7L524.38 349.6L524.62 337.3L524.62 335.3L524.88 347.4L524.88 350L525.12 353L525.12 351.7L525.38 328.1L525.38 340.7L525.62 353.5L525.62 330.3L525.88 324.3L525.88 324.3L526.12 316.1L526.12 311.1L526.38 338.5L526.38 350.7L526.62 343.9L526.62 334.8L526.88 341L526.88 356.2L527.12 356.9L527.12 349.2L527.38 350L527.38 355.4L527.62 356.3L527.62 356.3L527.88 357.3L527.88 359.6L528.12 360.5L528.12 357.2L528.38 350.4L528.38 353.5L528.62 351L528.62 349.6L528.88 352.2L528.88 358.8L529.12 353L529.12 347.9L529.38 349.7L529.38 349.7L529.62 358.1L529.62 358L529.88 343.9L529.88 347.6L530.12 357.5L530.12 353.1L530.38 349.2L530.38 350.7L530.62 364L530.62 357.1L530.88 345.5L530.88 350.3L531.12 358.2L531.12 358.2L531.38 330.2L531.38 345.8L531.62 336.6L531.62 328.5L531.88 348.3L531.88 354L532.12 353.4L532.12 347.1L532.38 348.9L532.38 362L532.62 359.5L532.62 358.8L532.88 347.3L532.88 347.3L533.12 339.9L533.12 336.6L533.38 332.7L533.38 334.7L533.62 359.3L533.62 345L533.88 332.4L533.88 335.8L534.12 359.6L534.12 348.5L534.38 325.6L534.38 345.1L534.62 320.5L534.62 320.5L534.88 334.1L534.88 348.1L535.12 348.4L535.12 348.2L535.38 348L535.38 350.5L535.62 354.5L535.62 347.1L535.88 332.2L535.88 338.4L536.12 339.1L536.12 330.2L536.38 344.9L536.38 344.9L536.62 343.3L536.62 343.2L536.88 334.2L536.88 339.7L537.12 339.4L537.12 334L537.38 348.6L537.38 350.6L537.62 347.3L537.62 344.4L537.88 345L537.88 353.4L538.12 359.8L538.12 359.8L538.38 348.2L538.38 348.9L538.62 362.2L538.62 349.4L538.88 347.2L538.88 360.8L539.12 358.3L539.12 357.8L539.38 341.9L539.38 352.8L539.62 339.1L539.62 331L539.88 363.3L539.88 363.3L540.12 344L540.12 341.6L540.38 360L540.38 360.2L540.62 363.2L540.62 363L540.88 362.3L540.88 362.8L541.12 360.3L541.12 358.7L541.38 354.7L541.38 357.1L541.62 354.2L541.62 354.2L541.88 356.6L541.88 362.5L542.12 363.2L542.12 355L542.38 348.5L542.38 352L542.62 361L542.62 357.8L542.88 352.5L542.88 356.1L543.12 365L543.12 351.1L543.38 346.3L543.38 346.3L543.62 365.2L543.62 357.5L543.88 361.8L543.88 364.4L544.12 361.4L544.12 355.1L544.38 355.2L544.38 364.8L544.62 366.4L544.62 361.8L544.88 345L544.88 357.3L545.12 338.7L545.12 338.7L545.38 345.6L545.38 359.1L545.62 361.8L545.62 354.7L545.88 339.9L545.88 347.8L546.12 336.1L546.12 333.1L546.38 339.7L546.38 355.7L546.62 363.4L546.62 359.7L546.88 358.6L546.88 358.6L547.12 341.6L547.12 338.4L547.38 350L547.38 361.6L547.62 344.1L547.62 338.5L547.88 343.8L547.88 351.8L548.12 361L548.12 349.7L548.38 334.4L548.38 337L548.62 342L548.62 342L548.88 355.7L548.88 359.5L549.12 361.5L549.12 355.9L549.38 354.9L549.38 360.2L549.62 357.7L549.62 355.8L549.88 348.1L549.88 355.4L550.12 347.8L550.12 345.3L550.38 322.9L550.38 335.4L550.62 321.4L550.62 321.4L550.88 342L550.88 355.8L551.12 331.8L551.12 324.9L551.38 328.5L551.38 331.9L551.62 355.3L551.62 340.7L551.88 345.8L551.88 358.8L552.12 350.1L552.12 345.4L552.38 357.1L552.38 357.1L552.62 360.9L552.62 354.9L552.88 352.6L552.88 354.9L553.12 362.1L553.12 357.4L553.38 346.9L553.38 348.4L553.62 356L553.62 344.5L553.88 331.8L553.88 346.5L554.12 351.1L554.12 351.1L554.38 341L554.38 341.8L554.62 341.4L554.62 328.7L554.88 321.1L554.88 328L555.12 345.9L555.12 337.7L555.38 357.8L555.38 358.7L555.62 364.8L555.62 355.4L555.88 360.8L555.88 360.8L556.12 363.8L556.12 358.5L556.38 331L556.38 342.6L556.62 343.4L556.62 327.9L556.88 336.2L556.88 360.7L557.12 337L557.12 327.7L557.38 354.7L557.38 357.7L557.62 359.1L557.62 359.1L557.88 358L557.88 360.2L558.12 363L558.12 362.8L558.38 325L558.38 345.4L558.62 313.6L558.62 312.1L558.88 316.3L558.88 324.2L559.12 337.3L559.12 329.6L559.38 349.3L559.38 349.3L559.62 347.4L559.62 309.3L559.88 296.9L559.88 303.1L560.12 296.9L560.12 290.7L560.38 303.1L560.38 309.3L560.62 360.4L560.62 345.7L560.88 355.4L560.88 359.1L561.12 366.3L561.12 366.3L561.38 347.7L561.38 357.9L561.62 348.2L561.62 343.1L561.88 354.6L561.88 355.4L562.12 363L562.12 355.3L562.38 332.6L562.38 349.8L562.62 351.9L562.62 333.6L562.88 362.9L562.88 362.9L563.12 367.3L563.12 360.5L563.38 357.1L563.38 361.7L563.62 347.1L563.62 330.9L563.88 319.5L563.88 322L564.12 330.2L564.12 322L564.38 342.1L564.38 361.1L564.62 349.6L564.62 349.6L564.88 342.5L564.88 353.7L565.12 346.5L565.12 332.5L565.38 313.4L565.38 320.4L565.62 340.9L565.62 318.5L565.88 358L565.88 362.8L566.12 365.6L566.12 364.9L566.38 365.9L566.38 365.9L566.62 355L566.62 338.8L566.88 329L566.88 329.2L567.12 362.6L567.12 344.1L567.38 329.5L567.38 342.5L567.62 321.3L567.62 321.3L567.88 330.4L567.88 348.2L568.12 360.3L568.12 360.3L568.38 359.9L568.38 363.9L568.62 360.6L568.62 356.3L568.88 320.1L568.88 340.4L569.12 336.6L569.12 320L569.38 342.8L569.38 361.3L569.62 353L569.62 343.6L569.88 356.5L569.88 356.5L570.12 348.9L570.12 348.6L570.38 353.3L570.38 358.1L570.62 365.6L570.62 360.7L570.88 360.4L570.88 361.5L571.12 364.2L571.12 363.2L571.38 357.9L571.38 361.8L571.62 355.5L571.62 355.5L571.88 346.4L571.88 349.6L572.12 365.8L572.12 362.9L572.38 356.3L572.38 361.4L572.62 363.7L572.62 359L572.88 355.9L572.88 357.4L573.12 361.1L573.12 358.7L573.38 346.6L573.38 346.6L573.62 331L573.62 326L573.88 334.4L573.88 352.6L574.12 359.6L574.12 356.1L574.38 355.9L574.38 360L574.62 365.8L574.62 363.6L574.88 343.8L574.88 356.4L575.12 341.1L575.12 341.1L575.38 353.5L575.38 358L575.62 357.6L575.62 349.5L575.88 356.6L575.88 366.9L576.12 344.5L576.12 329.7L576.38 317.7L576.38 322.3L576.62 361.4L576.62 338.1L576.88 356.2L576.88 356.2L577.12 359.4L577.12 355.3L577.38 336L577.38 342.9L577.62 360.3L577.62 344.9L577.88 363.2L577.88 363.4L578.12 362.4L578.12 357.6L578.38 355L578.38 364.2L578.62 355.4L578.62 355.4L578.88 353.6L578.88 359.1L579.12 364L579.12 361.1L579.38 353.2L579.38 355.9L579.62 350.7L579.62 344.6L579.88 339.6L579.88 344.9L580.12 366.9L580.12 357.7L580.38 366.8L580.38 366.8L580.62 364.2L580.62 363.7L580.88 352.6L580.88 362.1L581.12 362.6L581.12 354.8L581.38 347.4L581.38 348.2L581.62 356.7L581.62 352.5L581.88 358.1L581.88 361L582.12 348.5L582.12 348.5L582.38 340.2L582.38 341.4L582.62 358.4L582.62 351.4L582.88 361.3L582.88 365.6L583.12 367.3L583.12 359.7L583.38 359.5L583.38 364.8L583.62 362L583.62 360.9L583.88 363.8L583.88 363.8L584.12 366.2L584.12 365.3L584.38 348L584.38 362.2L584.62 350.6L584.62 340.8L584.88 352.7L584.88 363.1L585.12 365.8L585.12 339.3L585.38 326L585.38 326.4L585.62 339.4L585.62 339.4L585.88 359L585.88 360L586.12 360.3L586.12 355.8L586.38 341.9L586.38 343.5L586.62 361.3L586.62 352.7L586.88 353L586.88 364.9L587.12 351L587.12 349L587.38 355.7L587.38 355.7L587.62 355.6L587.62 347.3L587.88 334.3L587.88 338L588.12 344.6L588.12 338.2L588.38 349.3L588.38 349.8L588.62 347.3L588.62 345.7L588.88 345.1L588.88 347.7L589.12 337.1L589.12 331.6L589.38 334.9L589.38 334.9L589.62 353.2L589.62 350.1L589.88 351.4L589.88 358.9L590.12 360.6L590.12 356.4L590.38 344.7L590.38 346.3L590.62 345.6L590.62 342.7L590.88 352.8L590.88 353.3L591.12 330.2L591.12 330.2L591.38 319.6L591.38 327.8L591.62 354.8L591.62 342.7L591.88 359.5L591.88 365.9L592.12 363.3L592.12 358.5L592.38 358.5L592.38 364.1L592.62 346.8L592.62 339.8L592.88 347.2L592.88 347.2L593.12 366.9L593.12 361.7L593.38 364.9L593.38 366.6L593.62 367.3L593.62 367.1L593.88 355.6L593.88 360.9L594.12 350.5L594.12 348.2L594.38 352.9L594.38 357.7L594.62 363.6L594.62 363.6L594.88 366.6L594.88 368.2L595.12 361.8L595.12 359.5L595.38 361.6L595.38 366.8L595.62 363.4L595.62 360.4L595.88 352.5L595.88 352.9L596.12 352.6L596.12 350.9L596.38 348.3L596.38 348.3L596.62 364.3L596.62 352.6L596.88 358L596.88 366.3L597.12 347.4L597.12 337.6L597.38 334.9L597.38 339.1L597.62 365.9L597.62 350.9L597.88 358.2L597.88 359.6L598.12 362L598.12 362L598.38 360.5L598.38 366.6L598.62 365.5L598.62 358.8L598.88 347.5L598.88 353.8L599.12 367.5L599.12 353.4L599.38 360L599.38 362.2L599.62 360.5L599.62 355.2L599.88 356.4L599.88 356.4L600.12 353.2L600.12 347.2L600.38 346.3L600.38 354.4L600.62 348.1L600.62 343.5L600.88 345.7L600.88 354.5L601.12 356.9L601.12 343.1L601.38 322.4L601.38 328L601.62 333.2L601.62 333.2L601.88 345.8L601.88 354.7L602.12 339.9L602.12 329.6L602.38 314.7L602.38 319.1L602.62 342L602.62 321.2L602.88 356.4L602.88 362L603.12 360.1L603.12 359L603.38 361L603.38 361L603.62 368.1L603.62 363.3L603.88 354.6L603.88 364.9L604.12 339.7L604.12 329.5L604.38 323.2L604.38 323.6L604.62 333.8L604.62 330.3L604.88 331.7L604.88 333.6L605.12 338.9L605.12 338.9L605.38 349.9L605.38 367.6L605.62 346.2L605.62 338.2L605.88 335.6L605.88 360.8L606.12 334L606.12 318.9L606.38 357.3L606.38 358.5L606.62 358.1L606.62 353.7L606.88 363.5L606.88 363.5L607.12 359L607.12 356.7L607.38 343.1L607.38 344.4L607.62 365.3L607.62 351.6L607.88 340.6L607.88 358.5L608.12 326.6L608.12 323.2L608.38 332.9L608.38 342.1L608.62 345L608.62 345L608.88 344.3L608.88 344.3L609.12 352.3L609.12 345.3L609.38 362.6L609.38 364.3L609.62 366.5L609.62 362.6L609.88 364.7L609.88 366.2L610.12 358.6L610.12 347.6L610.38 343.2L610.38 343.2L610.62 336L610.62 325.7L610.88 320.5L610.88 329.3L611.12 366.9L611.12 335.2L611.38 338L611.38 366L611.62 338.6L611.62 328.5L611.88 335.7L611.88 349.5L612.12 361.4L612.12 361.4L612.38 355.3L612.38 358.6L612.62 348.2L612.62 340.4L612.88 348.9L612.88 350.4L613.12 345.4L613.12 342.9L613.38 338.8L613.38 345.4L613.62 334.3L613.62 330.7L613.88 324.1L613.88 324.1L614.12 324L614.12 319.4L614.38 341L614.38 362.7L614.62 351.6L614.62 350L614.88 357.5L614.88 361.7L615.12 347.4L615.12 328.5L615.38 332.8L615.38 352.1L615.62 345.6L615.62 345.6L615.88 338L615.88 346.4L616.12 360.3L616.12 351.8L616.38 339.9L616.38 346.1L616.62 358L616.62 343.1L616.88 349.3L616.88 352.2L617.12 347.3L617.12 345.9L617.38 353.3L617.38 353.3L617.62 357.8L617.62 353.9L617.88 335.4L617.88 340.1L618.12 350.9L618.12 347.2L618.38 336.9L618.38 348.9L618.62 361.5L618.62 357.9L618.88 327.5L618.88 337.7L619.12 335.6L619.12 335.6L619.38 354L619.38 361.4L619.62 352L619.62 338.4L619.88 331.1L619.88 332.9L620.12 339.2L620.12 337.1L620.38 341.7L620.38 352.4L620.62 362.9L620.62 354L620.88 350.6L620.88 350.6L621.12 360.4L621.12 344.7L621.38 339.8L621.38 344.2L621.62 360.4L621.62 356.7L621.88 357L621.88 360.2L622.12 353.1L622.12 352.5L622.38 354.9L622.38 356.7L622.62 350.9L622.62 350.9L622.88 343.6L622.88 349.3L623.12 343.8L623.12 340.3L623.38 349.8L623.38 354.8L623.62 357.9L623.62 356L623.88 350.2L623.88 350.5L624.12 352.3L624.12 342L624.38 331.3L624.38 331.3L624.62 356.9L624.62 336.2L624.88 344.6L624.88 347L625.12 358.1L625.12 354.3L625.38 349.9L625.38 353.3L625.62 354.3L625.62 344.7L625.88 327.5L625.88 331.1L626.12 341.6L626.12 341.6L626.38 346L626.38 360.4L626.62 340.1L626.62 335.9L626.88 353.2L626.88 355L627.12 355.4L627.12 345.4L627.38 353.2L627.38 363.2L627.62 358.5L627.62 351.3L627.88 322.4L627.88 328.6L628.12 335.2L628.12 335.2L628.38 354.8L628.38 360.7L628.62 361L628.62 350L628.88 336.6L628.88 337.7L629.12 352.4L629.12 340.8L629.38 332.6L629.38 332.6L629.62 353L629.62 343.8L629.88 348.6L629.88 348.6L630.12 338.1L630.12 326.4L630.38 318.9L630.38 320.7L630.62 318.4L630.62 316.1L630.88 325.9L630.88 339.2L631.12 359.8L631.12 349.6L631.38 341.5L631.38 343.8L631.62 341.7L631.62 341.7L631.88 339.5L631.88 342L632.12 347.9L632.12 339L632.38 340.3L632.38 364.8L632.62 339.4L632.62 334.8L632.88 340.4L632.88 340.8L633.12 366.3L633.12 347.3L633.38 346.4L633.38 346.4L633.62 352.1L633.62 342L633.88 361.9L633.88 367.4L634.12 365.2L634.12 351.3L634.38 350L634.38 357.8L634.62 367.5L634.62 366.3L634.88 364.4L634.88 366.7L635.12 356.7L635.12 356.7L635.38 354.1L635.38 361.1L635.62 363.3L635.62 359.8L635.88 357.1L635.88 359.7L636.12 361.3L636.12 354.7L636.38 363.6L636.38 364.5L636.62 354L636.62 352.1L636.88 366.2L636.88 366.2L637.12 355.8L637.12 350.5L637.38 338.1L637.38 346.4L637.62 360.4L637.62 340.9L637.88 335.2L637.88 349.4L638.12 336.9L638.12 331.8L638.38 351.2L638.38 357.4L638.62 338.7L638.62 338.7L638.88 332L638.88 335.8L639.12 364.8L639.12 348.2L639.38 347.8L639.38 351.4L639.62 358.6L639.62 353.8L639.88 349.4L639.88 357.7L640.12 338.5L640.12 337.6L640.38 352.6L640.38 352.6L640.62 364.3L640.62 358.4L640.88 342.7L640.88 351.3L641.12 341.3L641.12 337.2L641.38 331.4L641.38 339.2L641.62 367.4L641.62 351.1L641.88 358.3L641.88 363.1L642.12 344.4L642.12 344.4L642.38 334L642.38 339.1L642.62 351.8L642.62 351.6L642.88 351L642.88 356.9L643.12 366.8L643.12 360.4L643.38 359.1L643.38 365.3L643.62 365.8L643.62 359.2L643.88 354.7L643.88 354.7L644.12 362.9L644.12 353.8L644.38 344L644.38 346L644.62 347.2L644.62 331.7L644.88 331.9L644.88 332.5L645.12 349.5L645.12 337.3L645.38 330.3L645.38 346.1L645.62 322L645.62 322L645.88 320.2L645.88 322.6L646.12 348L646.12 339.1L646.38 333L646.38 335.2L646.62 350.5L646.62 342.1L646.88 342.3L646.88 349L647.12 351.8L647.12 345L647.38 351.4L647.38 351.4L647.62 356.1L647.62 350.9L647.88 355.1L647.88 356.2L648.12 362.3L648.12 356.8L648.38 332.1L648.38 346.3L648.62 344.7L648.62 332.8L648.88 353.4L648.88 357.2L649.12 358.2L649.12 358.2L649.38 347.8L649.38 351.3L649.62 352.1L649.62 348.1L649.88 352.5L649.88 357.9L650.12 352L650.12 349.6L650.38 345.5L650.38 347.1L650.62 342.6L650.62 341.5L650.88 341.6L650.88 341.6L651.12 350.1L651.12 341.3L651.38 335.8L651.38 346.8L651.62 343.7L651.62 333.2L651.88 351.9L651.88 353.4L652.12 352.1L652.12 349.6L652.38 349.9L652.38 352.2L652.62 346.4L652.62 346.4L652.88 320.5L652.88 327.1L653.12 356.6L653.12 334.3L653.38 354.9L653.38 364.1L653.62 340.8L653.62 340.5L653.88 354.1L653.88 359.1L654.12 366L654.12 350.7L654.38 346.3L654.38 346.3L654.62 340.5L654.62 336L654.88 353.2L654.88 367.8L655.12 356.3L655.12 351.5L655.38 358.1L655.38 365.1L655.62 352.7L655.62 338.7L655.88 329.9L655.88 331.2L656.12 343.6L656.12 343.6L656.38 351.9L656.38 363.2L656.62 351.2L656.62 347.6L656.88 322L656.88 325.1L657.12 355.1L657.12 349.2L657.38 352L657.38 353L657.62 345L657.62 332.1L657.88 328.1L657.88 328.1L658.12 324.5L658.12 318L658.38 313.3L658.38 314.1L658.62 340.9L658.62 323.8L658.88 347.1L658.88 349.7L659.12 357.4L659.12 355.6L659.38 348.3L659.38 353.5L659.62 364.2L659.62 364.2L659.88 350L659.88 355.4L660.12 365L660.12 356L660.38 364L660.38 365.4L660.62 358.9L660.62 346.5L660.88 345.5L660.88 353L661.12 361.6L661.12 359.6L661.38 363.7L661.38 363.7L661.62 363.1L661.62 357.2L661.88 354.3L661.88 358.7L662.12 367.4L662.12 362.6L662.38 357.6L662.38 358.4L662.62 367.6L662.62 362.4L662.88 360.9L662.88 364.1L663.12 368L663.12 368L663.38 351.5L663.38 355.9L663.62 363.7L663.62 360.3L663.88 360.7L663.88 361.6L664.12 352.4L664.12 345.1L664.38 333.8L664.38 337.8L664.62 359.1L664.62 343.3L664.88 362.2L664.88 362.2L665.12 367.3L665.12 345.1L665.38 342L665.38 361.7L665.62 355.8L665.62 354.6L665.88 350.6L665.88 363.3L666.12 360.8L666.12 355.4L666.38 350L666.38 366.6L666.62 333.9L666.62 327.2L666.88 332.3L666.88 332.3L667.12 343.1L667.12 342.7L667.38 338.6L667.38 338.6L667.62 347.6L667.62 341.3L667.88 345.5L667.88 348.9L668.12 342L668.12 341.8L668.38 352.6L668.38 357.1L668.62 353.7L668.62 353.7L668.88 338.4L668.88 349.9L669.12 334.6L669.12 332.2L669.38 341.2L669.38 344.3L669.62 338.9L669.62 338.5L669.88 351.1L669.88 353.7L670.12 362.5L670.12 351.1L670.38 360.1L670.38 360.1L670.62 359.1L670.62 347.7L670.88 348.5L670.88 358.4L671.12 356.9L671.12 350.1L671.38 353.1L671.38 359.4L671.62 357.8L671.62 354.2L671.88 340.8L671.88 342.6L672.12 356.5L672.12 356.5L672.38 339.8L672.38 341.1L672.62 352L672.62 332L672.88 326.6L672.88 334L673.12 340.8L673.12 335.5L673.38 325.4L673.38 327.7L673.62 353.8L673.62 337.3L673.88 350.7L673.88 350.7L674.12 356.6L674.12 345L674.38 320L674.38 334.9L674.62 344.2L674.62 322.1L674.88 353.4L674.88 363.8L675.12 363.4L675.12 355.3L675.38 341L675.38 357.5L675.62 335.4L675.62 335.4L675.88 337.2L675.88 347.7L676.12 356.2L676.12 353.8L676.38 355L676.38 357.8L676.62 348L676.62 339.7L676.88 340.2L676.88 348.1L677.12 367.4L677.12 359.1L677.38 355.8L677.38 355.8L677.62 354L677.62 352.1L677.88 357.4L677.88 363.8L678.12 365L678.12 353.9L678.38 345.8L678.38 347.3L678.62 361.3L678.62 356.4L678.88 359.9L678.88 367.3L679.12 352.1L679.12 352.1L679.38 333.6L679.38 339.8L679.62 355.3L679.62 336.2L679.88 348.4L679.88 356.5L680.12 361.5L680.12 357.5L680.38 354.9L680.38 356.1L680.62 360L680.62 359.7L680.88 350.8L680.88 350.8L681.12 341.5L681.12 337L681.38 345.6L681.38 357.9L681.62 364.4L681.62 354.9L681.88 358.4L681.88 363.2L682.12 347.3L682.12 340.7L682.38 347L682.38 350.5L682.62 343.7L682.62 343.7L682.88 329.2L682.88 333.2L683.12 360.7L683.12 341.6L683.38 360.4L683.38 360.9L683.62 364.5L683.62 358.4L683.88 332.4L683.88 343.7L684.12 349.6L684.12 338.3L684.38 358.1L684.38 358.1L684.62 359.7L684.62 359.3L684.88 363.5L684.88 364.5L685.12 365.4L685.12 353.6L685.38 336L685.38 342.9L685.62 333.4L685.62 330.3L685.88 330.8L685.88 334.6L686.12 334.7L686.12 334.7L686.38 338L686.38 348.8L686.62 363.3L686.62 345.4L686.88 339.4L686.88 343.7L687.12 359.9L687.12 351.5L687.38 351.3L687.38 361.2L687.62 339.1L687.62 339L687.88 351.6L687.88 351.6L688.12 360.2L688.12 348.2L688.38 341.7L688.38 343.4L688.62 346.5L688.62 343.2L688.88 346.9L688.88 347.6L689.12 362.4L689.12 341.6L689.38 334.5L689.38 344L689.62 364L689.62 364L689.88 336.8L689.88 343L690.12 351.7L690.12 342.3L690.38 343.7L690.38 354.1L690.62 351.3L690.62 340.5L690.88 351.6L690.88 367L691.12 344.3L691.12 342.5L691.38 347.1L691.38 347.1L691.62 362.4L691.62 352.8L691.88 362.1L691.88 364.6L692.12 362L692.12 360.5L692.38 360.4L692.38 361.3L692.62 362.7L692.62 357.2L692.88 356.5L692.88 358.7L693.12 349.8L693.12 349.8L693.38 344.4L693.38 349.3L693.62 352.2L693.62 350.1L693.88 347.8L693.88 350.1L694.12 356.2L694.12 343.5L694.38 333.1L694.38 334.5L694.62 357.9L694.62 343.4L694.88 352.8L694.88 352.8L695.12 358.5L695.12 354.3L695.38 354.4L695.38 359.6L695.62 356.4L695.62 347.9L695.88 349.5L695.88 349.9L696.12 334.3L696.12 332L696.38 344.4L696.38 352.4L696.62 336.8L696.62 336.8L696.88 334.2L696.88 335.8L697.12 331.2L697.12 328.7L697.38 329.9L697.38 337.8L697.62 343.8L697.62 342L697.88 342.1L697.88 350.2L698.12 350.5L698.12 340.3L698.38 343.3L698.38 343.3L698.62 355.1L698.62 354.2L698.88 339.6L698.88 354.7L699.12 340L699.12 333.7L699.38 350.4L699.38 357.3L699.62 367.9L699.62 362.2L699.88 350.5L699.88 359L700.12 348.9L700.12 348.9L700.38 354.7L700.38 367.8L700.62 352.6L700.62 349.9L700.88 356.5L700.88 363.8L701.12 367.6L701.12 363.3L701.38 362.7L701.38 366.6L701.62 364.3L701.62 358.2L701.88 351.2L701.88 351.2L702.12 356.9L702.12 350.2L702.38 352.7L702.38 356.6L702.62 357.4L702.62 352.7L702.88 351.1L702.88 365.6L703.12 337.8L703.12 329.8L703.38 325L703.38 325.3L703.62 332.7L703.62 332.7L703.88 339.8L703.88 351.5L704.12 366L704.12 365.7L704.38 346.7L704.38 359.6L704.62 343.6L704.62 341.9L704.88 344.7L704.88 349.4L705.12 364.5L705.12 347.7L705.38 346.5L705.38 353.1L705.62 364.6L705.62 364.6L705.88 364.4L705.88 366.8L706.12 353.1L706.12 346.8L706.38 357.6L706.38 359.8L706.62 344.4L706.62 331.9L706.88 325.9L706.88 332.7L707.12 359.5L707.12 333.5L707.38 323.4L707.38 323.4L707.62 345.4L707.62 331.1L707.88 336.6L707.88 347.7L708.12 341.6L708.12 331.5L708.38 351L708.38 353L708.62 343.9L708.62 343.6L708.88 350.8L708.88 359.9L709.12 356.7L709.12 356.7L709.38 335.9L709.38 346.5L709.62 343.8L709.62 334.2L709.88 346.9L709.88 361.4L710.12 334.9L710.12 333.2L710.38 344L710.38 350.7L710.62 322.4L710.62 314.9L710.88 324.2L710.88 324.2L711.12 350.8L711.12 341.4L711.38 352.3L711.38 357.9L711.62 358.4L711.62 356L711.88 351.9L711.88 362.2L712.12 350.2L712.12 347.3L712.38 353.6L712.38 359.8L712.62 355.3L712.62 355.3L712.88 342.9L712.88 353.4L713.12 358L713.12 348.9L713.38 342.3L713.38 346.8L713.62 342.6L713.62 339.9L713.88 353.6L713.88 356.7L714.12 355.2L714.12 353.7L714.38 349.8L714.38 349.8L714.62 342.7L714.62 340.7L714.88 344.7L714.88 351.2L715.12 355.3L715.12 349.4L715.38 342.1L715.38 342.2L715.62 356.9L715.62 352L715.88 356.7L715.88 358.2L716.12 358.4L716.12 358.4L716.38 358.4L716.38 359.8L716.62 355L716.62 347.6L716.88 347.2L716.88 351.5L717.12 346.8L717.12 342.2L717.38 344.7L717.38 359.1L717.62 362.3L717.62 360.8L717.88 358.5L717.88 358.5L718.12 354.6L718.12 353.8L718.38 329.5L718.38 333L718.62 355L718.62 343.1L718.88 340.4L718.88 344.7L719.12 348.7L719.12 342.8L719.38 347L719.38 361L719.62 346.3L719.62 346.3L719.88 352.9L719.88 357.1L720.12 347.2L720.12 340.2L720.38 334.3L720.38 346.2L720.62 361.7L720.62 359.9L720.88 352.6L720.88 360.1L721.12 338.9L721.12 324.4L721.38 330.8L721.38 330.8L721.62 354.8L721.62 349.8L721.88 354L721.88 355.2L722.12 352.1L722.12 348.4L722.38 356.7L722.38 357.3L722.62 361.9L722.62 356.9L722.88 356.8L722.88 361.3L723.12 361.1L723.12 361.1L723.38 344.9L723.38 352.2L723.62 361.3L723.62 346.5L723.88 337.4L723.88 349.4L724.12 365.5L724.12 344L724.38 342.5L724.38 346.7L724.62 366.4L724.62 354.9L724.88 360.9L724.88 360.9L725.12 367.4L725.12 363L725.38 357.1L725.38 360.2L725.62 355.5L725.62 350.6L725.88 341.1L725.88 345L726.12 355.4L726.12 344.9L726.38 361.2L726.38 364.2L726.62 357.3L726.62 357.3L726.88 344.7L726.88 344.8L727.12 359.3L727.12 349.2L727.38 350.8L727.38 355.7L727.62 352.6L727.62 346.4L727.88 343.2L727.88 344.2L728.12 331.7L728.12 316L728.38 312.6L728.38 312.6L728.62 336.8L728.62 318.6L728.88 351.2L728.88 357.2L729.12 357.2L729.12 350.8L729.38 353.8L729.38 364.5L729.62 365L729.62 352.6L729.88 339.4L729.88 341.8L730.12 350.1L730.12 350.1L730.38 354.2L730.38 365.5L730.62 348.7L730.62 334.9L730.88 339.1L730.88 348.2L731.12 350.3L731.12 349.6L731.38 352.2L731.38 354.8L731.62 367.9L731.62 356.8L731.88 348.8L731.88 348.8L732.12 341.1L732.12 337.9L732.38 337.2L732.38 344.1L732.62 332.5L732.62 329.2L732.88 347.7L732.88 360.4L733.12 365.7L733.12 358.5L733.38 336.6L733.38 346.3L733.62 340.4L733.62 340.4L733.88 344.1L733.88 360.7L734.12 357.4L734.12 342.5L734.38 355.1L734.38 355.1L734.62 358.7L734.62 347.8L734.88 344.7L734.88 346.3L735.12 362.1L735.12 354.3L735.38 363.3L735.38 363.3L735.62 354.1L735.62 344.8L735.88 344.7L735.88 356.2L736.12 364.4L736.12 362.9L736.38 350.2L736.38 359.1L736.62 357.1L736.62 350.4L736.88 364.2L736.88 364.8L737.12 359.1L737.12 359.1L737.38 359.7L737.38 359.7L737.62 351.1L737.62 349.7L737.88 358L737.88 360.7L738.12 359.2L738.12 358.1L738.38 346.2L738.38 354.8L738.62 359.3L738.62 347.2L738.88 346.3L738.88 346.3L739.12 341.3L739.12 338.3L739.38 352.9L739.38 354.8L739.62 360.5L739.62 350.3L739.88 348.2L739.88 349.5L740.12 355L740.12 354.5L740.38 328.5L740.38 339L740.62 330L740.62 330L740.88 331.5L740.88 335.7L741.12 359.5L741.12 348.9L741.38 330.1L741.38 338.9L741.62 346.3L741.62 334.7L741.88 353L741.88 356.5L742.12 361.5L742.12 361.4L742.38 343L742.38 343L742.62 364.9L742.62 342.3L742.88 352.5L742.88 360.5L743.12 342.1L743.12 321.5L743.38 323.3L743.38 333.5L743.62 363.2L743.62 348.1L743.88 339.1L743.88 352.6L744.12 339.2L744.12 339.1L744.38 340.6L744.38 340.6L744.62 343.5L744.62 341.4L744.88 351.9L744.88 363.5L745.12 351.9L745.12 335.6L745.38 326.6L745.38 330.5L745.62 359.2L745.62 343.8L745.88 351L745.88 359.3L746.12 347.2L746.12 347.2L746.38 354L746.38 366.4L746.62 362L746.62 358.5L746.88 354.5L746.88 355.5L747.12 360.7L747.12 359.9L747.38 332.7L747.38 346L747.62 342.6L747.62 329.8L747.88 360.4L747.88 360.4L748.12 363.4L748.12 354.4L748.38 342.3L748.38 347.3L748.62 351.4L748.62 337L748.88 345.6L748.88 354.9L749.12 360.6L749.12 345.5L749.38 325.8L749.38 333.4L749.62 342.7L749.62 342.7L749.88 355.4L749.88 361.6L750.12 361.1L750.12 360.2L750.38 342.6L750.38 348.5L750.62 340.9L750.62 336.7L750.88 340.3L750.88 347.9L751.12 359.5L751.12 358.7L751.38 344.1L751.38 344.1L751.62 330.4L751.62 328.7L751.88 339.1L751.88 350.4L752.12 358.6L752.12 357L752.38 343.9L752.38 347.9L752.62 349.5L752.62 345L752.88 353.3L752.88 361.4L753.12 358.4L753.12 358.4L753.38 350.3L753.38 350.7L753.62 349.5L753.62 348.9L753.88 355.2L753.88 362.6L754.12 339.4L754.12 330.2L754.38 340.5L754.38 362.1L754.62 358.1L754.62 356.8L754.88 365.8L754.88 365.8L755.12 365.5L755.12 363.8L755.38 356.2L755.38 366.4L755.62 338.3L755.62 331.4L755.88 340.1L755.88 355.1L756.12 363.6L756.12 353L756.38 342.7L756.38 346.5L756.62 341.1L756.62 341.1L756.88 330.7L756.88 335.1L757.12 355.1L757.12 339.4L757.38 365.9L757.38 366.6L757.62 359.8L757.62 359.7L757.88 361L757.88 362L758.12 360.2L758.12 346.3L758.38 351.9L758.38 351.9L758.62 365.9L758.62 356.7L758.88 352.9L758.88 364.5L759.12 364.4L759.12 350.3L759.38 335.5L759.38 351.3L759.62 350.1L759.62 336L759.88 350.9L759.88 367.5L760.12 345.2L760.12 345.2L760.38 354.9L760.38 359.9L760.62 362.2L760.62 353L760.88 358.6L760.88 361.5L761.12 358L761.12 354.4L761.38 350.3L761.38 354.2L761.62 362L761.62 352.7L761.88 337.4L761.88 337.4L762.12 332.2L762.12 329.4L762.38 341.4L762.38 350.4L762.62 351.3L762.62 344.2L762.88 340.2L762.88 343.5L763.12 354.1L763.12 352.8L763.38 338.9L763.38 344L763.62 336.5L763.62 336.5L763.88 351.4L763.88 358.4L764.12 357.4L764.12 355.1L764.38 362.2L764.38 364L764.62 359.5L764.62 358.6L764.88 353.3L764.88 365.7L765.12 341.3L765.12 340.5L765.38 345.8L765.38 345.8L765.62 358.6L765.62 353.6L765.88 353.8L765.88 363.2L766.12 353L766.12 343.2L766.38 349L766.38 359.5L766.62 364.5L766.62 355.8L766.88 356.2L766.88 357.8L767.12 354.4L767.12 354.4L767.38 342.3L767.38 345.7L767.62 353L767.62 348.4L767.88 338.4L767.88 347.9L768.12 341.1L768.12 336L768.38 337.6L768.38 340.2L768.62 341.8L768.62 337.7L768.88 350.6L768.88 350.6L769.12 359.5L769.12 349L769.38 340.6L769.38 348.6L769.62 353.8L769.62 345.3L769.88 347.8L769.88 355.4L770.12 349.3L770.12 338.7L770.38 342.8L770.38 354.5L770.62 339.7L770.62 339.7L770.88 343.9L770.88 358.3L771.12 361.3L771.12 357.5L771.38 359.7L771.38 359.9L771.62 361L771.62 352L771.88 347.5L771.88 353.1L772.12 355.8L772.12 342.9L772.38 343L772.38 343L772.62 355.6L772.62 351.2L772.88 328.3L772.88 343.1L773.12 333.3L773.12 322.8L773.38 337.8L773.38 364.8L773.62 339L773.62 326.3L773.88 345.6L773.88 367L774.12 332.3L774.12 332.3L774.38 323.2L774.38 325.1L774.62 338.2L774.62 327.5L774.88 341.9L774.88 342.6L775.12 339.6L775.12 337.3L775.38 340.4L775.38 348.3L775.62 366.9L775.62 360L775.88 364.3L775.88 364.3L776.12 366.6L776.12 358L776.38 360.2L776.38 360.2L776.62 361.9L776.62 353.4L776.88 358.1L776.88 360.2L777.12 362.4L777.12 355.7L777.38 343.1L777.38 364.6L777.62 334.6L777.62 334.6L777.88 338.7L777.88 349.4L778.12 355.2L778.12 353.4L778.38 360.1L778.38 364.2L778.62 356.2L778.62 355.1L778.88 350.1L778.88 352.6L779.12 365L779.12 355.4L779.38 357.5L779.38 357.5L779.62 356.9L779.62 354.6L779.88 349.8L779.88 353.7L780.12 359.4L780.12 350.9L780.38 359.2L780.38 363.8L780.62 359.8L780.62 359.7L780.88 356.5L780.88 358L781.12 353.9L781.12 353.9L781.38 352.7L781.38 360.3L781.62 361.1L781.62 353.4L781.88 357.4L781.88 365.1L782.12 367.1L782.12 360.5L782.38 355.2L782.38 358.4L782.62 354.8L782.62 351.5L782.88 343.8L782.88 348.1L783.12 341.6L783.12 341.6L783.38 341.6L783.38 348.3L783.62 365.8L783.62 354L783.88 355L783.88 365.3L784.12 359.3L784.12 351.8L784.38 353.4L784.38 358.4L784.62 359.8L784.62 358.3L784.88 360.7L784.88 360.7L785.12 356.7L785.12 356.7L785.38 354.6L785.38 368.1L785.62 365.8L785.62 355.4L785.88 361.3L785.88 365L786.12 352L786.12 347.2L786.38 348.6L786.38 355.9L786.62 365.7L786.62 365.7L786.88 355.7L786.88 363.4L787.12 349.1L787.12 346.5L787.38 352.5L787.38 361.9L787.62 358.5L787.62 358.4L787.88 352.4L787.88 356.5L788.12 355.9L788.12 348.4L788.38 350.8L788.38 350.8L788.62 359.4L788.62 350.1L788.88 330.8L788.88 337.7L789.12 333.1L789.12 330.5L789.38 338.4L789.38 348.6L789.62 357.1L789.62 345.2L789.88 341.5L789.88 342.3L790.12 344.7L790.12 344.7L790.38 353.3L790.38 360.8L790.62 351.2L790.62 348.9L790.88 357.1L790.88 363.1L791.12 353L791.12 347.3L791.38 340.2L791.38 343.3L791.62 349.1L791.62 348.1L791.88 348.9L791.88 348.9L792.12 360L792.12 355.5L792.38 352.7L792.38 358L792.62 365.7L792.62 363.5L792.88 354.2L792.88 358.7L793.12 359.5L793.12 357.3L793.38 350.1L793.38 350.8L793.62 355.9L793.62 355.9L793.88 353.4L793.88 360.6L794.12 347L794.12 344.9L794.38 345.3L794.38 347.4L794.62 359.2L794.62 353.9L794.88 348.7L794.88 358.2L795.12 344.9L795.12 344.3L795.38 353.3L795.38 353.3L795.62 362.7L795.62 353.8L795.88 356.2L795.88 364L796.12 368.1L796.12 366.3L796.38 348.7L796.38 362.7L796.62 335.2L796.62 331.1L796.88 334.6L796.88 344.1L797.12 355.5L797.12 355.5L797.38 357L797.38 363.3L797.62 360.4L797.62 360L797.88 344.4L797.88 360.3L798.12 348.5L798.12 341L798.38 349.3L798.38 353.9L798.62 356.3L798.62 337.6L798.88 327.3L798.88 327.3L799.12 325.6L799.12 322.5L799.38 327.8L799.38 349.6L799.62 352.9L799.62 346.1L799.88 352.2L799.88 359.6L800.12 349.3L800.12 347.1L800.38 353.6L800.38 364.7L800.62 355.6L800.62 355.6L800.88 345.2L800.88 346.3L801.12 362.1L801.12 353.8L801.38 337.6L801.38 344.4L801.62 331.3L801.62 331.1L801.88 336.4L801.88 349.2L802.12 359.4L802.12 358.6L802.38 354.1L802.38 354.1L802.62 347.8L802.62 343.1L802.88 333.8L802.88 353.6L803.12 341.2L803.12 332.9L803.38 341.3L803.38 342.2L803.62 355.8L803.62 349.6L803.88 341.9L803.88 345L804.12 360.6L804.12 360.6L804.38 325.8L804.38 341.5L804.62 331.9L804.62 324.1L804.88 350.1L804.88 362.2L805.12 357.7L805.12 355.8L805.38 349.7L805.38 359.8L805.62 356.2L805.62 347.8L805.88 349.9L805.88 349.9L806.12 330L806.12 320.3L806.38 324.5L806.38 342L806.62 360.9L806.62 357.3L806.88 348.7L806.88 355.9L807.12 341.6L807.12 331.8L807.38 326.5L807.38 337.2L807.62 363.3L807.62 363.3L807.88 352.2L807.88 357L808.12 364.1L808.12 361.4L808.38 341L808.38 352.4L808.62 349.8L808.62 343L808.88 351.7L808.88 353.2L809.12 349.2L809.12 346.9L809.38 350.5L809.38 350.5L809.62 360.1L809.62 357.8L809.88 339L809.88 348L810.12 330.4L810.12 321L810.38 318.5L810.38 322.6L810.62 326.5L810.62 326L810.88 322.1L810.88 323.6L811.12 328.9L811.12 328.9L811.38 342.1L811.38 351.7L811.62 359.6L811.62 358.3L811.88 355.3L811.88 359.6L812.12 343L812.12 339.1L812.38 349.2L812.38 356.8L812.62 343.3L812.62 342.2L812.88 356.9L812.88 356.9L813.12 351.7L813.12 340.5L813.38 337.2L813.38 338.1L813.62 359L813.62 343.5L813.88 357.6L813.88 362.1L814.12 363.7L814.12 357.7L814.38 364.9L814.38 367.5L814.62 360.5L814.62 360.5L814.88 361.2L814.88 368.1L815.12 363.2L815.12 359.8L815.38 360L815.38 361L815.62 365.2L815.62 362.9L815.88 341.7L815.88 354L816.12 355.4L816.12 341.4L816.38 359L816.38 359L816.62 365.9L816.62 356.3L816.88 349.4L816.88 355.9L817.12 349.7L817.12 347.7L817.38 345.4L817.38 366.6L817.62 333.1L817.62 330.5L817.88 341.2L817.88 349.8L818.12 347.8L818.12 347.8L818.38 326.5L818.38 337.4L818.62 340L818.62 326.6L818.88 353.7L818.88 357.7L819.12 354.5L819.12 354.2L819.38 346.2L819.38 350.1L819.62 348.9L819.62 348.5L819.88 343.7L819.88 343.7L820.12 347.7L820.12 339.2L820.38 341.4L820.38 352.9L820.62 349.8L820.62 341.1L820.88 354.1L820.88 354.2L821.12 350.4L821.12 346.8L821.38 350.5L821.38 355.4L821.62 342.6L821.62 338.8L821.88 344.2L821.88 344.2L822.12 361.6L822.12 353.5L822.38 359.1L822.38 359.5L822.62 361.8L822.62 354.2L822.88 347.5L822.88 352.3L823.12 353.3L823.12 338.3L823.38 336.8L823.38 345L823.62 355.4L823.62 355.4L823.88 356.1L823.88 361.4L824.12 345.2L824.12 335.5L824.38 325.5L824.38 330.8L824.62 356L824.62 341.9L824.88 326.7L824.88 331.1L825.12 353.6L825.12 351.5L825.38 341.8L825.38 341.8L825.62 342.4L825.62 340.7L825.88 337.5L825.88 342.3L826.12 354.9L826.12 350.3L826.38 329.5L826.38 342.3L826.62 330.2L826.62 328.6L826.88 335.1L826.88 335.1L827.12 342.9L827.12 342.9L827.38 352.2L827.38 357.6L827.62 347.8L827.62 323.3L827.88 318L827.88 323.9L828.12 342.8L828.12 332.7L828.38 342.9L828.38 352.8L828.62 327.4L828.62 322.8L828.88 336.5L828.88 336.5L829.12 354.9L829.12 346.9L829.38 333.2L829.38 358.7L829.62 315.7L829.62 312.9L829.88 314.4L829.88 328.9L830.12 357.5L830.12 341L830.38 335.7L830.38 336.5L830.62 333L830.62 333L830.88 332.4L830.88 332.8L831.12 359.5L831.12 342.7L831.38 350.5L831.38 355.9L831.62 354.3L831.62 352.8L831.88 336.3L831.88 345.3L832.12 330.3L832.12 327.5L832.38 329.4L832.38 329.4L832.62 340.8L832.62 331.2L832.88 356.4L832.88 357.4L833.12 351.2L833.12 333.7L833.38 325.3L833.38 329.4L833.62 352.9L833.62 336.7L833.88 358.2L833.88 366.4L834.12 359.8L834.12 359.8L834.38 358.4L834.38 362.1L834.62 354.7L834.62 351.3L834.88 342.8L834.88 346.4L835.12 342.5L835.12 342.4L835.38 344.2L835.38 348.6L835.62 364.5L835.62 355.3L835.88 353.7L835.88 353.7L836.12 341.7L836.12 335.5L836.38 334.4L836.38 335.9L836.62 338.1L836.62 336.5L836.88 344.7L836.88 354.9L837.12 350.8L837.12 342.3L837.38 343.8L837.38 351.8L837.62 359.4L837.62 359.4L837.88 358L837.88 359.5L838.12 366.3L838.12 362L838.38 361.4L838.38 364.9L838.62 364.8L838.62 356.2L838.88 359.3L838.88 363.6L839.12 351L839.12 342.2L839.38 340.3L839.38 340.3L839.62 360.1L839.62 355L839.88 342.3L839.88 346.2L840.12 362.1L840.12 349.3L840.38 360.3L840.38 361.8L840.62 365.9L840.62 357.9L840.88 358.2L840.88 359.3L841.12 348.8L841.12 348.8L841.38 349.7L841.38 360L841.62 339.4L841.62 333.9L841.88 335.5L841.88 342.7L842.12 357.5L842.12 355.8L842.38 343.7L842.38 345.6L842.62 358.9L842.62 354.1L842.88 350L842.88 350L843.12 351.6L843.12 348.6L843.38 350.3L843.38 352.4L843.62 342.3L843.62 333.5L843.88 332.6L843.88 336.9L844.12 353.8L844.12 349L844.38 343.4L844.38 348.5L844.62 359.1L844.62 359.1L844.88 345L844.88 349.6L845.12 350.4L845.12 335.2L845.38 329.3L845.38 330.4L845.62 334.5L845.62 331.8L845.88 332.5L845.88 334.8L846.12 331.2L846.12 329.6L846.38 342L846.38 342L846.62 354.8L846.62 353.4L846.88 354.9L846.88 363.9L847.12 365L847.12 361.4L847.38 357.9L847.38 358.9L847.62 360L847.62 356.6L847.88 355.7L847.88 361.5L848.12 358.5L848.12 358.5L848.38 329.8L848.38 341.7L848.62 352.4L848.62 333.7L848.88 349.9L848.88 359.5L849.12 367.1L849.12 353.3L849.38 322.1L849.38 341.1L849.62 322.7L849.62 319.4L849.88 329.5L849.88 329.5L850.12 335.1L850.12 333.4L850.38 346.7L850.38 355.6L850.62 358.3L850.62 358L850.88 349.4L850.88 353.7L851.12 360.4L851.12 352.3L851.38 333.8L851.38 350.7L851.62 326.7L851.62 326.7L851.88 329.4L851.88 339.6L852.12 346.4L852.12 339L852.38 328.1L852.38 328.2L852.62 364.1L852.62 347.6L852.88 343L852.88 348.1L853.12 353.2L853.12 346L853.38 362.1L853.38 362.1L853.62 367.4L853.62 364.9L853.88 339L853.88 359.4L854.12 318L854.12 315L854.38 326.1L854.38 342.6L854.62 363.7L854.62 358.2L854.88 357L854.88 365.7L855.12 346L855.12 346L855.38 340.6L855.38 350.6L855.62 365.9L855.62 361.4L855.88 346L855.88 350.2L856.12 362L856.12 355.6L856.38 356.7L856.38 357.8L856.62 365.6L856.62 356.8L856.88 356L856.88 356L857.12 342.2L857.12 335.4L857.38 340.9L857.38 353.8L857.62 352L857.62 333L857.88 339.4L857.88 359.3L858.12 361.8L858.12 359.7L858.38 347.6L858.38 359.8L858.62 341.9L858.62 341.9L858.88 349.2L858.88 359.6L859.12 339.4L859.12 329.6L859.38 331.9L859.38 345.1L859.62 364L859.62 350.3L859.88 340.3L859.88 346.4L860.12 341.5L860.12 335.2L860.38 341.7L860.38 361.6L860.62 340L860.62 340L860.88 345.4L860.88 350.2L861.12 358.9L861.12 353.2L861.38 340.4L861.38 342.6L861.62 343.1L861.62 339.7L861.88 331.9L861.88 332.1L862.12 339.1L862.12 336.6L862.38 336.4L862.38 336.4L862.62 349.2L862.62 338.2L862.88 348.6L862.88 354.3L863.12 354.2L863.12 351.4L863.38 354.5L863.38 359.6L863.62 360.7L863.62 354.7L863.88 350.7L863.88 351L864.12 357.4L864.12 357.4L864.38 339.2L864.38 346.2L864.62 356.2L864.62 340.3L864.88 337.3L864.88 346.7L865.12 347.3L865.12 346.4L865.38 332.9L865.38 333.1L865.62 340.5L865.62 336.9L865.88 344.1L865.88 344.1L866.12 354.8L866.12 352.4L866.38 343.4L866.38 348.6L866.62 343.1L866.62 342.8L866.88 322.2L866.88 333.2L867.12 332.7L867.12 319.8L867.38 351.2L867.38 355.4L867.62 338.9L867.62 338.9L867.88 323.2L867.88 326L868.12 358.8L868.12 343.3L868.38 357.4L868.38 357.9L868.62 362.9L868.62 351L868.88 341L868.88 345.8L869.12 362.7L869.12 351.3L869.38 336.4L869.38 336.4L869.62 341L869.62 333.6L869.88 354.7L869.88 363L870.12 355.2L870.12 346.2L870.38 342.6L870.38 349.4L870.62 360.7L870.62 357.1L870.88 343.1L870.88 345.9L871.12 355.9L871.12 355.9L871.38 363.4L871.38 368.1L871.62 349L871.62 337.1L871.88 339L871.88 347.3L872.12 363.4L872.12 354.9L872.38 350.8L872.38 364.2L872.62 336.1L872.62 329.1L872.88 335.1L872.88 335.1L873.12 338.5L873.12 327L873.38 320.8L873.38 333.6L873.62 364.3L873.62 344.5L873.88 346L873.88 363.6L874.12 363.6L874.12 356.4L874.38 343L874.38 344.4L874.62 354.4L874.62 354.4L874.88 350.6L874.88 355.8L875.12 355.6L875.12 349.7L875.38 335.7L875.38 356.9L875.62 331.8L875.62 325.7L875.88 353.6L875.88 355.8L876.12 364.9L876.12 357.6L876.38 359.9L876.38 359.9L876.62 354.7L876.62 329.3L876.88 315.6L876.88 322.5L877.12 354.7L877.12 336.1L877.38 316.9L877.38 318.7L877.62 335.3L877.62 329.1L877.88 328L877.88 334.9L878.12 334.5L878.12 334.5L878.38 348.7L878.38 356.1L878.62 356.6L878.62 354.8L878.88 346.6L878.88 352.9L879.12 357.3L879.12 348.5L879.38 357.9L879.38 359.7L879.62 364.8L879.62 359.6L879.88 355.2L879.88 355.2L880.12 346L880.12 345L880.38 350.7L880.38 363.3L880.62 364.6L880.62 362.2L880.88 362.4L880.88 362.4L881.12 359.2L881.12 348.2L881.38 341.5L881.38 343.5L881.62 344.2L881.62 344.2L881.88 340.9L881.88 342.1L882.12 363L882.12 346.7L882.38 363L882.38 367.2L882.62 365.9L882.62 363L882.88 358.2L882.88 364.2L883.12 349L883.12 336L883.38 342.5L883.38 342.5L883.62 361.9L883.62 356.3L883.88 352.7L883.88 353.4L884.12 350L884.12 345.8L884.38 351.8L884.38 360L884.62 365.9L884.62 357.8L884.88 340.7L884.88 347.2L885.12 339.8L885.12 339.8L885.38 346.1L885.38 350.2L885.62 354.5L885.62 351.6L885.88 352.1L885.88 355.6L886.12 348.4L886.12 339.9L886.38 337L886.38 346L886.62 350.3L886.62 347.5L886.88 344.7L886.88 344.7L887.12 349.2L887.12 345.2L887.38 350.7L887.38 354.4L887.62 353.1L887.62 346.9L887.88 338L887.88 344.3L888.12 336.7L888.12 333L888.38 344.7L888.38 353.6L888.62 363L888.62 363L888.88 360.9L888.88 363.2L889.12 359.8L889.12 353.9L889.38 346.8L889.38 347.5L889.62 358.6L889.62 354.4L889.88 345.4L889.88 349.7L890.12 363.5L890.12 356.3L890.38 356.4L890.38 356.4L890.62 365.8L890.62 360.5L890.88 356.4L890.88 357.2L891.12 363.1L891.12 360.7L891.38 363.9L891.38 366.1L891.62 359L891.62 357.5L891.88 358L891.88 361.6L892.12 357.6L892.12 357.6L892.38 353.5L892.38 357.7L892.62 365.7L892.62 363.3L892.88 364.3L892.88 365.7L893.12 358.6L893.12 354.5L893.38 348.6L893.38 359.9L893.62 361.4L893.62 349.7L893.88 365.6L893.88 365.6L894.12 367.6L894.12 364.1L894.38 361.8L894.38 368L894.62 355.7L894.62 352.3L894.88 352.7L894.88 362.7L895.12 339.8L895.12 336.5L895.38 347.2L895.38 366.9L895.62 355.1L895.62 355.1L895.88 356.9L895.88 363.2L896.12 363.3L896.12 355.5L896.38 346.5L896.38 354.4L896.62 358.3L896.62 342.5L896.88 343.1L896.88 358.2L897.12 361L897.12 358.6L897.38 348.1L897.38 348.1L897.62 362.3L897.62 344L897.88 339.6L897.88 353.9L898.12 361L898.12 353.6L898.38 349.6L898.38 352.1L898.62 362.3L898.62 349.5L898.88 336.9L898.88 343L899.12 358.5L899.12 354.6L899.38 356L899.38 356L899.62 354.4L899.62 351.5L899.88 361.7L899.88 362.4L900.12 361.3L900.12 359.7L900.38 348.5L900.38 361.8L900.62 351L900.62 344.1L900.88 351.8L900.88 359L901.12 340.9L901.12 340.9L901.38 337.2L901.38 345.4L901.62 358L901.62 355.7L901.88 351.6L901.88 356.8L902.12 346.1L902.12 340.4L902.38 325.8L902.38 334.4L902.62 314.3L902.62 310.9L902.88 316.5L902.88 316.5L903.12 355.3L903.12 337.5L903.38 341.6L903.38 360.4L903.62 324.8L903.62 314.2L903.88 315L903.88 326.7L904.12 335.2L904.12 333.8L904.38 343.7L904.38 361.8L904.62 364L904.62 364L904.88 349.8L904.88 361.3L905.12 359.2L905.12 348.3L905.38 360L905.38 363.4L905.62 367.1L905.62 358.7L905.88 361.7L905.88 363.4L906.12 365.9L906.12 357.1L906.38 359.8L906.38 359.8L906.62 363.2L906.62 339.1L906.88 316.4L906.88 323.3L907.12 342.3L907.12 321.1L907.38 346.1L907.38 363L907.62 366.1L907.62 352L907.88 358.6L907.88 363.2L908.12 367.8L908.12 367.8L908.38 347.8L908.38 358.6L908.62 351.1L908.62 345L908.88 353.3L908.88 367.6L909.12 359.8L909.12 345.6L909.38 315.4L909.38 319.6L909.62 358.4L909.62 334.7L909.88 363.9L909.88 363.9L910.12 360.6L910.12 359.2L910.38 362.5L910.38 363.3L910.62 364.2L910.62 364.1L910.88 362.8L910.88 364.7L911.12 354.8L911.12 342.8L911.38 339.4L911.38 344.4L911.62 348.3L911.62 348.3L911.88 355.1L911.88 363.8L912.12 360L912.12 360L912.38 332.8L912.38 339L912.62 355.1L912.62 342.7L912.88 355.2L912.88 359.4L913.12 362L913.12 360.1L913.38 358.4L913.38 358.4L913.62 366.2L913.62 345.8L913.88 335.8L913.88 338.2L914.12 358.9L914.12 352.7L914.38 340.8L914.38 344.3L914.62 354.3L914.62 346.8L914.88 349.5L914.88 356.2L915.12 343.7L915.12 343.7L915.38 343.3L915.38 353.9L915.62 350.7L915.62 335.5L915.88 333.2L915.88 346.6L916.12 355.7L916.12 350.9L916.38 347L916.38 355.9L916.62 343.8L916.62 340L916.88 354.3L916.88 354.3L917.12 346.5L917.12 333.4L917.38 327.2L917.38 329.7L917.62 356.6L917.62 341.5L917.88 355.2L917.88 358L918.12 354.6L918.12 349.6L918.38 346.8L918.38 353.4L918.62 335.8L918.62 335.8L918.88 342.1L918.88 351.8L919.12 339.8L919.12 339.6L919.38 347L919.38 355.4L919.62 349.5L919.62 345.9L919.88 346L919.88 352.5L920.12 359L920.12 356L920.38 352.6L920.38 352.6L920.62 361.9L920.62 350.8L920.88 353.5L920.88 358.4L921.12 365.4L921.12 361.1L921.38 365.4L921.38 368L921.62 363.4L921.62 363.3L921.88 361.7L921.88 361.8L922.12 367L922.12 367L922.38 342.2L922.38 358.8L922.62 330.1L922.62 326.3L922.88 333.9L922.88 347.4L923.12 364.7L923.12 348.9L923.38 347.7L923.38 356L923.62 360.8L923.62 360.8L923.88 354.6L923.88 354.6L924.12 342.7L924.12 335.3L924.38 333.6L924.38 334.7L924.62 341.6L924.62 336.7L924.88 342.6L924.88 345.8L925.12 355.3L925.12 348.1L925.38 358.4L925.38 360.3L925.62 352.3L925.62 352.3L925.88 351.6L925.88 360L926.12 347.5L926.12 342.4L926.38 347.2L926.38 354.1L926.62 359.7L926.62 356.3L926.88 351.6L926.88 352.1L927.12 357.9L927.12 346.3L927.38 346.1L927.38 346.1L927.62 356.2L927.62 354.1L927.88 350.6L927.88 354.2L928.12 351.3L928.12 343.5L928.38 338.2L928.38 339.8L928.62 338.5L928.62 337L928.88 349.7L928.88 358.6L929.12 345.9L929.12 345.9L929.38 347.4L929.38 365.7L929.62 345.8L929.62 335.8L929.88 339.5L929.88 345.1L930.12 343.6L930.12 339.7L930.38 343.5L930.38 344.6L930.62 340.2L930.62 338.3L930.88 347.5L930.88 347.5L931.12 363.9L931.12 361.8L931.38 359L931.38 365.5L931.62 367.3L931.62 366.7L931.88 354.1L931.88 363.4L932.12 344.9L932.12 344.8L932.38 356.6L932.38 366.2L932.62 358L932.62 358L932.88 358.2L932.88 363.9L933.12 365.2L933.12 362L933.38 356.2L933.38 357.2L933.62 357.3L933.62 356.6L933.88 361.4L933.88 362.5L934.12 350.1L934.12 332.7L934.38 320L934.38 320L934.62 344.1L934.62 325.1L934.88 361.1L934.88 365.3L935.12 363.1L935.12 348.3L935.38 346.5L935.38 353.1L935.62 358.5L935.62 358L935.88 356.1L935.88 360.2L936.12 364.9L936.12 364.9L936.38 361.4L936.38 361.9L936.62 358.9L936.62 348.3L936.88 334.6L936.88 335.1L937.12 357.1L937.12 355.3L937.38 350.8L937.38 363.3L937.62 362.7L937.62 355.5L937.88 343.3L937.88 355.9L938.12 343.8L938.12 343.8L938.38 354.8L938.38 356.5L938.62 354.7L938.62 354.5L938.88 352L938.88 354L939.12 347.1L939.12 347L939.38 357.2L939.38 360.3L939.62 359.6L939.62 357.2L939.88 352.7L939.88 352.7L940.12 362.2L940.12 352.4L940.38 332.8L940.38 342.5L940.62 338.9L940.62 334.3L940.88 340.7L940.88 344L941.12 355.5L941.12 353.1L941.38 339.1L941.38 342.8L941.62 343.5L941.62 343.5L941.88 348.8L941.88 358.9L942.12 364.5L942.12 355.8L942.38 327.1L942.38 337.6L942.62 331.4L942.62 326.3L942.88 342.5L942.88 347L943.12 346.2L943.12 343.7L943.38 354.1L943.38 354.1L943.62 367.8L943.62 353.6L943.88 356.3L943.88 364.7L944.12 354.9L944.12 333.3L944.38 328.4L944.38 340.9L944.62 362.6L944.62 355L944.88 349.2L944.88 353.2L945.12 365L945.12 365L945.38 350.8L945.38 356.3L945.62 361.3L945.62 358.2L945.88 330.8L945.88 349.2L946.12 324.6L946.12 319.9L946.38 343.7L946.38 364.4L946.62 343.2L946.62 335.7L946.88 340.2L946.88 340.2L947.12 357.8L947.12 352.6L947.38 355.3L947.38 363.1L947.62 351.8L947.62 338L947.88 333.7L947.88 351L948.12 350.9L948.12 337.9L948.38 343L948.38 355.3L948.62 359.6L948.62 359.6L948.88 349.1L948.88 356.1L949.12 343.2L949.12 339L949.38 347L949.38 367.8L949.62 352L949.62 347.1L949.88 351.7L949.88 361.2L950.12 362.3L950.12 351.8L950.38 348.1L950.38 348.1L950.62 352.7L950.62 349L950.88 359.3L950.88 365.1L951.12 367.3L951.12 367.1L951.38 365L951.38 366.6L951.62 364.5L951.62 360.4L951.88 351.4L951.88 354.6L952.12 346.7L952.12 346.7L952.38 348.7L952.38 360.9L952.62 361L952.62 354.8L952.88 355.3L952.88 364.1L953.12 358.3L953.12 356.3L953.38 339.7L953.38 341L953.62 361.5L953.62 356.4L953.88 364.7L953.88 364.7L954.12 344.4L954.12 328.1L954.38 324.8L954.38 336.4L954.62 360.5L954.62 357.7L954.88 340.4L954.88 362.5L955.12 336.1L955.12 329.3L955.38 350L955.38 354.4L955.62 350.1L955.62 350.1L955.88 340.1L955.88 345.1L956.12 359L956.12 351.6L956.38 347L956.38 348.5L956.62 351.9L956.62 351.8L956.88 353.7L956.88 368.2L957.12 352.9L957.12 349.2L957.38 354.1L957.38 354.1L957.62 352.2L957.62 324.2L957.88 316.6L957.88 325.1L958.12 345.9L958.12 344.6L958.38 322L958.38 327.7L958.62 340.1L958.62 329.6L958.88 329.6L958.88 338.4L959.12 325.1L959.12 325.1L959.38 330.5L959.38 339.4L959.62 353.2L959.62 348L959.88 340.7L959.88 347.4L960.12 338.9L960.12 338.8L960.38 350.1L960.38 362.7L960.62 353.9L960.62 351.7L960.88 360.1L960.88 360.1L961.12 361.2L961.12 359L961.38 362.6L961.38 366L961.62 353.5L961.62 341.8L961.88 316.9L961.88 327.3L962.12 319.8L962.12 317.4L962.38 319.5L962.38 322.6L962.62 329.8L962.62 329.8L962.88 341.9L962.88 359.4L963.12 353.8L963.12 339.2L963.38 340.3L963.38 350.5L963.62 351.1L963.62 337.5L963.88 342.3L963.88 347.1L964.12 348.4L964.12 335.3L964.38 333.8L964.38 333.8L964.62 327.1L964.62 322.2L964.88 323.5L964.88 329.7L965.12 323.5L965.12 317.9L965.38 342.9L965.38 345.5L965.62 337.6L965.62 331.3L965.88 327.9L965.88 332.6L966.12 344.9L966.12 344.9L966.38 351.4L966.38 354.8L966.62 364.6L966.62 360.7L966.88 357.3L966.88 360.5L967.12 364.3L967.12 361.5L967.38 359.5L967.38 361L967.62 367.4L967.62 363.3L967.88 368L967.88 368L968.12 366.6L968.12 366.6L968.38 361.8L968.38 364L968.62 367.7L968.62 357.6L968.88 357.3L968.88 365.4L969.12 362.2L969.12 360.8L969.38 338.7L969.38 347.8L969.62 338.7L969.62 338.7L969.88 343.5L969.88 348L970.12 352.8L970.12 350.2L970.38 346.6L970.38 352.2L970.62 339.8L970.62 332.4L970.88 332.4L970.88 333L971.12 335.7L971.12 333.8L971.38 337.1L971.38 337.1L971.62 342.5L971.62 339.9L971.88 342.3L971.88 343.2L972.12 351.7L972.12 346.1L972.38 347.7L972.38 355.9L972.62 347.4L972.62 341.9L972.88 326.1L972.88 332.7L973.12 328.1L973.12 328.1L973.38 338L973.38 349.5L973.62 356.6L973.62 355.5L973.88 356.3L973.88 358.6L974.12 359.3L974.12 352.1L974.38 351.6L974.38 352.8L974.62 343.8L974.62 319.8L974.88 308.3L974.88 308.3L975.12 334.6L975.12 313.3L975.38 354.7L975.38 354.9L975.62 359.1L975.62 351.1L975.88 357.8L975.88 361.8L976.12 347.7L976.12 343.4L976.38 339.1L976.38 345.5L976.62 344.7L976.62 337.4L976.88 358L976.88 358L977.12 357.7L977.12 356.1L977.38 348L977.38 349.9L977.62 358.9L977.62 349L977.88 346L977.88 348L978.12 359.9L978.12 355.8L978.38 353.4L978.38 354.3L978.62 348.8L978.62 348.8L978.88 337.3L978.88 340L979.12 355.3L979.12 348.4L979.38 353.6L979.38 361.4L979.62 347.5L979.62 346.6L979.88 341.5L979.88 363.3L980.12 328.1L980.12 327.6L980.38 338.7L980.38 338.7L980.62 353.2L980.62 345.7L980.88 358.3L980.88 359.9L981.12 360.2L981.12 358.9L981.38 354.1L981.38 360.1L981.62 349.4L981.62 336.3L981.88 321.8L981.88 323.1L982.12 328.2L982.12 328.2L982.38 342.8L982.38 353.2L982.62 361.3L982.62 353.5L982.88 338.3L982.88 339.7L983.12 357.8L983.12 354.8L983.38 351.4L983.38 359L983.62 362.6L983.62 358.8L983.88 360.8L983.88 360.8L984.12 357.9L984.12 349.1L984.38 332.7L984.38 341.3L984.62 333.7L984.62 328.7L984.88 337.8L984.88 339.5L985.12 329.9L985.12 327.8L985.38 338.7L985.38 350.1L985.62 348.5L985.62 348.5L985.88 333.8L985.88 338L986.12 345.9L986.12 342.8L986.38 321.9L986.38 329.1L986.62 332.2L986.62 323.4L986.88 344.2L986.88 349.9L987.12 349.2L987.12 347.5L987.38 338.6L987.38 338.6L987.62 344L987.62 335L987.88 342.8L987.88 351.2L988.12 354.5L988.12 344.8L988.38 328.7L988.38 335.1L988.62 346.9L988.62 334.5L988.88 343L988.88 357.2L989.12 328.2L989.12 328.2L989.38 324.9L989.38 338.5L989.62 352.5L989.62 334.6L989.88 330.7L989.88 336.8L990.12 352.7L990.12 338.9L990.38 333.4L990.38 336.8L990.62 344.4L990.62 339.7L990.88 351.1L990.88 351.1L991.12 345.1L991.12 343.2L991.38 346.5L991.38 347L991.62 327.4L991.62 314L991.88 309.5L991.88 314.7L992.12 330.4L992.12 326.3L992.38 337.2L992.38 340.9L992.62 349.3L992.62 349.3L992.88 337.4L992.88 342.2L993.12 344.8L993.12 343.8L993.38 330.4L993.38 335.8L993.62 338.4L993.62 331.8L993.88 346.5L993.88 354L994.12 356L994.12 355.9L994.38 357L994.38 357L994.62 364.7L994.62 361L994.88 342.9L994.88 354.8L995.12 336.9L995.12 335.3L995.38 337.1L995.38 338.8L995.62 352.3L995.62 343.2L995.88 342L995.88 348.3L996.12 349L996.12 349L996.38 350.4L996.38 351.1L996.62 354.6L996.62 341.2L996.88 343.7L996.88 357.9L997.12 366.2L997.12 364.5L997.38 364.6L997.38 364.9L997.62 362.7L997.62 353.9L997.88 348.2L997.88 348.2L998.12 360.6L998.12 349.7L998.38 346.9L998.38 356.7L998.62 359.8L998.62 350L998.88 363.7L998.88 365.8L999.12 365.5L999.12 358.1L999.38 345.7L999.38 347.2L999.62 356L999.62 356L999.88 353L999.88 365.6L1000.12 351.8L1000.12 348.9L1000.38 352.8L1000.38 355.5L1000.62 357.4L1000.62 346.5L1000.88 319.4L1000.88 331.7L1001.12 332.9L1001.12 316.6L1001.38 359.2L1001.38 359.2L1001.62 353L1001.62 346.2L1001.88 351.2L1001.88 356.2L1002.12 352.9L1002.12 352L1002.38 347.3L1002.38 366.2L1002.62 331.1L1002.62 330.6L1002.88 344.4L1002.88 357.2L1003.12 362.5L1003.12 362.5L1003.38 358.9L1003.38 367.9L1003.62 346.6L1003.62 341.5L1003.88 327.2L1003.88 339.9L1004.12 320.7L1004.12 315.9L1004.38 339.2L1004.38 357.2L1004.62 365.8L1004.62 364.5L1004.88 362.6L1004.88 362.6L1005.12 359.8L1005.12 354.6L1005.38 337.4L1005.38 356.3L1005.62 338.8L1005.62 328.6L1005.88 355.8L1005.88 358.6L1006.12 348.8L1006.12 342.4L1006.38 338.7L1006.38 341.2L1006.62 337.3L1006.62 337.3L1006.88 342.8L1006.88 353.1L1007.12 358.1L1007.12 349.6L1007.38 341.5L1007.38 346.2L1007.62 364L1007.62 355.6L1007.88 324L1007.88 343L1008.12 312.4L1008.12 310.6L1008.38 313.8L1008.38 313.8L1008.62 337.9L1008.62 321.6L1008.88 354.2L1008.88 363.7L1009.12 368L1009.12 363.5L1009.38 359.3L1009.38 367.9L1009.62 355.3L1009.62 346.9L1009.88 340.6L1009.88 345.3L1010.12 363.1L1010.12 363.1L1010.38 321.9L1010.38 340L1010.62 350.3L1010.62 329.7L1010.88 348.6L1010.88 358L1011.12 347.6L1011.12 343.5L1011.38 345.3L1011.38 345.4L1011.62 347.5L1011.62 345.8L1011.88 346.3L1011.88 346.3L1012.12 345.7L1012.12 342.3L1012.38 332.6L1012.38 336.5L1012.62 332.5L1012.62 331.9L1012.88 338.5L1012.88 358.9L1013.12 356.4L1013.12 352.4L1013.38 356.5L1013.38 357.8L1013.62 352.2L1013.62 352.2L1013.88 351.9L1013.88 356.8L1014.12 364.9L1014.12 353.3L1014.38 346L1014.38 346L1014.62 358.8L1014.62 348.5L1014.88 327.4L1014.88 329.8L1015.12 356.8L1015.12 340.3L1015.38 360.5L1015.38 367.4L1015.62 366.2L1015.62 366.2L1015.88 343.1L1015.88 355.8L1016.12 356.3L1016.12 341.7L1016.38 366.1L1016.38 367.2L1016.62 362.2L1016.62 359.6L1016.88 337.3L1016.88 353.5L1017.12 338.8L1017.12 333.8L1017.38 348.7L1017.38 348.7L1017.62 332.5L1017.62 324.4L1017.88 325.5L1017.88 336.5L1018.12 346L1018.12 342.7L1018.38 337.7L1018.38 342.9L1018.62 338.2L1018.62 335.8L1018.88 348L1018.88 356.2L1019.12 360.7L1019.12 360.7L1019.38 346.3L1019.38 357.7L1019.62 335.6L1019.62 330.3L1019.88 324.3L1019.88 327.7L1020.12 330.5L1020.12 321.7L1020.38 331.6L1020.38 357.4L1020.62 312.4L1020.62 312.2L1020.88 326.2L1020.88 326.2L1021.12 362.5L1021.12 345.2L1021.38 347.8L1021.38 349.7L1021.62 356.1L1021.62 337.5L1021.88 338.8L1021.88 363L1022.12 349.5L1022.12 349.1L1022.38 340L1022.38 363.4L1022.62 335.6L1022.62 335.6L1022.88 353.9L1022.88 357.7L1023.12 366.9L1023.12 356L1023.38 355L1023.38 359.4L1023.62 356.2L1023.62 355.2L1023.88 341.1L1023.88 348.8L1024.12 350.4L1024.12 340.3L1024.38 367.4L1024.38 367.4L1024.62 361.5L1024.62 361.2L1024.88 343.8L1024.88 351.9L1025.12 337.6L1025.12 330.5L1025.38 329.5L1025.38 340.5L1025.62 365L1025.62 343L1025.88 345.9L1025.88 357.9L1026.12 352L1026.12 352L1026.38 343.9L1026.38 355.2L1026.62 347.9L1026.62 343.5L1026.88 342.5L1026.88 357.6L1027.12 346.4L1027.12 337.9L1027.38 349.7L1027.38 359.6L1027.62 331.9L1027.62 331.4L1027.88 351.8L1027.88 351.8L1028.12 360L1028.12 359L1028.38 345.2L1028.38 362.2L1028.62 331.1L1028.62 330.8L1028.88 348.5L1028.88 361.2L1029.12 355.2L1029.12 353.6L1029.38 345.4L1029.38 353.1L1029.62 345.5L1029.62 345.5L1029.88 346L1029.88 347.3L1030.12 349.3L1030.12 347.9L1030.38 353L1030.38 357.8L1030.62 365.8L1030.62 350.6L1030.88 346.8L1030.88 353.2L1031.12 360.8L1031.12 339.8L1031.38 328.6L1031.38 328.6L1031.62 340L1031.62 327.5L1031.88 335L1031.88 351.3L1032.12 325.2L1032.12 325.2L1032.38 337.5L1032.38 350.8L1032.62 343.4L1032.62 338L1032.88 323.9L1032.88 342.3L1033.12 325.4L1033.12 325.4L1033.38 342.5L1033.38 353.1L1033.62 354.3L1033.62 344.7L1033.88 327L1033.88 332.8L1034.12 333.5L1034.12 326.7L1034.38 347.4L1034.38 356.5L1034.62 356.7L1034.62 352.4L1034.88 349.3L1034.88 349.3L1035.12 352.3L1035.12 345.2L1035.38 335.4L1035.38 339.8L1035.62 353.2L1035.62 351.1L1035.88 340.1L1035.88 348.5L1036.12 361.2L1036.12 346L1036.38 340.4L1036.38 356.2L1036.62 359.8L1036.62 359.8L1036.88 344.7L1036.88 352.8L1037.12 338.2L1037.12 336L1037.38 346.8L1037.38 362.1L1037.62 342.5L1037.62 332.6L1037.88 336.3L1037.88 356.3L1038.12 343.8L1038.12 339.9L1038.38 346.4L1038.38 346.4L1038.62 348.1L1038.62 347.3L1038.88 347.7L1038.88 355.3L1039.12 327.2L1039.12 325.9L1039.38 333.9L1039.38 343.7L1039.62 343.9L1039.62 343.5L1039.88 355.4L1039.88 355.7L1040.12 337.3L1040.12 337.3L1040.38 329.9L1040.38 331.3L1040.62 351.7L1040.62 334.5L1040.88 315.6L1040.88 343L1041.12 309.3L1041.12 305.6L1041.38 338.7L1041.38 345.1L1041.62 331.7L1041.62 327.5L1041.88 340L1041.88 340L1042.12 348.7L1042.12 341.7L1042.38 360.1L1042.38 363.3L1042.62 354.4L1042.62 337.7L1042.88 337.7L1042.88 351.5L1043.12 328.5L1043.12 320.7L1043.38 324L1043.38 328.6L1043.62 334.6L1043.62 334.6L1043.88 323.2L1043.88 346L1044.12 323.6L1044.12 315.7L1044.38 340.1L1044.38 349.6L1044.62 350.8L1044.62 347.7L1044.88 351.3L1044.88 355L1045.12 357.8L1045.12 352.8L1045.38 361.9L1045.38 361.9L1045.62 364.1L1045.62 354.1L1045.88 352.3L1045.88 357.7L1046.12 360L1046.12 353.8L1046.38 350.9L1046.38 360.4L1046.62 355.1L1046.62 346.6L1046.88 349L1046.88 353.5L1047.12 348.1L1047.12 348.1L1047.38 325.4L1047.38 335.5L1047.62 328.2L1047.62 322.4L1047.88 341.2L1047.88 354.2L1048.12 362.2L1048.12 355.4L1048.38 343.8L1048.38 348.4L1048.62 358L1048.62 351.2L1048.88 347.9L1048.88 347.9L1049.12 355.1L1049.12 346.5L1049.38 357L1049.38 361.3L1049.62 354.5L1049.62 352.5L1049.88 349.5L1049.88 349.5L1050.12 349.5L1050.12 342.4L1050.38 333.6L1050.38 333.6L1050.62 339.3L1050.62 339.3L1050.88 346.9L1050.88 351.2L1051.12 362.4L1051.12 355.2L1051.38 359.2L1051.38 363.3L1051.62 366.2L1051.62 360.5L1051.88 358.7L1051.88 361.7L1052.12 365.3L1052.12 361.9L1052.38 367.2L1052.38 367.2L1052.62 360.9L1052.62 359.2L1052.88 363L1052.88 367.4L1053.12 367.9L1053.12 356.5L1053.38 336.9L1053.38 344.4L1053.62 335.2L1053.62 334.4L1053.88 342L1053.88 352.2L1054.12 354.9L1054.12 353.5L1054.38 354.5L1054.38 354.5L1054.62 360.7L1054.62 358.8L1054.88 356.4L1054.88 362.6L1055.12 361.6L1055.12 350L1055.38 338.1L1055.38 342.2L1055.62 351.7L1055.62 344.6L1055.88 347.4L1055.88 351.7L1056.12 339L1056.12 339L1056.38 336.8L1056.38 341.5L1056.62 351.6L1056.62 347.3L1056.88 314.8L1056.88 322.6L1057.12 347.9L1057.12 333.9L1057.38 312.4L1057.38 318.8L1057.62 339.3L1057.62 318.2L1057.88 368L1057.88 368L1058.12 340.8L1058.12 327.4L1058.38 337.2L1058.38 348.9L1058.62 339.6L1058.62 324.1L1058.88 321.5L1058.88 333.6L1059.12 342.2L1059.12 335.3L1059.38 326.2L1059.38 327.3L1059.62 335.6L1059.62 335.6L1059.88 344.1L1059.88 356.1L1060.12 365L1060.12 356.2L1060.38 347.7L1060.38 351.2L1060.62 342.9L1060.62 341.5L1060.88 346.7L1060.88 348.8L1061.12 356.1L1061.12 352.9L1061.38 330.6L1061.38 330.6L1061.62 327.8L1061.62 319L1061.88 350.1L1061.88 363.7L1062.12 362.2L1062.12 351.1L1062.38 344.5L1062.38 344.6L1062.62 351.6L1062.62 345.9L1062.88 355.3L1062.88 359.6L1063.12 353.3L1063.12 353.3L1063.38 352.8L1063.38 360.4L1063.62 344.1L1063.62 340.7L1063.88 344.5L1063.88 350.4L1064.12 352.4L1064.12 346.4L1064.38 343L1064.38 345.8L1064.62 354.9L1064.62 354.5L1064.88 351.2L1064.88 351.2L1065.12 354.2L1065.12 344.8L1065.38 333.1L1065.38 336.3L1065.62 350.9L1065.62 348L1065.88 346.3L1065.88 355.5L1066.12 337.9L1066.12 331.8L1066.38 343.4L1066.38 354.4L1066.62 352.7L1066.62 352.7L1066.88 342.4L1066.88 353.9L1067.12 331.8L1067.12 330.7L1067.38 337.2L1067.38 354.3L1067.62 358.2L1067.62 354.2L1067.88 348.7L1067.88 351.6L1068.12 360.7L1068.12 353.4L1068.38 350.7L1068.38 350.7L1068.62 366.1L1068.62 351.1L1068.88 352.3L1068.88 357.5L1069.12 350.3L1069.12 337.1L1069.38 344.1L1069.38 359.9L1069.62 356.8L1069.62 341.7L1069.88 328.2L1069.88 328.6L1070.12 345.5L1070.12 345.5L1070.38 354.5L1070.38 361.8L1070.62 354.4L1070.62 351.9L1070.88 353.6L1070.88 355.7L1071.12 342.5L1071.12 340.5L1071.38 354.3L1071.38 354.8L1071.62 360.4L1071.62 356.8L1071.88 359.9L1071.88 359.9L1072.12 350.7L1072.12 349.4L1072.38 354.6L1072.38 359.3L1072.62 361.2L1072.62 353.4L1072.88 341.7L1072.88 346.7L1073.12 359.3L1073.12 346.5L1073.38 343.2L1073.38 348.3L1073.62 355L1073.62 355L1073.88 348.6L1073.88 354.3L1074.12 359.3L1074.12 358.5L1074.38 351.6L1074.38 358.6L1074.62 329.4L1074.62 323.3L1074.88 327.8L1074.88 340.1L1075.12 358.8L1075.12 353.5L1075.38 358.3L1075.38 358.3L1075.62 353.4L1075.62 351.8L1075.88 357.6L1075.88 363.9L1076.12 366L1076.12 365.4L1076.38 349.3L1076.38 362.2L1076.62 355.7L1076.62 344.9L1076.88 338.9L1076.88 349.9L1077.12 338.7L1077.12 338.7L1077.38 339.4L1077.38 345.3L1077.62 356L1077.62 352.3L1077.88 332.5L1077.88 347.8L1078.12 323.1L1078.12 322.7L1078.38 335.4L1078.38 359L1078.62 345.2L1078.62 328.3L1078.88 317.1L1078.88 317.1L1079.12 320.5L1079.12 316.1L1079.38 329.1L1079.38 340.3L1079.62 352.7L1079.62 347.9L1079.88 357L1079.88 364.8L1080.12 352.6L1080.12 337.6L1080.38 339.9L1080.38 359.1L1080.62 352.2L1080.62 352.2L1080.88 335.5L1080.88 337.7L1081.12 339.2L1081.12 338.1L1081.38 335L1081.38 336.6L1081.62 353.7L1081.62 352.3L1081.88 338.4L1081.88 342.5L1082.12 361.1L1082.12 356.8L1082.38 358.3L1082.38 358.3L1082.62 354.8L1082.62 353.5L1082.88 338.4L1082.88 346.5L1083.12 340.7L1083.12 334.8L1083.38 348.2L1083.38 348.7L1083.62 354.9L1083.62 347.2L1083.88 363L1083.88 364.4L1084.12 366.6L1084.12 366.6L1084.38 360L1084.38 360.1L1084.62 365.5L1084.62 365.3L1084.88 357.5L1084.88 366L1085.12 351.1L1085.12 346.1L1085.38 333.4L1085.38 336.4L1085.62 362L1085.62 346.6L1085.88 337L1085.88 337L1086.12 329.1L1086.12 328.2L1086.38 338.1L1086.38 349.4L1086.62 356.9L1086.62 356.8L1086.88 344L1086.88 344.9L1087.12 362.9L1087.12 335.4L1087.38 324.2L1087.38 331.7L1087.62 345.1L1087.62 345.1L1087.88 359.2L1087.88 362.5L1088.12 357.7L1088.12 354.2L1088.38 355.5L1088.38 364.5L1088.62 366.8L1088.62 361.1L1088.88 345.3L1088.88 357.6L1089.12 342.2L1089.12 341.2L1089.38 353.5L1089.38 353.5L1089.62 363L1089.62 353.1L1089.88 352.9L1089.88 365.7L1090.12 356.6L1090.12 345.2L1090.38 334.7L1090.38 339.3L1090.62 365.3L1090.62 350.6L1090.88 355.8L1090.88 357.5L1091.12 349.4L1091.12 349.4L1091.38 342.4L1091.38 345L1091.62 365.7L1091.62 352.5L1091.88 356.1L1091.88 357.7L1092.12 357.9L1092.12 355.1L1092.38 359.8L1092.38 361L1092.62 357.9L1092.62 355.2L1092.88 351.9L1092.88 366.4L1093.12 346.2L1093.12 346.2L1093.38 343.7L1093.38 348.8L1093.62 360.3L1093.62 355.5L1093.88 363.7L1093.88 365.3L1094.12 359.9L1094.12 349.9L1094.38 341L1094.38 341L1094.62 360.5L1094.62 352.4L1094.88 360.7L1094.88 360.7L1095.12 357.1L1095.12 356.1L1095.38 357.7L1095.38 361.9L1095.62 361.8L1095.62 344.7L1095.88 337.3L1095.88 343.6L1096.12 358L1096.12 356.5L1096.38 345.1L1096.38 347.6L1096.62 346.9L1096.62 346.9L1096.88 345L1096.88 348.9L1097.12 358.6L1097.12 344.9L1097.38 335.3L1097.38 347.4L1097.62 343.2L1097.62 335.3L1097.88 351.8L1097.88 358.2L1098.12 356.9L1098.12 347.7L1098.38 340.2L1098.38 340.2L1098.62 359.8L1098.62 344.1L1098.88 346.4L1098.88 354.4L1099.12 356.9L1099.12 349.9L1099.38 347.5L1099.38 364.2L1099.62 349.8L1099.62 342.6L1099.88 363.2L1099.88 364.1L1100.12 359.8L1100.12 359.8L1100.38 341.9L1100.38 352.8L1100.62 340.8L1100.62 336L1100.88 348.7L1100.88 357L1101.12 361.6L1101.12 353.2L1101.38 345.5L1101.38 347.4L1101.62 346L1101.62 343L1101.88 336.9L1101.88 336.9L1102.12 343.5L1102.12 338.1L1102.38 349L1102.38 354.9L1102.62 364.3L1102.62 358.6L1102.88 353.5L1102.88 361.6L1103.12 356.7L1103.12 351.6L1103.38 350.7L1103.38 357.1L1103.62 347.7L1103.62 347.7L1103.88 349.9L1103.88 357L1104.12 356.6L1104.12 354.1L1104.38 361.9L1104.38 363.8L1104.62 360.5L1104.62 360.3L1104.88 344.2L1104.88 358.5L1105.12 341.8L1105.12 336L1105.38 361.3L1105.38 361.3L1105.62 333.7L1105.62 326.8L1105.88 344.4L1105.88 344.5L1106.12 339.3L1106.12 329.8L1106.38 342.9L1106.38 357L1106.62 328.4L1106.62 321.3L1106.88 323.9L1106.88 335.4L1107.12 341.7L1107.12 341.7L1107.38 336L1107.38 336.9L1107.62 345.2L1107.62 344.3L1107.88 327.2L1107.88 330.4L1108.12 340L1108.12 337.8L1108.38 314L1108.38 325.2L1108.62 323.6L1108.62 315.1L1108.88 330.1L1108.88 330.1L1109.12 333.4L1109.12 327.6L1109.38 322.1L1109.38 331.5L1109.62 361.9L1109.62 353.9L1109.88 359.3L1109.88 364.6L1110.12 362.1L1110.12 347.8L1110.38 348.9L1110.38 357.1L1110.62 366.5L1110.62 366.5L1110.88 359.5L1110.88 360.7L1111.12 362.9L1111.12 361.5L1111.38 357.2L1111.38 360.7L1111.62 346.2L1111.62 344.5L1111.88 357.3L1111.88 365.2L1112.12 366.4L1112.12 360.2L1112.38 361.1L1112.38 361.1L1112.62 363.7L1112.62 355.6L1112.88 342L1112.88 348.4L1113.12 348.6L1113.12 340L1113.38 357.8L1113.38 364L1113.62 360.7L1113.62 358.9L1113.88 349.4L1113.88 349.6L1114.12 357.2L1114.12 357.2L1114.38 354.4L1114.38 358.9L1114.62 367.8L1114.62 358L1114.88 352.8L1114.88 357.8L1115.12 349.6L1115.12 343.9L1115.38 340.8L1115.38 341.7L1115.62 353.4L1115.62 345.9L1115.88 361.3L1115.88 361.3L1116.12 359.6L1116.12 351.4L1116.38 344.2L1116.38 349.2L1116.62 358.7L1116.62 353L1116.88 352.4L1116.88 354.9L1117.12 357.1L1117.12 350.4L1117.38 344.5L1117.38 349.5L1117.62 345.3L1117.62 345.3L1117.88 343.4L1117.88 344.2L1118.12 343.4L1118.12 340.5L1118.38 340.5L1118.38 341L1118.62 355.4L1118.62 346.5L1118.88 356.5L1118.88 356.7L1119.12 354.5L1119.12 349.6L1119.38 345.7L1119.38 345.7L1119.62 334.1L1119.62 321.6L1119.88 323.9L1119.88 333.8L1120.12 340.8L1120.12 340.2L1120.38 337.7L1120.38 343.5L1120.62 365.1L1120.62 354.4L1120.88 356.9L1120.88 367.7L1121.12 356.3L1121.12 356.3L1121.38 336.2L1121.38 357L1121.62 344.3L1121.62 332.6L1121.88 356.2L1121.88 357.1L1122.12 352.9L1122.12 347.6L1122.38 343.4L1122.38 351.6L1122.62 363.1L1122.62 350.3L1122.88 358.4L1122.88 358.4L1123.12 356.7L1123.12 353.4L1123.38 350.8L1123.38 365.8L1123.62 361.8L1123.62 355.4L1123.88 355.4L1123.88 357.3L1124.12 361.1L1124.12 358.4L1124.38 353.1L1124.38 354.2L1124.62 351.4L1124.62 351.4L1124.88 348.2L1124.88 361L1125.12 334.7L1125.12 330.9L1125.38 340.3L1125.38 344.5L1125.62 343.1L1125.62 343.1L1125.88 351.7L1125.88 357L1126.12 354.4L1126.12 352.2L1126.38 332.7L1126.38 332.7L1126.62 325.3L1126.62 323.1L1126.88 330.7L1126.88 352.5L1127.12 346.5L1127.12 330.5L1127.38 328.9L1127.38 332.7L1127.62 342.5L1127.62 336.3L1127.88 355L1127.88 363.5L1128.12 354.3L1128.12 354.3L1128.38 349.5L1128.38 355.3L1128.62 364.9L1128.62 359.5L1128.88 359.3L1128.88 365.7L1129.12 352.3L1129.12 345.4L1129.38 339.1L1129.38 341.1L1129.62 353.1L1129.62 346.7L1129.88 362.7L1129.88 362.7L1130.12 348.2L1130.12 338.1L1130.38 336.8L1130.38 337.6L1130.62 327.4L1130.62 316.9L1130.88 317.2L1130.88 326.6L1131.12 346.3L1131.12 334.2L1131.38 339.4L1131.38 341.2L1131.62 347.1L1131.62 324.9L1131.88 322L1131.88 322L1132.12 342.1L1132.12 339.6L1132.38 337.8L1132.38 341.9L1132.62 329.6L1132.62 324.1L1132.88 324.6L1132.88 344.9L1133.12 342.1L1133.12 325.4L1133.38 334.5L1133.38 335.6L1133.62 341.2L1133.62 341.2L1133.88 344.9L1133.88 350.2L1134.12 352.1L1134.12 349.6L1134.38 353.1L1134.38 358.9L1134.62 362.8L1134.62 358.5L1134.88 347.7L1134.88 352.7L1135.12 355.8L1135.12 335.2L1135.38 336.3L1135.38 336.3L1135.62 365.2L1135.62 354.4L1135.88 358.9L1135.88 361.8L1136.12 356.5L1136.12 338.4L1136.38 330.5L1136.38 334.4L1136.62 353L1136.62 344.7L1136.88 356L1136.88 364.6L1137.12 344.7L1137.12 344.7L1137.38 344L1137.38 349.9L1137.62 357.8L1137.62 352.2L1137.88 347.6L1137.88 364.6L1138.12 345.3L1138.12 339.2L1138.38 357.7L1138.38 362.7L1138.62 364.8L1138.62 357.1L1138.88 368.3L1138.88 368.3L1139.12 365L1139.12 363.9L1139.38 351.1L1139.38 360.4L1139.62 360.3L1139.62 352.6L1139.88 344.9L1139.88 352L1140.12 363.8L1140.12 363.3L1140.38 350.8L1140.38 358.5L1140.62 346.9L1140.62 346.9L1140.88 345.3L1140.88 359.9L1141.12 328.5L1141.12 326.5L1141.38 350.4L1141.38 363.9L1141.62 350L1141.62 342.2L1141.88 342.8L1141.88 351.5L1142.12 366.2L1142.12 361.5L1142.38 364L1142.38 364L1142.62 362.3L1142.62 356.3L1142.88 354.2L1142.88 354.6L1143.12 356.2L1143.12 354L1143.38 334.6L1143.38 342.7L1143.62 344.6L1143.62 335.9L1143.88 354.4L1143.88 356.8L1144.12 351.6L1144.12 351.6L1144.38 328.2L1144.38 342.4L1144.62 322.6L1144.62 319.2L1144.88 340.4L1144.88 358.5L1145.12 339.1L1145.12 327.6L1145.38 326.5L1145.38 327.4L1145.62 334.5L1145.62 331.9L1145.88 330.7L1145.88 330.7L1146.12 327.5L1146.12 327.3L1146.38 333.3L1146.38 346.9L1146.62 348.6L1146.62 330.3L1146.88 308.7L1146.88 314L1147.12 334.3L1147.12 315.9L1147.38 323.4L1147.38 337.4L1147.62 311L1147.62 311L1147.88 309L1147.88 316.6L1148.12 345.9L1148.12 337L1148.38 318.1L1148.38 330L1148.62 328.1L1148.62 317.8L1148.88 343.8L1148.88 347.9L1149.12 352.6L1149.12 345.8L1149.38 347.2L1149.38 347.2L1149.62 348.8L1149.62 343.2L1149.88 337.4L1149.88 344.4L1150.12 363.9L1150.12 356L1150.38 350.3L1150.38 360.4L1150.62 368.1L1150.62 353L1150.88 357.3L1150.88 367.5L1151.12 356.7L1151.12 356.7L1151.38 356.1L1151.38 363.1L1151.62 367.6L1151.62 360.7L1151.88 344.4L1151.88 351.4L1152.12 363L1152.12 351.4L1152.38 347L1152.38 350.4L1152.62 363L1152.62 351.8L1152.88 344.3L1152.88 344.3L1153.12 329.4L1153.12 327.1L1153.38 340.5L1153.38 353.3L1153.62 361.2L1153.62 349.3L1153.88 329.3L1153.88 337.5L1154.12 332.3L1154.12 329.2L1154.38 336L1154.38 351.5L1154.62 358.1L1154.62 358.1L1154.88 345.7L1154.88 346L1155.12 358.9L1155.12 356.8L1155.38 340L1155.38 345.7L1155.62 361.9L1155.62 348.1L1155.88 347.9L1155.88 356.6L1156.12 355.3L1156.12 348.6L1156.38 367.3L1156.38 367.3L1156.62 356.8L1156.62 356.6L1156.88 358.8L1156.88 365.9L1157.12 361.4L1157.12 360.6L1157.38 346.5L1157.38 351.9L1157.62 352.1L1157.62 348.1L1157.88 353.6L1157.88 356.7L1158.12 356.2L1158.12 356.2L1158.38 333.5L1158.38 346.2L1158.62 358.1L1158.62 335.8L1158.88 337.4L1158.88 348.5L1159.12 354.3L1159.12 343.7L1159.38 357.9L1159.38 364.6L1159.62 362.5L1159.62 356.6L1159.88 359.5L1159.88 359.5L1160.12 363.2L1160.12 360.6L1160.38 358.8L1160.38 363.9L1160.62 360.8L1160.62 354.8L1160.88 345.9L1160.88 346.3L1161.12 357.8L1161.12 340.1L1161.38 323.6L1161.38 327.7L1161.62 326.1L1161.62 326.1L1161.88 337.1L1161.88 355.9L1162.12 357.8L1162.12 355L1162.38 349.1L1162.38 354.5L1162.62 361.1L1162.62 354.9L1162.88 346.8L1162.88 349.7L1163.12 356.1L1163.12 354.2L1163.38 356.5L1163.38 356.5L1163.62 363.5L1163.62 353.6L1163.88 354.3L1163.88 362.4L1164.12 351.4L1164.12 350.8L1164.38 353.7L1164.38 362L1164.62 358.8L1164.62 350.1L1164.88 349.8L1164.88 357.9L1165.12 364.3L1165.12 364.3L1165.38 364.1L1165.38 364.6L1165.62 361.1L1165.62 351.7L1165.88 352.3L1165.88 363.2L1166.12 356.2L1166.12 351.4L1166.38 356.4L1166.38 357.1L1166.62 363.5L1166.62 359.9L1166.88 360.4L1166.88 360.4L1167.12 366.6L1167.12 354.9L1167.38 355.3L1167.38 363.7L1167.62 352.8L1167.62 352.4L1167.88 349.2L1167.88 352.3L1168.12 347.6L1168.12 344.5L1168.38 332.4L1168.38 337.1L1168.62 326.8L1168.62 326.8L1168.88 327.1L1168.88 327.9L1169.12 317.5L1169.12 315.1L1169.38 317.9L1169.38 326.2L1169.62 354.4L1169.62 341.1L1169.88 348.4L1169.88 349.3L1170.12 325.4L1170.12 312L1170.38 310.9L1170.38 314.5L1170.62 317.1L1170.62 317.1L1170.88 313.5L1170.88 314.6L1171.12 347.9L1171.12 327.7L1171.38 309.4L1171.38 318.9L1171.62 313.8L1171.62 309.4L1171.88 327.3L1171.88 344.9L1172.12 359.8L1172.12 351.1L1172.38 359.6L1172.38 359.6L1172.62 363.5L1172.62 358.8L1172.88 335.9L1172.88 342.6L1173.12 339.6L1173.12 334.7L1173.38 331.3L1173.38 338.5L1173.62 363.3L1173.62 351.4L1173.88 358.3L1173.88 363.2L1174.12 362.4L1174.12 362.4L1174.38 342.1L1174.38 353.9L1174.62 333.7L1174.62 330.9L1174.88 334.8L1174.88 335.1L1175.12 341.9L1175.12 336.9L1175.38 335.7L1175.38 339.6L1175.62 335.4L1175.62 333.6L1175.88 334.8L1175.88 334.8L1176.12 343.3L1176.12 342.8L1176.38 341.2L1176.38 342.4L1176.62 324.7L1176.62 312.4L1176.88 309.3L1176.88 318.8L1177.12 350.4L1177.12 327.2L1177.38 323.1L1177.38 334.6L1177.62 345.9L1177.62 345.9L1177.88 341L1177.88 347.3L1178.12 338.3L1178.12 337L1178.38 346.2L1178.38 359.9L1178.62 359.9L1178.62 355.3L1178.88 351.4L1178.88 352L1179.12 356.5L1179.12 353.3L1179.38 362.3L1179.38 362.3L1179.62 355.5L1179.62 341.2L1179.88 341.5L1179.88 351.8L1180.12 365.7L1180.12 362.4L1180.38 357.8L1180.38 365.7L1180.62 336L1180.62 324.2L1180.88 323.9L1180.88 340.9L1181.12 364.5L1181.12 364.5L1181.38 349.1L1181.38 356.9L1181.62 358.4L1181.62 350.8L1181.88 358.4L1181.88 366.9L1182.12 363.3L1182.12 345.6L1182.38 312L1182.38 325L1182.62 318.5L1182.62 313.4L1182.88 329.5L1182.88 329.5L1183.12 353.1L1183.12 342.5L1183.38 359.5L1183.38 362.4L1183.62 345.3L1183.62 333.1L1183.88 337.4L1183.88 355.5L1184.12 366L1184.12 362.7L1184.38 349.5L1184.38 350.7L1184.62 366.3L1184.62 366.3L1184.88 356.7L1184.88 358.3L1185.12 366.2L1185.12 356L1185.38 356.5L1185.38 356.6L1185.62 350.3L1185.62 349.2L1185.88 348.9L1185.88 355L1186.12 367.5L1186.12 361.4L1186.38 367.4L1186.38 367.4L1186.62 347.2L1186.62 334.5L1186.88 340.3L1186.88 356.1L1187.12 366.8L1187.12 359.8L1187.38 350.7L1187.38 356.4L1187.62 365.7L1187.62 356.3L1187.88 356.3L1187.88 363L1188.12 359.8L1188.12 359.8L1188.38 343.8L1188.38 348.1L1188.62 353.1L1188.62 346.9L1188.88 344.6L1188.88 351.6L1189.12 346.1L1189.12 346L1189.38 328.6L1189.38 330.2L1189.62 355.3L1189.62 336.2L1189.88 334L1189.88 334L1190.12 344.8L1190.12 343.4L1190.38 337.9L1190.38 343.9L1190.62 352.8L1190.62 351L1190.88 346.9L1190.88 347.9L1191.12 344.1L1191.12 329.3L1191.38 312.8L1191.38 316.5L1191.62 345.6L1191.62 345.6L1191.88 348.2L1191.88 349.2L1192.12 363.6L1192.12 360.1L1192.38 355.4L1192.38 358.6L1192.62 364.2L1192.62 357.3L1192.88 359.1L1192.88 360.1L1193.12 359.4L1193.12 352.4L1193.38 341.7L1193.38 341.7L1193.62 332.2L1193.62 326L1193.88 322.3L1193.88 324.6L1194.12 339.4L1194.12 324.2L1194.38 329.3L1194.38 356.7L1194.62 352L1194.62 330.3L1194.88 339.7L1194.88 351.5L1195.12 339L1195.12 339L1195.38 333.4L1195.38 340L1195.62 322.5L1195.62 320.5L1195.88 328.5L1195.88 337.3L1196.12 343.6L1196.12 338.1L1196.38 324.2L1196.38 334L1196.62 329.2L1196.62 319L1196.88 333.9L1196.88 333.9L1197.12 338.4L1197.12 332.4L1197.38 338.2L1197.38 357.3L1197.62 332.3L1197.62 327L1197.88 345.2L1197.88 359.8L1198.12 359.5L1198.12 359.3L1198.38 334L1198.38 349.1L1198.62 322.2L1198.62 322.2L1198.88 327.7L1198.88 344.6L1199.12 352.9L1199.12 350.5L1199.38 330.4L1199.38 338.1L1199.62 350.7L1199.62 340.9L1199.88 342.6L1199.88 348.2L1200.12 350.9L1200.12 344.7L1200.38 336.2L1200.38 336.2L1200.62 348L1200.62 337.8L1200.88 352.5L1200.88 353.3L1201.12 356.2L1201.12 355.1L1201.38 339.6L1201.38 343.1L1201.62 354.8L1201.62 344.3L1201.88 343.1L1201.88 347.7L1202.12 341.7L1202.12 341.7L1202.38 346.9L1202.38 351.9L1202.62 355.4L1202.62 355.2L1202.88 354.6L1202.88 355.9L1203.12 356.1L1203.12 351.6L1203.38 351L1203.38 357.1L1203.62 353.2L1203.62 350.2L1203.88 361.1L1203.88 361.1L1204.12 358.4L1204.12 355.5L1204.38 348.7L1204.38 361.1L1204.62 348.8L1204.62 344.1L1204.88 350.8L1204.88 354.7L1205.12 341.4L1205.12 332.3L1205.38 329.9L1205.38 336.4L1205.62 343.2L1205.62 343.2L1205.88 336.8L1205.88 342.6L1206.12 343.3L1206.12 334.6L1206.38 356.1L1206.38 365.7L1206.62 360.2L1206.62 347.8L1206.88 321.9L1206.88 331.9L1207.12 331.6L1207.12 323.4L1207.38 344.7L1207.38 344.7L1207.62 366.2L1207.62 342.2L1207.88 337.7L1207.88 348.5L1208.12 368.1L1208.12 363L1208.38 365.3L1208.38 367.7L1208.62 362.3L1208.62 350.7L1208.88 348.5L1208.88 354.4L1209.12 367L1209.12 363.8L1209.38 366L1209.38 366L1209.62 365.5L1209.62 360.9L1209.88 352.5L1209.88 354.7L1210.12 365.3L1210.12 354.7L1210.38 348.4L1210.38 360.7L1210.62 327.3L1210.62 322.5L1210.88 325.2L1210.88 327.7L1211.12 321.3L1211.12 321.3L1211.38 314L1211.38 319.8L1211.62 363.3L1211.62 339.7L1211.88 350L1211.88 353L1212.12 358.1L1212.12 350.9L1212.38 351.4L1212.38 359.6L1212.62 350L1212.62 337.8L1212.88 333.8L1212.88 333.8L1213.12 357.1L1213.12 340.5L1213.38 356L1213.38 359.4L1213.62 355.3L1213.62 352.8L1213.88 342.8L1213.88 350.5L1214.12 352.9L1214.12 348L1214.38 340.3L1214.38 353.2L1214.62 345.9L1214.62 345.9L1214.88 335.4L1214.88 336.9L1215.12 334.3L1215.12 329.9L1215.38 333.5L1215.38 351.8L1215.62 360.9L1215.62 360.3L1215.88 362.1L1215.88 364.1L1216.12 361.8L1216.12 350.5L1216.38 333.6L1216.38 333.6L1216.62 336.8L1216.62 330.2L1216.88 346L1216.88 357.8L1217.12 335.8L1217.12 330.4L1217.38 336.5L1217.38 363.5L1217.62 344.9L1217.62 330.1L1217.88 362.8L1217.88 364.2L1218.12 364.8L1218.12 364.8L1218.38 364.3L1218.38 365.6L1218.62 355.5L1218.62 352.4L1218.88 355.6L1218.88 364.7L1219.12 358.1L1219.12 354.4L1219.38 351.9L1219.38 363.7L1219.62 356.6L1219.62 349.2L1219.88 364.3L1219.88 364.3L1220.12 365.4L1220.12 357L1220.38 326.5L1220.38 342.7L1220.62 353.6L1220.62 334.7L1220.88 356.8L1220.88 363L1221.12 352L1221.12 346.1L1221.38 354.5L1221.38 363.3L1221.62 358L1221.62 358L1221.88 353.6L1221.88 366.2L1222.12 357.8L1222.12 355L1222.38 315.4L1222.38 334.2L1222.62 317.3L1222.62 312.3L1222.88 340.9L1222.88 354L1223.12 330.5L1223.12 327.6L1223.38 343.5L1223.38 343.5L1223.62 366.4L1223.62 354.6L1223.88 353L1223.88 360.7L1224.12 362.9L1224.12 360.5L1224.38 352.5L1224.38 366.2L1224.62 343.2L1224.62 336.9L1224.88 340.4L1224.88 361.3L1225.12 340.7L1225.12 340.7L1225.38 319.7L1225.38 329.8L1225.62 361.9L1225.62 352.2L1225.88 360.1L1225.88 367L1226.12 352.8L1226.12 338.5L1226.38 340.7L1226.38 362.7L1226.62 364.5L1226.62 356L1226.88 351.5L1226.88 351.5L1227.12 360.8L1227.12 345.6L1227.38 345L1227.38 352.6L1227.62 355.4L1227.62 350.7L1227.88 322.9L1227.88 335.2L1228.12 337.6L1228.12 324.7L1228.38 357.6L1228.38 358.3L1228.62 354.1L1228.62 354.1L1228.88 350.4L1228.88 351L1229.12 363L1229.12 353.2L1229.38 358.4L1229.38 359.2L1229.62 360.4L1229.62 356.4L1229.88 354.7L1229.88 356.4L1230.12 357.7L1230.12 355.3L1230.38 355.1L1230.38 355.1L1230.62 359.3L1230.62 359.2L1230.88 357.3L1230.88 358.9L1231.12 363.7L1231.12 355.9L1231.38 345.4L1231.38 359.8L1231.62 334.4L1231.62 331.5L1231.88 347.8L1231.88 364L1232.12 358.9L1232.12 358.9L1232.38 357.6L1232.38 360.6L1232.62 345.2L1232.62 336.5L1232.88 338L1232.88 354.5L1233.12 358L1233.12 351.6L1233.38 354L1233.38 354.9L1233.62 353.1L1233.62 349.1L1233.88 345.6L1233.88 345.6L1234.12 336.3L1234.12 333.6L1234.38 343.1L1234.38 345.8L1234.62 332.1L1234.62 326.4L1234.88 334.1L1234.88 346.1L1235.12 349.9L1235.12 340.7L1235.38 316.5L1235.38 325.5L1235.62 315.9L1235.62 315.9L1235.88 322.9L1235.88 337.5L1236.12 351.7L1236.12 349.9L1236.38 352.4L1236.38 353L1236.62 347.3L1236.62 343.2L1236.88 329.3L1236.88 337.9L1237.12 317.8L1237.12 310.8L1237.38 312.2L1237.38 312.2L1237.62 331.1L1237.62 321.5L1237.88 342.3L1237.88 352L1238.12 362.3L1238.12 356.6L1238.38 349.4L1238.38 358.1L1238.62 363.6L1238.62 350.3L1238.88 338.3L1238.88 348.5L1239.12 333.3L1239.12 333.3L1239.38 334.9L1239.38 344.3L1239.62 357.8L1239.62 356.3L1239.88 357.7L1239.88 364L1240.12 355.5L1240.12 345.9L1240.38 330.9L1240.38 337.9L1240.62 351.8L1240.62 333.9L1240.88 365.2L1240.88 365.2L1241.12 366.8L1241.12 363.5L1241.38 356.4L1241.38 359L1241.62 355.4L1241.62 353.8L1241.88 347.7L1241.88 354.3L1242.12 337.9L1242.12 336.8L1242.38 346.7L1242.38 351.1L1242.62 355L1242.62 355L1242.88 348.9L1242.88 352.5L1243.12 356.2L1243.12 349.5L1243.38 330.6L1243.38 333.3L1243.62 352L1243.62 342.1L1243.88 342.9L1243.88 346.1L1244.12 353.2L1244.12 346L1244.38 348.4L1244.38 348.4L1244.62 354.7L1244.62 348.1L1244.88 343.9L1244.88 351.9L1245.12 351.7L1245.12 345.4L1245.38 348L1245.38 354.7L1245.62 341.7L1245.62 338.7L1245.88 341.4L1245.88 346.1L1246.12 351.8L1246.12 351.8L1246.38 359.7L1246.38 361.5L1246.62 360.2L1246.62 355.7L1246.88 325.8L1246.88 338.5L1247.12 347.5L1247.12 325.9L1247.38 335.1L1247.38 348.6L1247.62 355.9L1247.62 341.6L1247.88 351.3L1247.88 360.9L1248.12 352.1L1248.12 352.1L1248.38 357.8L1248.38 362.5L1248.62 359.7L1248.62 355.4L1248.88 355.6L1248.88 355.9L1249.12 354.7L1249.12 352.9L1249.38 353L1249.38 358.6L1249.62 367.3L1249.62 364.1L1249.88 360.9L1249.88 360.9L1250.12 357L1250.12 356.1L1250.38 359.1L1250.38 364.8L1250.62 361.7L1250.62 357.7L1250.88 336.6L1250.88 342.9L1251.12 342.4L1251.12 338.5L1251.38 342.5L1251.38 344.3L1251.62 359.9L1251.62 359.9L1251.88 353.6L1251.88 356.1L1252.12 366.8L1252.12 359.2L1252.38 361L1252.38 361.3L1252.62 366.6L1252.62 358.6L1252.88 351.1L1252.88 352.6L1253.12 346.3L1253.12 340.7L1253.38 347.8L1253.38 347.8L1253.62 367.6L1253.62 346.2L1253.88 340.8L1253.88 352.4L1254.12 367.4L1254.12 359.7L1254.38 349.6L1254.38 364.6L1254.62 362.9L1254.62 348.2L1254.88 345.8L1254.88 353.4L1255.12 346.1L1255.12 346.1L1255.38 347.9L1255.38 348L1255.62 364.4L1255.62 356.5L1255.88 346.1L1255.88 357.1L1256.12 337.5L1256.12 336.5L1256.38 348.6L1256.38 360.5L1256.62 357.5L1256.62 355.7L1256.88 333L1256.88 333L1257.12 333.2L1257.12 322.5L1257.38 351.1L1257.38 363.3L1257.62 366.9L1257.62 362.2L1257.88 347.5L1257.88 353.4L1258.12 348.9L1258.12 345.3L1258.38 349.8L1258.38 350.9L1258.62 346.4L1258.62 346.4L1258.88 344.9L1258.88 346.3L1259.12 342.9L1259.12 341.3L1259.38 346.9L1259.38 357.6L1259.62 367.2L1259.62 365L1259.88 349.2L1259.88 359.3L1260.12 340.4L1260.12 334.6L1260.38 342.3L1260.38 342.3L1260.62 366.1L1260.62 343.7L1260.88 338.1L1260.88 346.4L1261.12 359.1L1261.12 354.6L1261.38 334.7L1261.38 343.4L1261.62 323.4L1261.62 319.2L1261.88 319L1261.88 331.7L1262.12 361.5L1262.12 361.5L1262.38 351.3L1262.38 351.4L1262.62 363.4L1262.62 340.9L1262.88 332.7L1262.88 338.3L1263.12 345.5L1263.12 345.5L1263.38 343L1263.38 351L1263.62 364.5L1263.62 352.5L1263.88 358.1L1263.88 358.1L1264.12 359.3L1264.12 349.9L1264.38 351.7L1264.38 359.1L1264.62 339.1L1264.62 334.9L1264.88 353.4L1264.88 361L1265.12 349.7L1265.12 347.1L1265.38 359L1265.38 361.4L1265.62 345.1L1265.62 345.1L1265.88 334.3L1265.88 335.8L1266.12 359.3L1266.12 346.8L1266.38 356.1L1266.38 362.9L1266.62 358.8L1266.62 353.8L1266.88 338.2L1266.88 345.3L1267.12 366.7L1267.12 356.6L1267.38 358.8L1267.38 358.8L1267.62 368.2L1267.62 357.8L1267.88 329.2L1267.88 344.1L1268.12 339.1L1268.12 328.5L1268.38 346.1L1268.38 347.3L1268.62 348.8L1268.62 342.9L1268.88 360.8L1268.88 366L1269.12 363.7L1269.12 363.7L1269.38 356.4L1269.38 359.3L1269.62 367.3L1269.62 366.6L1269.88 354.8L1269.88 361.3L1270.12 360.3L1270.12 354.3L1270.38 360.8L1270.38 363.1L1270.62 363.9L1270.62 362.9L1270.88 359.5L1270.88 359.5L1271.12 358.5L1271.12 345.4L1271.38 349.6L1271.38 360.3L1271.62 345L1271.62 341L1271.88 340.6L1271.88 342.8L1272.12 347.6L1272.12 341.8L1272.38 346L1272.38 347.1L1272.62 352.9L1272.62 352.9L1272.88 345.4L1272.88 359.9L1273.12 339L1273.12 336.6L1273.38 322.2L1273.38 327.8L1273.62 343.6L1273.62 329.6L1273.88 358L1273.88 362.9L1274.12 362L1274.12 361.6L1274.38 362.1L1274.38 362.1L1274.62 365.5L1274.62 361.3L1274.88 358.1L1274.88 358.7L1275.12 367.2L1275.12 358.4L1275.38 357.8L1275.38 363.3L1275.62 364.4L1275.62 363.7L1275.88 355.2L1275.88 364.1L1276.12 348L1276.12 348L1276.38 355.1L1276.38 357.4L1276.62 350.7L1276.62 349.6L1276.88 339.1L1276.88 360.7L1277.12 326.8L1277.12 322.9L1277.38 316.8L1277.38 320.4L1277.62 333L1277.62 315.4L1277.88 355.5L1277.88 355.5L1278.12 343.2L1278.12 338L1278.38 349.4L1278.38 362.8L1278.62 358.5L1278.62 348.8L1278.88 340.6L1278.88 360.3L1279.12 359.9L1279.12 339.1L1279.38 342.5L1279.38 353.3L1279.62 348.8L1279.62 348.8L1279.88 351L1279.88 365.4L1280.12 330.3L1280.12 323L1280.38 332.5L1280.38 347.7L1280.62 357.5L1280.62 355.1L1280.88 353.9L1280.88 357.4L1281.12 363.4L1281.12 361.3L1281.38 361.1L1281.38 361.1L1281.62 346.3L1281.62 333.1L1281.88 334L1281.88 355.1L1282.12 342.4L1282.12 338.2L1282.38 346.2L1282.38 348.4L1282.62 341.2L1282.62 332.2L1282.88 338.8L1282.88 354L1283.12 357.7L1283.12 357.7L1283.38 321.8L1283.38 342.8L1283.62 337.8L1283.62 321.2L1283.88 344.7L1283.88 349.1L1284.12 348L1284.12 336.7L1284.38 341.2L1284.38 354.4L1284.62 343.9L1284.62 339.4L1284.88 364.8L1284.88 364.8L1285.12 329.6L1285.12 310.7L1285.38 312L1285.38 336.6L1285.62 361.7L1285.62 359.3L1285.88 343.5L1285.88 347.7L1286.12 358L1286.12 350.7L1286.38 341.4L1286.38 348.5L1286.62 314.1L1286.62 308.4L1286.88 302.7L1286.88 302.7L1287.12 302.7L1287.12 297L1287.38 308.4L1287.38 314.1L1287.62 352.7L1287.62 348.4L1287.88 338.7L1287.88 340.8L1288.12 357.9L1288.12 340.6L1288.38 329.1L1288.38 343.5L1288.62 361.8L1288.62 361.8L1288.88 353.7L1288.88 361.1L1289.12 364.6L1289.12 364.5L1289.38 359.5L1289.38 361.3L1289.62 366L1289.62 363.2L1289.88 362.9L1289.88 363.9L1290.12 366.1L1290.12 364.1L1290.38 363.7L1290.38 363.7L1290.62 366.1L1290.62 365.6L1290.88 340.8L1290.88 356L1291.12 361.1L1291.12 340.2L1291.38 356.3L1291.38 356.6L1291.62 362.5L1291.62 362.3L1291.88 344.3L1291.88 352.5L1292.12 354L1292.12 354L1292.38 339.7L1292.38 358.6L1292.62 347L1292.62 335.4L1292.88 356.7L1292.88 358L1293.12 363.6L1293.12 356.6L1293.38 353.8L1293.38 356.8L1293.62 360.6L1293.62 356.2L1293.88 348.2L1293.88 348.2L1294.12 343.4L1294.12 342.4L1294.38 331.8L1294.38 339.1L1294.62 321.5L1294.62 317L1294.88 325.6L1294.88 338.1L1295.12 345.9L1295.12 344.4L1295.38 349.8L1295.38 362.8L1295.62 356.1L1295.62 356.1L1295.88 345.7L1295.88 350.3L1296.12 351.9L1296.12 346.3L1296.38 357.7L1296.38 363.4L1296.62 361.5L1296.62 361.1L1296.88 349.1L1296.88 353.3L1297.12 357.2L1297.12 356.5L1297.38 355.2L1297.38 355.2L1297.62 360.7L1297.62 354.8L1297.88 322.5L1297.88 336.7L1298.12 316.8L1298.12 312.9L1298.38 314L1298.38 321.7L1298.62 350.2L1298.62 335.4L1298.88 349.4L1298.88 353.4L1299.12 340.7L1299.12 340.7L1299.38 333.8L1299.38 340.3L1299.62 359L1299.62 348.9L1299.88 331.3L1299.88 335.2L1300.12 343.1L1300.12 333.6L1300.38 354.1L1300.38 361.5L1300.62 363L1300.62 360.8L1300.88 356.1L1300.88 356.1L1301.12 341.2L1301.12 337.6L1301.38 348.5L1301.38 362.5L1301.62 359.5L1301.62 348.9L1301.88 333.4L1301.88 337.4L1302.12 358.8L1302.12 341.7L1302.38 349.1L1302.38 356.4L1302.62 351L1302.62 351L1302.88 356.9L1302.88 368.2L1303.12 354.2L1303.12 344.2L1303.38 329.2L1303.38 333.3L1303.62 342.8L1303.62 334.3L1303.88 356.4L1303.88 360.6L1304.12 345.3L1304.12 343.1L1304.38 355.6L1304.38 355.6L1304.62 366.1L1304.62 364L1304.88 353.7L1304.88 361.4L1305.12 359.3L1305.12 353.1L1305.38 337.1L1305.38 338.2L1305.62 358.6L1305.62 358.5L1305.88 345.7L1305.88 347.7L1306.12 360.4L1306.12 360.4L1306.38 356.7L1306.38 364.9L1306.62 344.7L1306.62 339.1L1306.88 352.2L1306.88 363.5L1307.12 343.7L1307.12 322.9L1307.38 314.4L1307.38 319.5L1307.62 355.9L1307.62 337.4L1307.88 357.5L1307.88 357.5L1308.12 345.8L1308.12 345.6L1308.38 353.7L1308.38 362.1L1308.62 354.7L1308.62 346.9L1308.88 361.1L1308.88 367.3L1309.12 363L1309.12 362.9L1309.38 365.8L1309.38 367.6L1309.62 365L1309.62 365L1309.88 363.6L1309.88 365L1310.12 361.2L1310.12 353.1L1310.38 352.5L1310.38 357L1310.62 350.9L1310.62 336.8L1310.88 325.7L1310.88 330L1311.12 352.8L1311.12 344.4L1311.38 355.6L1311.38 355.6L1311.62 355.4L1311.62 354.3L1311.88 356.6L1311.88 357.2L1312.12 368.2L1312.12 358.7L1312.38 361.6L1312.38 363.3L1312.62 364.6L1312.62 359.2L1312.88 348.8L1312.88 355.3L1313.12 340.5L1313.12 340.5L1313.38 339.5L1313.38 348L1313.62 352L1313.62 329.8L1313.88 325.4L1313.88 339.4L1314.12 360.9L1314.12 358.6L1314.38 352.6L1314.38 357.9L1314.62 349L1314.62 347.1L1314.88 352L1314.88 352L1315.12 359.8L1315.12 357.5L1315.38 357L1315.38 359.3L1315.62 361.1L1315.62 359.8L1315.88 357L1315.88 366.2L1316.12 343.6L1316.12 333.8L1316.38 340.4L1316.38 351.7L1316.62 366L1316.62 366L1316.88 362.5L1316.88 363.3L1317.12 357L1317.12 351.9L1317.38 350.2L1317.38 351.6L1317.62 349.7L1317.62 341.8L1317.88 340.9L1317.88 350L1318.12 352.1L1318.12 350L1318.38 345.9L1318.38 345.9L1318.62 340.5L1318.62 334.3L1318.88 317.7L1318.88 322.6L1319.12 349.6L1319.12 328.4L1319.38 325L1319.38 333.4L1319.62 362.7L1319.62 338.3L1319.88 353L1319.88 355.3L1320.12 363L1320.12 363L1320.38 354.4L1320.38 355.7L1320.62 364.2L1320.62 356.4L1320.88 352.6L1320.88 360.6L1321.12 367.4L1321.12 364.6L1321.38 361.6L1321.38 367.2L1321.62 354.6L1321.62 346.1L1321.88 340.7L1321.88 340.7L1322.12 343.2L1322.12 339.5L1322.38 348.4L1322.38 357.6L1322.62 365.9L1322.62 354.6L1322.88 334.1L1322.88 341.3L1323.12 361.2L1323.12 339.9L1323.38 345.7L1323.38 349.7L1323.62 353.4L1323.62 353.4L1323.88 346.3L1323.88 352.9L1324.12 361.4L1324.12 347L1324.38 354.7L1324.38 366.7L1324.62 341.9L1324.62 336.6L1324.88 347.6L1324.88 363.4L1325.12 364.7L1325.12 353.1L1325.38 354.5L1325.38 355.8L1325.62 362.1L1325.62 362.1L1325.88 343.5L1325.88 351.6L1326.12 344.6L1326.12 344.5L1326.38 346.4L1326.38 352.5L1326.62 350.7L1326.62 346.4L1326.88 322.6L1326.88 335.3L1327.12 321.1L1327.12 319.8L1327.38 328.5L1327.38 328.5L1327.62 350.5L1327.62 345.9L1327.88 330.1L1327.88 331.7L1328.12 360.9L1328.12 344.5L1328.38 355L1328.38 360.3L1328.62 353.3L1328.62 346.8L1328.88 345.7L1328.88 352.4L1329.12 356.2L1329.12 356.2L1329.38 344.9L1329.38 346.5L1329.62 345.9L1329.62 344.8L1329.88 346.1L1329.88 356.7L1330.12 356.5L1330.12 355.8L1330.38 343.5L1330.38 357.6L1330.62 336L1330.62 331.8L1330.88 332.8L1330.88 332.8L1331.12 346.6L1331.12 336.7L1331.38 357.7L1331.38 361.7L1331.62 357.6L1331.62 353.8L1331.88 350.2L1331.88 354.3L1332.12 361.1L1332.12 360.6L1332.38 361.9L1332.38 366L1332.62 360.2L1332.62 360.2L1332.88 351.6L1332.88 353.4L1333.12 365.7L1333.12 343.5L1333.38 335L1333.38 345.1L1333.62 366.3L1333.62 361.8L1333.88 351.4L1333.88 362L1334.12 341.5L1334.12 338.1L1334.38 343.4L1334.38 343.4L1334.62 357.1L1334.62 348.1L1334.88 334.7L1334.88 356.1L1335.12 340.6L1335.12 326.7L1335.38 362.8L1335.38 363.5L1335.62 362.6L1335.62 360L1335.88 356L1335.88 358.2L1336.12 364.2L1336.12 364.2L1336.38 347.2L1336.38 360.4L1336.62 333.4L1336.62 325.1L1336.88 321.7L1336.88 326.1L1337.12 331.2L1337.12 331.1L1337.38 336.9L1337.38 350.6L1337.62 354.2L1337.62 338.5L1337.88 343.4L1337.88 343.4L1338.12 356.9L1338.12 354.4L1338.38 348.7L1338.38 350.5L1338.62 355.9L1338.62 353.5L1338.88 343.2L1338.88 352L1339.12 358.8L1339.12 347.7L1339.38 320.9L1339.38 334.9L1339.62 327L1339.62 327L1339.88 344.1L1339.88 363.4L1340.12 356.7L1340.12 347.3L1340.38 341.4L1340.38 346.4L1340.62 363.9L1340.62 353.1L1340.88 337.9L1340.88 343.8L1341.12 341.2L1341.12 337.1L1341.38 356L1341.38 356L1341.62 362.9L1341.62 357.1L1341.88 357.5L1341.88 365.1L1342.12 365.3L1342.12 364.4L1342.38 362.6L1342.38 363.2L1342.62 345.7L1342.62 327.4L1342.88 318.8L1342.88 319.8L1343.12 319.2L1343.12 319.2L1343.38 319.9L1343.38 332.1L1343.62 356.6L1343.62 351.9L1343.88 349.8L1343.88 359.8L1344.12 357.5L1344.12 350.4L1344.38 343.6L1344.38 348.4L1344.62 340.1L1344.62 339L1344.88 346L1344.88 346L1345.12 353.9L1345.12 332.3L1345.38 326.6L1345.38 333.6L1345.62 358.8L1345.62 346.4L1345.88 350.8L1345.88 359.5L1346.12 355.3L1346.12 351.8L1346.38 359.4L1346.38 361.2L1346.62 350.5L1346.62 350.5L1346.88 353.1L1346.88 364.5L1347.12 352.7L1347.12 347.6L1347.38 345.2L1347.38 345.5L1347.62 359.3L1347.62 351.7L1347.88 365.4L1347.88 365.7L1348.12 362.5L1348.12 352L1348.38 341.2L1348.38 341.2L1348.62 355.6L1348.62 340.8L1348.88 352L1348.88 355.9L1349.12 366.2L1349.12 360.2L1349.38 345.9L1349.38 358.5L1349.62 342.2L1349.62 338.3L1349.88 339.4L1349.88 346.5L1350.12 336.9L1350.12 336.9L1350.38 342.3L1350.38 348.6L1350.62 326.2L1350.62 322.4L1350.88 320.7L1350.88 328.4L1351.12 358.2L1351.12 342.6L1351.38 351.4L1351.38 353.3L1351.62 325.9L1351.62 310.6L1351.88 313.5L1351.88 313.5L1352.12 355.9L1352.12 336.8L1352.38 330.7L1352.38 344.4L1352.62 317.1L1352.62 316.2L1352.88 332.6L1352.88 354.2L1353.12 365.1L1353.12 362.6L1353.38 346.7L1353.38 351.9L1353.62 349.9L1353.62 349.9L1353.88 358.8L1353.88 359.7L1354.12 345.5L1354.12 339.3L1354.38 347.2L1354.38 365.1L1354.62 357.6L1354.62 355L1354.88 353.2L1354.88 355L1355.12 363.8L1355.12 357.5L1355.38 342.1L1355.38 342.1L1355.62 331.5L1355.62 328.8L1355.88 333.6L1355.88 342.2L1356.12 338.9L1356.12 332.5L1356.38 335.5L1356.38 353.8L1356.62 336.1L1356.62 333.2L1356.88 327.5L1356.88 329.6L1357.12 326.9L1357.12 326.9L1357.38 334.9L1357.38 352.4L1357.62 338.8L1357.62 333.2L1357.88 335.3L1357.88 343.4L1358.12 312.8L1358.12 311.4L1358.38 326.1L1358.38 343.6L1358.62 352.7L1358.62 351.8L1358.88 349.5L1358.88 349.5L1359.12 357.7L1359.12 346.9L1359.38 348.4L1359.38 348.7L1359.62 360.1L1359.62 353.6L1359.88 352.2L1359.88 359.3L1360.12 341.1L1360.12 331.9L1360.38 327L1360.38 330.7L1360.62 343L1360.62 343L1360.88 357.5L1360.88 364L1361.12 363.8L1361.12 361.7L1361.38 354.6L1361.38 363.7L1361.62 342L1361.62 340.9L1361.88 341.6L1361.88 343.9L1362.12 346.1L1362.12 340.2L1362.38 355.3L1362.38 355.3L1362.62 337L1362.62 334.9L1362.88 343.1L1362.88 348.7L1363.12 336.9L1363.12 325.2L1363.38 327.2L1363.38 337.8L1363.62 347L1363.62 345.4L1363.88 345.8L1363.88 350.4L1364.12 359.9L1364.12 353.5L1364.38 359.2L1364.38 359.2L1364.62 360.7L1364.62 353.9L1364.88 343.4L1364.88 347.9L1365.12 356.4L1365.12 349.1L1365.38 351.8L1365.38 360.7L1365.62 356.5L1365.62 355.9L1365.88 351.1L1365.88 361.1L1366.12 349.3L1366.12 349.3L1366.38 354.1L1366.38 362L1366.62 353.7L1366.62 352.6L1366.88 356.8L1366.88 360.2L1367.12 343.9L1367.12 336.2L1367.38 342.2L1367.38 363L1367.62 343.3L1367.62 337.4L1367.88 349.6L1367.88 349.6L1368.12 362.8L1368.12 356.1L1368.38 355.4L1368.38 360.1L1368.62 349.1L1368.62 344.5L1368.88 348.8L1368.88 361.4L1369.12 361.8L1369.12 359.7L1369.38 351.6L1369.38 361.3L1369.62 341.9L1369.62 341.9L1369.88 328L1369.88 333.2L1370.12 351L1370.12 334.4L1370.38 363.7L1370.38 364.3L1370.62 366.5L1370.62 348.7L1370.88 326.5L1370.88 328.3L1371.12 356.7L1371.12 340.7L1371.38 363.2L1371.38 363.2L1371.62 366.7L1371.62 361.1L1371.88 355.4L1371.88 361.4L1372.12 364.5L1372.12 355.5L1372.38 348.2L1372.38 350.5L1372.62 352.5L1372.62 351.7L1372.88 344.5L1372.88 347.3L1373.12 347.7L1373.12 347.7L1373.38 337.8L1373.38 346.1L1373.62 335.2L1373.62 328.2L1373.88 353.8L1373.88 364.1L1374.12 356.5L1374.12 356.3L1374.38 347.3L1374.38 350.7L1374.62 363.2L1374.62 355L1374.88 365L1374.88 365L1375.12 366.9L1375.12 358.7L1375.38 354.5L1375.38 361.2L1375.62 361.1L1375.62 354.7L1375.88 362.4L1375.88 364.3L1376.12 365.2L1376.12 361.4L1376.38 332.4L1376.38 347.2L1376.62 331.4L1376.62 331.4L1376.88 348.8L1376.88 365.5L1377.12 357.1L1377.12 350.1L1377.38 334.8L1377.38 341.2L1377.62 357.9L1377.62 343.9L1377.88 352.3L1377.88 360.4L1378.12 350.9L1378.12 349.5L1378.38 359.5L1378.38 359.5L1378.62 353.6L1378.62 348.5L1378.88 357.5L1378.88 359.9L1379.12 358.8L1379.12 333.6L1379.38 332.1L1379.38 348.4L1379.62 365.6L1379.62 355.7L1379.88 360.7L1379.88 360.7L1380.12 349.3L1380.12 349.3L1380.38 355.9L1380.38 366.4L1380.62 361.7L1380.62 329.9L1380.88 304.9L1380.88 306.5L1381.12 338.1L1381.12 316.7L1381.38 360.2L1381.38 365L1381.62 362.2L1381.62 355.2L1381.88 351.4L1381.88 351.4L1382.12 365.9L1382.12 355.5L1382.38 360.8L1382.38 361.8L1382.62 364.6L1382.62 352.1L1382.88 356.1L1382.88 357.1L1383.12 367.7L1383.12 358.5L1383.38 346L1383.38 365.6L1383.62 339.5L1383.62 339.5L1383.88 341.5L1383.88 342.8L1384.12 339.7L1384.12 337.3L1384.38 351.6L1384.38 361L1384.62 341.3L1384.62 332.2L1384.88 327.7L1384.88 329.7L1385.12 341.4L1385.12 335.5L1385.38 359.5L1385.38 359.5L1385.62 349.2L1385.62 327.6L1385.88 317.6L1385.88 322.1L1386.12 359.5L1386.12 342L1386.38 342L1386.38 342.2L1386.62 348.7L1386.62 347.8L1386.88 342.9L1386.88 356.5L1387.12 347.7L1387.12 347.7L1387.38 331.8L1387.38 334.5L1387.62 355.5L1387.62 347.2L1387.88 354.7L1387.88 363.8L1388.12 358.3L1388.12 351.7L1388.38 345.9L1388.38 350.6L1388.62 359.4L1388.62 352.2L1388.88 342.8L1388.88 342.8L1389.12 343.5L1389.12 337.2L1389.38 355.8L1389.38 359.4L1389.62 359.5L1389.62 358.8L1389.88 361.5L1389.88 361.6L1390.12 359.7L1390.12 338.9L1390.38 322.4L1390.38 325.7L1390.62 327.3L1390.62 327.3L1390.88 326L1390.88 326.5L1391.12 334.3L1391.12 331.5L1391.38 327.8L1391.38 331.7L1391.62 355.5L1391.62 339.2L1391.88 356.7L1391.88 363L1392.12 342.3L1392.12 338.8L1392.38 345.8L1392.38 345.8L1392.62 360.1L1392.62 356.7L1392.88 355.3L1392.88 363L1393.12 360.3L1393.12 345.3L1393.38 337.3L1393.38 346.8L1393.62 361.8L1393.62 358.8L1393.88 362.6L1393.88 362.9L1394.12 344.6L1394.12 344.6L1394.38 325.4L1394.38 330L1394.62 346.7L1394.62 333.7L1394.88 343.1L1394.88 348.1L1395.12 341.2L1395.12 335.4L1395.38 332.5L1395.38 345.2L1395.62 348.6L1395.62 337.2L1395.88 338.7L1395.88 338.7L1396.12 349.9L1396.12 347.2L1396.38 344.6L1396.38 345.6L1396.62 352.2L1396.62 344.6L1396.88 354L1396.88 359.3L1397.12 350.1L1397.12 349.2L1397.38 355.9L1397.38 360.1L1397.62 351.9L1397.62 351.9L1397.88 336L1397.88 340.6L1398.12 353.2L1398.12 341.1L1398.38 355.8L1398.38 365.7L1398.62 353.1L1398.62 352.6L1398.88 357.5L1398.88 359L1399.12 364.4L1399.12 350L1399.38 340.7L1399.38 340.7L1399.62 337.9L1399.62 337.5L1399.88 336L1399.88 340.1L1400.12 338.3L1400.12 333.1L1400.38 339.8L1400.38 344.5L1400.62 355.5L1400.62 350.6L1400.88 344.6L1400.88 346.2L1401.12 356.9L1401.12 356.9L1401.38 329.6L1401.38 345.1L1401.62 347.2L1401.62 330.4L1401.88 363.2L1401.88 364.9L1402.12 355.6L1402.12 351.4L1402.38 340.4L1402.38 348.7L1402.62 339.8L1402.62 334.2L1402.88 352.5L1402.88 366.9L1403.12 364.5L1403.12 364.5L1403.38 364L1403.38 367.9L1403.62 367.5L1403.62 362.3L1403.88 352L1403.88 360.1L1404.12 350.4L1404.12 349.7L1404.38 338.3L1404.38 345.3L1404.62 327.1L1404.62 318.4L1404.88 318.8L1404.88 318.8L1405.12 336.9L1405.12 323.8L1405.38 354.8L1405.38 358.1L1405.62 356.8L1405.62 345.4L1405.88 348.2L1405.88 355.4L1406.12 351.1L1406.12 338.2L1406.38 337.1L1406.38 356.1L1406.62 354.5L1406.62 354.5L1406.88 348.8L1406.88 349L1407.12 354.5L1407.12 350.5L1407.38 346.3L1407.38 349L1407.62 355.8L1407.62 350L1407.88 354L1407.88 363.8L1408.12 347.6L1408.12 346.5L1408.38 361.7L1408.38 361.7L1408.62 361.1L1408.62 356L1408.88 355.4L1408.88 356.9L1409.12 357.9L1409.12 351.1L1409.38 356.3L1409.38 361.5L1409.62 358.5L1409.62 354.3L1409.88 356.7L1409.88 361.9L1410.12 358.4L1410.12 358.4L1410.38 361.5L1410.38 365.7L1410.62 354.5L1410.62 353.9L1410.88 357.7L1410.88 365.7L1411.12 359.4L1411.12 352L1411.38 347.6L1411.38 353.6L1411.62 365.7L1411.62 358.4L1411.88 364.5L1411.88 364.5L1412.12 353L1412.12 341.1L1412.38 337.1L1412.38 346.1L1412.62 362L1412.62 360.6L1412.88 358.3L1412.88 363.8L1413.12 363.6L1413.12 359.7L1413.38 358.8L1413.38 367.3L1413.62 353.5L1413.62 353.5L1413.88 350.1L1413.88 357.4L1414.12 365.2L1414.12 356.1L1414.38 355.9L1414.38 363.8L1414.62 368.2L1414.62 368.1L1414.88 365L1414.88 366.6L1415.12 355.2L1415.12 347.9L1415.38 347.7L1415.38 347.7L1415.62 356.1L1415.62 353.8L1415.88 338.3L1415.88 348.7L1416.12 353L1416.12 340.8L1416.38 361.3L1416.38 365.5L1416.62 365.9L1416.62 363.2L1416.88 348.5L1416.88 359.9L1417.12 343.1L1417.12 343.1L1417.38 338.7L1417.38 341L1417.62 361.5L1417.62 355.5L1417.88 351.3L1417.88 358.4L1418.12 363L1418.12 362.1L1418.38 344.5L1418.38 358L1418.62 360.3L1418.62 345.3L1418.88 363.5L1418.88 363.5L1419.12 368.3L1419.12 361.6L1419.38 358.9L1419.38 367L1419.62 365.2L1419.62 358.6L1419.88 348.6L1419.88 351.6L1420.12 357.3L1420.12 351.9L1420.38 355.1L1420.38 367.7L1420.62 349.2L1420.62 349.2L1420.88 351.1L1420.88 361.6L1421.12 361.9L1421.12 361.5L1421.38 358.8L1421.38 364.9L1421.62 365.2L1421.62 360.2L1421.88 357.4L1421.88 362.1L1422.12 349.3L1422.12 338.5L1422.38 337.5L1422.38 337.5L1422.62 354.4L1422.62 345.4L1422.88 347.1L1422.88 356.2L1423.12 362.1L1423.12 361L1423.38 347.5L1423.38 360.2L1423.62 338.8L1423.62 334L1423.88 315.6L1423.88 324.8L1424.12 322L1424.12 322L1424.38 345.9L1424.38 361.4L1424.62 344L1424.62 332.1L1424.88 325.8L1424.88 327L1425.12 336.4L1425.12 330L1425.38 344.3L1425.38 355.8L1425.62 364.7L1425.62 364.3L1425.88 362L1425.88 362L1426.12 363.6L1426.12 354.6L1426.38 355.7L1426.38 366.2L1426.62 360L1426.62 356.9L1426.88 353.1L1426.88 357.3L1427.12 363L1427.12 357.8L1427.38 355.3L1427.38 359.3L1427.62 361.1L1427.62 361.1L1427.88 354.7L1427.88 356.8L1428.12 350.2L1428.12 341.5L1428.38 341L1428.38 351.7L1428.62 365.7L1428.62 364.1L1428.88 364.7L1428.88 365.8L1429.12 365.6L1429.12 360.3L1429.38 347.8L1429.38 347.8L1429.62 340.8L1429.62 335.9L1429.88 341L1429.88 361.3L1430.12 356.1L1430.12 350.3L1430.38 357.6L1430.38 364.9L1430.62 360.3L1430.62 347.5L1430.88 337.7L1430.88 343.2L1431.12 354L1431.12 354L1431.38 362L1431.38 364.9L1431.62 367.2L1431.62 366.9L1431.88 360.2L1431.88 366L1432.12 361.4L1432.12 359.7L1432.38 363.6L1432.38 364.8L1432.62 363L1432.62 360.9L1432.88 356.4L1432.88 356.4L1433.12 349L1433.12 344.5L1433.38 342.8L1433.38 348.2L1433.62 362.1L1433.62 352.9L1433.88 353.2L1433.88 365L1434.12 351.5L1434.12 349.9L1434.38 343.7L1434.38 353.8L1434.62 338.7L1434.62 338.7L1434.88 331.9L1434.88 333.3L1435.12 351.6L1435.12 348.1L1435.38 331.7L1435.38 342.1L1435.62 344.1L1435.62 332.7L1435.88 347.9L1435.88 356.2L1436.12 343.9L1436.12 333.4L1436.38 325.2L1436.38 325.2L1436.62 334.9L1436.62 325.9L1436.88 333.9L1436.88 358.3L1437.12 318.8L1437.12 314.9L1437.38 315.9L1437.38 316.7L1437.62 328.9L1437.62 320.6L1437.88 347.5L1437.88 349.3L1438.12 336.3L1438.12 336.3L1438.38 335.8L1438.38 346.1L1438.62 359.1L1438.62 357.1L1438.88 355.4L1438.88 360L1439.12 349.9L1439.12 339.6L1439.38 343.5L1439.38 362.9L1439.62 340.8L1439.62 335L1439.88 349.3L1439.88 349.3" stroke="#c44e52"/>
</g>
<g stroke="#fff" stroke-width="1.39">
<line x1="200" y1="684.5" x2="1440" y2="684.5"/>
<line x1="200" y1="628.5" x2="1440" y2="628.5"/>
<line x1="200" y1="572.5" x2="1440" y2="572.5"/>
<line x1="200" y1="516.5" x2="1440" y2="516.5"/>
<line x1="200" y1="460.5" x2="1440" y2="460.5"/>
<line x1="200" y1="404.5" x2="1440" y2="404.5"/>
<line x1="200" y1="348.5" x2="1440" y2="348.5"/>
<line x1="200" y1="292.5" x2="1440" y2="292.5"/>
<line x1="200" y1="236.5" x2="1440" y2="236.5"/>
<line x1="200" y1="180.5" x2="1440" y2="180.5"/>
<line x1="200" y1="124.5" x2="1440" y2="124.5"/>
</g>
<g clip-path="url(#ax)" fill="none" stroke-linejoin="round" stroke-linecap="round" stroke-width="2.08">
<line x1="992.2" y1="124.0" x2="992.2" y2="684.0" stroke="#000" stroke-opacity="0.5" stroke-linecap="butt"/>
<line x1="1000.8" y1="124.0" x2="1000.8" y2="684.0" stroke="#000" stroke-opacity="0.5" stroke-linecap="butt"/>
<path d="M200.0 566.0L208.6 666.0L217.2 681.3L225.8 683.0L234.4 683.2L243.1 682.8L251.7 682.9L260.3 683.7L268.9 684.0L277.5 684.0L286.1 684.0L294.7 684.0L303.3 684.0L311.9 684.0L320.6 684.0L329.2 684.0L337.8 684.0L346.4 684.0L355.0 684.0L363.6 684.0L372.2 684.0L380.8 684.0L389.4 684.0L398.1 684.0L406.7 684.0L415.3 684.0L423.9 684.0L432.5 684.0L441.1 684.0L449.7 684.0L458.3 684.0L466.9 684.0L475.6 684.0L484.2 684.0L492.8 684.0L501.4 684.0L510.0 684.0L518.6 684.0L527.2 684.0L535.8 684.0L544.4 684.0L553.1 684.0L561.7 684.0L570.3 684.0L578.9 684.0L587.5 684.0L596.1 684.0L604.7 684.0L613.3 684.0L621.9 684.0L630.6 684.0L639.2 684.0L647.8 684.0L656.4 684.0L665.0 684.0L673.6 684.0L682.2 684.0L690.8 684.0L699.4 684.0L708.1 684.0L716.7 684.0L725.3 684.0L733.9 684.0L742.5 684.0L751.1 684.0L759.7 684.0L768.3 684.0L776.9 684.0L785.6 684.0L794.2 684.0L802.8 684.0L811.4 684.0L820.0 684.0L828.6 684.0L837.2 684.0L845.8 684.0L854.4 684.0L863.1 684.0L871.7 684.0L880.3 684.0L888.9 684.0L897.5 684.0L906.1 684.0L914.7 684.0L923.3 684.0L931.9 684.0L940.6 684.0L949.2 684.0L957.8 684.0L966.4 684.0L975.0 683.2L983.6 674.5L992.2 422.0L1000.8 169.0L1009.4 272.5L1018.1 523.7L1026.7 597.0L1035.3 573.2L1043.9 461.5L1052.5 349.7L1061.1 238.0L1069.7 232.5L1078.3 340.0L1086.9 565.0L1095.6 667.0L1104.2 681.2L1112.8 683.5L1121.4 684.0L1130.0 684.0L1138.6 684.0L1147.2 684.0L1155.8 684.0L1164.4 684.0L1173.1 684.0L1181.7 684.0L1190.3 684.0L1198.9 684.0L1207.5 683.3L1216.1 682.3L1224.7 680.3L1233.3 679.0L1241.9 681.0L1250.6 682.3L1259.2 682.3L1267.8 680.5L1276.4 674.0L1285.0 666.5L1293.6 671.0L1302.2 678.5L1310.8 682.5L1319.4 683.6L1328.1 684.0L1336.7 684.0L1345.3 684.0L1353.9 684.0L1362.5 684.0L1371.1 684.0L1379.7 684.0L1388.3 684.0L1396.9 684.0L1405.6 684.0L1414.2 684.0L1422.8 684.0L1431.4 684.0" stroke="#55a868"/>
</g>
<rect x="200" y="96" width="1240" height="616" fill="none" stroke="#fff" stroke-width="1.74"/>
<g stroke="#262626" stroke-width="1.74">
<line x1="191.7" y1="683.0" x2="199.1" y2="683.0"/>
<line x1="191.7" y1="604.3" x2="199.1" y2="604.3"/>
<line x1="191.7" y1="525.6" x2="199.1" y2="525.6"/>
<line x1="191.7" y1="447.0" x2="199.1" y2="447.0"/>
<line x1="191.7" y1="368.3" x2="199.1" y2="368.3"/>
<line x1="191.7" y1="289.6" x2="199.1" y2="289.6"/>
<line x1="191.7" y1="211.0" x2="199.1" y2="211.0"/>
<line x1="191.7" y1="132.3" x2="199.1" y2="132.3"/>
<line x1="1440.9" y1="684.0" x2="1448.3" y2="684.0"/>
<line x1="1440.9" y1="628.0" x2="1448.3" y2="628.0"/>
<line x1="1440.9" y1="572.0" x2="1448.3" y2="572.0"/>
<line x1="1440.9" y1="516.0" x2="1448.3" y2="516.0"/>
<line x1="1440.9" y1="460.0" x2="1448.3" y2="460.0"/>
<line x1="1440.9" y1="404.0" x2="1448.3" y2="404.0"/>
<line x1="1440.9" y1="348.0" x2="1448.3" y2="348.0"/>
<line x1="1440.9" y1="292.0" x2="1448.3" y2="292.0"/>
<line x1="1440.9" y1="236.0" x2="1448.3" y2="236.0"/>
<line x1="1440.9" y1="180.0" x2="1448.3" y2="180.0"/>
<line x1="1440.9" y1="124.0" x2="1448.3" y2="124.0"/>
</g>
<g font-size="15.28" filter="url(#nl)">
<text x="186.8" y="688.6" text-anchor="end">−4</text>
<text x="186.8" y="609.9" text-anchor="end">−3</text>
<text x="186.8" y="531.2" text-anchor="end">−2</text>
<text x="186.8" y="452.6" text-anchor="end">−1</text>
<text x="186.8" y="373.9" text-anchor="end">0</text>
<text x="186.8" y="295.2" text-anchor="end">1</text>
<text x="186.8" y="216.6" text-anchor="end">2</text>
<text x="186.8" y="137.9" text-anchor="end">3</text>
<text x="1453.2" y="689.6">0.0</text>
<text x="1453.2" y="633.6">0.1</text>
<text x="1453.2" y="577.6">0.2</text>
<text x="1453.2" y="521.6">0.3</text>
<text x="1453.2" y="465.6">0.4</text>
<text x="1453.2" y="409.6">0.5</text>
<text x="1453.2" y="353.6">0.6</text>
<text x="1453.2" y="297.6">0.7</text>
<text x="1453.2" y="241.6">0.8</text>
<text x="1453.2" y="185.6">0.9</text>
<text x="1453.2" y="129.6">1.0</text>
<text x="200.0" y="736.6" text-anchor="middle">0.0</text>
<text x="268.9" y="736.6" text-anchor="middle">0.5</text>
<text x="337.8" y="736.6" text-anchor="middle">1.0</text>
<text x="406.7" y="736.6" text-anchor="middle">1.5</text>
<text x="475.6" y="736.6" text-anchor="middle">2.0</text>
<text x="544.4" y="736.6" text-anchor="middle">2.5</text>
<text x="613.3" y="736.6" text-anchor="middle">3.0</text>
<text x="682.2" y="736.6" text-anchor="middle">3.5</text>
<text x="751.1" y="736.6" text-anchor="middle">4.0</text>
<text x="820.0" y="736.6" text-anchor="middle">4.5</text>
<text x="888.9" y="736.6" text-anchor="middle">5.0</text>
<text x="957.8" y="736.6" text-anchor="middle">5.5</text>
<text x="1026.7" y="736.6" text-anchor="middle">6.0</text>
<text x="1095.6" y="736.6" text-anchor="middle">6.5</text>
<text x="1164.4" y="736.6" text-anchor="middle">7.0</text>
<text x="1233.3" y="736.6" text-anchor="middle">7.5</text>
<text x="1302.2" y="736.6" text-anchor="middle">8.0</text>
<text x="1371.1" y="736.6" text-anchor="middle">8.5</text>
</g>
<g font-size="16.67" filter="url(#nl)">
<text x="820.7" y="87.6" text-anchor="middle">stats at each timestep for test data 9898 [signal=1]</text>
<text x="820" y="759.6" text-anchor="middle">Time (s)</text>
<text transform="translate(153.9 405) rotate(-90)" text-anchor="middle">Whitened strain</text>
<text transform="translate(1495.8 405) rotate(-90)" text-anchor="middle">Detection probability/MF</text>
</g>
<g font-size="20.83" filter="url(#nl)">
<text x="228.1" y="124.2">SNR_opt=1.57</text>
<text x="559.0" y="124.2"><tspan font-style="italic">SNR</tspan><tspan font-style="italic" font-size="14.58" dy="3.4">M</tspan><tspan font-style="italic" dy="-3.4">F</tspan>=[4.47]</text>
<text x="972.6" y="124.2"><tspan font-style="italic">S</tspan>=0.0</text>
<text x="1110.2" y="124.2"><tspan font-style="italic">M</tspan><tspan font-style="italic" font-size="14.58" dy="3.4">c</tspan><tspan dy="-3.4">=7.14</tspan></text>
</g>
<rect x="320.5" y="625.5" width="174" height="95" rx="3.5" fill="#eaeaf2" fill-opacity="0.8" stroke="#ccc" stroke-opacity="0.8" stroke-width="1.39"/>
<g stroke-width="2.08" stroke-linecap="butt">
<line x1="326" y1="637.8" x2="356.8" y2="637.8" stroke="#4c72b0" stroke-opacity="0.5" stroke-linecap="round"/>
<line x1="326" y1="660.1" x2="356.8" y2="660.1" stroke="#dd8452" stroke-opacity="0.5" stroke-linecap="round"/>
<line x1="326" y1="683.0" x2="356.8" y2="683.0" stroke="#c44e52" stroke-opacity="1" stroke-linecap="round"/>
<line x1="326" y1="705.9" x2="356.8" y2="705.9" stroke="#55a868" stroke-opacity="1" stroke-linecap="round"/>
</g>
<g font-size="15.28" filter="url(#nl)">
<text x="369.2" y="642.8">signal+ noise</text>
<text x="369.2" y="665.1">signal only</text>
<text x="369.2" y="688.0">MF</text>
<text x="369.2" y="710.9">signal statistics</text>
</g>
</svg></body></html>
